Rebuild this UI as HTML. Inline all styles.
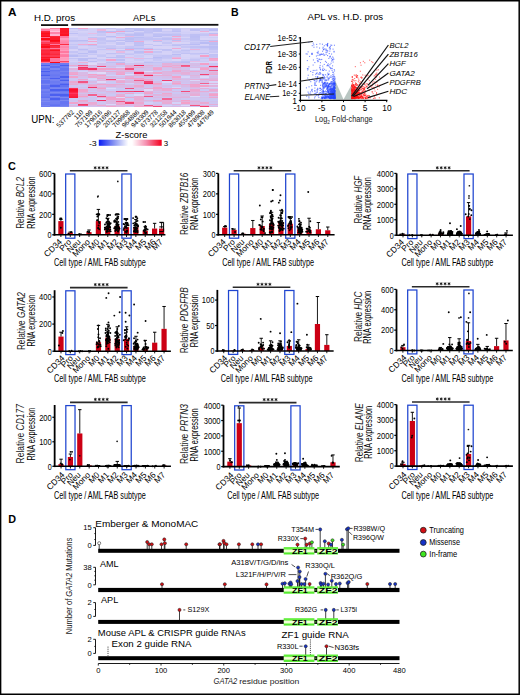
<!DOCTYPE html>
<html><head><meta charset="utf-8"><style>
html,body{margin:0;padding:0;background:#fff;}
svg{display:block;font-family:"Liberation Sans",sans-serif;}
</style></head><body>
<svg width="520" height="695" viewBox="0 0 520 695">
<rect x="0" y="0" width="520" height="695" fill="#fff"/>
<text x="8.10" y="16.30" font-size="11.8" font-weight="bold" fill="#000">A</text>
<text x="231.10" y="15.90" font-size="10.6" font-weight="bold" fill="#000">B</text>
<text x="8.10" y="170.00" font-size="10.9" font-weight="bold" fill="#000">C</text>
<text x="8.30" y="523.00" font-size="10.8" font-weight="bold" fill="#000">D</text>
<g shape-rendering="crispEdges">
<rect x="40.90" y="27.90" width="9.38" height="1.36" fill="#ffbfd4"/>
<rect x="50.23" y="27.90" width="9.38" height="1.36" fill="#ff7da4"/>
<rect x="59.56" y="27.90" width="9.38" height="1.36" fill="#fc1423"/>
<rect x="68.89" y="27.90" width="9.38" height="1.36" fill="#babdf4"/>
<rect x="78.22" y="27.90" width="9.38" height="1.36" fill="#f2a2ca"/>
<rect x="87.55" y="27.90" width="9.38" height="1.36" fill="#d4d1f7"/>
<rect x="96.88" y="27.90" width="9.38" height="1.36" fill="#cdccf6"/>
<rect x="106.21" y="27.90" width="9.38" height="1.36" fill="#c6c6f5"/>
<rect x="115.54" y="27.90" width="9.38" height="1.36" fill="#d5d2f7"/>
<rect x="124.87" y="27.90" width="9.38" height="1.36" fill="#bcbff4"/>
<rect x="134.20" y="27.90" width="9.38" height="1.36" fill="#bec0f4"/>
<rect x="143.53" y="27.90" width="9.38" height="1.36" fill="#c5c5f5"/>
<rect x="152.86" y="27.90" width="9.38" height="1.36" fill="#babdf4"/>
<rect x="162.19" y="27.90" width="9.38" height="1.36" fill="#c7c7f5"/>
<rect x="171.52" y="27.90" width="9.38" height="1.36" fill="#c7c7f5"/>
<rect x="180.85" y="27.90" width="9.38" height="1.36" fill="#d0cef6"/>
<rect x="190.18" y="27.90" width="9.38" height="1.36" fill="#cac9f6"/>
<rect x="199.51" y="27.90" width="9.38" height="1.36" fill="#c2c3f5"/>
<rect x="208.84" y="27.90" width="9.38" height="1.36" fill="#c6c6f5"/>
<rect x="40.90" y="29.21" width="9.38" height="1.36" fill="#ff7ca3"/>
<rect x="50.23" y="29.21" width="9.38" height="1.36" fill="#ffadcb"/>
<rect x="59.56" y="29.21" width="9.38" height="1.36" fill="#fc1929"/>
<rect x="68.89" y="29.21" width="9.38" height="1.36" fill="#d5d2f7"/>
<rect x="78.22" y="29.21" width="9.38" height="1.36" fill="#cccbf6"/>
<rect x="87.55" y="29.21" width="9.38" height="1.36" fill="#d4d1f7"/>
<rect x="96.88" y="29.21" width="9.38" height="1.36" fill="#eab5dd"/>
<rect x="106.21" y="29.21" width="9.38" height="1.36" fill="#d9d5f7"/>
<rect x="115.54" y="29.21" width="9.38" height="1.36" fill="#c5c6f5"/>
<rect x="124.87" y="29.21" width="9.38" height="1.36" fill="#c8c8f5"/>
<rect x="134.20" y="29.21" width="9.38" height="1.36" fill="#babdf4"/>
<rect x="143.53" y="29.21" width="9.38" height="1.36" fill="#c1c2f4"/>
<rect x="152.86" y="29.21" width="9.38" height="1.36" fill="#bbbef4"/>
<rect x="162.19" y="29.21" width="9.38" height="1.36" fill="#d6d2f7"/>
<rect x="171.52" y="29.21" width="9.38" height="1.36" fill="#c2c3f5"/>
<rect x="180.85" y="29.21" width="9.38" height="1.36" fill="#d6d2f7"/>
<rect x="190.18" y="29.21" width="9.38" height="1.36" fill="#bec0f4"/>
<rect x="199.51" y="29.21" width="9.38" height="1.36" fill="#c9c8f5"/>
<rect x="208.84" y="29.21" width="9.38" height="1.36" fill="#b9bcf4"/>
<rect x="40.90" y="30.51" width="9.38" height="1.36" fill="#fc273b"/>
<rect x="50.23" y="30.51" width="9.38" height="1.36" fill="#ffc4dd"/>
<rect x="59.56" y="30.51" width="9.38" height="1.36" fill="#fc1727"/>
<rect x="68.89" y="30.51" width="9.38" height="1.36" fill="#cdccf6"/>
<rect x="78.22" y="30.51" width="9.38" height="1.36" fill="#d6d3f7"/>
<rect x="87.55" y="30.51" width="9.38" height="1.36" fill="#d3d0f7"/>
<rect x="96.88" y="30.51" width="9.38" height="1.36" fill="#bcbef4"/>
<rect x="106.21" y="30.51" width="9.38" height="1.36" fill="#bbbdf4"/>
<rect x="115.54" y="30.51" width="9.38" height="1.36" fill="#f3a0c8"/>
<rect x="124.87" y="30.51" width="9.38" height="1.36" fill="#bcbef4"/>
<rect x="134.20" y="30.51" width="9.38" height="1.36" fill="#d5d2f7"/>
<rect x="143.53" y="30.51" width="9.38" height="1.36" fill="#c1c2f5"/>
<rect x="152.86" y="30.51" width="9.38" height="1.36" fill="#bdbff4"/>
<rect x="162.19" y="30.51" width="9.38" height="1.36" fill="#c8c8f5"/>
<rect x="171.52" y="30.51" width="9.38" height="1.36" fill="#bcbef4"/>
<rect x="180.85" y="30.51" width="9.38" height="1.36" fill="#d4d1f7"/>
<rect x="190.18" y="30.51" width="9.38" height="1.36" fill="#d8d4f7"/>
<rect x="199.51" y="30.51" width="9.38" height="1.36" fill="#ecafd7"/>
<rect x="208.84" y="30.51" width="9.38" height="1.36" fill="#d5d2f7"/>
<rect x="40.90" y="31.82" width="9.38" height="1.36" fill="#fc1c2d"/>
<rect x="50.23" y="31.82" width="9.38" height="1.36" fill="#ff85aa"/>
<rect x="59.56" y="31.82" width="9.38" height="1.36" fill="#fc1929"/>
<rect x="68.89" y="31.82" width="9.38" height="1.36" fill="#d2d0f7"/>
<rect x="78.22" y="31.82" width="9.38" height="1.36" fill="#d3d1f7"/>
<rect x="87.55" y="31.82" width="9.38" height="1.36" fill="#d3d0f7"/>
<rect x="96.88" y="31.82" width="9.38" height="1.36" fill="#c0c1f4"/>
<rect x="106.21" y="31.82" width="9.38" height="1.36" fill="#f0a8d0"/>
<rect x="115.54" y="31.82" width="9.38" height="1.36" fill="#cfcef6"/>
<rect x="124.87" y="31.82" width="9.38" height="1.36" fill="#d7d4f7"/>
<rect x="134.20" y="31.82" width="9.38" height="1.36" fill="#c5c5f5"/>
<rect x="143.53" y="31.82" width="9.38" height="1.36" fill="#bfc1f4"/>
<rect x="152.86" y="31.82" width="9.38" height="1.36" fill="#d6d3f7"/>
<rect x="162.19" y="31.82" width="9.38" height="1.36" fill="#ceccf6"/>
<rect x="171.52" y="31.82" width="9.38" height="1.36" fill="#cecdf6"/>
<rect x="180.85" y="31.82" width="9.38" height="1.36" fill="#d1cff7"/>
<rect x="190.18" y="31.82" width="9.38" height="1.36" fill="#d3d0f7"/>
<rect x="199.51" y="31.82" width="9.38" height="1.36" fill="#d9d5f7"/>
<rect x="208.84" y="31.82" width="9.38" height="1.36" fill="#d8d4f7"/>
<rect x="40.90" y="33.13" width="9.38" height="1.36" fill="#fc0f1c"/>
<rect x="50.23" y="33.13" width="9.38" height="1.36" fill="#ff84a9"/>
<rect x="59.56" y="33.13" width="9.38" height="1.36" fill="#fc1c2d"/>
<rect x="68.89" y="33.13" width="9.38" height="1.36" fill="#bdbff4"/>
<rect x="78.22" y="33.13" width="9.38" height="1.36" fill="#cecdf6"/>
<rect x="87.55" y="33.13" width="9.38" height="1.36" fill="#e6bde5"/>
<rect x="96.88" y="33.13" width="9.38" height="1.36" fill="#cac9f6"/>
<rect x="106.21" y="33.13" width="9.38" height="1.36" fill="#d5d2f7"/>
<rect x="115.54" y="33.13" width="9.38" height="1.36" fill="#c1c2f5"/>
<rect x="124.87" y="33.13" width="9.38" height="1.36" fill="#cccbf6"/>
<rect x="134.20" y="33.13" width="9.38" height="1.36" fill="#bdbff4"/>
<rect x="143.53" y="33.13" width="9.38" height="1.36" fill="#c8c7f5"/>
<rect x="152.86" y="33.13" width="9.38" height="1.36" fill="#c6c6f5"/>
<rect x="162.19" y="33.13" width="9.38" height="1.36" fill="#cac9f6"/>
<rect x="171.52" y="33.13" width="9.38" height="1.36" fill="#c7c7f5"/>
<rect x="180.85" y="33.13" width="9.38" height="1.36" fill="#d3d0f7"/>
<rect x="190.18" y="33.13" width="9.38" height="1.36" fill="#d0cef6"/>
<rect x="199.51" y="33.13" width="9.38" height="1.36" fill="#cac9f6"/>
<rect x="208.84" y="33.13" width="9.38" height="1.36" fill="#bcbef4"/>
<rect x="40.90" y="34.44" width="9.38" height="1.36" fill="#fc1727"/>
<rect x="50.23" y="34.44" width="9.38" height="1.36" fill="#ffb5d2"/>
<rect x="59.56" y="34.44" width="9.38" height="1.36" fill="#fc1322"/>
<rect x="68.89" y="34.44" width="9.38" height="1.36" fill="#d2cff7"/>
<rect x="78.22" y="34.44" width="9.38" height="1.36" fill="#cdcbf6"/>
<rect x="87.55" y="34.44" width="9.38" height="1.36" fill="#cfcef6"/>
<rect x="96.88" y="34.44" width="9.38" height="1.36" fill="#c8c8f5"/>
<rect x="106.21" y="34.44" width="9.38" height="1.36" fill="#d5d2f7"/>
<rect x="115.54" y="34.44" width="9.38" height="1.36" fill="#cbcaf6"/>
<rect x="124.87" y="34.44" width="9.38" height="1.36" fill="#bdbff4"/>
<rect x="134.20" y="34.44" width="9.38" height="1.36" fill="#bbbdf4"/>
<rect x="143.53" y="34.44" width="9.38" height="1.36" fill="#cfcdf6"/>
<rect x="152.86" y="34.44" width="9.38" height="1.36" fill="#bec0f4"/>
<rect x="162.19" y="34.44" width="9.38" height="1.36" fill="#bdbff4"/>
<rect x="171.52" y="34.44" width="9.38" height="1.36" fill="#c0c1f4"/>
<rect x="180.85" y="34.44" width="9.38" height="1.36" fill="#c9c8f5"/>
<rect x="190.18" y="34.44" width="9.38" height="1.36" fill="#bec0f4"/>
<rect x="199.51" y="34.44" width="9.38" height="1.36" fill="#c4c4f5"/>
<rect x="208.84" y="34.44" width="9.38" height="1.36" fill="#ecb0d8"/>
<rect x="40.90" y="35.74" width="9.38" height="1.36" fill="#fc0915"/>
<rect x="50.23" y="35.74" width="9.38" height="1.36" fill="#fc273b"/>
<rect x="59.56" y="35.74" width="9.38" height="1.36" fill="#ff7aa2"/>
<rect x="68.89" y="35.74" width="9.38" height="1.36" fill="#d9d5f7"/>
<rect x="78.22" y="35.74" width="9.38" height="1.36" fill="#d2d0f7"/>
<rect x="87.55" y="35.74" width="9.38" height="1.36" fill="#d7d3f7"/>
<rect x="96.88" y="35.74" width="9.38" height="1.36" fill="#d7d3f7"/>
<rect x="106.21" y="35.74" width="9.38" height="1.36" fill="#babdf4"/>
<rect x="115.54" y="35.74" width="9.38" height="1.36" fill="#d7d4f7"/>
<rect x="124.87" y="35.74" width="9.38" height="1.36" fill="#e7b9e1"/>
<rect x="134.20" y="35.74" width="9.38" height="1.36" fill="#cbcaf6"/>
<rect x="143.53" y="35.74" width="9.38" height="1.36" fill="#cac9f6"/>
<rect x="152.86" y="35.74" width="9.38" height="1.36" fill="#babdf4"/>
<rect x="162.19" y="35.74" width="9.38" height="1.36" fill="#d2cff7"/>
<rect x="171.52" y="35.74" width="9.38" height="1.36" fill="#f0a7cf"/>
<rect x="180.85" y="35.74" width="9.38" height="1.36" fill="#cbcaf6"/>
<rect x="190.18" y="35.74" width="9.38" height="1.36" fill="#bcbef4"/>
<rect x="199.51" y="35.74" width="9.38" height="1.36" fill="#d4d1f7"/>
<rect x="208.84" y="35.74" width="9.38" height="1.36" fill="#d9d5f7"/>
<rect x="40.90" y="37.05" width="9.38" height="1.36" fill="#fe6a8f"/>
<rect x="50.23" y="37.05" width="9.38" height="1.36" fill="#fc1c2d"/>
<rect x="59.56" y="37.05" width="9.38" height="1.36" fill="#ff7aa1"/>
<rect x="68.89" y="37.05" width="9.38" height="1.36" fill="#d1cff6"/>
<rect x="78.22" y="37.05" width="9.38" height="1.36" fill="#d4d1f7"/>
<rect x="87.55" y="37.05" width="9.38" height="1.36" fill="#c0c2f4"/>
<rect x="96.88" y="37.05" width="9.38" height="1.36" fill="#c7c7f5"/>
<rect x="106.21" y="37.05" width="9.38" height="1.36" fill="#cbcaf6"/>
<rect x="115.54" y="37.05" width="9.38" height="1.36" fill="#eeabd3"/>
<rect x="124.87" y="37.05" width="9.38" height="1.36" fill="#bfc1f4"/>
<rect x="134.20" y="37.05" width="9.38" height="1.36" fill="#bbbef4"/>
<rect x="143.53" y="37.05" width="9.38" height="1.36" fill="#c3c3f5"/>
<rect x="152.86" y="37.05" width="9.38" height="1.36" fill="#d1cff7"/>
<rect x="162.19" y="37.05" width="9.38" height="1.36" fill="#c5c6f5"/>
<rect x="171.52" y="37.05" width="9.38" height="1.36" fill="#d0cef6"/>
<rect x="180.85" y="37.05" width="9.38" height="1.36" fill="#d6d3f7"/>
<rect x="190.18" y="37.05" width="9.38" height="1.36" fill="#bdbff4"/>
<rect x="199.51" y="37.05" width="9.38" height="1.36" fill="#d3d0f7"/>
<rect x="208.84" y="37.05" width="9.38" height="1.36" fill="#cfcdf6"/>
<rect x="40.90" y="38.36" width="9.38" height="1.36" fill="#fc0916"/>
<rect x="50.23" y="38.36" width="9.38" height="1.36" fill="#fc1a2a"/>
<rect x="59.56" y="38.36" width="9.38" height="1.36" fill="#ff9cbe"/>
<rect x="68.89" y="38.36" width="9.38" height="1.36" fill="#cdccf6"/>
<rect x="78.22" y="38.36" width="9.38" height="1.36" fill="#d3d0f7"/>
<rect x="87.55" y="38.36" width="9.38" height="1.36" fill="#e9b6de"/>
<rect x="96.88" y="38.36" width="9.38" height="1.36" fill="#c1c2f5"/>
<rect x="106.21" y="38.36" width="9.38" height="1.36" fill="#d9d5f7"/>
<rect x="115.54" y="38.36" width="9.38" height="1.36" fill="#cfcdf6"/>
<rect x="124.87" y="38.36" width="9.38" height="1.36" fill="#bbbef4"/>
<rect x="134.20" y="38.36" width="9.38" height="1.36" fill="#c3c3f5"/>
<rect x="143.53" y="38.36" width="9.38" height="1.36" fill="#c1c2f5"/>
<rect x="152.86" y="38.36" width="9.38" height="1.36" fill="#c2c3f5"/>
<rect x="162.19" y="38.36" width="9.38" height="1.36" fill="#bcbff4"/>
<rect x="171.52" y="38.36" width="9.38" height="1.36" fill="#edadd5"/>
<rect x="180.85" y="38.36" width="9.38" height="1.36" fill="#c7c7f5"/>
<rect x="190.18" y="38.36" width="9.38" height="1.36" fill="#bfc1f4"/>
<rect x="199.51" y="38.36" width="9.38" height="1.36" fill="#d8d4f7"/>
<rect x="208.84" y="38.36" width="9.38" height="1.36" fill="#d6d3f7"/>
<rect x="40.90" y="39.67" width="9.38" height="1.36" fill="#fd3a52"/>
<rect x="50.23" y="39.67" width="9.38" height="1.36" fill="#fc0915"/>
<rect x="59.56" y="39.67" width="9.38" height="1.36" fill="#ff8db1"/>
<rect x="68.89" y="39.67" width="9.38" height="1.36" fill="#bdbff4"/>
<rect x="78.22" y="39.67" width="9.38" height="1.36" fill="#b9bcf4"/>
<rect x="87.55" y="39.67" width="9.38" height="1.36" fill="#d7d4f7"/>
<rect x="96.88" y="39.67" width="9.38" height="1.36" fill="#c5c5f5"/>
<rect x="106.21" y="39.67" width="9.38" height="1.36" fill="#c4c5f5"/>
<rect x="115.54" y="39.67" width="9.38" height="1.36" fill="#bcbef4"/>
<rect x="124.87" y="39.67" width="9.38" height="1.36" fill="#c1c2f4"/>
<rect x="134.20" y="39.67" width="9.38" height="1.36" fill="#c5c5f5"/>
<rect x="143.53" y="39.67" width="9.38" height="1.36" fill="#cdccf6"/>
<rect x="152.86" y="39.67" width="9.38" height="1.36" fill="#e9b5dd"/>
<rect x="162.19" y="39.67" width="9.38" height="1.36" fill="#ceccf6"/>
<rect x="171.52" y="39.67" width="9.38" height="1.36" fill="#bdbff4"/>
<rect x="180.85" y="39.67" width="9.38" height="1.36" fill="#d1cff6"/>
<rect x="190.18" y="39.67" width="9.38" height="1.36" fill="#c2c3f5"/>
<rect x="199.51" y="39.67" width="9.38" height="1.36" fill="#bec0f4"/>
<rect x="208.84" y="39.67" width="9.38" height="1.36" fill="#c0c1f4"/>
<rect x="40.90" y="40.97" width="9.38" height="1.36" fill="#fe5f81"/>
<rect x="50.23" y="40.97" width="9.38" height="1.36" fill="#fc1120"/>
<rect x="59.56" y="40.97" width="9.38" height="1.36" fill="#ff87ac"/>
<rect x="68.89" y="40.97" width="9.38" height="1.36" fill="#c1c2f5"/>
<rect x="78.22" y="40.97" width="9.38" height="1.36" fill="#c6c6f5"/>
<rect x="87.55" y="40.97" width="9.38" height="1.36" fill="#f0a8d0"/>
<rect x="96.88" y="40.97" width="9.38" height="1.36" fill="#c9c9f6"/>
<rect x="106.21" y="40.97" width="9.38" height="1.36" fill="#c1c3f5"/>
<rect x="115.54" y="40.97" width="9.38" height="1.36" fill="#d8d4f7"/>
<rect x="124.87" y="40.97" width="9.38" height="1.36" fill="#babcf4"/>
<rect x="134.20" y="40.97" width="9.38" height="1.36" fill="#eeabd3"/>
<rect x="143.53" y="40.97" width="9.38" height="1.36" fill="#d5d2f7"/>
<rect x="152.86" y="40.97" width="9.38" height="1.36" fill="#bec0f4"/>
<rect x="162.19" y="40.97" width="9.38" height="1.36" fill="#d0cef6"/>
<rect x="171.52" y="40.97" width="9.38" height="1.36" fill="#e9b7df"/>
<rect x="180.85" y="40.97" width="9.38" height="1.36" fill="#ceccf6"/>
<rect x="190.18" y="40.97" width="9.38" height="1.36" fill="#cdccf6"/>
<rect x="199.51" y="40.97" width="9.38" height="1.36" fill="#cac9f6"/>
<rect x="208.84" y="40.97" width="9.38" height="1.36" fill="#efa9d1"/>
<rect x="40.90" y="42.28" width="9.38" height="1.36" fill="#fd3d57"/>
<rect x="50.23" y="42.28" width="9.38" height="1.36" fill="#fd344b"/>
<rect x="59.56" y="42.28" width="9.38" height="1.36" fill="#ff82a8"/>
<rect x="68.89" y="42.28" width="9.38" height="1.36" fill="#d0cef6"/>
<rect x="78.22" y="42.28" width="9.38" height="1.36" fill="#cfcdf6"/>
<rect x="87.55" y="42.28" width="9.38" height="1.36" fill="#d7d4f7"/>
<rect x="96.88" y="42.28" width="9.38" height="1.36" fill="#c6c6f5"/>
<rect x="106.21" y="42.28" width="9.38" height="1.36" fill="#d1cff6"/>
<rect x="115.54" y="42.28" width="9.38" height="1.36" fill="#c3c4f5"/>
<rect x="124.87" y="42.28" width="9.38" height="1.36" fill="#d2cff7"/>
<rect x="134.20" y="42.28" width="9.38" height="1.36" fill="#bfc0f4"/>
<rect x="143.53" y="42.28" width="9.38" height="1.36" fill="#d8d4f7"/>
<rect x="152.86" y="42.28" width="9.38" height="1.36" fill="#d9d5f7"/>
<rect x="162.19" y="42.28" width="9.38" height="1.36" fill="#c5c6f5"/>
<rect x="171.52" y="42.28" width="9.38" height="1.36" fill="#d9d5f7"/>
<rect x="180.85" y="42.28" width="9.38" height="1.36" fill="#d7d4f7"/>
<rect x="190.18" y="42.28" width="9.38" height="1.36" fill="#c5c5f5"/>
<rect x="199.51" y="42.28" width="9.38" height="1.36" fill="#b9bcf4"/>
<rect x="208.84" y="42.28" width="9.38" height="1.36" fill="#bdbff4"/>
<rect x="40.90" y="43.59" width="9.38" height="1.36" fill="#fc1b2c"/>
<rect x="50.23" y="43.59" width="9.38" height="1.36" fill="#ff78a0"/>
<rect x="59.56" y="43.59" width="9.38" height="1.36" fill="#fd2e43"/>
<rect x="68.89" y="43.59" width="9.38" height="1.36" fill="#c5c5f5"/>
<rect x="78.22" y="43.59" width="9.38" height="1.36" fill="#eeacd4"/>
<rect x="87.55" y="43.59" width="9.38" height="1.36" fill="#f3a1c9"/>
<rect x="96.88" y="43.59" width="9.38" height="1.36" fill="#d1cff6"/>
<rect x="106.21" y="43.59" width="9.38" height="1.36" fill="#d8d4f7"/>
<rect x="115.54" y="43.59" width="9.38" height="1.36" fill="#c3c4f5"/>
<rect x="124.87" y="43.59" width="9.38" height="1.36" fill="#d7d3f7"/>
<rect x="134.20" y="43.59" width="9.38" height="1.36" fill="#c0c2f4"/>
<rect x="143.53" y="43.59" width="9.38" height="1.36" fill="#c5c6f5"/>
<rect x="152.86" y="43.59" width="9.38" height="1.36" fill="#d7d4f7"/>
<rect x="162.19" y="43.59" width="9.38" height="1.36" fill="#d4d1f7"/>
<rect x="171.52" y="43.59" width="9.38" height="1.36" fill="#c3c4f5"/>
<rect x="180.85" y="43.59" width="9.38" height="1.36" fill="#bfc1f4"/>
<rect x="190.18" y="43.59" width="9.38" height="1.36" fill="#babcf4"/>
<rect x="199.51" y="43.59" width="9.38" height="1.36" fill="#d6d2f7"/>
<rect x="208.84" y="43.59" width="9.38" height="1.36" fill="#bcbef4"/>
<rect x="40.90" y="44.90" width="9.38" height="1.36" fill="#fc2133"/>
<rect x="50.23" y="44.90" width="9.38" height="1.36" fill="#fc1d2e"/>
<rect x="59.56" y="44.90" width="9.38" height="1.36" fill="#ff95b8"/>
<rect x="68.89" y="44.90" width="9.38" height="1.36" fill="#cecdf6"/>
<rect x="78.22" y="44.90" width="9.38" height="1.36" fill="#cbcaf6"/>
<rect x="87.55" y="44.90" width="9.38" height="1.36" fill="#c1c2f4"/>
<rect x="96.88" y="44.90" width="9.38" height="1.36" fill="#cccbf6"/>
<rect x="106.21" y="44.90" width="9.38" height="1.36" fill="#c9c9f6"/>
<rect x="115.54" y="44.90" width="9.38" height="1.36" fill="#d9d5f7"/>
<rect x="124.87" y="44.90" width="9.38" height="1.36" fill="#d4d1f7"/>
<rect x="134.20" y="44.90" width="9.38" height="1.36" fill="#bcbff4"/>
<rect x="143.53" y="44.90" width="9.38" height="1.36" fill="#d7d4f7"/>
<rect x="152.86" y="44.90" width="9.38" height="1.36" fill="#c1c2f5"/>
<rect x="162.19" y="44.90" width="9.38" height="1.36" fill="#cccbf6"/>
<rect x="171.52" y="44.90" width="9.38" height="1.36" fill="#bdbff4"/>
<rect x="180.85" y="44.90" width="9.38" height="1.36" fill="#ceccf6"/>
<rect x="190.18" y="44.90" width="9.38" height="1.36" fill="#cfcdf6"/>
<rect x="199.51" y="44.90" width="9.38" height="1.36" fill="#d3d0f7"/>
<rect x="208.84" y="44.90" width="9.38" height="1.36" fill="#c6c6f5"/>
<rect x="40.90" y="46.20" width="9.38" height="1.36" fill="#fc0d1a"/>
<rect x="50.23" y="46.20" width="9.38" height="1.36" fill="#fc2b3f"/>
<rect x="59.56" y="46.20" width="9.38" height="1.36" fill="#ff84aa"/>
<rect x="68.89" y="46.20" width="9.38" height="1.36" fill="#c3c4f5"/>
<rect x="78.22" y="46.20" width="9.38" height="1.36" fill="#d5d2f7"/>
<rect x="87.55" y="46.20" width="9.38" height="1.36" fill="#d1cef6"/>
<rect x="96.88" y="46.20" width="9.38" height="1.36" fill="#c6c7f5"/>
<rect x="106.21" y="46.20" width="9.38" height="1.36" fill="#c8c7f5"/>
<rect x="115.54" y="46.20" width="9.38" height="1.36" fill="#ceccf6"/>
<rect x="124.87" y="46.20" width="9.38" height="1.36" fill="#c5c5f5"/>
<rect x="134.20" y="46.20" width="9.38" height="1.36" fill="#cac9f6"/>
<rect x="143.53" y="46.20" width="9.38" height="1.36" fill="#d3d0f7"/>
<rect x="152.86" y="46.20" width="9.38" height="1.36" fill="#d8d4f7"/>
<rect x="162.19" y="46.20" width="9.38" height="1.36" fill="#d7d4f7"/>
<rect x="171.52" y="46.20" width="9.38" height="1.36" fill="#d4d1f7"/>
<rect x="180.85" y="46.20" width="9.38" height="1.36" fill="#c6c6f5"/>
<rect x="190.18" y="46.20" width="9.38" height="1.36" fill="#c0c1f4"/>
<rect x="199.51" y="46.20" width="9.38" height="1.36" fill="#bdbff4"/>
<rect x="208.84" y="46.20" width="9.38" height="1.36" fill="#babdf4"/>
<rect x="40.90" y="47.51" width="9.38" height="1.36" fill="#fd4c6a"/>
<rect x="50.23" y="47.51" width="9.38" height="1.36" fill="#ff78a0"/>
<rect x="59.56" y="47.51" width="9.38" height="1.36" fill="#ff92b5"/>
<rect x="68.89" y="47.51" width="9.38" height="1.36" fill="#c3c3f5"/>
<rect x="78.22" y="47.51" width="9.38" height="1.36" fill="#cecdf6"/>
<rect x="87.55" y="47.51" width="9.38" height="1.36" fill="#cdccf6"/>
<rect x="96.88" y="47.51" width="9.38" height="1.36" fill="#d2d0f7"/>
<rect x="106.21" y="47.51" width="9.38" height="1.36" fill="#bcbef4"/>
<rect x="115.54" y="47.51" width="9.38" height="1.36" fill="#c7c7f5"/>
<rect x="124.87" y="47.51" width="9.38" height="1.36" fill="#bbbef4"/>
<rect x="134.20" y="47.51" width="9.38" height="1.36" fill="#babdf4"/>
<rect x="143.53" y="47.51" width="9.38" height="1.36" fill="#bdbff4"/>
<rect x="152.86" y="47.51" width="9.38" height="1.36" fill="#d3d1f7"/>
<rect x="162.19" y="47.51" width="9.38" height="1.36" fill="#d8d4f7"/>
<rect x="171.52" y="47.51" width="9.38" height="1.36" fill="#efaad2"/>
<rect x="180.85" y="47.51" width="9.38" height="1.36" fill="#d6d3f7"/>
<rect x="190.18" y="47.51" width="9.38" height="1.36" fill="#c9c9f6"/>
<rect x="199.51" y="47.51" width="9.38" height="1.36" fill="#c9c9f6"/>
<rect x="208.84" y="47.51" width="9.38" height="1.36" fill="#bec0f4"/>
<rect x="40.90" y="48.82" width="9.38" height="1.36" fill="#fd3a52"/>
<rect x="50.23" y="48.82" width="9.38" height="1.36" fill="#fd2f45"/>
<rect x="59.56" y="48.82" width="9.38" height="1.36" fill="#ff8fb3"/>
<rect x="68.89" y="48.82" width="9.38" height="1.36" fill="#d5d2f7"/>
<rect x="78.22" y="48.82" width="9.38" height="1.36" fill="#bcbef4"/>
<rect x="87.55" y="48.82" width="9.38" height="1.36" fill="#d3d0f7"/>
<rect x="96.88" y="48.82" width="9.38" height="1.36" fill="#c4c5f5"/>
<rect x="106.21" y="48.82" width="9.38" height="1.36" fill="#e8b8e0"/>
<rect x="115.54" y="48.82" width="9.38" height="1.36" fill="#d9d5f7"/>
<rect x="124.87" y="48.82" width="9.38" height="1.36" fill="#f1a4cc"/>
<rect x="134.20" y="48.82" width="9.38" height="1.36" fill="#c9c9f6"/>
<rect x="143.53" y="48.82" width="9.38" height="1.36" fill="#f3a0c8"/>
<rect x="152.86" y="48.82" width="9.38" height="1.36" fill="#c4c5f5"/>
<rect x="162.19" y="48.82" width="9.38" height="1.36" fill="#bfc1f4"/>
<rect x="171.52" y="48.82" width="9.38" height="1.36" fill="#d7d4f7"/>
<rect x="180.85" y="48.82" width="9.38" height="1.36" fill="#ceccf6"/>
<rect x="190.18" y="48.82" width="9.38" height="1.36" fill="#eab3db"/>
<rect x="199.51" y="48.82" width="9.38" height="1.36" fill="#ceccf6"/>
<rect x="208.84" y="48.82" width="9.38" height="1.36" fill="#c1c2f4"/>
<rect x="40.90" y="50.13" width="9.38" height="1.36" fill="#fc2539"/>
<rect x="50.23" y="50.13" width="9.38" height="1.36" fill="#fc1322"/>
<rect x="59.56" y="50.13" width="9.38" height="1.36" fill="#ff9abc"/>
<rect x="68.89" y="50.13" width="9.38" height="1.36" fill="#d8d4f7"/>
<rect x="78.22" y="50.13" width="9.38" height="1.36" fill="#c9c9f6"/>
<rect x="87.55" y="50.13" width="9.38" height="1.36" fill="#c3c4f5"/>
<rect x="96.88" y="50.13" width="9.38" height="1.36" fill="#d2d0f7"/>
<rect x="106.21" y="50.13" width="9.38" height="1.36" fill="#d1cff6"/>
<rect x="115.54" y="50.13" width="9.38" height="1.36" fill="#c0c1f4"/>
<rect x="124.87" y="50.13" width="9.38" height="1.36" fill="#c4c4f5"/>
<rect x="134.20" y="50.13" width="9.38" height="1.36" fill="#d0cef6"/>
<rect x="143.53" y="50.13" width="9.38" height="1.36" fill="#d3d0f7"/>
<rect x="152.86" y="50.13" width="9.38" height="1.36" fill="#d8d5f7"/>
<rect x="162.19" y="50.13" width="9.38" height="1.36" fill="#c1c2f5"/>
<rect x="171.52" y="50.13" width="9.38" height="1.36" fill="#d1cff6"/>
<rect x="180.85" y="50.13" width="9.38" height="1.36" fill="#c0c2f4"/>
<rect x="190.18" y="50.13" width="9.38" height="1.36" fill="#cecdf6"/>
<rect x="199.51" y="50.13" width="9.38" height="1.36" fill="#d0cef6"/>
<rect x="208.84" y="50.13" width="9.38" height="1.36" fill="#cbcaf6"/>
<rect x="40.90" y="51.43" width="9.38" height="1.36" fill="#fc2a3f"/>
<rect x="50.23" y="51.43" width="9.38" height="1.36" fill="#fd354d"/>
<rect x="59.56" y="51.43" width="9.38" height="1.36" fill="#ff79a0"/>
<rect x="68.89" y="51.43" width="9.38" height="1.36" fill="#c4c4f5"/>
<rect x="78.22" y="51.43" width="9.38" height="1.36" fill="#cfcef6"/>
<rect x="87.55" y="51.43" width="9.38" height="1.36" fill="#bbbdf4"/>
<rect x="96.88" y="51.43" width="9.38" height="1.36" fill="#d4d1f7"/>
<rect x="106.21" y="51.43" width="9.38" height="1.36" fill="#d7d3f7"/>
<rect x="115.54" y="51.43" width="9.38" height="1.36" fill="#e8b9e1"/>
<rect x="124.87" y="51.43" width="9.38" height="1.36" fill="#d4d1f7"/>
<rect x="134.20" y="51.43" width="9.38" height="1.36" fill="#bcbef4"/>
<rect x="143.53" y="51.43" width="9.38" height="1.36" fill="#f0a7cf"/>
<rect x="152.86" y="51.43" width="9.38" height="1.36" fill="#c5c5f5"/>
<rect x="162.19" y="51.43" width="9.38" height="1.36" fill="#d5d2f7"/>
<rect x="171.52" y="51.43" width="9.38" height="1.36" fill="#c7c7f5"/>
<rect x="180.85" y="51.43" width="9.38" height="1.36" fill="#cac9f6"/>
<rect x="190.18" y="51.43" width="9.38" height="1.36" fill="#d4d1f7"/>
<rect x="199.51" y="51.43" width="9.38" height="1.36" fill="#d2cff7"/>
<rect x="208.84" y="51.43" width="9.38" height="1.36" fill="#c9c8f5"/>
<rect x="40.90" y="52.74" width="9.38" height="1.36" fill="#fc2336"/>
<rect x="50.23" y="52.74" width="9.38" height="1.36" fill="#fd3148"/>
<rect x="59.56" y="52.74" width="9.38" height="1.36" fill="#ffa1c1"/>
<rect x="68.89" y="52.74" width="9.38" height="1.36" fill="#d0cef6"/>
<rect x="78.22" y="52.74" width="9.38" height="1.36" fill="#bbbef4"/>
<rect x="87.55" y="52.74" width="9.38" height="1.36" fill="#cdccf6"/>
<rect x="96.88" y="52.74" width="9.38" height="1.36" fill="#d6d3f7"/>
<rect x="106.21" y="52.74" width="9.38" height="1.36" fill="#bfc1f4"/>
<rect x="115.54" y="52.74" width="9.38" height="1.36" fill="#c5c5f5"/>
<rect x="124.87" y="52.74" width="9.38" height="1.36" fill="#cac9f6"/>
<rect x="134.20" y="52.74" width="9.38" height="1.36" fill="#c4c5f5"/>
<rect x="143.53" y="52.74" width="9.38" height="1.36" fill="#cecdf6"/>
<rect x="152.86" y="52.74" width="9.38" height="1.36" fill="#d2d0f7"/>
<rect x="162.19" y="52.74" width="9.38" height="1.36" fill="#d6d3f7"/>
<rect x="171.52" y="52.74" width="9.38" height="1.36" fill="#d0cef6"/>
<rect x="180.85" y="52.74" width="9.38" height="1.36" fill="#c1c2f4"/>
<rect x="190.18" y="52.74" width="9.38" height="1.36" fill="#c3c4f5"/>
<rect x="199.51" y="52.74" width="9.38" height="1.36" fill="#bcbef4"/>
<rect x="208.84" y="52.74" width="9.38" height="1.36" fill="#d9d5f7"/>
<rect x="40.90" y="54.05" width="9.38" height="1.36" fill="#fc2032"/>
<rect x="50.23" y="54.05" width="9.38" height="1.36" fill="#fc283c"/>
<rect x="59.56" y="54.05" width="9.38" height="1.36" fill="#ff81a7"/>
<rect x="68.89" y="54.05" width="9.38" height="1.36" fill="#c6c6f5"/>
<rect x="78.22" y="54.05" width="9.38" height="1.36" fill="#cdccf6"/>
<rect x="87.55" y="54.05" width="9.38" height="1.36" fill="#c6c6f5"/>
<rect x="96.88" y="54.05" width="9.38" height="1.36" fill="#cbcaf6"/>
<rect x="106.21" y="54.05" width="9.38" height="1.36" fill="#d0cef6"/>
<rect x="115.54" y="54.05" width="9.38" height="1.36" fill="#d5d2f7"/>
<rect x="124.87" y="54.05" width="9.38" height="1.36" fill="#c3c4f5"/>
<rect x="134.20" y="54.05" width="9.38" height="1.36" fill="#d2d0f7"/>
<rect x="143.53" y="54.05" width="9.38" height="1.36" fill="#c6c7f5"/>
<rect x="152.86" y="54.05" width="9.38" height="1.36" fill="#cfcdf6"/>
<rect x="162.19" y="54.05" width="9.38" height="1.36" fill="#d2d0f7"/>
<rect x="171.52" y="54.05" width="9.38" height="1.36" fill="#babcf4"/>
<rect x="180.85" y="54.05" width="9.38" height="1.36" fill="#d8d4f7"/>
<rect x="190.18" y="54.05" width="9.38" height="1.36" fill="#cacaf6"/>
<rect x="199.51" y="54.05" width="9.38" height="1.36" fill="#d4d1f7"/>
<rect x="208.84" y="54.05" width="9.38" height="1.36" fill="#bfc1f4"/>
<rect x="40.90" y="55.36" width="9.38" height="1.36" fill="#fd3249"/>
<rect x="50.23" y="55.36" width="9.38" height="1.36" fill="#fd3952"/>
<rect x="59.56" y="55.36" width="9.38" height="1.36" fill="#ff7aa2"/>
<rect x="68.89" y="55.36" width="9.38" height="1.36" fill="#b9bcf4"/>
<rect x="78.22" y="55.36" width="9.38" height="1.36" fill="#c4c5f5"/>
<rect x="87.55" y="55.36" width="9.38" height="1.36" fill="#d8d4f7"/>
<rect x="96.88" y="55.36" width="9.38" height="1.36" fill="#c5c6f5"/>
<rect x="106.21" y="55.36" width="9.38" height="1.36" fill="#d3d1f7"/>
<rect x="115.54" y="55.36" width="9.38" height="1.36" fill="#c0c1f4"/>
<rect x="124.87" y="55.36" width="9.38" height="1.36" fill="#d4d1f7"/>
<rect x="134.20" y="55.36" width="9.38" height="1.36" fill="#cbcaf6"/>
<rect x="143.53" y="55.36" width="9.38" height="1.36" fill="#d5d2f7"/>
<rect x="152.86" y="55.36" width="9.38" height="1.36" fill="#c7c7f5"/>
<rect x="162.19" y="55.36" width="9.38" height="1.36" fill="#c2c3f5"/>
<rect x="171.52" y="55.36" width="9.38" height="1.36" fill="#c7c7f5"/>
<rect x="180.85" y="55.36" width="9.38" height="1.36" fill="#d7d4f7"/>
<rect x="190.18" y="55.36" width="9.38" height="1.36" fill="#d6d3f7"/>
<rect x="199.51" y="55.36" width="9.38" height="1.36" fill="#f3a0c8"/>
<rect x="208.84" y="55.36" width="9.38" height="1.36" fill="#c1c2f5"/>
<rect x="40.90" y="56.66" width="9.38" height="1.36" fill="#fc1524"/>
<rect x="50.23" y="56.66" width="9.38" height="1.36" fill="#fc1929"/>
<rect x="59.56" y="56.66" width="9.38" height="1.36" fill="#ff9fc0"/>
<rect x="68.89" y="56.66" width="9.38" height="1.36" fill="#d6d3f7"/>
<rect x="78.22" y="56.66" width="9.38" height="1.36" fill="#d6d3f7"/>
<rect x="87.55" y="56.66" width="9.38" height="1.36" fill="#cfcef6"/>
<rect x="96.88" y="56.66" width="9.38" height="1.36" fill="#d6d2f7"/>
<rect x="106.21" y="56.66" width="9.38" height="1.36" fill="#bdbff4"/>
<rect x="115.54" y="56.66" width="9.38" height="1.36" fill="#bdbff4"/>
<rect x="124.87" y="56.66" width="9.38" height="1.36" fill="#e8b9e1"/>
<rect x="134.20" y="56.66" width="9.38" height="1.36" fill="#cecdf6"/>
<rect x="143.53" y="56.66" width="9.38" height="1.36" fill="#d8d4f7"/>
<rect x="152.86" y="56.66" width="9.38" height="1.36" fill="#b9bcf4"/>
<rect x="162.19" y="56.66" width="9.38" height="1.36" fill="#c3c4f5"/>
<rect x="171.52" y="56.66" width="9.38" height="1.36" fill="#e9b5dd"/>
<rect x="180.85" y="56.66" width="9.38" height="1.36" fill="#d5d2f7"/>
<rect x="190.18" y="56.66" width="9.38" height="1.36" fill="#d2d0f7"/>
<rect x="199.51" y="56.66" width="9.38" height="1.36" fill="#cbcaf6"/>
<rect x="208.84" y="56.66" width="9.38" height="1.36" fill="#c6c6f5"/>
<rect x="40.90" y="57.97" width="9.38" height="1.36" fill="#fc2437"/>
<rect x="50.23" y="57.97" width="9.38" height="1.36" fill="#ff78a0"/>
<rect x="59.56" y="57.97" width="9.38" height="1.36" fill="#ff9abc"/>
<rect x="68.89" y="57.97" width="9.38" height="1.36" fill="#c2c3f5"/>
<rect x="78.22" y="57.97" width="9.38" height="1.36" fill="#babdf4"/>
<rect x="87.55" y="57.97" width="9.38" height="1.36" fill="#babdf4"/>
<rect x="96.88" y="57.97" width="9.38" height="1.36" fill="#d7d3f7"/>
<rect x="106.21" y="57.97" width="9.38" height="1.36" fill="#d7d3f7"/>
<rect x="115.54" y="57.97" width="9.38" height="1.36" fill="#cfcef6"/>
<rect x="124.87" y="57.97" width="9.38" height="1.36" fill="#cfcdf6"/>
<rect x="134.20" y="57.97" width="9.38" height="1.36" fill="#e9b7df"/>
<rect x="143.53" y="57.97" width="9.38" height="1.36" fill="#c5c5f5"/>
<rect x="152.86" y="57.97" width="9.38" height="1.36" fill="#c1c2f5"/>
<rect x="162.19" y="57.97" width="9.38" height="1.36" fill="#c7c7f5"/>
<rect x="171.52" y="57.97" width="9.38" height="1.36" fill="#f2a3cb"/>
<rect x="180.85" y="57.97" width="9.38" height="1.36" fill="#d7d3f7"/>
<rect x="190.18" y="57.97" width="9.38" height="1.36" fill="#cccbf6"/>
<rect x="199.51" y="57.97" width="9.38" height="1.36" fill="#c6c6f5"/>
<rect x="208.84" y="57.97" width="9.38" height="1.36" fill="#f3a0c8"/>
<rect x="40.90" y="59.28" width="9.38" height="1.36" fill="#fc0e1c"/>
<rect x="50.23" y="59.28" width="9.38" height="1.36" fill="#ff78a0"/>
<rect x="59.56" y="59.28" width="9.38" height="1.36" fill="#ff9ebf"/>
<rect x="68.89" y="59.28" width="9.38" height="1.36" fill="#d0cef6"/>
<rect x="78.22" y="59.28" width="9.38" height="1.36" fill="#babdf4"/>
<rect x="87.55" y="59.28" width="9.38" height="1.36" fill="#d1cef6"/>
<rect x="96.88" y="59.28" width="9.38" height="1.36" fill="#c8c7f5"/>
<rect x="106.21" y="59.28" width="9.38" height="1.36" fill="#f3a0c8"/>
<rect x="115.54" y="59.28" width="9.38" height="1.36" fill="#bbbef4"/>
<rect x="124.87" y="59.28" width="9.38" height="1.36" fill="#d5d2f7"/>
<rect x="134.20" y="59.28" width="9.38" height="1.36" fill="#cbcaf6"/>
<rect x="143.53" y="59.28" width="9.38" height="1.36" fill="#d3d0f7"/>
<rect x="152.86" y="59.28" width="9.38" height="1.36" fill="#c6c6f5"/>
<rect x="162.19" y="59.28" width="9.38" height="1.36" fill="#d2d0f7"/>
<rect x="171.52" y="59.28" width="9.38" height="1.36" fill="#d9d5f7"/>
<rect x="180.85" y="59.28" width="9.38" height="1.36" fill="#cccbf6"/>
<rect x="190.18" y="59.28" width="9.38" height="1.36" fill="#c3c4f5"/>
<rect x="199.51" y="59.28" width="9.38" height="1.36" fill="#cfcdf6"/>
<rect x="208.84" y="59.28" width="9.38" height="1.36" fill="#f0a7cf"/>
<rect x="40.90" y="60.59" width="9.38" height="1.36" fill="#fc283d"/>
<rect x="50.23" y="60.59" width="9.38" height="1.36" fill="#ff78a0"/>
<rect x="59.56" y="60.59" width="9.38" height="1.36" fill="#fd4864"/>
<rect x="68.89" y="60.59" width="9.38" height="1.36" fill="#d5d2f7"/>
<rect x="78.22" y="60.59" width="9.38" height="1.36" fill="#d3d0f7"/>
<rect x="87.55" y="60.59" width="9.38" height="1.36" fill="#bbbef4"/>
<rect x="96.88" y="60.59" width="9.38" height="1.36" fill="#d1cff7"/>
<rect x="106.21" y="60.59" width="9.38" height="1.36" fill="#cfcdf6"/>
<rect x="115.54" y="60.59" width="9.38" height="1.36" fill="#d1cff7"/>
<rect x="124.87" y="60.59" width="9.38" height="1.36" fill="#d3d0f7"/>
<rect x="134.20" y="60.59" width="9.38" height="1.36" fill="#d6d3f7"/>
<rect x="143.53" y="60.59" width="9.38" height="1.36" fill="#cccbf6"/>
<rect x="152.86" y="60.59" width="9.38" height="1.36" fill="#d0cef6"/>
<rect x="162.19" y="60.59" width="9.38" height="1.36" fill="#cac9f6"/>
<rect x="171.52" y="60.59" width="9.38" height="1.36" fill="#c5c5f5"/>
<rect x="180.85" y="60.59" width="9.38" height="1.36" fill="#bec0f4"/>
<rect x="190.18" y="60.59" width="9.38" height="1.36" fill="#e6bde5"/>
<rect x="199.51" y="60.59" width="9.38" height="1.36" fill="#cbcaf6"/>
<rect x="208.84" y="60.59" width="9.38" height="1.36" fill="#d8d4f7"/>
<rect x="40.90" y="61.89" width="9.38" height="1.36" fill="#fe769d"/>
<rect x="50.23" y="61.89" width="9.38" height="1.36" fill="#fc0916"/>
<rect x="59.56" y="61.89" width="9.38" height="1.36" fill="#ff7fa6"/>
<rect x="68.89" y="61.89" width="9.38" height="1.36" fill="#cbcaf6"/>
<rect x="78.22" y="61.89" width="9.38" height="1.36" fill="#ebb1d9"/>
<rect x="87.55" y="61.89" width="9.38" height="1.36" fill="#d8d4f7"/>
<rect x="96.88" y="61.89" width="9.38" height="1.36" fill="#d8d4f7"/>
<rect x="106.21" y="61.89" width="9.38" height="1.36" fill="#bec0f4"/>
<rect x="115.54" y="61.89" width="9.38" height="1.36" fill="#babdf4"/>
<rect x="124.87" y="61.89" width="9.38" height="1.36" fill="#d6d3f7"/>
<rect x="134.20" y="61.89" width="9.38" height="1.36" fill="#d0cef6"/>
<rect x="143.53" y="61.89" width="9.38" height="1.36" fill="#bdbff4"/>
<rect x="152.86" y="61.89" width="9.38" height="1.36" fill="#c2c3f5"/>
<rect x="162.19" y="61.89" width="9.38" height="1.36" fill="#c3c4f5"/>
<rect x="171.52" y="61.89" width="9.38" height="1.36" fill="#bec0f4"/>
<rect x="180.85" y="61.89" width="9.38" height="1.36" fill="#b9bcf4"/>
<rect x="190.18" y="61.89" width="9.38" height="1.36" fill="#d7d4f7"/>
<rect x="199.51" y="61.89" width="9.38" height="1.36" fill="#d6d3f7"/>
<rect x="208.84" y="61.89" width="9.38" height="1.36" fill="#d7d4f7"/>
<rect x="40.90" y="63.20" width="9.38" height="1.35" fill="#7380f2"/>
<rect x="50.23" y="63.20" width="9.38" height="1.35" fill="#6978f2"/>
<rect x="59.56" y="63.20" width="9.38" height="1.35" fill="#6e7cf2"/>
<rect x="68.89" y="63.20" width="9.38" height="1.35" fill="#cdc6f1"/>
<rect x="78.22" y="63.20" width="9.38" height="1.35" fill="#cbc8f4"/>
<rect x="87.55" y="63.20" width="9.38" height="1.35" fill="#dedaf9"/>
<rect x="96.88" y="63.20" width="9.38" height="1.35" fill="#d2c1ed"/>
<rect x="106.21" y="63.20" width="9.38" height="1.35" fill="#cec5f1"/>
<rect x="115.54" y="63.20" width="9.38" height="1.35" fill="#eba8d1"/>
<rect x="124.87" y="63.20" width="9.38" height="1.35" fill="#cec5f1"/>
<rect x="134.20" y="63.20" width="9.38" height="1.35" fill="#d4bfeb"/>
<rect x="143.53" y="63.20" width="9.38" height="1.35" fill="#ccc7f2"/>
<rect x="152.86" y="63.20" width="9.38" height="1.35" fill="#cbc8f4"/>
<rect x="162.19" y="63.20" width="9.38" height="1.35" fill="#e3b0da"/>
<rect x="171.52" y="63.20" width="9.38" height="1.35" fill="#dab9e3"/>
<rect x="180.85" y="63.20" width="9.38" height="1.35" fill="#d1c2ed"/>
<rect x="190.18" y="63.20" width="9.38" height="1.35" fill="#d5bee8"/>
<rect x="199.51" y="63.20" width="9.38" height="1.35" fill="#f3a0c8"/>
<rect x="208.84" y="63.20" width="9.38" height="1.35" fill="#ccc7f3"/>
<rect x="40.90" y="64.50" width="9.38" height="1.35" fill="#4b5ff0"/>
<rect x="50.23" y="64.50" width="9.38" height="1.35" fill="#7683f2"/>
<rect x="59.56" y="64.50" width="9.38" height="1.35" fill="#4b5ff0"/>
<rect x="68.89" y="64.50" width="9.38" height="1.35" fill="#eaa9d2"/>
<rect x="78.22" y="64.50" width="9.38" height="1.35" fill="#f25c8a"/>
<rect x="87.55" y="64.50" width="9.38" height="1.35" fill="#dcb7e1"/>
<rect x="96.88" y="64.50" width="9.38" height="1.35" fill="#d8bbe5"/>
<rect x="106.21" y="64.50" width="9.38" height="1.35" fill="#d0c3ef"/>
<rect x="115.54" y="64.50" width="9.38" height="1.35" fill="#cdc6f2"/>
<rect x="124.87" y="64.50" width="9.38" height="1.35" fill="#e8abd4"/>
<rect x="134.20" y="64.50" width="9.38" height="1.35" fill="#f23263"/>
<rect x="143.53" y="64.50" width="9.38" height="1.35" fill="#e0b3dd"/>
<rect x="152.86" y="64.50" width="9.38" height="1.35" fill="#d2c1ec"/>
<rect x="162.19" y="64.50" width="9.38" height="1.35" fill="#e0b3dd"/>
<rect x="171.52" y="64.50" width="9.38" height="1.35" fill="#eaa9d2"/>
<rect x="180.85" y="64.50" width="9.38" height="1.35" fill="#f25785"/>
<rect x="190.18" y="64.50" width="9.38" height="1.35" fill="#d7bce6"/>
<rect x="199.51" y="64.50" width="9.38" height="1.35" fill="#cbc8f4"/>
<rect x="208.84" y="64.50" width="9.38" height="1.35" fill="#d4bfea"/>
<rect x="40.90" y="65.80" width="9.38" height="1.35" fill="#7a86f2"/>
<rect x="50.23" y="65.80" width="9.38" height="1.35" fill="#5f70f2"/>
<rect x="59.56" y="65.80" width="9.38" height="1.35" fill="#6e7cf2"/>
<rect x="68.89" y="65.80" width="9.38" height="1.35" fill="#d2c1ed"/>
<rect x="78.22" y="65.80" width="9.38" height="1.35" fill="#eba8d1"/>
<rect x="87.55" y="65.80" width="9.38" height="1.35" fill="#cec5f1"/>
<rect x="96.88" y="65.80" width="9.38" height="1.35" fill="#f24a7a"/>
<rect x="106.21" y="65.80" width="9.38" height="1.35" fill="#d9bae5"/>
<rect x="115.54" y="65.80" width="9.38" height="1.35" fill="#ccc7f2"/>
<rect x="124.87" y="65.80" width="9.38" height="1.35" fill="#eaa9d2"/>
<rect x="134.20" y="65.80" width="9.38" height="1.35" fill="#d4bfea"/>
<rect x="143.53" y="65.80" width="9.38" height="1.35" fill="#d6bde8"/>
<rect x="152.86" y="65.80" width="9.38" height="1.35" fill="#cbc8f4"/>
<rect x="162.19" y="65.80" width="9.38" height="1.35" fill="#f1a2ca"/>
<rect x="171.52" y="65.80" width="9.38" height="1.35" fill="#dcb7e2"/>
<rect x="180.85" y="65.80" width="9.38" height="1.35" fill="#f26491"/>
<rect x="190.18" y="65.80" width="9.38" height="1.35" fill="#d0c3ee"/>
<rect x="199.51" y="65.80" width="9.38" height="1.35" fill="#ccc7f3"/>
<rect x="208.84" y="65.80" width="9.38" height="1.35" fill="#f23264"/>
<rect x="40.90" y="67.10" width="9.38" height="1.35" fill="#7582f2"/>
<rect x="50.23" y="67.10" width="9.38" height="1.35" fill="#5f70f2"/>
<rect x="59.56" y="67.10" width="9.38" height="1.35" fill="#717ff2"/>
<rect x="68.89" y="67.10" width="9.38" height="1.35" fill="#dedaf9"/>
<rect x="78.22" y="67.10" width="9.38" height="1.35" fill="#f23465"/>
<rect x="87.55" y="67.10" width="9.38" height="1.35" fill="#dbb8e2"/>
<rect x="96.88" y="67.10" width="9.38" height="1.35" fill="#d5d3f8"/>
<rect x="106.21" y="67.10" width="9.38" height="1.35" fill="#cdc6f2"/>
<rect x="115.54" y="67.10" width="9.38" height="1.35" fill="#d8d5f9"/>
<rect x="124.87" y="67.10" width="9.38" height="1.35" fill="#e7acd6"/>
<rect x="134.20" y="67.10" width="9.38" height="1.35" fill="#eba8d1"/>
<rect x="143.53" y="67.10" width="9.38" height="1.35" fill="#d6bde7"/>
<rect x="152.86" y="67.10" width="9.38" height="1.35" fill="#eba8d1"/>
<rect x="162.19" y="67.10" width="9.38" height="1.35" fill="#d7bce7"/>
<rect x="171.52" y="67.10" width="9.38" height="1.35" fill="#e8abd4"/>
<rect x="180.85" y="67.10" width="9.38" height="1.35" fill="#d1c2ee"/>
<rect x="190.18" y="67.10" width="9.38" height="1.35" fill="#d8bbe5"/>
<rect x="199.51" y="67.10" width="9.38" height="1.35" fill="#e9aad2"/>
<rect x="208.84" y="67.10" width="9.38" height="1.35" fill="#eaa9d2"/>
<rect x="40.90" y="68.40" width="9.38" height="1.35" fill="#6071f2"/>
<rect x="50.23" y="68.40" width="9.38" height="1.35" fill="#7d89f2"/>
<rect x="59.56" y="68.40" width="9.38" height="1.35" fill="#6676f2"/>
<rect x="68.89" y="68.40" width="9.38" height="1.35" fill="#e1b2dc"/>
<rect x="78.22" y="68.40" width="9.38" height="1.35" fill="#f24575"/>
<rect x="87.55" y="68.40" width="9.38" height="1.35" fill="#f23566"/>
<rect x="96.88" y="68.40" width="9.38" height="1.35" fill="#f2a1c9"/>
<rect x="106.21" y="68.40" width="9.38" height="1.35" fill="#f0a3cb"/>
<rect x="115.54" y="68.40" width="9.38" height="1.35" fill="#eaa9d2"/>
<rect x="124.87" y="68.40" width="9.38" height="1.35" fill="#f25180"/>
<rect x="134.20" y="68.40" width="9.38" height="1.35" fill="#d2c1ed"/>
<rect x="143.53" y="68.40" width="9.38" height="1.35" fill="#d2c1ec"/>
<rect x="152.86" y="68.40" width="9.38" height="1.35" fill="#f0a3cc"/>
<rect x="162.19" y="68.40" width="9.38" height="1.35" fill="#d1c2ed"/>
<rect x="171.52" y="68.40" width="9.38" height="1.35" fill="#d8bbe5"/>
<rect x="180.85" y="68.40" width="9.38" height="1.35" fill="#d2c1ec"/>
<rect x="190.18" y="68.40" width="9.38" height="1.35" fill="#d8d5f9"/>
<rect x="199.51" y="68.40" width="9.38" height="1.35" fill="#f1a2ca"/>
<rect x="208.84" y="68.40" width="9.38" height="1.35" fill="#d2c1ed"/>
<rect x="40.90" y="69.70" width="9.38" height="1.35" fill="#707ef2"/>
<rect x="50.23" y="69.70" width="9.38" height="1.35" fill="#6273f2"/>
<rect x="59.56" y="69.70" width="9.38" height="1.35" fill="#6877f2"/>
<rect x="68.89" y="69.70" width="9.38" height="1.35" fill="#d2c1ec"/>
<rect x="78.22" y="69.70" width="9.38" height="1.35" fill="#ccc7f3"/>
<rect x="87.55" y="69.70" width="9.38" height="1.35" fill="#eba8d1"/>
<rect x="96.88" y="69.70" width="9.38" height="1.35" fill="#deb5df"/>
<rect x="106.21" y="69.70" width="9.38" height="1.35" fill="#cfc4ef"/>
<rect x="115.54" y="69.70" width="9.38" height="1.35" fill="#d9bae4"/>
<rect x="124.87" y="69.70" width="9.38" height="1.35" fill="#e0b3dd"/>
<rect x="134.20" y="69.70" width="9.38" height="1.35" fill="#d3c0eb"/>
<rect x="143.53" y="69.70" width="9.38" height="1.35" fill="#d0c3ef"/>
<rect x="152.86" y="69.70" width="9.38" height="1.35" fill="#d6bde8"/>
<rect x="162.19" y="69.70" width="9.38" height="1.35" fill="#cac9f5"/>
<rect x="171.52" y="69.70" width="9.38" height="1.35" fill="#eca7cf"/>
<rect x="180.85" y="69.70" width="9.38" height="1.35" fill="#deb5df"/>
<rect x="190.18" y="69.70" width="9.38" height="1.35" fill="#d2c1ec"/>
<rect x="199.51" y="69.70" width="9.38" height="1.35" fill="#d3c0eb"/>
<rect x="208.84" y="69.70" width="9.38" height="1.35" fill="#f25f8c"/>
<rect x="40.90" y="71.00" width="9.38" height="1.35" fill="#4b5ff0"/>
<rect x="50.23" y="71.00" width="9.38" height="1.35" fill="#6b7af2"/>
<rect x="59.56" y="71.00" width="9.38" height="1.35" fill="#7683f2"/>
<rect x="68.89" y="71.00" width="9.38" height="1.35" fill="#d0c3ee"/>
<rect x="78.22" y="71.00" width="9.38" height="1.35" fill="#d3d2f8"/>
<rect x="87.55" y="71.00" width="9.38" height="1.35" fill="#d5bee9"/>
<rect x="96.88" y="71.00" width="9.38" height="1.35" fill="#e0b3dc"/>
<rect x="106.21" y="71.00" width="9.38" height="1.35" fill="#eaa9d2"/>
<rect x="115.54" y="71.00" width="9.38" height="1.35" fill="#e6add6"/>
<rect x="124.87" y="71.00" width="9.38" height="1.35" fill="#e7acd5"/>
<rect x="134.20" y="71.00" width="9.38" height="1.35" fill="#e9aad4"/>
<rect x="143.53" y="71.00" width="9.38" height="1.35" fill="#dedaf9"/>
<rect x="152.86" y="71.00" width="9.38" height="1.35" fill="#cac9f5"/>
<rect x="162.19" y="71.00" width="9.38" height="1.35" fill="#dfb4de"/>
<rect x="171.52" y="71.00" width="9.38" height="1.35" fill="#f2a1ca"/>
<rect x="180.85" y="71.00" width="9.38" height="1.35" fill="#d8bbe6"/>
<rect x="190.18" y="71.00" width="9.38" height="1.35" fill="#eda6cf"/>
<rect x="199.51" y="71.00" width="9.38" height="1.35" fill="#d6bde8"/>
<rect x="208.84" y="71.00" width="9.38" height="1.35" fill="#d9bae4"/>
<rect x="40.90" y="72.30" width="9.38" height="1.35" fill="#6877f2"/>
<rect x="50.23" y="72.30" width="9.38" height="1.35" fill="#707ef2"/>
<rect x="59.56" y="72.30" width="9.38" height="1.35" fill="#6978f2"/>
<rect x="68.89" y="72.30" width="9.38" height="1.35" fill="#eca7d0"/>
<rect x="78.22" y="72.30" width="9.38" height="1.35" fill="#d9bae5"/>
<rect x="87.55" y="72.30" width="9.38" height="1.35" fill="#d8d5f9"/>
<rect x="96.88" y="72.30" width="9.38" height="1.35" fill="#dfdaf9"/>
<rect x="106.21" y="72.30" width="9.38" height="1.35" fill="#d4bfea"/>
<rect x="115.54" y="72.30" width="9.38" height="1.35" fill="#eba8d1"/>
<rect x="124.87" y="72.30" width="9.38" height="1.35" fill="#cfc4ef"/>
<rect x="134.20" y="72.30" width="9.38" height="1.35" fill="#f22f61"/>
<rect x="143.53" y="72.30" width="9.38" height="1.35" fill="#deb5df"/>
<rect x="152.86" y="72.30" width="9.38" height="1.35" fill="#efa4cc"/>
<rect x="162.19" y="72.30" width="9.38" height="1.35" fill="#ddb6e0"/>
<rect x="171.52" y="72.30" width="9.38" height="1.35" fill="#dcb7e1"/>
<rect x="180.85" y="72.30" width="9.38" height="1.35" fill="#e4afd9"/>
<rect x="190.18" y="72.30" width="9.38" height="1.35" fill="#d5bee9"/>
<rect x="199.51" y="72.30" width="9.38" height="1.35" fill="#d5bee9"/>
<rect x="208.84" y="72.30" width="9.38" height="1.35" fill="#e3b0d9"/>
<rect x="40.90" y="73.60" width="9.38" height="1.35" fill="#6272f2"/>
<rect x="50.23" y="73.60" width="9.38" height="1.35" fill="#6b7af2"/>
<rect x="59.56" y="73.60" width="9.38" height="1.35" fill="#717ff2"/>
<rect x="68.89" y="73.60" width="9.38" height="1.35" fill="#f2a1ca"/>
<rect x="78.22" y="73.60" width="9.38" height="1.35" fill="#d9bae5"/>
<rect x="87.55" y="73.60" width="9.38" height="1.35" fill="#f3a0c8"/>
<rect x="96.88" y="73.60" width="9.38" height="1.35" fill="#dcb7e1"/>
<rect x="106.21" y="73.60" width="9.38" height="1.35" fill="#cec5f0"/>
<rect x="115.54" y="73.60" width="9.38" height="1.35" fill="#f2a1c9"/>
<rect x="124.87" y="73.60" width="9.38" height="1.35" fill="#dedaf9"/>
<rect x="134.20" y="73.60" width="9.38" height="1.35" fill="#e4afd9"/>
<rect x="143.53" y="73.60" width="9.38" height="1.35" fill="#f3a0c8"/>
<rect x="152.86" y="73.60" width="9.38" height="1.35" fill="#d2d1f8"/>
<rect x="162.19" y="73.60" width="9.38" height="1.35" fill="#dcb7e2"/>
<rect x="171.52" y="73.60" width="9.38" height="1.35" fill="#cfc4f0"/>
<rect x="180.85" y="73.60" width="9.38" height="1.35" fill="#e1b2dc"/>
<rect x="190.18" y="73.60" width="9.38" height="1.35" fill="#d5bee9"/>
<rect x="199.51" y="73.60" width="9.38" height="1.35" fill="#f24474"/>
<rect x="208.84" y="73.60" width="9.38" height="1.35" fill="#e9aad3"/>
<rect x="40.90" y="74.90" width="9.38" height="1.35" fill="#4b5ff0"/>
<rect x="50.23" y="74.90" width="9.38" height="1.35" fill="#6878f2"/>
<rect x="59.56" y="74.90" width="9.38" height="1.35" fill="#717ff2"/>
<rect x="68.89" y="74.90" width="9.38" height="1.35" fill="#cfc4ef"/>
<rect x="78.22" y="74.90" width="9.38" height="1.35" fill="#deb5e0"/>
<rect x="87.55" y="74.90" width="9.38" height="1.35" fill="#e2b1db"/>
<rect x="96.88" y="74.90" width="9.38" height="1.35" fill="#f3a0c8"/>
<rect x="106.21" y="74.90" width="9.38" height="1.35" fill="#d0cff8"/>
<rect x="115.54" y="74.90" width="9.38" height="1.35" fill="#cfcef8"/>
<rect x="124.87" y="74.90" width="9.38" height="1.35" fill="#cec5f0"/>
<rect x="134.20" y="74.90" width="9.38" height="1.35" fill="#eaa9d1"/>
<rect x="143.53" y="74.90" width="9.38" height="1.35" fill="#f22d5f"/>
<rect x="152.86" y="74.90" width="9.38" height="1.35" fill="#e8abd4"/>
<rect x="162.19" y="74.90" width="9.38" height="1.35" fill="#e5aed7"/>
<rect x="171.52" y="74.90" width="9.38" height="1.35" fill="#cec5f1"/>
<rect x="180.85" y="74.90" width="9.38" height="1.35" fill="#ccc7f3"/>
<rect x="190.18" y="74.90" width="9.38" height="1.35" fill="#dfb4de"/>
<rect x="199.51" y="74.90" width="9.38" height="1.35" fill="#d9bae5"/>
<rect x="208.84" y="74.90" width="9.38" height="1.35" fill="#cbc8f4"/>
<rect x="40.90" y="76.20" width="9.38" height="1.35" fill="#717ff2"/>
<rect x="50.23" y="76.20" width="9.38" height="1.35" fill="#6d7bf2"/>
<rect x="59.56" y="76.20" width="9.38" height="1.35" fill="#4b5ff0"/>
<rect x="68.89" y="76.20" width="9.38" height="1.35" fill="#f0a3cb"/>
<rect x="78.22" y="76.20" width="9.38" height="1.35" fill="#d3c0eb"/>
<rect x="87.55" y="76.20" width="9.38" height="1.35" fill="#eaa9d2"/>
<rect x="96.88" y="76.20" width="9.38" height="1.35" fill="#e0b3dd"/>
<rect x="106.21" y="76.20" width="9.38" height="1.35" fill="#dbb8e2"/>
<rect x="115.54" y="76.20" width="9.38" height="1.35" fill="#d1c2ee"/>
<rect x="124.87" y="76.20" width="9.38" height="1.35" fill="#e5aed7"/>
<rect x="134.20" y="76.20" width="9.38" height="1.35" fill="#d3c0eb"/>
<rect x="143.53" y="76.20" width="9.38" height="1.35" fill="#dab9e3"/>
<rect x="152.86" y="76.20" width="9.38" height="1.35" fill="#d1c2ee"/>
<rect x="162.19" y="76.20" width="9.38" height="1.35" fill="#d5bee9"/>
<rect x="171.52" y="76.20" width="9.38" height="1.35" fill="#f2a1c9"/>
<rect x="180.85" y="76.20" width="9.38" height="1.35" fill="#d7d5f9"/>
<rect x="190.18" y="76.20" width="9.38" height="1.35" fill="#d6bde8"/>
<rect x="199.51" y="76.20" width="9.38" height="1.35" fill="#ddd9f9"/>
<rect x="208.84" y="76.20" width="9.38" height="1.35" fill="#d5bee9"/>
<rect x="40.90" y="77.50" width="9.38" height="1.35" fill="#6575f2"/>
<rect x="50.23" y="77.50" width="9.38" height="1.35" fill="#4b5ff0"/>
<rect x="59.56" y="77.50" width="9.38" height="1.35" fill="#7481f2"/>
<rect x="68.89" y="77.50" width="9.38" height="1.35" fill="#cec5f1"/>
<rect x="78.22" y="77.50" width="9.38" height="1.35" fill="#ccc7f3"/>
<rect x="87.55" y="77.50" width="9.38" height="1.35" fill="#d5d3f8"/>
<rect x="96.88" y="77.50" width="9.38" height="1.35" fill="#eba8d1"/>
<rect x="106.21" y="77.50" width="9.38" height="1.35" fill="#cec5f1"/>
<rect x="115.54" y="77.50" width="9.38" height="1.35" fill="#e5aed7"/>
<rect x="124.87" y="77.50" width="9.38" height="1.35" fill="#f1a2ca"/>
<rect x="134.20" y="77.50" width="9.38" height="1.35" fill="#f1a2ca"/>
<rect x="143.53" y="77.50" width="9.38" height="1.35" fill="#d0c3ee"/>
<rect x="152.86" y="77.50" width="9.38" height="1.35" fill="#cdc6f2"/>
<rect x="162.19" y="77.50" width="9.38" height="1.35" fill="#d1c2ed"/>
<rect x="171.52" y="77.50" width="9.38" height="1.35" fill="#dfb4de"/>
<rect x="180.85" y="77.50" width="9.38" height="1.35" fill="#d1c2ee"/>
<rect x="190.18" y="77.50" width="9.38" height="1.35" fill="#d0c3ef"/>
<rect x="199.51" y="77.50" width="9.38" height="1.35" fill="#cdc6f2"/>
<rect x="208.84" y="77.50" width="9.38" height="1.35" fill="#ddb6e0"/>
<rect x="40.90" y="78.80" width="9.38" height="1.35" fill="#7784f2"/>
<rect x="50.23" y="78.80" width="9.38" height="1.35" fill="#7481f2"/>
<rect x="59.56" y="78.80" width="9.38" height="1.35" fill="#6878f2"/>
<rect x="68.89" y="78.80" width="9.38" height="1.35" fill="#cbc8f3"/>
<rect x="78.22" y="78.80" width="9.38" height="1.35" fill="#eca7d0"/>
<rect x="87.55" y="78.80" width="9.38" height="1.35" fill="#d8d5f9"/>
<rect x="96.88" y="78.80" width="9.38" height="1.35" fill="#d5bee9"/>
<rect x="106.21" y="78.80" width="9.38" height="1.35" fill="#f23e6f"/>
<rect x="115.54" y="78.80" width="9.38" height="1.35" fill="#dbd7f9"/>
<rect x="124.87" y="78.80" width="9.38" height="1.35" fill="#d2c1ec"/>
<rect x="134.20" y="78.80" width="9.38" height="1.35" fill="#efa4cd"/>
<rect x="143.53" y="78.80" width="9.38" height="1.35" fill="#eda6ce"/>
<rect x="152.86" y="78.80" width="9.38" height="1.35" fill="#cdc6f2"/>
<rect x="162.19" y="78.80" width="9.38" height="1.35" fill="#cac9f5"/>
<rect x="171.52" y="78.80" width="9.38" height="1.35" fill="#e3b0da"/>
<rect x="180.85" y="78.80" width="9.38" height="1.35" fill="#d7bce6"/>
<rect x="190.18" y="78.80" width="9.38" height="1.35" fill="#e4afd8"/>
<rect x="199.51" y="78.80" width="9.38" height="1.35" fill="#eca7d0"/>
<rect x="208.84" y="78.80" width="9.38" height="1.35" fill="#e1b2dc"/>
<rect x="40.90" y="80.10" width="9.38" height="1.35" fill="#6273f2"/>
<rect x="50.23" y="80.10" width="9.38" height="1.35" fill="#7683f2"/>
<rect x="59.56" y="80.10" width="9.38" height="1.35" fill="#4b5ff0"/>
<rect x="68.89" y="80.10" width="9.38" height="1.35" fill="#cec5f1"/>
<rect x="78.22" y="80.10" width="9.38" height="1.35" fill="#d3c0eb"/>
<rect x="87.55" y="80.10" width="9.38" height="1.35" fill="#cac9f5"/>
<rect x="96.88" y="80.10" width="9.38" height="1.35" fill="#e1b2db"/>
<rect x="106.21" y="80.10" width="9.38" height="1.35" fill="#eba8d1"/>
<rect x="115.54" y="80.10" width="9.38" height="1.35" fill="#e5aed7"/>
<rect x="124.87" y="80.10" width="9.38" height="1.35" fill="#d8bbe5"/>
<rect x="134.20" y="80.10" width="9.38" height="1.35" fill="#f25c8a"/>
<rect x="143.53" y="80.10" width="9.38" height="1.35" fill="#e8abd4"/>
<rect x="152.86" y="80.10" width="9.38" height="1.35" fill="#cac9f5"/>
<rect x="162.19" y="80.10" width="9.38" height="1.35" fill="#f23b6b"/>
<rect x="171.52" y="80.10" width="9.38" height="1.35" fill="#ccc7f3"/>
<rect x="180.85" y="80.10" width="9.38" height="1.35" fill="#cfc4ef"/>
<rect x="190.18" y="80.10" width="9.38" height="1.35" fill="#dad7f9"/>
<rect x="199.51" y="80.10" width="9.38" height="1.35" fill="#d7bce7"/>
<rect x="208.84" y="80.10" width="9.38" height="1.35" fill="#eba8d1"/>
<rect x="40.90" y="81.40" width="9.38" height="1.35" fill="#6172f2"/>
<rect x="50.23" y="81.40" width="9.38" height="1.35" fill="#6c7bf2"/>
<rect x="59.56" y="81.40" width="9.38" height="1.35" fill="#7582f2"/>
<rect x="68.89" y="81.40" width="9.38" height="1.35" fill="#eba8d1"/>
<rect x="78.22" y="81.40" width="9.38" height="1.35" fill="#f25583"/>
<rect x="87.55" y="81.40" width="9.38" height="1.35" fill="#d8bbe6"/>
<rect x="96.88" y="81.40" width="9.38" height="1.35" fill="#dcd8f9"/>
<rect x="106.21" y="81.40" width="9.38" height="1.35" fill="#cac9f5"/>
<rect x="115.54" y="81.40" width="9.38" height="1.35" fill="#eaa9d2"/>
<rect x="124.87" y="81.40" width="9.38" height="1.35" fill="#ddb6e0"/>
<rect x="134.20" y="81.40" width="9.38" height="1.35" fill="#e1b2db"/>
<rect x="143.53" y="81.40" width="9.38" height="1.35" fill="#f24171"/>
<rect x="152.86" y="81.40" width="9.38" height="1.35" fill="#d7bce6"/>
<rect x="162.19" y="81.40" width="9.38" height="1.35" fill="#dbd7f9"/>
<rect x="171.52" y="81.40" width="9.38" height="1.35" fill="#e3b0da"/>
<rect x="180.85" y="81.40" width="9.38" height="1.35" fill="#d1c2ee"/>
<rect x="190.18" y="81.40" width="9.38" height="1.35" fill="#d9bae5"/>
<rect x="199.51" y="81.40" width="9.38" height="1.35" fill="#d5bee9"/>
<rect x="208.84" y="81.40" width="9.38" height="1.35" fill="#d8d5f9"/>
<rect x="40.90" y="82.70" width="9.38" height="1.35" fill="#6978f2"/>
<rect x="50.23" y="82.70" width="9.38" height="1.35" fill="#707ef2"/>
<rect x="59.56" y="82.70" width="9.38" height="1.35" fill="#6474f2"/>
<rect x="68.89" y="82.70" width="9.38" height="1.35" fill="#e0b3dd"/>
<rect x="78.22" y="82.70" width="9.38" height="1.35" fill="#e8abd5"/>
<rect x="87.55" y="82.70" width="9.38" height="1.35" fill="#ccc7f2"/>
<rect x="96.88" y="82.70" width="9.38" height="1.35" fill="#d5bee9"/>
<rect x="106.21" y="82.70" width="9.38" height="1.35" fill="#cbc8f4"/>
<rect x="115.54" y="82.70" width="9.38" height="1.35" fill="#cfc4ef"/>
<rect x="124.87" y="82.70" width="9.38" height="1.35" fill="#d3d1f8"/>
<rect x="134.20" y="82.70" width="9.38" height="1.35" fill="#dab9e4"/>
<rect x="143.53" y="82.70" width="9.38" height="1.35" fill="#f22d5f"/>
<rect x="152.86" y="82.70" width="9.38" height="1.35" fill="#f3a0c8"/>
<rect x="162.19" y="82.70" width="9.38" height="1.35" fill="#cbc8f3"/>
<rect x="171.52" y="82.70" width="9.38" height="1.35" fill="#f2a1c9"/>
<rect x="180.85" y="82.70" width="9.38" height="1.35" fill="#ccc7f3"/>
<rect x="190.18" y="82.70" width="9.38" height="1.35" fill="#d8bbe5"/>
<rect x="199.51" y="82.70" width="9.38" height="1.35" fill="#f2618f"/>
<rect x="208.84" y="82.70" width="9.38" height="1.35" fill="#e2b1db"/>
<rect x="40.90" y="84.00" width="9.38" height="1.35" fill="#7c88f2"/>
<rect x="50.23" y="84.00" width="9.38" height="1.35" fill="#6776f2"/>
<rect x="59.56" y="84.00" width="9.38" height="1.35" fill="#4b5ff0"/>
<rect x="68.89" y="84.00" width="9.38" height="1.35" fill="#e8abd4"/>
<rect x="78.22" y="84.00" width="9.38" height="1.35" fill="#d3c0eb"/>
<rect x="87.55" y="84.00" width="9.38" height="1.35" fill="#e1b2db"/>
<rect x="96.88" y="84.00" width="9.38" height="1.35" fill="#f0a3cc"/>
<rect x="106.21" y="84.00" width="9.38" height="1.35" fill="#e9aad4"/>
<rect x="115.54" y="84.00" width="9.38" height="1.35" fill="#e6add6"/>
<rect x="124.87" y="84.00" width="9.38" height="1.35" fill="#cfc4f0"/>
<rect x="134.20" y="84.00" width="9.38" height="1.35" fill="#d4bfea"/>
<rect x="143.53" y="84.00" width="9.38" height="1.35" fill="#ddb6e0"/>
<rect x="152.86" y="84.00" width="9.38" height="1.35" fill="#eba8d1"/>
<rect x="162.19" y="84.00" width="9.38" height="1.35" fill="#cac9f5"/>
<rect x="171.52" y="84.00" width="9.38" height="1.35" fill="#e1b2dc"/>
<rect x="180.85" y="84.00" width="9.38" height="1.35" fill="#e5aed8"/>
<rect x="190.18" y="84.00" width="9.38" height="1.35" fill="#f1a2cb"/>
<rect x="199.51" y="84.00" width="9.38" height="1.35" fill="#d2d1f8"/>
<rect x="208.84" y="84.00" width="9.38" height="1.35" fill="#dad7f9"/>
<rect x="40.90" y="85.30" width="9.38" height="1.35" fill="#6474f2"/>
<rect x="50.23" y="85.30" width="9.38" height="1.35" fill="#4b5ff0"/>
<rect x="59.56" y="85.30" width="9.38" height="1.35" fill="#6071f2"/>
<rect x="68.89" y="85.30" width="9.38" height="1.35" fill="#cfc4f0"/>
<rect x="78.22" y="85.30" width="9.38" height="1.35" fill="#cac9f5"/>
<rect x="87.55" y="85.30" width="9.38" height="1.35" fill="#eca7d0"/>
<rect x="96.88" y="85.30" width="9.38" height="1.35" fill="#d8bbe6"/>
<rect x="106.21" y="85.30" width="9.38" height="1.35" fill="#e3b0da"/>
<rect x="115.54" y="85.30" width="9.38" height="1.35" fill="#d8bbe6"/>
<rect x="124.87" y="85.30" width="9.38" height="1.35" fill="#d8bbe5"/>
<rect x="134.20" y="85.30" width="9.38" height="1.35" fill="#eba8d1"/>
<rect x="143.53" y="85.30" width="9.38" height="1.35" fill="#cec5f1"/>
<rect x="152.86" y="85.30" width="9.38" height="1.35" fill="#d9bae5"/>
<rect x="162.19" y="85.30" width="9.38" height="1.35" fill="#d5bee9"/>
<rect x="171.52" y="85.30" width="9.38" height="1.35" fill="#cbc8f3"/>
<rect x="180.85" y="85.30" width="9.38" height="1.35" fill="#d9bae4"/>
<rect x="190.18" y="85.30" width="9.38" height="1.35" fill="#efa4cd"/>
<rect x="199.51" y="85.30" width="9.38" height="1.35" fill="#f2a1c9"/>
<rect x="208.84" y="85.30" width="9.38" height="1.35" fill="#e1b2dc"/>
<rect x="40.90" y="86.60" width="9.38" height="1.35" fill="#6071f2"/>
<rect x="50.23" y="86.60" width="9.38" height="1.35" fill="#7280f2"/>
<rect x="59.56" y="86.60" width="9.38" height="1.35" fill="#717ff2"/>
<rect x="68.89" y="86.60" width="9.38" height="1.35" fill="#dab9e3"/>
<rect x="78.22" y="86.60" width="9.38" height="1.35" fill="#d3c0eb"/>
<rect x="87.55" y="86.60" width="9.38" height="1.35" fill="#f23768"/>
<rect x="96.88" y="86.60" width="9.38" height="1.35" fill="#e3b0d9"/>
<rect x="106.21" y="86.60" width="9.38" height="1.35" fill="#cbc8f3"/>
<rect x="115.54" y="86.60" width="9.38" height="1.35" fill="#d6bde8"/>
<rect x="124.87" y="86.60" width="9.38" height="1.35" fill="#d8bbe6"/>
<rect x="134.20" y="86.60" width="9.38" height="1.35" fill="#deb5df"/>
<rect x="143.53" y="86.60" width="9.38" height="1.35" fill="#ccc7f2"/>
<rect x="152.86" y="86.60" width="9.38" height="1.35" fill="#eea5ce"/>
<rect x="162.19" y="86.60" width="9.38" height="1.35" fill="#ccc7f3"/>
<rect x="171.52" y="86.60" width="9.38" height="1.35" fill="#d7d4f9"/>
<rect x="180.85" y="86.60" width="9.38" height="1.35" fill="#d1c2ed"/>
<rect x="190.18" y="86.60" width="9.38" height="1.35" fill="#deb5e0"/>
<rect x="199.51" y="86.60" width="9.38" height="1.35" fill="#d7d4f9"/>
<rect x="208.84" y="86.60" width="9.38" height="1.35" fill="#d5d3f8"/>
<rect x="40.90" y="87.90" width="9.38" height="1.35" fill="#6171f2"/>
<rect x="50.23" y="87.90" width="9.38" height="1.35" fill="#7a86f2"/>
<rect x="59.56" y="87.90" width="9.38" height="1.35" fill="#7582f2"/>
<rect x="68.89" y="87.90" width="9.38" height="1.35" fill="#fd2e53"/>
<rect x="78.22" y="87.90" width="9.38" height="1.35" fill="#ccc7f3"/>
<rect x="87.55" y="87.90" width="9.38" height="1.35" fill="#d7bce7"/>
<rect x="96.88" y="87.90" width="9.38" height="1.35" fill="#f1a2ca"/>
<rect x="106.21" y="87.90" width="9.38" height="1.35" fill="#dcd8f9"/>
<rect x="115.54" y="87.90" width="9.38" height="1.35" fill="#cbc8f4"/>
<rect x="124.87" y="87.90" width="9.38" height="1.35" fill="#f24f7e"/>
<rect x="134.20" y="87.90" width="9.38" height="1.35" fill="#d0c3ef"/>
<rect x="143.53" y="87.90" width="9.38" height="1.35" fill="#e5aed8"/>
<rect x="152.86" y="87.90" width="9.38" height="1.35" fill="#eea5ce"/>
<rect x="162.19" y="87.90" width="9.38" height="1.35" fill="#eda6cf"/>
<rect x="171.52" y="87.90" width="9.38" height="1.35" fill="#efa4cc"/>
<rect x="180.85" y="87.90" width="9.38" height="1.35" fill="#cec5f1"/>
<rect x="190.18" y="87.90" width="9.38" height="1.35" fill="#d4bfe9"/>
<rect x="199.51" y="87.90" width="9.38" height="1.35" fill="#e3b0d9"/>
<rect x="208.84" y="87.90" width="9.38" height="1.35" fill="#cdc6f2"/>
<rect x="40.90" y="89.20" width="9.38" height="1.35" fill="#7683f2"/>
<rect x="50.23" y="89.20" width="9.38" height="1.35" fill="#4b5ff0"/>
<rect x="59.56" y="89.20" width="9.38" height="1.35" fill="#4b5ff0"/>
<rect x="68.89" y="89.20" width="9.38" height="1.35" fill="#fa0f2e"/>
<rect x="78.22" y="89.20" width="9.38" height="1.35" fill="#f0a3cc"/>
<rect x="87.55" y="89.20" width="9.38" height="1.35" fill="#d1c2ed"/>
<rect x="96.88" y="89.20" width="9.38" height="1.35" fill="#d9bae5"/>
<rect x="106.21" y="89.20" width="9.38" height="1.35" fill="#cdcdf8"/>
<rect x="115.54" y="89.20" width="9.38" height="1.35" fill="#ccc7f3"/>
<rect x="124.87" y="89.20" width="9.38" height="1.35" fill="#cfc4f0"/>
<rect x="134.20" y="89.20" width="9.38" height="1.35" fill="#d2c1ec"/>
<rect x="143.53" y="89.20" width="9.38" height="1.35" fill="#dedaf9"/>
<rect x="152.86" y="89.20" width="9.38" height="1.35" fill="#ddb6e0"/>
<rect x="162.19" y="89.20" width="9.38" height="1.35" fill="#eaa9d2"/>
<rect x="171.52" y="89.20" width="9.38" height="1.35" fill="#cac9f5"/>
<rect x="180.85" y="89.20" width="9.38" height="1.35" fill="#cdc6f1"/>
<rect x="190.18" y="89.20" width="9.38" height="1.35" fill="#eda6cf"/>
<rect x="199.51" y="89.20" width="9.38" height="1.35" fill="#cac9f5"/>
<rect x="208.84" y="89.20" width="9.38" height="1.35" fill="#eaa9d2"/>
<rect x="40.90" y="90.50" width="9.38" height="1.35" fill="#6b7af2"/>
<rect x="50.23" y="90.50" width="9.38" height="1.35" fill="#6474f2"/>
<rect x="59.56" y="90.50" width="9.38" height="1.35" fill="#6b7af2"/>
<rect x="68.89" y="90.50" width="9.38" height="1.35" fill="#fb1434"/>
<rect x="78.22" y="90.50" width="9.38" height="1.35" fill="#eea5ce"/>
<rect x="87.55" y="90.50" width="9.38" height="1.35" fill="#cac9f5"/>
<rect x="96.88" y="90.50" width="9.38" height="1.35" fill="#d5bee9"/>
<rect x="106.21" y="90.50" width="9.38" height="1.35" fill="#dfb4de"/>
<rect x="115.54" y="90.50" width="9.38" height="1.35" fill="#f24e7d"/>
<rect x="124.87" y="90.50" width="9.38" height="1.35" fill="#f24777"/>
<rect x="134.20" y="90.50" width="9.38" height="1.35" fill="#f23566"/>
<rect x="143.53" y="90.50" width="9.38" height="1.35" fill="#e3b0da"/>
<rect x="152.86" y="90.50" width="9.38" height="1.35" fill="#d2c1ec"/>
<rect x="162.19" y="90.50" width="9.38" height="1.35" fill="#d1c2ed"/>
<rect x="171.52" y="90.50" width="9.38" height="1.35" fill="#dcb7e1"/>
<rect x="180.85" y="90.50" width="9.38" height="1.35" fill="#f24d7c"/>
<rect x="190.18" y="90.50" width="9.38" height="1.35" fill="#e8abd4"/>
<rect x="199.51" y="90.50" width="9.38" height="1.35" fill="#e8abd4"/>
<rect x="208.84" y="90.50" width="9.38" height="1.35" fill="#e1b2db"/>
<rect x="40.90" y="91.80" width="9.38" height="1.35" fill="#6877f2"/>
<rect x="50.23" y="91.80" width="9.38" height="1.35" fill="#7a87f2"/>
<rect x="59.56" y="91.80" width="9.38" height="1.35" fill="#7481f2"/>
<rect x="68.89" y="91.80" width="9.38" height="1.35" fill="#fc2346"/>
<rect x="78.22" y="91.80" width="9.38" height="1.35" fill="#e1b2db"/>
<rect x="87.55" y="91.80" width="9.38" height="1.35" fill="#ddb6e0"/>
<rect x="96.88" y="91.80" width="9.38" height="1.35" fill="#cbc8f4"/>
<rect x="106.21" y="91.80" width="9.38" height="1.35" fill="#d4bfea"/>
<rect x="115.54" y="91.80" width="9.38" height="1.35" fill="#dab9e3"/>
<rect x="124.87" y="91.80" width="9.38" height="1.35" fill="#d1c2ee"/>
<rect x="134.20" y="91.80" width="9.38" height="1.35" fill="#cdcdf8"/>
<rect x="143.53" y="91.80" width="9.38" height="1.35" fill="#eda6cf"/>
<rect x="152.86" y="91.80" width="9.38" height="1.35" fill="#d9bae5"/>
<rect x="162.19" y="91.80" width="9.38" height="1.35" fill="#d3c0eb"/>
<rect x="171.52" y="91.80" width="9.38" height="1.35" fill="#cbc8f4"/>
<rect x="180.85" y="91.80" width="9.38" height="1.35" fill="#d3c0eb"/>
<rect x="190.18" y="91.80" width="9.38" height="1.35" fill="#ddb6e0"/>
<rect x="199.51" y="91.80" width="9.38" height="1.35" fill="#d4bfea"/>
<rect x="208.84" y="91.80" width="9.38" height="1.35" fill="#d0cff8"/>
<rect x="40.90" y="93.10" width="9.38" height="1.35" fill="#717ff2"/>
<rect x="50.23" y="93.10" width="9.38" height="1.35" fill="#6a79f2"/>
<rect x="59.56" y="93.10" width="9.38" height="1.35" fill="#6c7bf2"/>
<rect x="68.89" y="93.10" width="9.38" height="1.35" fill="#fe365d"/>
<rect x="78.22" y="93.10" width="9.38" height="1.35" fill="#d2c1ec"/>
<rect x="87.55" y="93.10" width="9.38" height="1.35" fill="#cac9f5"/>
<rect x="96.88" y="93.10" width="9.38" height="1.35" fill="#d2c1ed"/>
<rect x="106.21" y="93.10" width="9.38" height="1.35" fill="#d0c3ef"/>
<rect x="115.54" y="93.10" width="9.38" height="1.35" fill="#cfc4ef"/>
<rect x="124.87" y="93.10" width="9.38" height="1.35" fill="#eca7cf"/>
<rect x="134.20" y="93.10" width="9.38" height="1.35" fill="#cfc4ef"/>
<rect x="143.53" y="93.10" width="9.38" height="1.35" fill="#f2a1ca"/>
<rect x="152.86" y="93.10" width="9.38" height="1.35" fill="#cbc8f4"/>
<rect x="162.19" y="93.10" width="9.38" height="1.35" fill="#eda6cf"/>
<rect x="171.52" y="93.10" width="9.38" height="1.35" fill="#cdc6f2"/>
<rect x="180.85" y="93.10" width="9.38" height="1.35" fill="#ddb6e0"/>
<rect x="190.18" y="93.10" width="9.38" height="1.35" fill="#e2b1db"/>
<rect x="199.51" y="93.10" width="9.38" height="1.35" fill="#d0c3ef"/>
<rect x="208.84" y="93.10" width="9.38" height="1.35" fill="#e7acd5"/>
<rect x="40.90" y="94.40" width="9.38" height="1.35" fill="#6b7af2"/>
<rect x="50.23" y="94.40" width="9.38" height="1.35" fill="#4b5ff0"/>
<rect x="59.56" y="94.40" width="9.38" height="1.35" fill="#4b5ff0"/>
<rect x="68.89" y="94.40" width="9.38" height="1.35" fill="#fc2245"/>
<rect x="78.22" y="94.40" width="9.38" height="1.35" fill="#e0b3dd"/>
<rect x="87.55" y="94.40" width="9.38" height="1.35" fill="#f2628f"/>
<rect x="96.88" y="94.40" width="9.38" height="1.35" fill="#deb5df"/>
<rect x="106.21" y="94.40" width="9.38" height="1.35" fill="#cbc8f4"/>
<rect x="115.54" y="94.40" width="9.38" height="1.35" fill="#e6add7"/>
<rect x="124.87" y="94.40" width="9.38" height="1.35" fill="#cfcff8"/>
<rect x="134.20" y="94.40" width="9.38" height="1.35" fill="#ddd9f9"/>
<rect x="143.53" y="94.40" width="9.38" height="1.35" fill="#d8bbe6"/>
<rect x="152.86" y="94.40" width="9.38" height="1.35" fill="#dfb4de"/>
<rect x="162.19" y="94.40" width="9.38" height="1.35" fill="#e2b1da"/>
<rect x="171.52" y="94.40" width="9.38" height="1.35" fill="#d4bfea"/>
<rect x="180.85" y="94.40" width="9.38" height="1.35" fill="#d1c2ed"/>
<rect x="190.18" y="94.40" width="9.38" height="1.35" fill="#e7acd5"/>
<rect x="199.51" y="94.40" width="9.38" height="1.35" fill="#d3c0eb"/>
<rect x="208.84" y="94.40" width="9.38" height="1.35" fill="#f2a1c9"/>
<rect x="40.90" y="95.70" width="9.38" height="1.35" fill="#6777f2"/>
<rect x="50.23" y="95.70" width="9.38" height="1.35" fill="#7d88f2"/>
<rect x="59.56" y="95.70" width="9.38" height="1.35" fill="#5f70f2"/>
<rect x="68.89" y="95.70" width="9.38" height="1.35" fill="#fb1c3d"/>
<rect x="78.22" y="95.70" width="9.38" height="1.35" fill="#f3a0c8"/>
<rect x="87.55" y="95.70" width="9.38" height="1.35" fill="#cdcdf8"/>
<rect x="96.88" y="95.70" width="9.38" height="1.35" fill="#f24979"/>
<rect x="106.21" y="95.70" width="9.38" height="1.35" fill="#deb5df"/>
<rect x="115.54" y="95.70" width="9.38" height="1.35" fill="#f0a3cb"/>
<rect x="124.87" y="95.70" width="9.38" height="1.35" fill="#cdc6f1"/>
<rect x="134.20" y="95.70" width="9.38" height="1.35" fill="#e6add6"/>
<rect x="143.53" y="95.70" width="9.38" height="1.35" fill="#f25987"/>
<rect x="152.86" y="95.70" width="9.38" height="1.35" fill="#d1c2ee"/>
<rect x="162.19" y="95.70" width="9.38" height="1.35" fill="#dbb8e2"/>
<rect x="171.52" y="95.70" width="9.38" height="1.35" fill="#d5bee9"/>
<rect x="180.85" y="95.70" width="9.38" height="1.35" fill="#d9bae4"/>
<rect x="190.18" y="95.70" width="9.38" height="1.35" fill="#dbd8f9"/>
<rect x="199.51" y="95.70" width="9.38" height="1.35" fill="#cbc8f4"/>
<rect x="208.84" y="95.70" width="9.38" height="1.35" fill="#d7bce7"/>
<rect x="40.90" y="97.00" width="9.38" height="1.35" fill="#6071f2"/>
<rect x="50.23" y="97.00" width="9.38" height="1.35" fill="#6c7af2"/>
<rect x="59.56" y="97.00" width="9.38" height="1.35" fill="#7d88f2"/>
<rect x="68.89" y="97.00" width="9.38" height="1.35" fill="#fb1737"/>
<rect x="78.22" y="97.00" width="9.38" height="1.35" fill="#d8bbe5"/>
<rect x="87.55" y="97.00" width="9.38" height="1.35" fill="#cfc4ef"/>
<rect x="96.88" y="97.00" width="9.38" height="1.35" fill="#e2b1db"/>
<rect x="106.21" y="97.00" width="9.38" height="1.35" fill="#f3a0c8"/>
<rect x="115.54" y="97.00" width="9.38" height="1.35" fill="#ded9f9"/>
<rect x="124.87" y="97.00" width="9.38" height="1.35" fill="#eda6cf"/>
<rect x="134.20" y="97.00" width="9.38" height="1.35" fill="#e7acd5"/>
<rect x="143.53" y="97.00" width="9.38" height="1.35" fill="#d2c1ec"/>
<rect x="152.86" y="97.00" width="9.38" height="1.35" fill="#dbb8e3"/>
<rect x="162.19" y="97.00" width="9.38" height="1.35" fill="#cec5f1"/>
<rect x="171.52" y="97.00" width="9.38" height="1.35" fill="#e0b3dd"/>
<rect x="180.85" y="97.00" width="9.38" height="1.35" fill="#dfb4de"/>
<rect x="190.18" y="97.00" width="9.38" height="1.35" fill="#cfc4ef"/>
<rect x="199.51" y="97.00" width="9.38" height="1.35" fill="#d5bee9"/>
<rect x="208.84" y="97.00" width="9.38" height="1.35" fill="#eca7cf"/>
<rect x="40.90" y="98.30" width="9.38" height="1.35" fill="#7a86f2"/>
<rect x="50.23" y="98.30" width="9.38" height="1.35" fill="#4b5ff0"/>
<rect x="59.56" y="98.30" width="9.38" height="1.35" fill="#6272f2"/>
<rect x="68.89" y="98.30" width="9.38" height="1.35" fill="#cac9f5"/>
<rect x="78.22" y="98.30" width="9.38" height="1.35" fill="#cdc6f1"/>
<rect x="87.55" y="98.30" width="9.38" height="1.35" fill="#ccc7f3"/>
<rect x="96.88" y="98.30" width="9.38" height="1.35" fill="#d3d2f8"/>
<rect x="106.21" y="98.30" width="9.38" height="1.35" fill="#efa4cc"/>
<rect x="115.54" y="98.30" width="9.38" height="1.35" fill="#eda6ce"/>
<rect x="124.87" y="98.30" width="9.38" height="1.35" fill="#cac9f5"/>
<rect x="134.20" y="98.30" width="9.38" height="1.35" fill="#e9aad3"/>
<rect x="143.53" y="98.30" width="9.38" height="1.35" fill="#cac9f5"/>
<rect x="152.86" y="98.30" width="9.38" height="1.35" fill="#d0c3ee"/>
<rect x="162.19" y="98.30" width="9.38" height="1.35" fill="#f26593"/>
<rect x="171.52" y="98.30" width="9.38" height="1.35" fill="#d3c0eb"/>
<rect x="180.85" y="98.30" width="9.38" height="1.35" fill="#ccc7f2"/>
<rect x="190.18" y="98.30" width="9.38" height="1.35" fill="#cdc6f2"/>
<rect x="199.51" y="98.30" width="9.38" height="1.35" fill="#cec5f0"/>
<rect x="208.84" y="98.30" width="9.38" height="1.35" fill="#cdc6f1"/>
<rect x="40.90" y="99.60" width="9.38" height="1.35" fill="#6f7df2"/>
<rect x="50.23" y="99.60" width="9.38" height="1.35" fill="#6a79f2"/>
<rect x="59.56" y="99.60" width="9.38" height="1.35" fill="#7c88f2"/>
<rect x="68.89" y="99.60" width="9.38" height="1.35" fill="#d0c3ef"/>
<rect x="78.22" y="99.60" width="9.38" height="1.35" fill="#eda6ce"/>
<rect x="87.55" y="99.60" width="9.38" height="1.35" fill="#d2c1ec"/>
<rect x="96.88" y="99.60" width="9.38" height="1.35" fill="#f22f61"/>
<rect x="106.21" y="99.60" width="9.38" height="1.35" fill="#dcb7e2"/>
<rect x="115.54" y="99.60" width="9.38" height="1.35" fill="#deb5df"/>
<rect x="124.87" y="99.60" width="9.38" height="1.35" fill="#cac9f5"/>
<rect x="134.20" y="99.60" width="9.38" height="1.35" fill="#e2b1da"/>
<rect x="143.53" y="99.60" width="9.38" height="1.35" fill="#ddb6e0"/>
<rect x="152.86" y="99.60" width="9.38" height="1.35" fill="#f3a0c9"/>
<rect x="162.19" y="99.60" width="9.38" height="1.35" fill="#e5aed7"/>
<rect x="171.52" y="99.60" width="9.38" height="1.35" fill="#d4bfeb"/>
<rect x="180.85" y="99.60" width="9.38" height="1.35" fill="#f2a1c9"/>
<rect x="190.18" y="99.60" width="9.38" height="1.35" fill="#d6bde8"/>
<rect x="199.51" y="99.60" width="9.38" height="1.35" fill="#cdc6f1"/>
<rect x="208.84" y="99.60" width="9.38" height="1.35" fill="#cac9f5"/>
<rect x="40.90" y="100.90" width="9.38" height="1.35" fill="#7c88f2"/>
<rect x="50.23" y="100.90" width="9.38" height="1.35" fill="#7280f2"/>
<rect x="59.56" y="100.90" width="9.38" height="1.35" fill="#6676f2"/>
<rect x="68.89" y="100.90" width="9.38" height="1.35" fill="#ccc7f2"/>
<rect x="78.22" y="100.90" width="9.38" height="1.35" fill="#e8abd4"/>
<rect x="87.55" y="100.90" width="9.38" height="1.35" fill="#cac9f4"/>
<rect x="96.88" y="100.90" width="9.38" height="1.35" fill="#d4bfea"/>
<rect x="106.21" y="100.90" width="9.38" height="1.35" fill="#ddb6e0"/>
<rect x="115.54" y="100.90" width="9.38" height="1.35" fill="#f25786"/>
<rect x="124.87" y="100.90" width="9.38" height="1.35" fill="#eca7d0"/>
<rect x="134.20" y="100.90" width="9.38" height="1.35" fill="#dfb4de"/>
<rect x="143.53" y="100.90" width="9.38" height="1.35" fill="#d0c3ee"/>
<rect x="152.86" y="100.90" width="9.38" height="1.35" fill="#e6add6"/>
<rect x="162.19" y="100.90" width="9.38" height="1.35" fill="#e5aed7"/>
<rect x="171.52" y="100.90" width="9.38" height="1.35" fill="#dcb7e1"/>
<rect x="180.85" y="100.90" width="9.38" height="1.35" fill="#e3b0d9"/>
<rect x="190.18" y="100.90" width="9.38" height="1.35" fill="#e1b2dc"/>
<rect x="199.51" y="100.90" width="9.38" height="1.35" fill="#d0c3ee"/>
<rect x="208.84" y="100.90" width="9.38" height="1.35" fill="#d1c2ed"/>
<rect x="40.90" y="102.20" width="9.38" height="1.35" fill="#6e7cf2"/>
<rect x="50.23" y="102.20" width="9.38" height="1.35" fill="#6f7df2"/>
<rect x="59.56" y="102.20" width="9.38" height="1.35" fill="#6675f2"/>
<rect x="68.89" y="102.20" width="9.38" height="1.35" fill="#f0a3cc"/>
<rect x="78.22" y="102.20" width="9.38" height="1.35" fill="#dcb7e1"/>
<rect x="87.55" y="102.20" width="9.38" height="1.35" fill="#eaa9d2"/>
<rect x="96.88" y="102.20" width="9.38" height="1.35" fill="#cec5f0"/>
<rect x="106.21" y="102.20" width="9.38" height="1.35" fill="#d9bae4"/>
<rect x="115.54" y="102.20" width="9.38" height="1.35" fill="#eba8d1"/>
<rect x="124.87" y="102.20" width="9.38" height="1.35" fill="#f24273"/>
<rect x="134.20" y="102.20" width="9.38" height="1.35" fill="#eba8d1"/>
<rect x="143.53" y="102.20" width="9.38" height="1.35" fill="#d2d0f8"/>
<rect x="152.86" y="102.20" width="9.38" height="1.35" fill="#ccc7f3"/>
<rect x="162.19" y="102.20" width="9.38" height="1.35" fill="#e9aad3"/>
<rect x="171.52" y="102.20" width="9.38" height="1.35" fill="#d4d2f8"/>
<rect x="180.85" y="102.20" width="9.38" height="1.35" fill="#f3a0c8"/>
<rect x="190.18" y="102.20" width="9.38" height="1.35" fill="#d9bae5"/>
<rect x="199.51" y="102.20" width="9.38" height="1.35" fill="#e9aad3"/>
<rect x="208.84" y="102.20" width="9.38" height="1.35" fill="#cdc6f1"/>
<rect x="40.90" y="103.50" width="9.38" height="1.35" fill="#6a79f2"/>
<rect x="50.23" y="103.50" width="9.38" height="1.35" fill="#6676f2"/>
<rect x="59.56" y="103.50" width="9.38" height="1.35" fill="#6978f2"/>
<rect x="68.89" y="103.50" width="9.38" height="1.35" fill="#cac9f5"/>
<rect x="78.22" y="103.50" width="9.38" height="1.35" fill="#f23768"/>
<rect x="87.55" y="103.50" width="9.38" height="1.35" fill="#e5aed7"/>
<rect x="96.88" y="103.50" width="9.38" height="1.35" fill="#d4bfea"/>
<rect x="106.21" y="103.50" width="9.38" height="1.35" fill="#d9d6f9"/>
<rect x="115.54" y="103.50" width="9.38" height="1.35" fill="#eca7cf"/>
<rect x="124.87" y="103.50" width="9.38" height="1.35" fill="#d8bbe6"/>
<rect x="134.20" y="103.50" width="9.38" height="1.35" fill="#e1b2dc"/>
<rect x="143.53" y="103.50" width="9.38" height="1.35" fill="#cac9f5"/>
<rect x="152.86" y="103.50" width="9.38" height="1.35" fill="#d6bde8"/>
<rect x="162.19" y="103.50" width="9.38" height="1.35" fill="#d3c0eb"/>
<rect x="171.52" y="103.50" width="9.38" height="1.35" fill="#e2b1db"/>
<rect x="180.85" y="103.50" width="9.38" height="1.35" fill="#d5bee9"/>
<rect x="190.18" y="103.50" width="9.38" height="1.35" fill="#dfb4de"/>
<rect x="199.51" y="103.50" width="9.38" height="1.35" fill="#cfc4f0"/>
<rect x="208.84" y="103.50" width="9.38" height="1.35" fill="#e5aed7"/>
<rect x="40.90" y="104.80" width="9.38" height="1.35" fill="#7481f2"/>
<rect x="50.23" y="104.80" width="9.38" height="1.35" fill="#6171f2"/>
<rect x="59.56" y="104.80" width="9.38" height="1.35" fill="#6b7af2"/>
<rect x="68.89" y="104.80" width="9.38" height="1.35" fill="#dbb8e2"/>
<rect x="78.22" y="104.80" width="9.38" height="1.35" fill="#f24f7e"/>
<rect x="87.55" y="104.80" width="9.38" height="1.35" fill="#dab9e4"/>
<rect x="96.88" y="104.80" width="9.38" height="1.35" fill="#eba8d1"/>
<rect x="106.21" y="104.80" width="9.38" height="1.35" fill="#dab9e3"/>
<rect x="115.54" y="104.80" width="9.38" height="1.35" fill="#d9bae5"/>
<rect x="124.87" y="104.80" width="9.38" height="1.35" fill="#dcb7e2"/>
<rect x="134.20" y="104.80" width="9.38" height="1.35" fill="#e3b0da"/>
<rect x="143.53" y="104.80" width="9.38" height="1.35" fill="#f25482"/>
<rect x="152.86" y="104.80" width="9.38" height="1.35" fill="#deb5e0"/>
<rect x="162.19" y="104.80" width="9.38" height="1.35" fill="#d1d0f8"/>
<rect x="171.52" y="104.80" width="9.38" height="1.35" fill="#cbc8f4"/>
<rect x="180.85" y="104.80" width="9.38" height="1.35" fill="#dcd8f9"/>
<rect x="190.18" y="104.80" width="9.38" height="1.35" fill="#f25482"/>
<rect x="199.51" y="104.80" width="9.38" height="1.35" fill="#e5aed7"/>
<rect x="208.84" y="104.80" width="9.38" height="1.35" fill="#cbc8f4"/>
<rect x="40.90" y="106.10" width="9.38" height="1.35" fill="#6c7bf2"/>
<rect x="50.23" y="106.10" width="9.38" height="1.35" fill="#7e8af2"/>
<rect x="59.56" y="106.10" width="9.38" height="1.35" fill="#7a87f2"/>
<rect x="68.89" y="106.10" width="9.38" height="1.35" fill="#d4bfea"/>
<rect x="78.22" y="106.10" width="9.38" height="1.35" fill="#cac9f5"/>
<rect x="87.55" y="106.10" width="9.38" height="1.35" fill="#d2c1ec"/>
<rect x="96.88" y="106.10" width="9.38" height="1.35" fill="#d3c0eb"/>
<rect x="106.21" y="106.10" width="9.38" height="1.35" fill="#eca7cf"/>
<rect x="115.54" y="106.10" width="9.38" height="1.35" fill="#dcb7e2"/>
<rect x="124.87" y="106.10" width="9.38" height="1.35" fill="#cbc8f4"/>
<rect x="134.20" y="106.10" width="9.38" height="1.35" fill="#eda6cf"/>
<rect x="143.53" y="106.10" width="9.38" height="1.35" fill="#eca7d0"/>
<rect x="152.86" y="106.10" width="9.38" height="1.35" fill="#f24b7b"/>
<rect x="162.19" y="106.10" width="9.38" height="1.35" fill="#d6bde8"/>
<rect x="171.52" y="106.10" width="9.38" height="1.35" fill="#dbb8e3"/>
<rect x="180.85" y="106.10" width="9.38" height="1.35" fill="#d5bee8"/>
<rect x="190.18" y="106.10" width="9.38" height="1.35" fill="#cfc4ef"/>
<rect x="199.51" y="106.10" width="9.38" height="1.35" fill="#f23f6f"/>
<rect x="208.84" y="106.10" width="9.38" height="1.35" fill="#ddb6e1"/>
</g>
<rect x="41.00" y="24.20" width="27.10" height="1.80" fill="#111"/>
<rect x="71.30" y="23.90" width="147.10" height="1.80" fill="#111"/>
<text x="33.90" y="20.50" font-size="9.6" textLength="41.2" lengthAdjust="spacingAndGlyphs">H.D. pros</text>
<text x="133.10" y="20.70" font-size="9.6" textLength="22.3" lengthAdjust="spacingAndGlyphs">APLs</text>
<text x="31.30" y="123.10" font-size="10.4" textLength="23.2" lengthAdjust="spacingAndGlyphs">UPN:</text>
<text transform="translate(74.46,112.60) rotate(-45)" font-size="6.5" text-anchor="end">537782</text>
<text transform="translate(83.78,112.60) rotate(-45)" font-size="6.5" text-anchor="end">110</text>
<text transform="translate(93.12,112.60) rotate(-45)" font-size="6.5" text-anchor="end">757199</text>
<text transform="translate(102.45,112.60) rotate(-45)" font-size="6.5" text-anchor="end">179016</text>
<text transform="translate(111.78,112.60) rotate(-45)" font-size="6.5" text-anchor="end">291696</text>
<text transform="translate(121.11,112.60) rotate(-45)" font-size="6.5" text-anchor="end">202127</text>
<text transform="translate(130.44,112.60) rotate(-45)" font-size="6.5" text-anchor="end">709968</text>
<text transform="translate(139.77,112.60) rotate(-45)" font-size="6.5" text-anchor="end">964886</text>
<text transform="translate(149.09,112.60) rotate(-45)" font-size="6.5" text-anchor="end">943309</text>
<text transform="translate(158.43,112.60) rotate(-45)" font-size="6.5" text-anchor="end">673778</text>
<text transform="translate(167.75,112.60) rotate(-45)" font-size="6.5" text-anchor="end">321258</text>
<text transform="translate(177.09,112.60) rotate(-45)" font-size="6.5" text-anchor="end">501944</text>
<text transform="translate(186.42,112.60) rotate(-45)" font-size="6.5" text-anchor="end">863018</text>
<text transform="translate(195.75,112.60) rotate(-45)" font-size="6.5" text-anchor="end">455499</text>
<text transform="translate(205.08,112.60) rotate(-45)" font-size="6.5" text-anchor="end">478908</text>
<text transform="translate(214.41,112.60) rotate(-45)" font-size="6.5" text-anchor="end">447649</text>
<text x="115.60" y="137.50" font-size="9.6" textLength="31.8" lengthAdjust="spacingAndGlyphs">Z-score</text>
<defs><linearGradient id="zg" x1="0" x2="1" y1="0" y2="0"><stop offset="0" stop-color="#0a1ef5"/><stop offset="0.25" stop-color="#8c98f2"/><stop offset="0.47" stop-color="#ffffff"/><stop offset="0.53" stop-color="#ffffff"/><stop offset="0.75" stop-color="#f590b0"/><stop offset="1" stop-color="#f5001e"/></linearGradient></defs>
<rect x="98.80" y="139.70" width="62.90" height="6.10" fill="url(#zg)"/>
<text x="88.90" y="145.80" font-size="7.9" textLength="7.9" lengthAdjust="spacingAndGlyphs">-3</text>
<text x="163.80" y="145.80" font-size="7.9">3</text>
<text x="307.50" y="20.00" font-size="9.0" textLength="75.6" lengthAdjust="spacingAndGlyphs">APL vs. H.D. pros</text>
<polygon points="335,80 335,99.6 343.5,99.6" fill="#b9c6c2"/>
<polygon points="352,84 352,99.6 343.5,99.6" fill="#b9c6c2"/>
<g fill="#2646ff">
<rect x="329.2" y="89" width="5.8" height="9.6" fill="#1e3cff" opacity="0.75"/>
<rect x="320.4" y="79.7" width="1.1" height="1.1" opacity="0.6"/>
<rect x="328.7" y="53.0" width="1.1" height="1.1" opacity="0.6"/>
<rect x="328.3" y="57.9" width="1.1" height="1.1" opacity="0.6"/>
<rect x="312.6" y="64.5" width="1.1" height="1.1" opacity="0.6"/>
<rect x="323.8" y="45.2" width="1.1" height="1.1" opacity="0.6"/>
<rect x="324.1" y="48.4" width="1.1" height="1.1" opacity="0.6"/>
<rect x="333.3" y="73.5" width="1.1" height="1.1" opacity="0.6"/>
<rect x="318.1" y="95.2" width="1.1" height="1.1" opacity="0.6"/>
<rect x="310.5" y="93.9" width="1.1" height="1.1" opacity="0.6"/>
<rect x="319.4" y="87.8" width="1.1" height="1.1" opacity="0.6"/>
<rect x="308.3" y="66.3" width="1.1" height="1.1" opacity="0.6"/>
<rect x="312.7" y="69.9" width="1.1" height="1.1" opacity="0.6"/>
<rect x="316.9" y="59.9" width="1.1" height="1.1" opacity="0.6"/>
<rect x="328.2" y="86.1" width="1.1" height="1.1" opacity="0.6"/>
<rect x="311.3" y="89.8" width="1.1" height="1.1" opacity="0.6"/>
<rect x="308.5" y="86.3" width="1.1" height="1.1" opacity="0.6"/>
<rect x="332.6" y="92.6" width="1.1" height="1.1" opacity="0.6"/>
<rect x="313.2" y="44.3" width="1.1" height="1.1" opacity="0.6"/>
<rect x="324.9" y="60.8" width="1.1" height="1.1" opacity="0.6"/>
<rect x="329.1" y="46.8" width="1.1" height="1.1" opacity="0.6"/>
<rect x="316.5" y="89.3" width="1.1" height="1.1" opacity="0.6"/>
<rect x="333.3" y="58.7" width="1.1" height="1.1" opacity="0.6"/>
<rect x="333.5" y="50.8" width="1.1" height="1.1" opacity="0.6"/>
<rect x="328.2" y="84.9" width="1.1" height="1.1" opacity="0.6"/>
<rect x="319.9" y="80.0" width="1.1" height="1.1" opacity="0.6"/>
<rect x="320.6" y="89.3" width="1.1" height="1.1" opacity="0.6"/>
<rect x="308.7" y="79.7" width="1.1" height="1.1" opacity="0.6"/>
<rect x="311.2" y="89.4" width="1.1" height="1.1" opacity="0.6"/>
<rect x="312.7" y="42.6" width="1.1" height="1.1" opacity="0.6"/>
<rect x="325.6" y="96.1" width="1.1" height="1.1" opacity="0.6"/>
<rect x="325.9" y="61.8" width="1.1" height="1.1" opacity="0.6"/>
<rect x="329.9" y="67.2" width="1.1" height="1.1" opacity="0.6"/>
<rect x="332.7" y="71.8" width="1.1" height="1.1" opacity="0.6"/>
<rect x="315.1" y="73.7" width="1.1" height="1.1" opacity="0.6"/>
<rect x="316.8" y="91.5" width="1.1" height="1.1" opacity="0.6"/>
<rect x="311.7" y="91.1" width="1.1" height="1.1" opacity="0.6"/>
<rect x="308.3" y="41.7" width="1.1" height="1.1" opacity="0.6"/>
<rect x="307.7" y="68.3" width="1.1" height="1.1" opacity="0.6"/>
<rect x="328.3" y="78.3" width="1.1" height="1.1" opacity="0.6"/>
<rect x="314.4" y="69.9" width="1.1" height="1.1" opacity="0.6"/>
<rect x="308.1" y="92.7" width="1.1" height="1.1" opacity="0.6"/>
<rect x="322.9" y="49.2" width="1.1" height="1.1" opacity="0.6"/>
<rect x="319.4" y="67.4" width="1.1" height="1.1" opacity="0.6"/>
<rect x="332.8" y="90.1" width="1.1" height="1.1" opacity="0.6"/>
<rect x="328.8" y="47.5" width="1.1" height="1.1" opacity="0.6"/>
<rect x="311.1" y="85.2" width="1.1" height="1.1" opacity="0.6"/>
<rect x="308.3" y="96.2" width="1.1" height="1.1" opacity="0.6"/>
<rect x="319.4" y="43.3" width="1.1" height="1.1" opacity="0.6"/>
<rect x="326.9" y="44.6" width="1.1" height="1.1" opacity="0.6"/>
<rect x="317.5" y="95.2" width="1.1" height="1.1" opacity="0.6"/>
<rect x="327.2" y="72.6" width="1.1" height="1.1" opacity="0.6"/>
<rect x="329.4" y="56.1" width="1.1" height="1.1" opacity="0.6"/>
<rect x="331.0" y="53.5" width="1.1" height="1.1" opacity="0.6"/>
<rect x="328.1" y="94.1" width="1.1" height="1.1" opacity="0.6"/>
<rect x="320.6" y="92.6" width="1.1" height="1.1" opacity="0.6"/>
<rect x="320.9" y="53.5" width="1.1" height="1.1" opacity="0.6"/>
<rect x="319.5" y="71.9" width="1.1" height="1.1" opacity="0.6"/>
<rect x="333.7" y="69.0" width="1.1" height="1.1" opacity="0.6"/>
<rect x="332.6" y="61.5" width="1.1" height="1.1" opacity="0.6"/>
<rect x="332.0" y="65.3" width="1.1" height="1.1" opacity="0.6"/>
<rect x="326.6" y="76.8" width="1.1" height="1.1" opacity="0.6"/>
<rect x="317.3" y="88.7" width="1.1" height="1.1" opacity="0.6"/>
<rect x="331.2" y="44.8" width="1.1" height="1.1" opacity="0.6"/>
<rect x="327.2" y="50.4" width="1.1" height="1.1" opacity="0.6"/>
<rect x="310.1" y="70.9" width="1.1" height="1.1" opacity="0.6"/>
<rect x="331.6" y="92.7" width="1.1" height="1.1" opacity="0.6"/>
<rect x="309.9" y="91.4" width="1.1" height="1.1" opacity="0.6"/>
<rect x="322.5" y="67.7" width="1.1" height="1.1" opacity="0.6"/>
<rect x="332.2" y="71.6" width="1.1" height="1.1" opacity="0.6"/>
<rect x="331.3" y="67.7" width="1.1" height="1.1" opacity="0.6"/>
<rect x="322.2" y="77.3" width="1.1" height="1.1" opacity="0.6"/>
<rect x="330.5" y="75.2" width="1.1" height="1.1" opacity="0.6"/>
<rect x="330.4" y="90.8" width="1.1" height="1.1" opacity="0.6"/>
<rect x="329.5" y="48.8" width="1.1" height="1.1" opacity="0.6"/>
<rect x="322.4" y="47.7" width="1.1" height="1.1" opacity="0.6"/>
<rect x="333.9" y="44.7" width="1.1" height="1.1" opacity="0.6"/>
<rect x="322.8" y="53.3" width="1.1" height="1.1" opacity="0.6"/>
<rect x="320.3" y="59.1" width="1.1" height="1.1" opacity="0.6"/>
<rect x="329.8" y="55.6" width="1.1" height="1.1" opacity="0.6"/>
<rect x="331.5" y="83.1" width="1.1" height="1.1" opacity="0.6"/>
<rect x="333.7" y="75.8" width="1.1" height="1.1" opacity="0.6"/>
<rect x="321.9" y="81.5" width="1.1" height="1.1" opacity="0.6"/>
<rect x="309.5" y="93.2" width="1.1" height="1.1" opacity="0.6"/>
<rect x="320.0" y="84.8" width="1.1" height="1.1" opacity="0.6"/>
<rect x="319.5" y="53.7" width="1.1" height="1.1" opacity="0.6"/>
<rect x="315.7" y="94.5" width="1.1" height="1.1" opacity="0.6"/>
<rect x="329.4" y="64.1" width="1.1" height="1.1" opacity="0.6"/>
<rect x="306.1" y="95.7" width="1.1" height="1.1" opacity="0.6"/>
<rect x="318.7" y="58.9" width="1.1" height="1.1" opacity="0.6"/>
<rect x="312.2" y="78.7" width="1.1" height="1.1" opacity="0.6"/>
<rect x="312.3" y="71.9" width="1.1" height="1.1" opacity="0.6"/>
<rect x="308.4" y="97.4" width="1.1" height="1.1" opacity="0.6"/>
<rect x="307.7" y="74.7" width="1.1" height="1.1" opacity="0.6"/>
<rect x="325.1" y="93.0" width="1.1" height="1.1" opacity="0.6"/>
<rect x="329.4" y="56.5" width="1.1" height="1.1" opacity="0.6"/>
<rect x="316.8" y="89.5" width="1.1" height="1.1" opacity="0.6"/>
<rect x="326.9" y="90.1" width="1.1" height="1.1" opacity="0.6"/>
<rect x="330.5" y="85.6" width="1.1" height="1.1" opacity="0.6"/>
<rect x="327.2" y="42.9" width="1.1" height="1.1" opacity="0.6"/>
<rect x="305.6" y="53.3" width="1.1" height="1.1" opacity="0.6"/>
<rect x="323.0" y="69.9" width="1.1" height="1.1" opacity="0.6"/>
<rect x="313.4" y="46.7" width="1.1" height="1.1" opacity="0.6"/>
<rect x="314.3" y="62.0" width="1.1" height="1.1" opacity="0.6"/>
<rect x="330.5" y="62.7" width="1.1" height="1.1" opacity="0.6"/>
<rect x="311.1" y="53.6" width="1.1" height="1.1" opacity="0.6"/>
<rect x="332.7" y="57.5" width="1.1" height="1.1" opacity="0.6"/>
<rect x="326.7" y="88.8" width="1.1" height="1.1" opacity="0.6"/>
<rect x="306.8" y="60.0" width="1.1" height="1.1" opacity="0.6"/>
<rect x="314.5" y="90.4" width="1.1" height="1.1" opacity="0.6"/>
<rect x="311.7" y="45.1" width="1.1" height="1.1" opacity="0.6"/>
<rect x="309.0" y="55.9" width="1.1" height="1.1" opacity="0.6"/>
<rect x="311.5" y="52.7" width="1.1" height="1.1" opacity="0.6"/>
<rect x="319.6" y="73.4" width="1.1" height="1.1" opacity="0.6"/>
<rect x="311.8" y="53.7" width="1.1" height="1.1" opacity="0.6"/>
<rect x="310.2" y="81.1" width="1.1" height="1.1" opacity="0.6"/>
<rect x="306.9" y="68.0" width="1.1" height="1.1" opacity="0.6"/>
<rect x="307.5" y="91.5" width="1.1" height="1.1" opacity="0.6"/>
<rect x="306.7" y="53.5" width="1.1" height="1.1" opacity="0.6"/>
<rect x="329.3" y="50.6" width="1.1" height="1.1" opacity="0.6"/>
<rect x="329.7" y="86.8" width="1.1" height="1.1" opacity="0.6"/>
<rect x="323.7" y="84.6" width="1.1" height="1.1" opacity="0.6"/>
<rect x="322.6" y="46.7" width="1.1" height="1.1" opacity="0.6"/>
<rect x="316.6" y="57.9" width="1.1" height="1.1" opacity="0.6"/>
<rect x="325.6" y="53.7" width="1.1" height="1.1" opacity="0.6"/>
<rect x="312.9" y="59.4" width="1.1" height="1.1" opacity="0.6"/>
<rect x="307.6" y="51.3" width="1.1" height="1.1" opacity="0.6"/>
<rect x="325.2" y="93.1" width="1.1" height="1.1" opacity="0.6"/>
<rect x="317.6" y="50.8" width="1.1" height="1.1" opacity="0.6"/>
<rect x="327.0" y="64.4" width="1.1" height="1.1" opacity="0.6"/>
<rect x="311.4" y="53.2" width="1.1" height="1.1" opacity="0.6"/>
<rect x="334.0" y="70.4" width="1.1" height="1.1" opacity="0.6"/>
<rect x="333.9" y="91.8" width="1.1" height="1.1" opacity="0.6"/>
<rect x="312.2" y="74.3" width="1.1" height="1.1" opacity="0.6"/>
<rect x="319.2" y="72.2" width="1.1" height="1.1" opacity="0.6"/>
<rect x="327.1" y="85.9" width="1.1" height="1.1" opacity="0.6"/>
<rect x="326.6" y="50.3" width="1.1" height="1.1" opacity="0.6"/>
<rect x="318.7" y="81.5" width="1.1" height="1.1" opacity="0.6"/>
<rect x="332.8" y="82.7" width="1.1" height="1.1" opacity="0.6"/>
<rect x="316.0" y="73.0" width="1.1" height="1.1" opacity="0.6"/>
<rect x="317.4" y="52.4" width="1.1" height="1.1" opacity="0.6"/>
<rect x="332.2" y="59.4" width="1.1" height="1.1" opacity="0.6"/>
<rect x="333.5" y="51.5" width="1.1" height="1.1" opacity="0.6"/>
<rect x="330.8" y="82.7" width="1.1" height="1.1" opacity="0.6"/>
<rect x="307.1" y="77.5" width="1.1" height="1.1" opacity="0.6"/>
<rect x="329.9" y="47.7" width="1.1" height="1.1" opacity="0.6"/>
<rect x="319.0" y="47.5" width="1.1" height="1.1" opacity="0.6"/>
<rect x="325.5" y="69.8" width="1.1" height="1.1" opacity="0.6"/>
<rect x="307.1" y="69.4" width="1.1" height="1.1" opacity="0.6"/>
<rect x="305.9" y="87.3" width="1.1" height="1.1" opacity="0.6"/>
<rect x="311.6" y="88.8" width="1.1" height="1.1" opacity="0.6"/>
<rect x="324.0" y="79.5" width="1.1" height="1.1" opacity="0.6"/>
<rect x="330.3" y="44.5" width="1.1" height="1.1" opacity="0.6"/>
<rect x="325.3" y="49.6" width="1.1" height="1.1" opacity="0.6"/>
<rect x="329.0" y="66.5" width="1.1" height="1.1" opacity="0.6"/>
<rect x="331.7" y="59.1" width="1.1" height="1.1" opacity="0.6"/>
<rect x="318.0" y="60.5" width="1.1" height="1.1" opacity="0.6"/>
<rect x="326.7" y="45.1" width="1.1" height="1.1" opacity="0.6"/>
<rect x="317.4" y="54.8" width="1.1" height="1.1" opacity="0.6"/>
<rect x="332.1" y="56.4" width="1.1" height="1.1" opacity="0.6"/>
<rect x="325.5" y="44.1" width="1.1" height="1.1" opacity="0.6"/>
<rect x="327.0" y="55.0" width="1.1" height="1.1" opacity="0.6"/>
<rect x="322.1" y="65.6" width="1.1" height="1.1" opacity="0.6"/>
<rect x="324.1" y="54.5" width="1.1" height="1.1" opacity="0.6"/>
<rect x="317.2" y="61.1" width="1.1" height="1.1" opacity="0.6"/>
<rect x="327.0" y="43.4" width="1.1" height="1.1" opacity="0.6"/>
<rect x="332.5" y="48.6" width="1.1" height="1.1" opacity="0.6"/>
<rect x="321.2" y="58.9" width="1.1" height="1.1" opacity="0.6"/>
<rect x="325.4" y="51.7" width="1.1" height="1.1" opacity="0.6"/>
<rect x="317.5" y="52.5" width="1.1" height="1.1" opacity="0.6"/>
<rect x="320.0" y="78.2" width="1.1" height="1.1" opacity="0.6"/>
<rect x="327.6" y="74.4" width="1.1" height="1.1" opacity="0.6"/>
<rect x="316.3" y="46.5" width="1.1" height="1.1" opacity="0.6"/>
<rect x="330.9" y="57.8" width="1.1" height="1.1" opacity="0.6"/>
<rect x="323.1" y="77.8" width="1.1" height="1.1" opacity="0.6"/>
<rect x="326.4" y="51.8" width="1.1" height="1.1" opacity="0.6"/>
<rect x="322.0" y="69.1" width="1.1" height="1.1" opacity="0.6"/>
<rect x="319.8" y="68.7" width="1.1" height="1.1" opacity="0.6"/>
<rect x="323.7" y="63.9" width="1.1" height="1.1" opacity="0.6"/>
<rect x="315.9" y="55.5" width="1.1" height="1.1" opacity="0.6"/>
<rect x="319.0" y="54.5" width="1.1" height="1.1" opacity="0.6"/>
<rect x="326.7" y="43.9" width="1.1" height="1.1" opacity="0.6"/>
<rect x="320.7" y="53.9" width="1.1" height="1.1" opacity="0.6"/>
<rect x="328.5" y="73.5" width="1.1" height="1.1" opacity="0.6"/>
<rect x="323.1" y="48.9" width="1.1" height="1.1" opacity="0.6"/>
<rect x="319.2" y="66.7" width="1.1" height="1.1" opacity="0.6"/>
<rect x="331.0" y="60.4" width="1.1" height="1.1" opacity="0.6"/>
<rect x="317.7" y="73.5" width="1.1" height="1.1" opacity="0.6"/>
<rect x="320.2" y="73.2" width="1.1" height="1.1" opacity="0.6"/>
<rect x="327.9" y="77.5" width="1.1" height="1.1" opacity="0.6"/>
<rect x="328.1" y="65.3" width="1.1" height="1.1" opacity="0.6"/>
<rect x="316.1" y="43.9" width="1.1" height="1.1" opacity="0.6"/>
<rect x="330.1" y="68.1" width="1.1" height="1.1" opacity="0.6"/>
<rect x="316.5" y="72.2" width="1.1" height="1.1" opacity="0.6"/>
<rect x="327.7" y="63.3" width="1.1" height="1.1" opacity="0.6"/>
<rect x="331.5" y="69.9" width="1.1" height="1.1" opacity="0.6"/>
<rect x="326.4" y="65.2" width="1.1" height="1.1" opacity="0.6"/>
<rect x="316.2" y="69.6" width="1.1" height="1.1" opacity="0.6"/>
<rect x="329.8" y="45.9" width="1.1" height="1.1" opacity="0.6"/>
<rect x="325.4" y="48.5" width="1.1" height="1.1" opacity="0.6"/>
<rect x="322.0" y="50.7" width="1.1" height="1.1" opacity="0.6"/>
<rect x="327.8" y="73.9" width="1.1" height="1.1" opacity="0.6"/>
<rect x="319.9" y="62.1" width="1.1" height="1.1" opacity="0.6"/>
<rect x="323.4" y="54.7" width="1.1" height="1.1" opacity="0.6"/>
<rect x="320.0" y="69.3" width="1.1" height="1.1" opacity="0.6"/>
<rect x="327.0" y="45.6" width="1.1" height="1.1" opacity="0.6"/>
<rect x="324.0" y="68.8" width="1.1" height="1.1" opacity="0.6"/>
<rect x="322.2" y="69.9" width="1.1" height="1.1" opacity="0.6"/>
<rect x="319.6" y="78.0" width="1.1" height="1.1" opacity="0.6"/>
<rect x="318.6" y="58.5" width="1.1" height="1.1" opacity="0.6"/>
<rect x="327.1" y="44.7" width="1.1" height="1.1" opacity="0.6"/>
<rect x="328.7" y="70.5" width="1.1" height="1.1" opacity="0.6"/>
<rect x="332.2" y="59.2" width="1.1" height="1.1" opacity="0.6"/>
<rect x="319.9" y="54.4" width="1.1" height="1.1" opacity="0.6"/>
<rect x="326.1" y="49.6" width="1.1" height="1.1" opacity="0.6"/>
<rect x="331.5" y="68.1" width="1.1" height="1.1" opacity="0.6"/>
<rect x="321.9" y="43.7" width="1.1" height="1.1" opacity="0.6"/>
<rect x="322.1" y="53.9" width="1.1" height="1.1" opacity="0.6"/>
<rect x="319.6" y="64.9" width="1.1" height="1.1" opacity="0.6"/>
<rect x="316.6" y="52.0" width="1.1" height="1.1" opacity="0.6"/>
<rect x="327.3" y="65.0" width="1.1" height="1.1" opacity="0.6"/>
<rect x="319.6" y="92.4" width="1.1" height="1.1" opacity="0.6"/>
<rect x="332.9" y="77.8" width="1.1" height="1.1" opacity="0.6"/>
<rect x="326.7" y="88.2" width="1.1" height="1.1" opacity="0.6"/>
<rect x="323.4" y="76.8" width="1.1" height="1.1" opacity="0.6"/>
<rect x="333.5" y="92.6" width="1.1" height="1.1" opacity="0.6"/>
<rect x="334.0" y="90.9" width="1.1" height="1.1" opacity="0.6"/>
<rect x="327.4" y="78.4" width="1.1" height="1.1" opacity="0.6"/>
<rect x="323.4" y="86.6" width="1.1" height="1.1" opacity="0.6"/>
<rect x="329.4" y="86.7" width="1.1" height="1.1" opacity="0.6"/>
<rect x="331.7" y="78.7" width="1.1" height="1.1" opacity="0.6"/>
<rect x="320.1" y="78.9" width="1.1" height="1.1" opacity="0.6"/>
<rect x="333.3" y="84.0" width="1.1" height="1.1" opacity="0.6"/>
<rect x="321.1" y="88.7" width="1.1" height="1.1" opacity="0.6"/>
<rect x="316.8" y="76.9" width="1.1" height="1.1" opacity="0.6"/>
<rect x="321.4" y="79.4" width="1.1" height="1.1" opacity="0.6"/>
<rect x="323.9" y="77.6" width="1.1" height="1.1" opacity="0.6"/>
<rect x="333.5" y="83.0" width="1.1" height="1.1" opacity="0.6"/>
<rect x="322.4" y="85.7" width="1.1" height="1.1" opacity="0.6"/>
<rect x="331.7" y="97.4" width="1.1" height="1.1" opacity="0.6"/>
<rect x="325.0" y="79.3" width="1.1" height="1.1" opacity="0.6"/>
<rect x="331.7" y="95.2" width="1.1" height="1.1" opacity="0.6"/>
<rect x="332.4" y="97.1" width="1.1" height="1.1" opacity="0.6"/>
<rect x="323.2" y="74.4" width="1.1" height="1.1" opacity="0.6"/>
<rect x="319.7" y="92.1" width="1.1" height="1.1" opacity="0.6"/>
<rect x="322.6" y="97.4" width="1.1" height="1.1" opacity="0.6"/>
<rect x="318.6" y="92.9" width="1.1" height="1.1" opacity="0.6"/>
<rect x="334.3" y="85.2" width="1.1" height="1.1" opacity="0.6"/>
<rect x="333.4" y="94.0" width="1.1" height="1.1" opacity="0.6"/>
<rect x="334.1" y="90.1" width="1.1" height="1.1" opacity="0.6"/>
<rect x="326.2" y="79.8" width="1.1" height="1.1" opacity="0.6"/>
<rect x="334.2" y="79.2" width="1.1" height="1.1" opacity="0.6"/>
<rect x="333.7" y="95.0" width="1.1" height="1.1" opacity="0.6"/>
<rect x="324.4" y="92.6" width="1.1" height="1.1" opacity="0.6"/>
<rect x="330.8" y="86.9" width="1.1" height="1.1" opacity="0.6"/>
<rect x="332.5" y="80.3" width="1.1" height="1.1" opacity="0.6"/>
<rect x="332.6" y="78.8" width="1.1" height="1.1" opacity="0.6"/>
<rect x="319.5" y="87.7" width="1.1" height="1.1" opacity="0.6"/>
<rect x="334.2" y="80.8" width="1.1" height="1.1" opacity="0.6"/>
<rect x="334.2" y="88.6" width="1.1" height="1.1" opacity="0.6"/>
<rect x="329.0" y="97.5" width="1.1" height="1.1" opacity="0.6"/>
<rect x="324.4" y="82.4" width="1.1" height="1.1" opacity="0.6"/>
<rect x="325.5" y="91.2" width="1.1" height="1.1" opacity="0.6"/>
<rect x="327.2" y="86.3" width="1.1" height="1.1" opacity="0.6"/>
<rect x="332.4" y="77.9" width="1.1" height="1.1" opacity="0.6"/>
<rect x="313.6" y="79.9" width="1.1" height="1.1" opacity="0.6"/>
<rect x="314.8" y="92.8" width="1.1" height="1.1" opacity="0.6"/>
<rect x="314.0" y="97.4" width="1.1" height="1.1" opacity="0.6"/>
<rect x="327.9" y="96.5" width="1.1" height="1.1" opacity="0.6"/>
<rect x="328.4" y="83.6" width="1.1" height="1.1" opacity="0.6"/>
<rect x="322.3" y="89.9" width="1.1" height="1.1" opacity="0.6"/>
<rect x="330.6" y="95.6" width="1.1" height="1.1" opacity="0.6"/>
<rect x="329.4" y="93.8" width="1.1" height="1.1" opacity="0.6"/>
<rect x="332.8" y="82.0" width="1.1" height="1.1" opacity="0.6"/>
<rect x="327.1" y="90.3" width="1.1" height="1.1" opacity="0.6"/>
<rect x="332.7" y="83.0" width="1.1" height="1.1" opacity="0.6"/>
<rect x="332.8" y="94.2" width="1.1" height="1.1" opacity="0.6"/>
<rect x="326.1" y="83.1" width="1.1" height="1.1" opacity="0.6"/>
<rect x="314.4" y="81.7" width="1.1" height="1.1" opacity="0.6"/>
<rect x="315.2" y="76.2" width="1.1" height="1.1" opacity="0.6"/>
<rect x="321.9" y="82.5" width="1.1" height="1.1" opacity="0.6"/>
<rect x="334.1" y="95.3" width="1.1" height="1.1" opacity="0.6"/>
<rect x="334.3" y="78.0" width="1.1" height="1.1" opacity="0.6"/>
<rect x="321.9" y="85.2" width="1.1" height="1.1" opacity="0.6"/>
<rect x="331.8" y="92.2" width="1.1" height="1.1" opacity="0.6"/>
<rect x="333.2" y="85.1" width="1.1" height="1.1" opacity="0.6"/>
<rect x="313.8" y="93.3" width="1.1" height="1.1" opacity="0.6"/>
<rect x="334.2" y="95.9" width="1.1" height="1.1" opacity="0.6"/>
<rect x="330.3" y="76.9" width="1.1" height="1.1" opacity="0.6"/>
<rect x="319.6" y="89.9" width="1.1" height="1.1" opacity="0.6"/>
<rect x="333.8" y="96.9" width="1.1" height="1.1" opacity="0.6"/>
<rect x="333.3" y="80.8" width="1.1" height="1.1" opacity="0.6"/>
<rect x="328.1" y="73.8" width="1.1" height="1.1" opacity="0.6"/>
<rect x="316.4" y="80.2" width="1.1" height="1.1" opacity="0.6"/>
<rect x="328.0" y="79.4" width="1.1" height="1.1" opacity="0.6"/>
<rect x="333.5" y="96.9" width="1.1" height="1.1" opacity="0.6"/>
<rect x="326.0" y="88.5" width="1.1" height="1.1" opacity="0.6"/>
<rect x="332.6" y="94.4" width="1.1" height="1.1" opacity="0.6"/>
<rect x="334.3" y="76.6" width="1.1" height="1.1" opacity="0.6"/>
<rect x="322.3" y="75.4" width="1.1" height="1.1" opacity="0.6"/>
<rect x="314.1" y="90.3" width="1.1" height="1.1" opacity="0.6"/>
<rect x="321.7" y="91.6" width="1.1" height="1.1" opacity="0.6"/>
<rect x="319.4" y="78.8" width="1.1" height="1.1" opacity="0.6"/>
<rect x="333.5" y="97.9" width="1.1" height="1.1" opacity="0.6"/>
<rect x="332.5" y="86.4" width="1.1" height="1.1" opacity="0.6"/>
<rect x="329.9" y="98.0" width="1.1" height="1.1" opacity="0.6"/>
<rect x="318.9" y="80.5" width="1.1" height="1.1" opacity="0.6"/>
<rect x="328.2" y="97.7" width="1.1" height="1.1" opacity="0.6"/>
<rect x="317.1" y="87.8" width="1.1" height="1.1" opacity="0.6"/>
<rect x="334.0" y="93.0" width="1.1" height="1.1" opacity="0.6"/>
<rect x="324.5" y="77.3" width="1.1" height="1.1" opacity="0.6"/>
<rect x="327.8" y="84.9" width="1.1" height="1.1" opacity="0.6"/>
<rect x="332.6" y="94.6" width="1.1" height="1.1" opacity="0.6"/>
<rect x="316.5" y="91.6" width="1.1" height="1.1" opacity="0.6"/>
<rect x="333.7" y="86.3" width="1.1" height="1.1" opacity="0.6"/>
<rect x="333.5" y="95.4" width="1.1" height="1.1" opacity="0.6"/>
<rect x="328.4" y="86.4" width="1.1" height="1.1" opacity="0.6"/>
<rect x="324.2" y="82.9" width="1.1" height="1.1" opacity="0.6"/>
<rect x="328.7" y="97.4" width="1.1" height="1.1" opacity="0.6"/>
<rect x="321.9" y="97.6" width="1.1" height="1.1" opacity="0.6"/>
<rect x="328.1" y="91.2" width="1.1" height="1.1" opacity="0.6"/>
<rect x="323.3" y="82.7" width="1.1" height="1.1" opacity="0.6"/>
<rect x="332.2" y="84.6" width="1.1" height="1.1" opacity="0.6"/>
<rect x="322.8" y="89.4" width="1.1" height="1.1" opacity="0.6"/>
<rect x="333.4" y="76.6" width="1.1" height="1.1" opacity="0.6"/>
<rect x="325.1" y="97.5" width="1.1" height="1.1" opacity="0.6"/>
<rect x="332.2" y="74.0" width="1.1" height="1.1" opacity="0.6"/>
<rect x="332.3" y="91.4" width="1.1" height="1.1" opacity="0.6"/>
<rect x="320.1" y="79.3" width="1.1" height="1.1" opacity="0.6"/>
<rect x="324.3" y="81.9" width="1.1" height="1.1" opacity="0.6"/>
<rect x="334.2" y="97.1" width="1.1" height="1.1" opacity="0.6"/>
<rect x="314.3" y="80.0" width="1.1" height="1.1" opacity="0.6"/>
<rect x="334.2" y="97.6" width="1.1" height="1.1" opacity="0.6"/>
<rect x="332.2" y="75.8" width="1.1" height="1.1" opacity="0.6"/>
<rect x="332.5" y="84.0" width="1.1" height="1.1" opacity="0.6"/>
<rect x="315.8" y="84.9" width="1.1" height="1.1" opacity="0.6"/>
<rect x="316.1" y="94.2" width="1.1" height="1.1" opacity="0.6"/>
<rect x="333.3" y="97.9" width="1.1" height="1.1" opacity="0.6"/>
<rect x="321.0" y="97.0" width="1.1" height="1.1" opacity="0.6"/>
<rect x="314.4" y="82.8" width="1.1" height="1.1" opacity="0.6"/>
<rect x="332.9" y="79.9" width="1.1" height="1.1" opacity="0.6"/>
<rect x="333.2" y="88.4" width="1.1" height="1.1" opacity="0.6"/>
<rect x="333.7" y="80.5" width="1.1" height="1.1" opacity="0.6"/>
<rect x="317.0" y="76.3" width="1.1" height="1.1" opacity="0.6"/>
<rect x="334.3" y="78.4" width="1.1" height="1.1" opacity="0.6"/>
<rect x="326.2" y="79.4" width="1.1" height="1.1" opacity="0.6"/>
<rect x="327.4" y="85.5" width="1.1" height="1.1" opacity="0.6"/>
<rect x="325.2" y="80.1" width="1.1" height="1.1" opacity="0.6"/>
<rect x="334.0" y="97.6" width="1.1" height="1.1" opacity="0.6"/>
<rect x="326.4" y="93.6" width="1.1" height="1.1" opacity="0.6"/>
<rect x="329.6" y="98.0" width="1.1" height="1.1" opacity="0.6"/>
<rect x="321.3" y="97.9" width="1.1" height="1.1" opacity="0.6"/>
<rect x="318.9" y="79.7" width="1.1" height="1.1" opacity="0.6"/>
<rect x="328.3" y="96.7" width="1.1" height="1.1" opacity="0.6"/>
<rect x="323.9" y="95.3" width="1.1" height="1.1" opacity="0.6"/>
<rect x="328.9" y="96.9" width="1.1" height="1.1" opacity="0.6"/>
<rect x="314.3" y="87.5" width="1.1" height="1.1" opacity="0.6"/>
<rect x="330.4" y="97.1" width="1.1" height="1.1" opacity="0.6"/>
<rect x="321.7" y="78.5" width="1.1" height="1.1" opacity="0.6"/>
<rect x="318.3" y="97.0" width="1.1" height="1.1" opacity="0.6"/>
<rect x="330.1" y="93.4" width="1.1" height="1.1" opacity="0.6"/>
<rect x="320.8" y="96.3" width="1.1" height="1.1" opacity="0.6"/>
<rect x="325.0" y="74.2" width="1.1" height="1.1" opacity="0.6"/>
<rect x="320.6" y="98.0" width="1.1" height="1.1" opacity="0.6"/>
<rect x="334.0" y="96.8" width="1.1" height="1.1" opacity="0.6"/>
<rect x="322.7" y="86.1" width="1.1" height="1.1" opacity="0.6"/>
<rect x="327.0" y="89.8" width="1.1" height="1.1" opacity="0.6"/>
<rect x="329.4" y="85.7" width="1.1" height="1.1" opacity="0.6"/>
<rect x="323.9" y="76.3" width="1.1" height="1.1" opacity="0.6"/>
<rect x="321.7" y="80.2" width="1.1" height="1.1" opacity="0.6"/>
<rect x="316.3" y="78.9" width="1.1" height="1.1" opacity="0.6"/>
<rect x="322.1" y="97.8" width="1.1" height="1.1" opacity="0.6"/>
<rect x="323.1" y="78.5" width="1.1" height="1.1" opacity="0.6"/>
<rect x="328.9" y="77.6" width="1.1" height="1.1" opacity="0.6"/>
<rect x="333.0" y="75.4" width="1.1" height="1.1" opacity="0.6"/>
<rect x="328.7" y="82.9" width="1.1" height="1.1" opacity="0.6"/>
<rect x="332.0" y="93.4" width="1.1" height="1.1" opacity="0.6"/>
<rect x="330.4" y="92.9" width="1.1" height="1.1" opacity="0.6"/>
<rect x="333.8" y="90.2" width="1.1" height="1.1" opacity="0.6"/>
<rect x="314.1" y="84.5" width="1.1" height="1.1" opacity="0.6"/>
<rect x="315.7" y="81.2" width="1.1" height="1.1" opacity="0.6"/>
<rect x="318.7" y="73.7" width="1.1" height="1.1" opacity="0.6"/>
<rect x="321.1" y="94.0" width="1.1" height="1.1" opacity="0.6"/>
<rect x="332.0" y="90.9" width="1.1" height="1.1" opacity="0.6"/>
<rect x="334.3" y="94.9" width="1.1" height="1.1" opacity="0.6"/>
<rect x="317.2" y="76.2" width="1.1" height="1.1" opacity="0.6"/>
<rect x="330.8" y="81.0" width="1.1" height="1.1" opacity="0.6"/>
<rect x="320.5" y="77.2" width="1.1" height="1.1" opacity="0.6"/>
<rect x="319.9" y="87.9" width="1.1" height="1.1" opacity="0.6"/>
<rect x="333.7" y="79.3" width="1.1" height="1.1" opacity="0.6"/>
<rect x="331.0" y="85.3" width="1.1" height="1.1" opacity="0.6"/>
<rect x="330.1" y="87.7" width="1.1" height="1.1" opacity="0.6"/>
<rect x="314.6" y="96.1" width="1.1" height="1.1" opacity="0.6"/>
<rect x="326.7" y="84.6" width="1.1" height="1.1" opacity="0.6"/>
<rect x="326.6" y="75.6" width="1.1" height="1.1" opacity="0.6"/>
<rect x="329.4" y="76.4" width="1.1" height="1.1" opacity="0.6"/>
<rect x="322.8" y="74.6" width="1.1" height="1.1" opacity="0.6"/>
<rect x="333.9" y="95.2" width="1.1" height="1.1" opacity="0.6"/>
<rect x="331.5" y="76.6" width="1.1" height="1.1" opacity="0.6"/>
<rect x="334.3" y="94.3" width="1.1" height="1.1" opacity="0.6"/>
<rect x="322.1" y="73.9" width="1.1" height="1.1" opacity="0.6"/>
<rect x="333.0" y="90.3" width="1.1" height="1.1" opacity="0.6"/>
<rect x="322.9" y="83.4" width="1.1" height="1.1" opacity="0.6"/>
<rect x="321.3" y="81.5" width="1.1" height="1.1" opacity="0.6"/>
<rect x="332.1" y="94.3" width="1.1" height="1.1" opacity="0.6"/>
<rect x="334.2" y="83.4" width="1.1" height="1.1" opacity="0.6"/>
<rect x="332.6" y="94.3" width="1.1" height="1.1" opacity="0.6"/>
<rect x="314.7" y="84.8" width="1.1" height="1.1" opacity="0.6"/>
<rect x="325.3" y="84.4" width="1.1" height="1.1" opacity="0.6"/>
<rect x="325.2" y="83.3" width="1.1" height="1.1" opacity="0.6"/>
<rect x="331.2" y="97.5" width="1.1" height="1.1" opacity="0.6"/>
<rect x="334.0" y="97.9" width="1.1" height="1.1" opacity="0.6"/>
<rect x="330.2" y="96.4" width="1.1" height="1.1" opacity="0.6"/>
<rect x="333.7" y="88.9" width="1.1" height="1.1" opacity="0.6"/>
<rect x="314.5" y="83.5" width="1.1" height="1.1" opacity="0.6"/>
<rect x="331.7" y="81.0" width="1.1" height="1.1" opacity="0.6"/>
<rect x="333.0" y="97.0" width="1.1" height="1.1" opacity="0.6"/>
<rect x="331.2" y="91.0" width="1.1" height="1.1" opacity="0.6"/>
<rect x="322.8" y="90.1" width="1.1" height="1.1" opacity="0.6"/>
<rect x="321.8" y="97.1" width="1.1" height="1.1" opacity="0.6"/>
<rect x="315.7" y="92.5" width="1.1" height="1.1" opacity="0.6"/>
<rect x="324.8" y="98.0" width="1.1" height="1.1" opacity="0.6"/>
<rect x="324.9" y="96.3" width="1.1" height="1.1" opacity="0.6"/>
<rect x="324.4" y="86.2" width="1.1" height="1.1" opacity="0.6"/>
<rect x="327.6" y="95.7" width="1.1" height="1.1" opacity="0.6"/>
<rect x="334.5" y="96.7" width="1.1" height="1.1" opacity="0.6"/>
<rect x="323.4" y="97.1" width="1.1" height="1.1" opacity="0.6"/>
<rect x="327.8" y="90.6" width="1.1" height="1.1" opacity="0.6"/>
<rect x="327.8" y="96.8" width="1.1" height="1.1" opacity="0.6"/>
<rect x="333.9" y="97.6" width="1.1" height="1.1" opacity="0.6"/>
<rect x="321.9" y="94.2" width="1.1" height="1.1" opacity="0.6"/>
<rect x="327.9" y="91.0" width="1.1" height="1.1" opacity="0.6"/>
<rect x="333.3" y="97.8" width="1.1" height="1.1" opacity="0.6"/>
<rect x="334.5" y="85.0" width="1.1" height="1.1" opacity="0.6"/>
<rect x="334.0" y="82.4" width="1.1" height="1.1" opacity="0.6"/>
<rect x="331.9" y="87.9" width="1.1" height="1.1" opacity="0.6"/>
<rect x="334.0" y="86.5" width="1.1" height="1.1" opacity="0.6"/>
<rect x="333.1" y="94.4" width="1.1" height="1.1" opacity="0.6"/>
<rect x="329.9" y="97.5" width="1.1" height="1.1" opacity="0.6"/>
<rect x="333.1" y="86.3" width="1.1" height="1.1" opacity="0.6"/>
<rect x="332.8" y="94.2" width="1.1" height="1.1" opacity="0.6"/>
<rect x="326.0" y="96.3" width="1.1" height="1.1" opacity="0.6"/>
<rect x="333.6" y="96.4" width="1.1" height="1.1" opacity="0.6"/>
<rect x="331.7" y="94.4" width="1.1" height="1.1" opacity="0.6"/>
<rect x="328.1" y="92.7" width="1.1" height="1.1" opacity="0.6"/>
<rect x="324.1" y="97.9" width="1.1" height="1.1" opacity="0.6"/>
<rect x="327.8" y="85.4" width="1.1" height="1.1" opacity="0.6"/>
<rect x="333.2" y="98.0" width="1.1" height="1.1" opacity="0.6"/>
<rect x="331.0" y="97.4" width="1.1" height="1.1" opacity="0.6"/>
<rect x="330.7" y="88.1" width="1.1" height="1.1" opacity="0.6"/>
<rect x="334.2" y="97.4" width="1.1" height="1.1" opacity="0.6"/>
<rect x="330.5" y="96.9" width="1.1" height="1.1" opacity="0.6"/>
<rect x="333.3" y="93.3" width="1.1" height="1.1" opacity="0.6"/>
<rect x="334.1" y="97.8" width="1.1" height="1.1" opacity="0.6"/>
<rect x="332.0" y="92.8" width="1.1" height="1.1" opacity="0.6"/>
<rect x="322.8" y="91.2" width="1.1" height="1.1" opacity="0.6"/>
<rect x="334.3" y="96.4" width="1.1" height="1.1" opacity="0.6"/>
<rect x="326.4" y="91.1" width="1.1" height="1.1" opacity="0.6"/>
<rect x="324.1" y="82.4" width="1.1" height="1.1" opacity="0.6"/>
<rect x="324.3" y="97.5" width="1.1" height="1.1" opacity="0.6"/>
<rect x="322.7" y="91.8" width="1.1" height="1.1" opacity="0.6"/>
<rect x="333.2" y="96.9" width="1.1" height="1.1" opacity="0.6"/>
<rect x="324.2" y="96.5" width="1.1" height="1.1" opacity="0.6"/>
<rect x="334.3" y="95.8" width="1.1" height="1.1" opacity="0.6"/>
<rect x="323.0" y="92.9" width="1.1" height="1.1" opacity="0.6"/>
<rect x="326.6" y="97.8" width="1.1" height="1.1" opacity="0.6"/>
<rect x="330.8" y="95.1" width="1.1" height="1.1" opacity="0.6"/>
<rect x="333.5" y="89.1" width="1.1" height="1.1" opacity="0.6"/>
<rect x="332.0" y="97.4" width="1.1" height="1.1" opacity="0.6"/>
<rect x="321.8" y="92.6" width="1.1" height="1.1" opacity="0.6"/>
<rect x="333.7" y="98.1" width="1.1" height="1.1" opacity="0.6"/>
<rect x="327.9" y="92.0" width="1.1" height="1.1" opacity="0.6"/>
<rect x="334.5" y="92.7" width="1.1" height="1.1" opacity="0.6"/>
<rect x="326.5" y="91.6" width="1.1" height="1.1" opacity="0.6"/>
<rect x="333.2" y="92.2" width="1.1" height="1.1" opacity="0.6"/>
<rect x="328.7" y="89.4" width="1.1" height="1.1" opacity="0.6"/>
<rect x="333.9" y="86.1" width="1.1" height="1.1" opacity="0.6"/>
<rect x="322.6" y="87.5" width="1.1" height="1.1" opacity="0.6"/>
<rect x="324.3" y="94.4" width="1.1" height="1.1" opacity="0.6"/>
<rect x="323.5" y="96.8" width="1.1" height="1.1" opacity="0.6"/>
<rect x="333.3" y="90.4" width="1.1" height="1.1" opacity="0.6"/>
<rect x="323.5" y="97.7" width="1.1" height="1.1" opacity="0.6"/>
<rect x="333.4" y="98.0" width="1.1" height="1.1" opacity="0.6"/>
<rect x="331.0" y="97.2" width="1.1" height="1.1" opacity="0.6"/>
<rect x="333.6" y="87.3" width="1.1" height="1.1" opacity="0.6"/>
<rect x="329.0" y="83.0" width="1.1" height="1.1" opacity="0.6"/>
<rect x="331.5" y="88.8" width="1.1" height="1.1" opacity="0.6"/>
<rect x="334.5" y="82.8" width="1.1" height="1.1" opacity="0.6"/>
<rect x="333.2" y="92.6" width="1.1" height="1.1" opacity="0.6"/>
<rect x="330.1" y="82.8" width="1.1" height="1.1" opacity="0.6"/>
<rect x="330.3" y="81.7" width="1.1" height="1.1" opacity="0.6"/>
<rect x="328.4" y="96.4" width="1.1" height="1.1" opacity="0.6"/>
<rect x="324.8" y="96.6" width="1.1" height="1.1" opacity="0.6"/>
<rect x="321.5" y="93.0" width="1.1" height="1.1" opacity="0.6"/>
<rect x="333.3" y="82.5" width="1.1" height="1.1" opacity="0.6"/>
<rect x="332.4" y="93.8" width="1.1" height="1.1" opacity="0.6"/>
<rect x="332.2" y="89.0" width="1.1" height="1.1" opacity="0.6"/>
<rect x="334.5" y="94.3" width="1.1" height="1.1" opacity="0.6"/>
<rect x="333.8" y="85.6" width="1.1" height="1.1" opacity="0.6"/>
<rect x="334.5" y="90.2" width="1.1" height="1.1" opacity="0.6"/>
<rect x="333.0" y="93.0" width="1.1" height="1.1" opacity="0.6"/>
<rect x="329.3" y="88.1" width="1.1" height="1.1" opacity="0.6"/>
<rect x="334.0" y="96.1" width="1.1" height="1.1" opacity="0.6"/>
<rect x="334.1" y="82.5" width="1.1" height="1.1" opacity="0.6"/>
<rect x="333.9" y="97.3" width="1.1" height="1.1" opacity="0.6"/>
<rect x="329.9" y="90.7" width="1.1" height="1.1" opacity="0.6"/>
<rect x="323.8" y="97.9" width="1.1" height="1.1" opacity="0.6"/>
<rect x="333.2" y="97.0" width="1.1" height="1.1" opacity="0.6"/>
<rect x="329.0" y="93.0" width="1.1" height="1.1" opacity="0.6"/>
<rect x="331.4" y="84.2" width="1.1" height="1.1" opacity="0.6"/>
<rect x="327.8" y="84.9" width="1.1" height="1.1" opacity="0.6"/>
<rect x="322.4" y="95.8" width="1.1" height="1.1" opacity="0.6"/>
<rect x="322.7" y="93.8" width="1.1" height="1.1" opacity="0.6"/>
<rect x="334.4" y="83.6" width="1.1" height="1.1" opacity="0.6"/>
<rect x="334.2" y="98.1" width="1.1" height="1.1" opacity="0.6"/>
<rect x="332.7" y="95.5" width="1.1" height="1.1" opacity="0.6"/>
<rect x="322.2" y="84.6" width="1.1" height="1.1" opacity="0.6"/>
<rect x="331.3" y="91.7" width="1.1" height="1.1" opacity="0.6"/>
<rect x="324.5" y="86.1" width="1.1" height="1.1" opacity="0.6"/>
<rect x="327.9" y="92.0" width="1.1" height="1.1" opacity="0.6"/>
<rect x="334.1" y="96.1" width="1.1" height="1.1" opacity="0.6"/>
<rect x="327.8" y="90.6" width="1.1" height="1.1" opacity="0.6"/>
<rect x="325.4" y="84.0" width="1.1" height="1.1" opacity="0.6"/>
<rect x="322.3" y="96.7" width="1.1" height="1.1" opacity="0.6"/>
<rect x="334.3" y="84.0" width="1.1" height="1.1" opacity="0.6"/>
<rect x="329.2" y="96.8" width="1.1" height="1.1" opacity="0.6"/>
<rect x="327.3" y="96.0" width="1.1" height="1.1" opacity="0.6"/>
<rect x="333.2" y="94.4" width="1.1" height="1.1" opacity="0.6"/>
<rect x="329.9" y="88.8" width="1.1" height="1.1" opacity="0.6"/>
<rect x="334.3" y="87.5" width="1.1" height="1.1" opacity="0.6"/>
<rect x="328.4" y="92.7" width="1.1" height="1.1" opacity="0.6"/>
<rect x="327.6" y="86.2" width="1.1" height="1.1" opacity="0.6"/>
<rect x="334.5" y="92.7" width="1.1" height="1.1" opacity="0.6"/>
<rect x="327.5" y="88.2" width="1.1" height="1.1" opacity="0.6"/>
<rect x="328.0" y="96.8" width="1.1" height="1.1" opacity="0.6"/>
<rect x="322.4" y="86.5" width="1.1" height="1.1" opacity="0.6"/>
<rect x="333.2" y="93.4" width="1.1" height="1.1" opacity="0.6"/>
<rect x="322.4" y="96.5" width="1.1" height="1.1" opacity="0.6"/>
<rect x="331.4" y="82.4" width="1.1" height="1.1" opacity="0.6"/>
<rect x="323.5" y="96.2" width="1.1" height="1.1" opacity="0.6"/>
<rect x="326.6" y="94.5" width="1.1" height="1.1" opacity="0.6"/>
<rect x="327.8" y="87.0" width="1.1" height="1.1" opacity="0.6"/>
<rect x="334.0" y="96.4" width="1.1" height="1.1" opacity="0.6"/>
<rect x="333.4" y="95.8" width="1.1" height="1.1" opacity="0.6"/>
<rect x="334.4" y="97.3" width="1.1" height="1.1" opacity="0.6"/>
<rect x="331.4" y="93.6" width="1.1" height="1.1" opacity="0.6"/>
<rect x="334.3" y="90.7" width="1.1" height="1.1" opacity="0.6"/>
<rect x="322.7" y="90.8" width="1.1" height="1.1" opacity="0.6"/>
<rect x="332.0" y="88.3" width="1.1" height="1.1" opacity="0.6"/>
<rect x="331.0" y="96.9" width="1.1" height="1.1" opacity="0.6"/>
<rect x="330.5" y="98.1" width="1.1" height="1.1" opacity="0.6"/>
<rect x="327.6" y="97.0" width="1.1" height="1.1" opacity="0.6"/>
<rect x="331.9" y="82.4" width="1.1" height="1.1" opacity="0.6"/>
<rect x="326.0" y="85.4" width="1.1" height="1.1" opacity="0.6"/>
<rect x="328.1" y="89.7" width="1.1" height="1.1" opacity="0.6"/>
<rect x="327.1" y="82.3" width="1.1" height="1.1" opacity="0.6"/>
<rect x="333.5" y="87.0" width="1.1" height="1.1" opacity="0.6"/>
<rect x="332.6" y="96.0" width="1.1" height="1.1" opacity="0.6"/>
<rect x="325.0" y="90.4" width="1.1" height="1.1" opacity="0.6"/>
<rect x="324.5" y="84.5" width="1.1" height="1.1" opacity="0.6"/>
<rect x="328.9" y="96.6" width="1.1" height="1.1" opacity="0.6"/>
<rect x="334.5" y="91.6" width="1.1" height="1.1" opacity="0.6"/>
<rect x="326.7" y="95.7" width="1.1" height="1.1" opacity="0.6"/>
<rect x="334.3" y="98.1" width="1.1" height="1.1" opacity="0.6"/>
<rect x="333.7" y="88.5" width="1.1" height="1.1" opacity="0.6"/>
<rect x="334.5" y="96.3" width="1.1" height="1.1" opacity="0.6"/>
<rect x="332.9" y="88.1" width="1.1" height="1.1" opacity="0.6"/>
<rect x="321.8" y="98.1" width="1.1" height="1.1" opacity="0.6"/>
<rect x="334.1" y="83.1" width="1.1" height="1.1" opacity="0.6"/>
<rect x="322.1" y="97.1" width="1.1" height="1.1" opacity="0.6"/>
<rect x="332.2" y="91.8" width="1.1" height="1.1" opacity="0.6"/>
<rect x="332.4" y="93.6" width="1.1" height="1.1" opacity="0.6"/>
<rect x="330.5" y="95.9" width="1.1" height="1.1" opacity="0.6"/>
<rect x="334.4" y="97.7" width="1.1" height="1.1" opacity="0.6"/>
<rect x="333.8" y="97.6" width="1.1" height="1.1" opacity="0.6"/>
<rect x="328.4" y="88.4" width="1.1" height="1.1" opacity="0.6"/>
<rect x="333.0" y="86.4" width="1.1" height="1.1" opacity="0.6"/>
<rect x="326.7" y="94.8" width="1.1" height="1.1" opacity="0.6"/>
<rect x="330.3" y="96.7" width="1.1" height="1.1" opacity="0.6"/>
<rect x="322.9" y="91.1" width="1.1" height="1.1" opacity="0.6"/>
<rect x="334.4" y="97.1" width="1.1" height="1.1" opacity="0.6"/>
<rect x="327.3" y="94.1" width="1.1" height="1.1" opacity="0.6"/>
<rect x="326.9" y="96.3" width="1.1" height="1.1" opacity="0.6"/>
<rect x="325.5" y="86.2" width="1.1" height="1.1" opacity="0.6"/>
<rect x="334.2" y="90.6" width="1.1" height="1.1" opacity="0.6"/>
<rect x="333.6" y="88.2" width="1.1" height="1.1" opacity="0.6"/>
<rect x="325.3" y="86.4" width="1.1" height="1.1" opacity="0.6"/>
<rect x="333.3" y="97.6" width="1.1" height="1.1" opacity="0.6"/>
<rect x="327.8" y="91.0" width="1.1" height="1.1" opacity="0.6"/>
<rect x="334.0" y="96.7" width="1.1" height="1.1" opacity="0.6"/>
<rect x="329.0" y="97.5" width="1.1" height="1.1" opacity="0.6"/>
<rect x="328.2" y="96.1" width="1.1" height="1.1" opacity="0.6"/>
<rect x="333.0" y="93.5" width="1.1" height="1.1" opacity="0.6"/>
<rect x="329.7" y="87.9" width="1.1" height="1.1" opacity="0.6"/>
<rect x="334.5" y="87.9" width="1.1" height="1.1" opacity="0.6"/>
<rect x="333.3" y="95.5" width="1.1" height="1.1" opacity="0.6"/>
<rect x="328.1" y="88.6" width="1.1" height="1.1" opacity="0.6"/>
<rect x="328.5" y="83.9" width="1.1" height="1.1" opacity="0.6"/>
<rect x="333.5" y="95.2" width="1.1" height="1.1" opacity="0.6"/>
<rect x="327.8" y="95.9" width="1.1" height="1.1" opacity="0.6"/>
<rect x="333.8" y="96.3" width="1.1" height="1.1" opacity="0.6"/>
<rect x="325.9" y="85.6" width="1.1" height="1.1" opacity="0.6"/>
<rect x="326.9" y="82.5" width="1.1" height="1.1" opacity="0.6"/>
<rect x="325.5" y="95.2" width="1.1" height="1.1" opacity="0.6"/>
<rect x="332.4" y="87.9" width="1.1" height="1.1" opacity="0.6"/>
<rect x="334.4" y="90.2" width="1.1" height="1.1" opacity="0.6"/>
<rect x="334.2" y="97.9" width="1.1" height="1.1" opacity="0.6"/>
<rect x="330.0" y="97.1" width="1.1" height="1.1" opacity="0.6"/>
<rect x="322.9" y="84.5" width="1.1" height="1.1" opacity="0.6"/>
<rect x="330.7" y="96.6" width="1.1" height="1.1" opacity="0.6"/>
<rect x="334.1" y="92.1" width="1.1" height="1.1" opacity="0.6"/>
<rect x="329.9" y="94.5" width="1.1" height="1.1" opacity="0.6"/>
<rect x="326.9" y="91.7" width="1.1" height="1.1" opacity="0.6"/>
<rect x="325.8" y="97.5" width="1.1" height="1.1" opacity="0.6"/>
<rect x="334.3" y="94.1" width="1.1" height="1.1" opacity="0.6"/>
<rect x="330.4" y="96.0" width="1.1" height="1.1" opacity="0.6"/>
<rect x="327.7" y="96.4" width="1.1" height="1.1" opacity="0.6"/>
<rect x="332.4" y="92.6" width="1.1" height="1.1" opacity="0.6"/>
<rect x="326.9" y="86.9" width="1.1" height="1.1" opacity="0.6"/>
<rect x="331.8" y="93.1" width="1.1" height="1.1" opacity="0.6"/>
<rect x="323.0" y="83.1" width="1.1" height="1.1" opacity="0.6"/>
<rect x="328.5" y="97.5" width="1.1" height="1.1" opacity="0.6"/>
<rect x="330.8" y="89.7" width="1.1" height="1.1" opacity="0.6"/>
<rect x="332.8" y="98.0" width="1.1" height="1.1" opacity="0.6"/>
<rect x="321.9" y="83.7" width="1.1" height="1.1" opacity="0.6"/>
<rect x="334.0" y="92.8" width="1.1" height="1.1" opacity="0.6"/>
<rect x="328.5" y="95.4" width="1.1" height="1.1" opacity="0.6"/>
<rect x="334.3" y="87.3" width="1.1" height="1.1" opacity="0.6"/>
<rect x="325.9" y="93.3" width="1.1" height="1.1" opacity="0.6"/>
<rect x="334.2" y="94.0" width="1.1" height="1.1" opacity="0.6"/>
<rect x="334.2" y="82.4" width="1.1" height="1.1" opacity="0.6"/>
<rect x="334.4" y="95.5" width="1.1" height="1.1" opacity="0.6"/>
<rect x="326.0" y="97.3" width="1.1" height="1.1" opacity="0.6"/>
<rect x="334.1" y="97.8" width="1.1" height="1.1" opacity="0.6"/>
<rect x="333.8" y="91.7" width="1.1" height="1.1" opacity="0.6"/>
<rect x="324.8" y="96.9" width="1.1" height="1.1" opacity="0.6"/>
<rect x="333.7" y="87.0" width="1.1" height="1.1" opacity="0.6"/>
<rect x="331.2" y="94.8" width="1.1" height="1.1" opacity="0.6"/>
<rect x="334.0" y="96.1" width="1.1" height="1.1" opacity="0.6"/>
<rect x="322.1" y="97.4" width="1.1" height="1.1" opacity="0.6"/>
<rect x="333.0" y="87.5" width="1.1" height="1.1" opacity="0.6"/>
<rect x="323.7" y="83.8" width="1.1" height="1.1" opacity="0.6"/>
<rect x="330.6" y="82.6" width="1.1" height="1.1" opacity="0.6"/>
<rect x="328.7" y="95.5" width="1.1" height="1.1" opacity="0.6"/>
<rect x="330.7" y="88.0" width="1.1" height="1.1" opacity="0.6"/>
<rect x="326.6" y="97.3" width="1.1" height="1.1" opacity="0.6"/>
<rect x="333.6" y="82.5" width="1.1" height="1.1" opacity="0.6"/>
<rect x="334.1" y="85.9" width="1.1" height="1.1" opacity="0.6"/>
<rect x="332.2" y="96.1" width="1.1" height="1.1" opacity="0.6"/>
<rect x="333.0" y="92.8" width="1.1" height="1.1" opacity="0.6"/>
<rect x="321.7" y="97.1" width="1.1" height="1.1" opacity="0.6"/>
<rect x="324.4" y="95.1" width="1.1" height="1.1" opacity="0.6"/>
<rect x="333.7" y="87.4" width="1.1" height="1.1" opacity="0.6"/>
<rect x="332.2" y="96.8" width="1.1" height="1.1" opacity="0.6"/>
<rect x="331.3" y="85.7" width="1.1" height="1.1" opacity="0.6"/>
<rect x="324.2" y="90.9" width="1.1" height="1.1" opacity="0.6"/>
<rect x="334.5" y="87.0" width="1.1" height="1.1" opacity="0.6"/>
<rect x="328.7" y="83.9" width="1.1" height="1.1" opacity="0.6"/>
<rect x="322.5" y="95.0" width="1.1" height="1.1" opacity="0.6"/>
<rect x="324.5" y="85.8" width="1.1" height="1.1" opacity="0.6"/>
<rect x="332.9" y="94.4" width="1.1" height="1.1" opacity="0.6"/>
<rect x="331.8" y="94.6" width="1.1" height="1.1" opacity="0.6"/>
<rect x="331.8" y="97.5" width="1.1" height="1.1" opacity="0.6"/>
<rect x="333.3" y="83.7" width="1.1" height="1.1" opacity="0.6"/>
<rect x="331.4" y="89.7" width="1.1" height="1.1" opacity="0.6"/>
<rect x="323.8" y="87.2" width="1.1" height="1.1" opacity="0.6"/>
<rect x="333.1" y="83.5" width="1.1" height="1.1" opacity="0.6"/>
<rect x="325.3" y="81.7" width="1.1" height="1.1" opacity="0.6"/>
<rect x="326.7" y="87.2" width="1.1" height="1.1" opacity="0.6"/>
<rect x="325.2" y="96.0" width="1.1" height="1.1" opacity="0.6"/>
<rect x="327.9" y="94.2" width="1.1" height="1.1" opacity="0.6"/>
<rect x="324.7" y="97.3" width="1.1" height="1.1" opacity="0.6"/>
<rect x="329.7" y="94.9" width="1.1" height="1.1" opacity="0.6"/>
<rect x="325.0" y="94.7" width="1.1" height="1.1" opacity="0.6"/>
<rect x="324.6" y="85.1" width="1.1" height="1.1" opacity="0.6"/>
<rect x="323.9" y="97.2" width="1.1" height="1.1" opacity="0.6"/>
<rect x="322.8" y="87.4" width="1.1" height="1.1" opacity="0.6"/>
<rect x="327.5" y="89.4" width="1.1" height="1.1" opacity="0.6"/>
<rect x="334.4" y="84.6" width="1.1" height="1.1" opacity="0.6"/>
<rect x="329.5" y="93.0" width="1.1" height="1.1" opacity="0.6"/>
<rect x="332.2" y="86.6" width="1.1" height="1.1" opacity="0.6"/>
<rect x="325.7" y="84.6" width="1.1" height="1.1" opacity="0.6"/>
<rect x="333.4" y="94.8" width="1.1" height="1.1" opacity="0.6"/>
<rect x="333.1" y="97.6" width="1.1" height="1.1" opacity="0.6"/>
<rect x="332.3" y="98.0" width="1.1" height="1.1" opacity="0.6"/>
<rect x="325.5" y="96.3" width="1.1" height="1.1" opacity="0.6"/>
<rect x="334.3" y="97.8" width="1.1" height="1.1" opacity="0.6"/>
<rect x="326.5" y="96.6" width="1.1" height="1.1" opacity="0.6"/>
<rect x="330.7" y="93.9" width="1.1" height="1.1" opacity="0.6"/>
<rect x="325.4" y="82.6" width="1.1" height="1.1" opacity="0.6"/>
<rect x="332.5" y="89.8" width="1.1" height="1.1" opacity="0.6"/>
<rect x="323.6" y="92.7" width="1.1" height="1.1" opacity="0.6"/>
<rect x="323.5" y="87.7" width="1.1" height="1.1" opacity="0.6"/>
<rect x="332.5" y="84.5" width="1.1" height="1.1" opacity="0.6"/>
<rect x="329.2" y="97.5" width="1.1" height="1.1" opacity="0.6"/>
<rect x="328.9" y="85.6" width="1.1" height="1.1" opacity="0.6"/>
<rect x="330.0" y="92.5" width="1.1" height="1.1" opacity="0.6"/>
<rect x="331.3" y="84.4" width="1.1" height="1.1" opacity="0.6"/>
<rect x="327.7" y="96.5" width="1.1" height="1.1" opacity="0.6"/>
<rect x="331.9" y="94.5" width="1.1" height="1.1" opacity="0.6"/>
<rect x="322.3" y="88.5" width="1.1" height="1.1" opacity="0.6"/>
<rect x="334.0" y="83.6" width="1.1" height="1.1" opacity="0.6"/>
<rect x="334.4" y="90.6" width="1.1" height="1.1" opacity="0.6"/>
<rect x="331.1" y="88.0" width="1.1" height="1.1" opacity="0.6"/>
<rect x="331.1" y="97.6" width="1.1" height="1.1" opacity="0.6"/>
<rect x="329.9" y="85.8" width="1.1" height="1.1" opacity="0.6"/>
<rect x="325.6" y="94.6" width="1.1" height="1.1" opacity="0.6"/>
<rect x="333.3" y="87.4" width="1.1" height="1.1" opacity="0.6"/>
<rect x="325.4" y="96.4" width="1.1" height="1.1" opacity="0.6"/>
<rect x="323.8" y="81.7" width="1.1" height="1.1" opacity="0.6"/>
<rect x="331.1" y="94.2" width="1.1" height="1.1" opacity="0.6"/>
<rect x="327.0" y="83.2" width="1.1" height="1.1" opacity="0.6"/>
<rect x="333.5" y="95.3" width="1.1" height="1.1" opacity="0.6"/>
<rect x="332.3" y="87.7" width="1.1" height="1.1" opacity="0.6"/>
<rect x="333.6" y="91.4" width="1.1" height="1.1" opacity="0.6"/>
<rect x="330.2" y="89.0" width="1.1" height="1.1" opacity="0.6"/>
<rect x="333.9" y="82.6" width="1.1" height="1.1" opacity="0.6"/>
<rect x="321.5" y="91.1" width="1.1" height="1.1" opacity="0.6"/>
<rect x="325.5" y="96.8" width="1.1" height="1.1" opacity="0.6"/>
<rect x="323.3" y="91.3" width="1.1" height="1.1" opacity="0.6"/>
<rect x="326.1" y="84.7" width="1.1" height="1.1" opacity="0.6"/>
<rect x="331.9" y="83.4" width="1.1" height="1.1" opacity="0.6"/>
<rect x="333.5" y="98.0" width="1.1" height="1.1" opacity="0.6"/>
<rect x="330.2" y="84.0" width="1.1" height="1.1" opacity="0.6"/>
<rect x="323.5" y="82.6" width="1.1" height="1.1" opacity="0.6"/>
<rect x="330.1" y="83.1" width="1.1" height="1.1" opacity="0.6"/>
<rect x="329.4" y="97.2" width="1.1" height="1.1" opacity="0.6"/>
<rect x="328.3" y="86.1" width="1.1" height="1.1" opacity="0.6"/>
<rect x="331.2" y="90.3" width="1.1" height="1.1" opacity="0.6"/>
<rect x="333.0" y="95.7" width="1.1" height="1.1" opacity="0.6"/>
<rect x="331.3" y="92.0" width="1.1" height="1.1" opacity="0.6"/>
<rect x="330.6" y="97.6" width="1.1" height="1.1" opacity="0.6"/>
<rect x="334.5" y="94.8" width="1.1" height="1.1" opacity="0.6"/>
<rect x="326.9" y="87.4" width="1.1" height="1.1" opacity="0.6"/>
<rect x="333.2" y="96.0" width="1.1" height="1.1" opacity="0.6"/>
<rect x="330.0" y="96.9" width="1.1" height="1.1" opacity="0.6"/>
<rect x="328.7" y="83.8" width="1.1" height="1.1" opacity="0.6"/>
<rect x="333.5" y="90.7" width="1.1" height="1.1" opacity="0.6"/>
<rect x="326.8" y="87.3" width="1.1" height="1.1" opacity="0.6"/>
<rect x="326.9" y="88.2" width="1.1" height="1.1" opacity="0.6"/>
<rect x="332.9" y="85.4" width="1.1" height="1.1" opacity="0.6"/>
</g>
<g fill="#ff1010">
<rect x="351.6" y="89.5" width="7" height="9.1" fill="#f00808" opacity="0.75"/>
<rect x="378.8" y="97.2" width="1.1" height="1.1" opacity="0.6"/>
<rect x="379.5" y="84.7" width="1.1" height="1.1" opacity="0.6"/>
<rect x="353.3" y="96.8" width="1.1" height="1.1" opacity="0.6"/>
<rect x="374.4" y="74.8" width="1.1" height="1.1" opacity="0.6"/>
<rect x="354.6" y="84.0" width="1.1" height="1.1" opacity="0.6"/>
<rect x="369.1" y="59.6" width="1.1" height="1.1" opacity="0.6"/>
<rect x="359.8" y="70.7" width="1.1" height="1.1" opacity="0.6"/>
<rect x="357.2" y="93.3" width="1.1" height="1.1" opacity="0.6"/>
<rect x="355.0" y="85.9" width="1.1" height="1.1" opacity="0.6"/>
<rect x="368.4" y="89.8" width="1.1" height="1.1" opacity="0.6"/>
<rect x="355.1" y="92.7" width="1.1" height="1.1" opacity="0.6"/>
<rect x="353.2" y="93.5" width="1.1" height="1.1" opacity="0.6"/>
<rect x="359.2" y="82.2" width="1.1" height="1.1" opacity="0.6"/>
<rect x="355.6" y="83.2" width="1.1" height="1.1" opacity="0.6"/>
<rect x="362.8" y="60.8" width="1.1" height="1.1" opacity="0.6"/>
<rect x="364.2" y="62.2" width="1.1" height="1.1" opacity="0.6"/>
<rect x="363.8" y="93.3" width="1.1" height="1.1" opacity="0.6"/>
<rect x="367.6" y="94.9" width="1.1" height="1.1" opacity="0.6"/>
<rect x="355.2" y="96.7" width="1.1" height="1.1" opacity="0.6"/>
<rect x="371.2" y="61.1" width="1.1" height="1.1" opacity="0.6"/>
<rect x="361.7" y="88.0" width="1.1" height="1.1" opacity="0.6"/>
<rect x="362.4" y="88.1" width="1.1" height="1.1" opacity="0.6"/>
<rect x="370.8" y="86.6" width="1.1" height="1.1" opacity="0.6"/>
<rect x="354.8" y="66.1" width="1.1" height="1.1" opacity="0.6"/>
<rect x="367.0" y="97.9" width="1.1" height="1.1" opacity="0.6"/>
<rect x="376.2" y="72.5" width="1.1" height="1.1" opacity="0.6"/>
<rect x="360.3" y="76.9" width="1.1" height="1.1" opacity="0.6"/>
<rect x="378.7" y="86.2" width="1.1" height="1.1" opacity="0.6"/>
<rect x="362.6" y="90.0" width="1.1" height="1.1" opacity="0.6"/>
<rect x="366.4" y="75.4" width="1.1" height="1.1" opacity="0.6"/>
<rect x="372.3" y="62.0" width="1.1" height="1.1" opacity="0.6"/>
<rect x="354.6" y="87.6" width="1.1" height="1.1" opacity="0.6"/>
<rect x="376.3" y="69.6" width="1.1" height="1.1" opacity="0.6"/>
<rect x="367.5" y="74.8" width="1.1" height="1.1" opacity="0.6"/>
<rect x="359.9" y="62.2" width="1.1" height="1.1" opacity="0.6"/>
<rect x="366.2" y="86.2" width="1.1" height="1.1" opacity="0.6"/>
<rect x="355.6" y="95.7" width="1.1" height="1.1" opacity="0.6"/>
<rect x="377.9" y="69.2" width="1.1" height="1.1" opacity="0.6"/>
<rect x="352.1" y="89.1" width="1.1" height="1.1" opacity="0.6"/>
<rect x="364.0" y="82.5" width="1.1" height="1.1" opacity="0.6"/>
<rect x="360.5" y="64.7" width="1.1" height="1.1" opacity="0.6"/>
<rect x="360.2" y="81.1" width="1.1" height="1.1" opacity="0.6"/>
<rect x="379.0" y="76.5" width="1.1" height="1.1" opacity="0.6"/>
<rect x="364.0" y="88.8" width="1.1" height="1.1" opacity="0.6"/>
<rect x="361.2" y="77.8" width="1.1" height="1.1" opacity="0.6"/>
<rect x="368.7" y="95.2" width="1.1" height="1.1" opacity="0.6"/>
<rect x="356.1" y="92.6" width="1.1" height="1.1" opacity="0.6"/>
<rect x="356.0" y="76.8" width="1.1" height="1.1" opacity="0.6"/>
<rect x="360.5" y="94.9" width="1.1" height="1.1" opacity="0.6"/>
<rect x="355.3" y="80.1" width="1.1" height="1.1" opacity="0.6"/>
<rect x="352.5" y="84.5" width="1.1" height="1.1" opacity="0.6"/>
<rect x="351.3" y="96.2" width="1.1" height="1.1" opacity="0.6"/>
<rect x="351.5" y="80.7" width="1.1" height="1.1" opacity="0.6"/>
<rect x="352.3" y="95.7" width="1.1" height="1.1" opacity="0.6"/>
<rect x="351.5" y="95.1" width="1.1" height="1.1" opacity="0.6"/>
<rect x="366.8" y="83.5" width="1.1" height="1.1" opacity="0.6"/>
<rect x="373.6" y="75.5" width="1.1" height="1.1" opacity="0.6"/>
<rect x="360.8" y="76.5" width="1.1" height="1.1" opacity="0.6"/>
<rect x="351.7" y="76.4" width="1.1" height="1.1" opacity="0.6"/>
<rect x="357.6" y="96.2" width="1.1" height="1.1" opacity="0.6"/>
<rect x="367.3" y="78.8" width="1.1" height="1.1" opacity="0.6"/>
<rect x="356.5" y="97.5" width="1.1" height="1.1" opacity="0.6"/>
<rect x="372.1" y="82.4" width="1.1" height="1.1" opacity="0.6"/>
<rect x="362.2" y="74.4" width="1.1" height="1.1" opacity="0.6"/>
<rect x="351.4" y="97.8" width="1.1" height="1.1" opacity="0.6"/>
<rect x="352.1" y="97.9" width="1.1" height="1.1" opacity="0.6"/>
<rect x="365.9" y="86.3" width="1.1" height="1.1" opacity="0.6"/>
<rect x="351.9" y="96.7" width="1.1" height="1.1" opacity="0.6"/>
<rect x="352.7" y="86.9" width="1.1" height="1.1" opacity="0.6"/>
<rect x="364.6" y="74.7" width="1.1" height="1.1" opacity="0.6"/>
<rect x="355.9" y="74.3" width="1.1" height="1.1" opacity="0.6"/>
<rect x="357.7" y="92.5" width="1.1" height="1.1" opacity="0.6"/>
<rect x="353.8" y="95.6" width="1.1" height="1.1" opacity="0.6"/>
<rect x="376.4" y="73.7" width="1.1" height="1.1" opacity="0.6"/>
<rect x="365.8" y="96.5" width="1.1" height="1.1" opacity="0.6"/>
<rect x="352.7" y="96.8" width="1.1" height="1.1" opacity="0.6"/>
<rect x="355.7" y="83.0" width="1.1" height="1.1" opacity="0.6"/>
<rect x="351.5" y="89.1" width="1.1" height="1.1" opacity="0.6"/>
<rect x="364.9" y="97.9" width="1.1" height="1.1" opacity="0.6"/>
<rect x="357.8" y="81.2" width="1.1" height="1.1" opacity="0.6"/>
<rect x="361.5" y="91.1" width="1.1" height="1.1" opacity="0.6"/>
<rect x="372.4" y="87.2" width="1.1" height="1.1" opacity="0.6"/>
<rect x="355.4" y="92.4" width="1.1" height="1.1" opacity="0.6"/>
<rect x="375.0" y="78.8" width="1.1" height="1.1" opacity="0.6"/>
<rect x="373.8" y="88.3" width="1.1" height="1.1" opacity="0.6"/>
<rect x="352.3" y="96.5" width="1.1" height="1.1" opacity="0.6"/>
<rect x="356.4" y="84.4" width="1.1" height="1.1" opacity="0.6"/>
<rect x="351.3" y="80.8" width="1.1" height="1.1" opacity="0.6"/>
<rect x="368.7" y="89.5" width="1.1" height="1.1" opacity="0.6"/>
<rect x="351.3" y="80.9" width="1.1" height="1.1" opacity="0.6"/>
<rect x="357.2" y="85.1" width="1.1" height="1.1" opacity="0.6"/>
<rect x="361.4" y="83.2" width="1.1" height="1.1" opacity="0.6"/>
<rect x="357.0" y="75.1" width="1.1" height="1.1" opacity="0.6"/>
<rect x="375.5" y="76.2" width="1.1" height="1.1" opacity="0.6"/>
<rect x="362.8" y="94.1" width="1.1" height="1.1" opacity="0.6"/>
<rect x="356.3" y="95.0" width="1.1" height="1.1" opacity="0.6"/>
<rect x="373.4" y="81.1" width="1.1" height="1.1" opacity="0.6"/>
<rect x="368.8" y="80.1" width="1.1" height="1.1" opacity="0.6"/>
<rect x="377.1" y="84.5" width="1.1" height="1.1" opacity="0.6"/>
<rect x="355.0" y="82.3" width="1.1" height="1.1" opacity="0.6"/>
<rect x="354.0" y="86.9" width="1.1" height="1.1" opacity="0.6"/>
<rect x="352.4" y="78.8" width="1.1" height="1.1" opacity="0.6"/>
<rect x="359.1" y="94.9" width="1.1" height="1.1" opacity="0.6"/>
<rect x="374.2" y="97.5" width="1.1" height="1.1" opacity="0.6"/>
<rect x="374.5" y="82.3" width="1.1" height="1.1" opacity="0.6"/>
<rect x="352.3" y="82.2" width="1.1" height="1.1" opacity="0.6"/>
<rect x="361.5" y="77.0" width="1.1" height="1.1" opacity="0.6"/>
<rect x="361.9" y="91.7" width="1.1" height="1.1" opacity="0.6"/>
<rect x="374.6" y="97.5" width="1.1" height="1.1" opacity="0.6"/>
<rect x="368.4" y="97.4" width="1.1" height="1.1" opacity="0.6"/>
<rect x="354.2" y="97.2" width="1.1" height="1.1" opacity="0.6"/>
<rect x="372.0" y="91.4" width="1.1" height="1.1" opacity="0.6"/>
<rect x="366.5" y="95.2" width="1.1" height="1.1" opacity="0.6"/>
<rect x="366.7" y="85.7" width="1.1" height="1.1" opacity="0.6"/>
<rect x="351.8" y="90.1" width="1.1" height="1.1" opacity="0.6"/>
<rect x="366.4" y="95.9" width="1.1" height="1.1" opacity="0.6"/>
<rect x="364.0" y="94.8" width="1.1" height="1.1" opacity="0.6"/>
<rect x="356.1" y="76.6" width="1.1" height="1.1" opacity="0.6"/>
<rect x="375.0" y="73.6" width="1.1" height="1.1" opacity="0.6"/>
<rect x="357.5" y="88.0" width="1.1" height="1.1" opacity="0.6"/>
<rect x="369.6" y="82.3" width="1.1" height="1.1" opacity="0.6"/>
<rect x="358.2" y="78.6" width="1.1" height="1.1" opacity="0.6"/>
<rect x="356.8" y="75.4" width="1.1" height="1.1" opacity="0.6"/>
<rect x="358.6" y="97.2" width="1.1" height="1.1" opacity="0.6"/>
<rect x="367.3" y="96.9" width="1.1" height="1.1" opacity="0.6"/>
<rect x="364.9" y="97.8" width="1.1" height="1.1" opacity="0.6"/>
<rect x="377.0" y="88.8" width="1.1" height="1.1" opacity="0.6"/>
<rect x="367.0" y="97.1" width="1.1" height="1.1" opacity="0.6"/>
<rect x="363.5" y="92.9" width="1.1" height="1.1" opacity="0.6"/>
<rect x="353.8" y="80.3" width="1.1" height="1.1" opacity="0.6"/>
<rect x="351.4" y="90.5" width="1.1" height="1.1" opacity="0.6"/>
<rect x="351.7" y="79.1" width="1.1" height="1.1" opacity="0.6"/>
<rect x="372.9" y="97.9" width="1.1" height="1.1" opacity="0.6"/>
<rect x="358.4" y="90.7" width="1.1" height="1.1" opacity="0.6"/>
<rect x="366.2" y="83.2" width="1.1" height="1.1" opacity="0.6"/>
<rect x="355.6" y="76.1" width="1.1" height="1.1" opacity="0.6"/>
<rect x="352.8" y="97.0" width="1.1" height="1.1" opacity="0.6"/>
<rect x="369.8" y="97.2" width="1.1" height="1.1" opacity="0.6"/>
<rect x="352.8" y="89.9" width="1.1" height="1.1" opacity="0.6"/>
<rect x="355.4" y="96.6" width="1.1" height="1.1" opacity="0.6"/>
<rect x="374.5" y="90.6" width="1.1" height="1.1" opacity="0.6"/>
<rect x="368.7" y="95.3" width="1.1" height="1.1" opacity="0.6"/>
<rect x="373.7" y="95.8" width="1.1" height="1.1" opacity="0.6"/>
<rect x="373.5" y="86.8" width="1.1" height="1.1" opacity="0.6"/>
<rect x="376.2" y="81.8" width="1.1" height="1.1" opacity="0.6"/>
<rect x="363.3" y="89.0" width="1.1" height="1.1" opacity="0.6"/>
<rect x="371.4" y="91.3" width="1.1" height="1.1" opacity="0.6"/>
<rect x="351.8" y="76.8" width="1.1" height="1.1" opacity="0.6"/>
<rect x="369.4" y="84.7" width="1.1" height="1.1" opacity="0.6"/>
<rect x="367.2" y="95.6" width="1.1" height="1.1" opacity="0.6"/>
<rect x="358.4" y="80.1" width="1.1" height="1.1" opacity="0.6"/>
<rect x="375.8" y="76.4" width="1.1" height="1.1" opacity="0.6"/>
<rect x="352.5" y="84.7" width="1.1" height="1.1" opacity="0.6"/>
<rect x="360.9" y="92.2" width="1.1" height="1.1" opacity="0.6"/>
<rect x="352.6" y="97.0" width="1.1" height="1.1" opacity="0.6"/>
<rect x="358.6" y="90.1" width="1.1" height="1.1" opacity="0.6"/>
<rect x="354.1" y="93.1" width="1.1" height="1.1" opacity="0.6"/>
<rect x="360.9" y="82.1" width="1.1" height="1.1" opacity="0.6"/>
<rect x="362.0" y="96.7" width="1.1" height="1.1" opacity="0.6"/>
<rect x="372.6" y="93.1" width="1.1" height="1.1" opacity="0.6"/>
<rect x="375.7" y="74.2" width="1.1" height="1.1" opacity="0.6"/>
<rect x="352.2" y="87.7" width="1.1" height="1.1" opacity="0.6"/>
<rect x="376.0" y="92.7" width="1.1" height="1.1" opacity="0.6"/>
<rect x="360.7" y="94.2" width="1.1" height="1.1" opacity="0.6"/>
<rect x="351.4" y="96.1" width="1.1" height="1.1" opacity="0.6"/>
<rect x="352.1" y="94.7" width="1.1" height="1.1" opacity="0.6"/>
<rect x="363.2" y="88.2" width="1.1" height="1.1" opacity="0.6"/>
<rect x="375.2" y="84.6" width="1.1" height="1.1" opacity="0.6"/>
<rect x="356.0" y="75.5" width="1.1" height="1.1" opacity="0.6"/>
<rect x="363.4" y="88.8" width="1.1" height="1.1" opacity="0.6"/>
<rect x="371.7" y="85.1" width="1.1" height="1.1" opacity="0.6"/>
<rect x="355.9" y="87.0" width="1.1" height="1.1" opacity="0.6"/>
<rect x="354.7" y="74.7" width="1.1" height="1.1" opacity="0.6"/>
<rect x="353.7" y="74.6" width="1.1" height="1.1" opacity="0.6"/>
<rect x="351.5" y="98.0" width="1.1" height="1.1" opacity="0.6"/>
<rect x="360.9" y="96.0" width="1.1" height="1.1" opacity="0.6"/>
<rect x="359.6" y="97.2" width="1.1" height="1.1" opacity="0.6"/>
<rect x="370.7" y="85.1" width="1.1" height="1.1" opacity="0.6"/>
<rect x="365.0" y="76.3" width="1.1" height="1.1" opacity="0.6"/>
<rect x="377.1" y="84.8" width="1.1" height="1.1" opacity="0.6"/>
<rect x="366.0" y="98.0" width="1.1" height="1.1" opacity="0.6"/>
<rect x="351.5" y="91.7" width="1.1" height="1.1" opacity="0.6"/>
<rect x="376.1" y="94.2" width="1.1" height="1.1" opacity="0.6"/>
<rect x="361.3" y="98.0" width="1.1" height="1.1" opacity="0.6"/>
<rect x="357.2" y="77.2" width="1.1" height="1.1" opacity="0.6"/>
<rect x="362.0" y="80.0" width="1.1" height="1.1" opacity="0.6"/>
<rect x="351.3" y="96.1" width="1.1" height="1.1" opacity="0.6"/>
<rect x="352.7" y="79.7" width="1.1" height="1.1" opacity="0.6"/>
<rect x="351.8" y="76.1" width="1.1" height="1.1" opacity="0.6"/>
<rect x="354.1" y="78.0" width="1.1" height="1.1" opacity="0.6"/>
<rect x="359.8" y="94.0" width="1.1" height="1.1" opacity="0.6"/>
<rect x="376.0" y="92.2" width="1.1" height="1.1" opacity="0.6"/>
<rect x="365.5" y="97.7" width="1.1" height="1.1" opacity="0.6"/>
<rect x="370.4" y="74.2" width="1.1" height="1.1" opacity="0.6"/>
<rect x="351.9" y="82.7" width="1.1" height="1.1" opacity="0.6"/>
<rect x="352.9" y="97.3" width="1.1" height="1.1" opacity="0.6"/>
<rect x="354.0" y="90.2" width="1.1" height="1.1" opacity="0.6"/>
<rect x="364.4" y="83.6" width="1.1" height="1.1" opacity="0.6"/>
<rect x="365.4" y="90.9" width="1.1" height="1.1" opacity="0.6"/>
<rect x="358.4" y="97.2" width="1.1" height="1.1" opacity="0.6"/>
<rect x="359.7" y="92.1" width="1.1" height="1.1" opacity="0.6"/>
<rect x="353.9" y="85.6" width="1.1" height="1.1" opacity="0.6"/>
<rect x="352.7" y="97.3" width="1.1" height="1.1" opacity="0.6"/>
<rect x="351.9" y="97.3" width="1.1" height="1.1" opacity="0.6"/>
<rect x="357.3" y="87.6" width="1.1" height="1.1" opacity="0.6"/>
<rect x="351.9" y="92.9" width="1.1" height="1.1" opacity="0.6"/>
<rect x="357.0" y="92.0" width="1.1" height="1.1" opacity="0.6"/>
<rect x="354.6" y="92.2" width="1.1" height="1.1" opacity="0.6"/>
<rect x="351.1" y="97.9" width="1.1" height="1.1" opacity="0.6"/>
<rect x="354.7" y="96.4" width="1.1" height="1.1" opacity="0.6"/>
<rect x="360.3" y="96.4" width="1.1" height="1.1" opacity="0.6"/>
<rect x="361.7" y="96.4" width="1.1" height="1.1" opacity="0.6"/>
<rect x="351.4" y="93.3" width="1.1" height="1.1" opacity="0.6"/>
<rect x="354.3" y="95.3" width="1.1" height="1.1" opacity="0.6"/>
<rect x="360.5" y="96.6" width="1.1" height="1.1" opacity="0.6"/>
<rect x="358.7" y="87.0" width="1.1" height="1.1" opacity="0.6"/>
<rect x="355.2" y="92.9" width="1.1" height="1.1" opacity="0.6"/>
<rect x="363.8" y="91.2" width="1.1" height="1.1" opacity="0.6"/>
<rect x="352.0" y="97.8" width="1.1" height="1.1" opacity="0.6"/>
<rect x="351.4" y="95.3" width="1.1" height="1.1" opacity="0.6"/>
<rect x="351.4" y="90.5" width="1.1" height="1.1" opacity="0.6"/>
<rect x="354.7" y="95.6" width="1.1" height="1.1" opacity="0.6"/>
<rect x="356.0" y="84.9" width="1.1" height="1.1" opacity="0.6"/>
<rect x="352.6" y="97.2" width="1.1" height="1.1" opacity="0.6"/>
<rect x="353.3" y="95.4" width="1.1" height="1.1" opacity="0.6"/>
<rect x="363.5" y="89.4" width="1.1" height="1.1" opacity="0.6"/>
<rect x="354.8" y="97.1" width="1.1" height="1.1" opacity="0.6"/>
<rect x="351.2" y="97.5" width="1.1" height="1.1" opacity="0.6"/>
<rect x="362.2" y="90.5" width="1.1" height="1.1" opacity="0.6"/>
<rect x="351.8" y="90.9" width="1.1" height="1.1" opacity="0.6"/>
<rect x="351.3" y="92.8" width="1.1" height="1.1" opacity="0.6"/>
<rect x="353.6" y="97.6" width="1.1" height="1.1" opacity="0.6"/>
<rect x="360.0" y="89.2" width="1.1" height="1.1" opacity="0.6"/>
<rect x="356.0" y="97.1" width="1.1" height="1.1" opacity="0.6"/>
<rect x="358.7" y="93.9" width="1.1" height="1.1" opacity="0.6"/>
<rect x="358.5" y="97.7" width="1.1" height="1.1" opacity="0.6"/>
<rect x="363.3" y="98.1" width="1.1" height="1.1" opacity="0.6"/>
<rect x="352.4" y="94.4" width="1.1" height="1.1" opacity="0.6"/>
<rect x="352.2" y="97.7" width="1.1" height="1.1" opacity="0.6"/>
<rect x="359.0" y="83.6" width="1.1" height="1.1" opacity="0.6"/>
<rect x="353.6" y="96.1" width="1.1" height="1.1" opacity="0.6"/>
<rect x="358.7" y="96.6" width="1.1" height="1.1" opacity="0.6"/>
<rect x="354.4" y="89.8" width="1.1" height="1.1" opacity="0.6"/>
<rect x="354.8" y="97.2" width="1.1" height="1.1" opacity="0.6"/>
<rect x="351.3" y="92.3" width="1.1" height="1.1" opacity="0.6"/>
<rect x="365.3" y="85.2" width="1.1" height="1.1" opacity="0.6"/>
<rect x="351.5" y="92.9" width="1.1" height="1.1" opacity="0.6"/>
<rect x="355.7" y="96.9" width="1.1" height="1.1" opacity="0.6"/>
<rect x="358.7" y="93.0" width="1.1" height="1.1" opacity="0.6"/>
<rect x="361.4" y="95.8" width="1.1" height="1.1" opacity="0.6"/>
<rect x="364.0" y="87.4" width="1.1" height="1.1" opacity="0.6"/>
<rect x="355.5" y="97.3" width="1.1" height="1.1" opacity="0.6"/>
<rect x="355.6" y="97.4" width="1.1" height="1.1" opacity="0.6"/>
<rect x="359.0" y="89.6" width="1.1" height="1.1" opacity="0.6"/>
<rect x="357.1" y="84.0" width="1.1" height="1.1" opacity="0.6"/>
<rect x="351.2" y="89.3" width="1.1" height="1.1" opacity="0.6"/>
<rect x="361.2" y="97.5" width="1.1" height="1.1" opacity="0.6"/>
<rect x="353.4" y="97.9" width="1.1" height="1.1" opacity="0.6"/>
<rect x="357.2" y="89.1" width="1.1" height="1.1" opacity="0.6"/>
<rect x="353.8" y="89.6" width="1.1" height="1.1" opacity="0.6"/>
<rect x="354.0" y="89.3" width="1.1" height="1.1" opacity="0.6"/>
<rect x="352.9" y="84.0" width="1.1" height="1.1" opacity="0.6"/>
<rect x="354.9" y="98.1" width="1.1" height="1.1" opacity="0.6"/>
<rect x="351.4" y="89.1" width="1.1" height="1.1" opacity="0.6"/>
<rect x="362.5" y="90.7" width="1.1" height="1.1" opacity="0.6"/>
<rect x="351.8" y="86.2" width="1.1" height="1.1" opacity="0.6"/>
<rect x="359.6" y="97.5" width="1.1" height="1.1" opacity="0.6"/>
<rect x="354.2" y="90.1" width="1.1" height="1.1" opacity="0.6"/>
<rect x="351.1" y="98.0" width="1.1" height="1.1" opacity="0.6"/>
<rect x="353.8" y="86.2" width="1.1" height="1.1" opacity="0.6"/>
<rect x="365.4" y="95.5" width="1.1" height="1.1" opacity="0.6"/>
<rect x="363.5" y="87.9" width="1.1" height="1.1" opacity="0.6"/>
<rect x="362.5" y="91.5" width="1.1" height="1.1" opacity="0.6"/>
<rect x="364.8" y="90.6" width="1.1" height="1.1" opacity="0.6"/>
<rect x="364.3" y="91.9" width="1.1" height="1.1" opacity="0.6"/>
<rect x="352.2" y="92.6" width="1.1" height="1.1" opacity="0.6"/>
<rect x="355.6" y="95.2" width="1.1" height="1.1" opacity="0.6"/>
<rect x="354.1" y="92.8" width="1.1" height="1.1" opacity="0.6"/>
<rect x="357.3" y="96.6" width="1.1" height="1.1" opacity="0.6"/>
<rect x="353.0" y="92.9" width="1.1" height="1.1" opacity="0.6"/>
<rect x="355.9" y="94.1" width="1.1" height="1.1" opacity="0.6"/>
<rect x="358.6" y="96.9" width="1.1" height="1.1" opacity="0.6"/>
<rect x="356.3" y="96.0" width="1.1" height="1.1" opacity="0.6"/>
<rect x="360.6" y="89.5" width="1.1" height="1.1" opacity="0.6"/>
<rect x="360.8" y="92.7" width="1.1" height="1.1" opacity="0.6"/>
<rect x="352.7" y="85.1" width="1.1" height="1.1" opacity="0.6"/>
<rect x="356.0" y="94.7" width="1.1" height="1.1" opacity="0.6"/>
<rect x="353.1" y="94.4" width="1.1" height="1.1" opacity="0.6"/>
<rect x="359.4" y="87.3" width="1.1" height="1.1" opacity="0.6"/>
<rect x="355.6" y="89.0" width="1.1" height="1.1" opacity="0.6"/>
<rect x="352.3" y="93.7" width="1.1" height="1.1" opacity="0.6"/>
<rect x="353.9" y="95.6" width="1.1" height="1.1" opacity="0.6"/>
<rect x="353.9" y="88.5" width="1.1" height="1.1" opacity="0.6"/>
<rect x="359.9" y="96.7" width="1.1" height="1.1" opacity="0.6"/>
<rect x="352.5" y="88.0" width="1.1" height="1.1" opacity="0.6"/>
<rect x="358.4" y="90.0" width="1.1" height="1.1" opacity="0.6"/>
<rect x="358.1" y="89.7" width="1.1" height="1.1" opacity="0.6"/>
<rect x="352.9" y="97.9" width="1.1" height="1.1" opacity="0.6"/>
<rect x="353.9" y="98.0" width="1.1" height="1.1" opacity="0.6"/>
<rect x="364.6" y="92.5" width="1.1" height="1.1" opacity="0.6"/>
<rect x="358.7" y="84.2" width="1.1" height="1.1" opacity="0.6"/>
<rect x="361.3" y="96.5" width="1.1" height="1.1" opacity="0.6"/>
<rect x="353.6" y="97.6" width="1.1" height="1.1" opacity="0.6"/>
<rect x="361.1" y="88.9" width="1.1" height="1.1" opacity="0.6"/>
<rect x="355.7" y="94.8" width="1.1" height="1.1" opacity="0.6"/>
<rect x="352.9" y="93.1" width="1.1" height="1.1" opacity="0.6"/>
<rect x="359.5" y="85.7" width="1.1" height="1.1" opacity="0.6"/>
<rect x="362.2" y="86.3" width="1.1" height="1.1" opacity="0.6"/>
<rect x="355.0" y="94.1" width="1.1" height="1.1" opacity="0.6"/>
<rect x="353.4" y="84.1" width="1.1" height="1.1" opacity="0.6"/>
<rect x="352.1" y="97.2" width="1.1" height="1.1" opacity="0.6"/>
<rect x="353.0" y="85.2" width="1.1" height="1.1" opacity="0.6"/>
<rect x="362.3" y="95.3" width="1.1" height="1.1" opacity="0.6"/>
<rect x="362.2" y="85.8" width="1.1" height="1.1" opacity="0.6"/>
<rect x="354.8" y="96.9" width="1.1" height="1.1" opacity="0.6"/>
<rect x="360.6" y="94.8" width="1.1" height="1.1" opacity="0.6"/>
<rect x="351.6" y="85.6" width="1.1" height="1.1" opacity="0.6"/>
<rect x="355.0" y="94.4" width="1.1" height="1.1" opacity="0.6"/>
<rect x="357.4" y="96.2" width="1.1" height="1.1" opacity="0.6"/>
<rect x="351.1" y="94.5" width="1.1" height="1.1" opacity="0.6"/>
<rect x="354.2" y="98.1" width="1.1" height="1.1" opacity="0.6"/>
<rect x="354.1" y="88.4" width="1.1" height="1.1" opacity="0.6"/>
<rect x="353.6" y="89.9" width="1.1" height="1.1" opacity="0.6"/>
<rect x="357.9" y="96.9" width="1.1" height="1.1" opacity="0.6"/>
<rect x="351.1" y="90.0" width="1.1" height="1.1" opacity="0.6"/>
<rect x="357.6" y="95.8" width="1.1" height="1.1" opacity="0.6"/>
<rect x="352.2" y="86.6" width="1.1" height="1.1" opacity="0.6"/>
<rect x="363.5" y="96.5" width="1.1" height="1.1" opacity="0.6"/>
<rect x="357.2" y="91.7" width="1.1" height="1.1" opacity="0.6"/>
<rect x="353.4" y="98.0" width="1.1" height="1.1" opacity="0.6"/>
<rect x="353.5" y="90.5" width="1.1" height="1.1" opacity="0.6"/>
<rect x="357.5" y="92.8" width="1.1" height="1.1" opacity="0.6"/>
<rect x="351.6" y="96.7" width="1.1" height="1.1" opacity="0.6"/>
<rect x="353.3" y="94.2" width="1.1" height="1.1" opacity="0.6"/>
<rect x="353.9" y="85.6" width="1.1" height="1.1" opacity="0.6"/>
<rect x="351.6" y="83.8" width="1.1" height="1.1" opacity="0.6"/>
<rect x="352.6" y="86.5" width="1.1" height="1.1" opacity="0.6"/>
<rect x="352.6" y="91.5" width="1.1" height="1.1" opacity="0.6"/>
<rect x="354.1" y="98.0" width="1.1" height="1.1" opacity="0.6"/>
<rect x="361.1" y="87.4" width="1.1" height="1.1" opacity="0.6"/>
<rect x="352.9" y="88.1" width="1.1" height="1.1" opacity="0.6"/>
<rect x="355.5" y="83.8" width="1.1" height="1.1" opacity="0.6"/>
<rect x="351.2" y="94.7" width="1.1" height="1.1" opacity="0.6"/>
<rect x="352.5" y="90.9" width="1.1" height="1.1" opacity="0.6"/>
<rect x="360.7" y="86.8" width="1.1" height="1.1" opacity="0.6"/>
<rect x="356.6" y="94.6" width="1.1" height="1.1" opacity="0.6"/>
<rect x="361.2" y="97.6" width="1.1" height="1.1" opacity="0.6"/>
<rect x="352.8" y="88.6" width="1.1" height="1.1" opacity="0.6"/>
<rect x="355.0" y="83.7" width="1.1" height="1.1" opacity="0.6"/>
<rect x="351.4" y="93.5" width="1.1" height="1.1" opacity="0.6"/>
<rect x="352.3" y="98.1" width="1.1" height="1.1" opacity="0.6"/>
<rect x="351.4" y="97.7" width="1.1" height="1.1" opacity="0.6"/>
<rect x="354.0" y="93.9" width="1.1" height="1.1" opacity="0.6"/>
<rect x="356.0" y="95.8" width="1.1" height="1.1" opacity="0.6"/>
<rect x="359.3" y="92.7" width="1.1" height="1.1" opacity="0.6"/>
<rect x="365.1" y="97.1" width="1.1" height="1.1" opacity="0.6"/>
<rect x="356.0" y="93.0" width="1.1" height="1.1" opacity="0.6"/>
<rect x="354.1" y="86.4" width="1.1" height="1.1" opacity="0.6"/>
<rect x="352.3" y="86.1" width="1.1" height="1.1" opacity="0.6"/>
<rect x="353.9" y="95.3" width="1.1" height="1.1" opacity="0.6"/>
<rect x="357.7" y="91.9" width="1.1" height="1.1" opacity="0.6"/>
<rect x="353.0" y="97.7" width="1.1" height="1.1" opacity="0.6"/>
<rect x="364.5" y="94.8" width="1.1" height="1.1" opacity="0.6"/>
<rect x="351.5" y="90.3" width="1.1" height="1.1" opacity="0.6"/>
<rect x="356.3" y="95.4" width="1.1" height="1.1" opacity="0.6"/>
<rect x="353.5" y="86.8" width="1.1" height="1.1" opacity="0.6"/>
<rect x="353.6" y="94.2" width="1.1" height="1.1" opacity="0.6"/>
<rect x="364.5" y="94.9" width="1.1" height="1.1" opacity="0.6"/>
<rect x="354.5" y="97.1" width="1.1" height="1.1" opacity="0.6"/>
<rect x="358.6" y="90.2" width="1.1" height="1.1" opacity="0.6"/>
<rect x="355.1" y="94.3" width="1.1" height="1.1" opacity="0.6"/>
<rect x="352.5" y="87.8" width="1.1" height="1.1" opacity="0.6"/>
<rect x="355.2" y="87.0" width="1.1" height="1.1" opacity="0.6"/>
<rect x="354.1" y="88.9" width="1.1" height="1.1" opacity="0.6"/>
<rect x="351.1" y="96.6" width="1.1" height="1.1" opacity="0.6"/>
<rect x="364.6" y="89.9" width="1.1" height="1.1" opacity="0.6"/>
<rect x="358.8" y="93.0" width="1.1" height="1.1" opacity="0.6"/>
<rect x="355.4" y="96.8" width="1.1" height="1.1" opacity="0.6"/>
<rect x="352.0" y="90.5" width="1.1" height="1.1" opacity="0.6"/>
<rect x="359.1" y="96.2" width="1.1" height="1.1" opacity="0.6"/>
<rect x="358.2" y="97.4" width="1.1" height="1.1" opacity="0.6"/>
<rect x="357.7" y="97.1" width="1.1" height="1.1" opacity="0.6"/>
<rect x="356.0" y="95.5" width="1.1" height="1.1" opacity="0.6"/>
<rect x="356.6" y="97.4" width="1.1" height="1.1" opacity="0.6"/>
<rect x="355.6" y="91.0" width="1.1" height="1.1" opacity="0.6"/>
<rect x="351.7" y="95.6" width="1.1" height="1.1" opacity="0.6"/>
<rect x="358.8" y="92.2" width="1.1" height="1.1" opacity="0.6"/>
<rect x="357.7" y="88.0" width="1.1" height="1.1" opacity="0.6"/>
<rect x="357.0" y="96.6" width="1.1" height="1.1" opacity="0.6"/>
<rect x="355.0" y="87.1" width="1.1" height="1.1" opacity="0.6"/>
<rect x="356.9" y="88.6" width="1.1" height="1.1" opacity="0.6"/>
<rect x="354.0" y="93.7" width="1.1" height="1.1" opacity="0.6"/>
<rect x="364.8" y="87.2" width="1.1" height="1.1" opacity="0.6"/>
<rect x="358.4" y="97.6" width="1.1" height="1.1" opacity="0.6"/>
<rect x="357.7" y="98.0" width="1.1" height="1.1" opacity="0.6"/>
<rect x="364.0" y="84.1" width="1.1" height="1.1" opacity="0.6"/>
<rect x="359.8" y="96.1" width="1.1" height="1.1" opacity="0.6"/>
<rect x="362.1" y="97.0" width="1.1" height="1.1" opacity="0.6"/>
<rect x="361.7" y="92.6" width="1.1" height="1.1" opacity="0.6"/>
<rect x="351.1" y="85.8" width="1.1" height="1.1" opacity="0.6"/>
<rect x="355.0" y="87.1" width="1.1" height="1.1" opacity="0.6"/>
<rect x="359.0" y="92.4" width="1.1" height="1.1" opacity="0.6"/>
<rect x="362.5" y="96.8" width="1.1" height="1.1" opacity="0.6"/>
<rect x="363.2" y="95.2" width="1.1" height="1.1" opacity="0.6"/>
<rect x="351.1" y="95.2" width="1.1" height="1.1" opacity="0.6"/>
<rect x="351.3" y="97.8" width="1.1" height="1.1" opacity="0.6"/>
<rect x="357.9" y="97.5" width="1.1" height="1.1" opacity="0.6"/>
<rect x="351.9" y="95.8" width="1.1" height="1.1" opacity="0.6"/>
<rect x="353.0" y="85.2" width="1.1" height="1.1" opacity="0.6"/>
<rect x="363.4" y="86.3" width="1.1" height="1.1" opacity="0.6"/>
<rect x="365.3" y="93.8" width="1.1" height="1.1" opacity="0.6"/>
<rect x="361.1" y="95.9" width="1.1" height="1.1" opacity="0.6"/>
<rect x="363.8" y="87.4" width="1.1" height="1.1" opacity="0.6"/>
<rect x="359.8" y="96.5" width="1.1" height="1.1" opacity="0.6"/>
<rect x="351.4" y="85.1" width="1.1" height="1.1" opacity="0.6"/>
<rect x="356.7" y="91.1" width="1.1" height="1.1" opacity="0.6"/>
<rect x="362.5" y="97.3" width="1.1" height="1.1" opacity="0.6"/>
<rect x="359.2" y="93.5" width="1.1" height="1.1" opacity="0.6"/>
<rect x="360.9" y="93.6" width="1.1" height="1.1" opacity="0.6"/>
<rect x="352.2" y="84.4" width="1.1" height="1.1" opacity="0.6"/>
<rect x="353.0" y="88.7" width="1.1" height="1.1" opacity="0.6"/>
<rect x="361.8" y="96.3" width="1.1" height="1.1" opacity="0.6"/>
<rect x="359.1" y="94.5" width="1.1" height="1.1" opacity="0.6"/>
<rect x="352.4" y="96.6" width="1.1" height="1.1" opacity="0.6"/>
<rect x="364.5" y="94.8" width="1.1" height="1.1" opacity="0.6"/>
<rect x="356.0" y="92.9" width="1.1" height="1.1" opacity="0.6"/>
<rect x="351.1" y="88.5" width="1.1" height="1.1" opacity="0.6"/>
<rect x="360.1" y="86.1" width="1.1" height="1.1" opacity="0.6"/>
<rect x="353.9" y="96.7" width="1.1" height="1.1" opacity="0.6"/>
<rect x="353.8" y="89.0" width="1.1" height="1.1" opacity="0.6"/>
<rect x="358.5" y="94.3" width="1.1" height="1.1" opacity="0.6"/>
<rect x="356.2" y="97.2" width="1.1" height="1.1" opacity="0.6"/>
<rect x="363.7" y="93.4" width="1.1" height="1.1" opacity="0.6"/>
<rect x="356.0" y="87.9" width="1.1" height="1.1" opacity="0.6"/>
<rect x="352.2" y="89.1" width="1.1" height="1.1" opacity="0.6"/>
<rect x="353.8" y="87.4" width="1.1" height="1.1" opacity="0.6"/>
<rect x="351.4" y="96.0" width="1.1" height="1.1" opacity="0.6"/>
<rect x="358.1" y="93.2" width="1.1" height="1.1" opacity="0.6"/>
<rect x="354.1" y="91.7" width="1.1" height="1.1" opacity="0.6"/>
<rect x="352.4" y="93.9" width="1.1" height="1.1" opacity="0.6"/>
<rect x="351.1" y="87.7" width="1.1" height="1.1" opacity="0.6"/>
<rect x="352.7" y="87.0" width="1.1" height="1.1" opacity="0.6"/>
<rect x="356.7" y="91.3" width="1.1" height="1.1" opacity="0.6"/>
<rect x="357.9" y="97.5" width="1.1" height="1.1" opacity="0.6"/>
<rect x="360.7" y="95.8" width="1.1" height="1.1" opacity="0.6"/>
<rect x="362.5" y="87.9" width="1.1" height="1.1" opacity="0.6"/>
<rect x="358.8" y="87.4" width="1.1" height="1.1" opacity="0.6"/>
<rect x="354.9" y="90.0" width="1.1" height="1.1" opacity="0.6"/>
<rect x="364.4" y="96.9" width="1.1" height="1.1" opacity="0.6"/>
<rect x="351.5" y="94.2" width="1.1" height="1.1" opacity="0.6"/>
<rect x="356.0" y="97.3" width="1.1" height="1.1" opacity="0.6"/>
<rect x="352.4" y="86.3" width="1.1" height="1.1" opacity="0.6"/>
<rect x="354.3" y="97.3" width="1.1" height="1.1" opacity="0.6"/>
<rect x="352.1" y="91.7" width="1.1" height="1.1" opacity="0.6"/>
<rect x="352.1" y="93.3" width="1.1" height="1.1" opacity="0.6"/>
<rect x="356.4" y="93.8" width="1.1" height="1.1" opacity="0.6"/>
<rect x="355.9" y="86.9" width="1.1" height="1.1" opacity="0.6"/>
<rect x="351.1" y="85.0" width="1.1" height="1.1" opacity="0.6"/>
<rect x="352.2" y="98.0" width="1.1" height="1.1" opacity="0.6"/>
<rect x="360.5" y="91.8" width="1.1" height="1.1" opacity="0.6"/>
<rect x="356.4" y="96.6" width="1.1" height="1.1" opacity="0.6"/>
<rect x="360.8" y="95.6" width="1.1" height="1.1" opacity="0.6"/>
<rect x="359.7" y="96.5" width="1.1" height="1.1" opacity="0.6"/>
<rect x="357.0" y="90.5" width="1.1" height="1.1" opacity="0.6"/>
<rect x="354.1" y="93.2" width="1.1" height="1.1" opacity="0.6"/>
<rect x="351.3" y="90.6" width="1.1" height="1.1" opacity="0.6"/>
<rect x="359.1" y="97.2" width="1.1" height="1.1" opacity="0.6"/>
<rect x="356.6" y="88.9" width="1.1" height="1.1" opacity="0.6"/>
<rect x="351.5" y="86.9" width="1.1" height="1.1" opacity="0.6"/>
<rect x="362.6" y="97.9" width="1.1" height="1.1" opacity="0.6"/>
<rect x="352.7" y="97.7" width="1.1" height="1.1" opacity="0.6"/>
<rect x="352.7" y="97.7" width="1.1" height="1.1" opacity="0.6"/>
<rect x="355.7" y="96.3" width="1.1" height="1.1" opacity="0.6"/>
<rect x="353.2" y="93.5" width="1.1" height="1.1" opacity="0.6"/>
<rect x="354.1" y="87.9" width="1.1" height="1.1" opacity="0.6"/>
<rect x="359.7" y="97.5" width="1.1" height="1.1" opacity="0.6"/>
<rect x="352.4" y="98.1" width="1.1" height="1.1" opacity="0.6"/>
<rect x="353.5" y="97.6" width="1.1" height="1.1" opacity="0.6"/>
<rect x="359.2" y="88.0" width="1.1" height="1.1" opacity="0.6"/>
<rect x="365.4" y="96.7" width="1.1" height="1.1" opacity="0.6"/>
<rect x="351.2" y="88.5" width="1.1" height="1.1" opacity="0.6"/>
<rect x="354.6" y="85.0" width="1.1" height="1.1" opacity="0.6"/>
<rect x="354.3" y="95.5" width="1.1" height="1.1" opacity="0.6"/>
<rect x="351.3" y="84.6" width="1.1" height="1.1" opacity="0.6"/>
<rect x="356.0" y="93.8" width="1.1" height="1.1" opacity="0.6"/>
<rect x="354.9" y="88.3" width="1.1" height="1.1" opacity="0.6"/>
<rect x="361.8" y="93.3" width="1.1" height="1.1" opacity="0.6"/>
<rect x="352.0" y="94.3" width="1.1" height="1.1" opacity="0.6"/>
<rect x="363.1" y="94.3" width="1.1" height="1.1" opacity="0.6"/>
<rect x="358.5" y="92.0" width="1.1" height="1.1" opacity="0.6"/>
<rect x="355.3" y="91.7" width="1.1" height="1.1" opacity="0.6"/>
<rect x="352.6" y="92.0" width="1.1" height="1.1" opacity="0.6"/>
<rect x="362.5" y="97.8" width="1.1" height="1.1" opacity="0.6"/>
<rect x="354.0" y="86.0" width="1.1" height="1.1" opacity="0.6"/>
<rect x="365.0" y="98.1" width="1.1" height="1.1" opacity="0.6"/>
</g>
<line x1="300.40" y1="37.10" x2="300.40" y2="100.90" stroke="#000" stroke-width="1.3"/>
<line x1="299.80" y1="100.40" x2="387.40" y2="100.40" stroke="#000" stroke-width="1.4"/>
<line x1="298.80" y1="37.90" x2="300.40" y2="37.90" stroke="#000" stroke-width="1"/>
<line x1="298.80" y1="54.00" x2="300.40" y2="54.00" stroke="#000" stroke-width="1"/>
<line x1="298.80" y1="67.30" x2="300.40" y2="67.30" stroke="#000" stroke-width="1"/>
<line x1="298.80" y1="83.50" x2="300.40" y2="83.50" stroke="#000" stroke-width="1"/>
<line x1="298.80" y1="93.30" x2="300.40" y2="93.30" stroke="#000" stroke-width="1"/>
<line x1="298.80" y1="100.40" x2="300.40" y2="100.40" stroke="#000" stroke-width="1"/>
<line x1="300.40" y1="100.40" x2="300.40" y2="102.20" stroke="#000" stroke-width="1"/>
<line x1="321.90" y1="100.40" x2="321.90" y2="102.20" stroke="#000" stroke-width="1"/>
<line x1="343.50" y1="100.40" x2="343.50" y2="102.20" stroke="#000" stroke-width="1"/>
<line x1="365.10" y1="100.40" x2="365.10" y2="102.20" stroke="#000" stroke-width="1"/>
<line x1="386.70" y1="100.40" x2="386.70" y2="102.20" stroke="#000" stroke-width="1"/>
<text x="297.00" y="41.05" font-size="8.6" text-anchor="end" textLength="19.4" lengthAdjust="spacingAndGlyphs">1e-52</text>
<text x="297.00" y="57.15" font-size="8.6" text-anchor="end" textLength="19.4" lengthAdjust="spacingAndGlyphs">1e-38</text>
<text x="297.00" y="70.45" font-size="8.6" text-anchor="end" textLength="19.4" lengthAdjust="spacingAndGlyphs">1e-26</text>
<text x="297.00" y="86.65" font-size="8.6" text-anchor="end" textLength="19.4" lengthAdjust="spacingAndGlyphs">1e-14</text>
<text x="297.00" y="96.45" font-size="8.6" text-anchor="end" textLength="14.8" lengthAdjust="spacingAndGlyphs">1e-2</text>
<text x="297.00" y="103.55" font-size="8.6" text-anchor="end">1</text>
<text transform="translate(272.30,67.40) rotate(-90)" font-size="8.4" text-anchor="middle" font-weight="bold" textLength="12.7" lengthAdjust="spacingAndGlyphs">FDR</text>
<text x="299.50" y="111.00" font-size="8.3" text-anchor="middle">-10</text>
<text x="321.70" y="111.00" font-size="8.3" text-anchor="middle">-5</text>
<text x="343.30" y="111.00" font-size="8.3" text-anchor="middle">0</text>
<text x="365.00" y="111.00" font-size="8.3" text-anchor="middle">5</text>
<text x="386.90" y="111.00" font-size="8.3" text-anchor="middle">10</text>
<text x="315.0" y="121.6" font-size="8.6" textLength="57.6" lengthAdjust="spacingAndGlyphs" fill="#1a1a1a">Log<tspan font-size="5.5" dy="2">2</tspan><tspan dy="-2"> Fold-change</tspan></text>
<text x="244.00" y="50.00" font-size="8.4" font-style="italic" textLength="26.0" lengthAdjust="spacingAndGlyphs">CD177</text>
<text x="244.60" y="89.00" font-size="8.4" font-style="italic" textLength="24.6" lengthAdjust="spacingAndGlyphs">PRTN3</text>
<text x="244.60" y="99.80" font-size="8.4" font-style="italic" textLength="25.6" lengthAdjust="spacingAndGlyphs">ELANE</text>
<line x1="270.20" y1="46.50" x2="312.80" y2="41.50" stroke="#222" stroke-width="1.1"/>
<line x1="268.80" y1="85.80" x2="276.30" y2="84.60" stroke="#222" stroke-width="1.1"/>
<line x1="299.80" y1="81.20" x2="323.40" y2="77.60" stroke="#222" stroke-width="1.1"/>
<line x1="269.80" y1="96.70" x2="279.20" y2="96.30" stroke="#222" stroke-width="1.1"/>
<line x1="301.00" y1="95.30" x2="334.20" y2="94.00" stroke="#222" stroke-width="1.1"/>
<line x1="351.75" y1="96.20" x2="388.40" y2="45.00" stroke="#111" stroke-width="1.2"/>
<line x1="352.90" y1="96.30" x2="388.40" y2="54.10" stroke="#111" stroke-width="1.2"/>
<line x1="367.90" y1="85.30" x2="388.40" y2="63.70" stroke="#111" stroke-width="1.2"/>
<line x1="367.00" y1="88.70" x2="388.40" y2="72.90" stroke="#111" stroke-width="1.2"/>
<line x1="353.80" y1="96.50" x2="388.40" y2="82.00" stroke="#111" stroke-width="1.2"/>
<line x1="367.90" y1="97.60" x2="388.40" y2="91.20" stroke="#111" stroke-width="1.2"/>
<text x="389.40" y="47.65" font-size="7.7" font-style="italic" textLength="19.2" lengthAdjust="spacingAndGlyphs">BCL2</text>
<text x="389.40" y="56.75" font-size="7.7" font-style="italic" textLength="28.3" lengthAdjust="spacingAndGlyphs">ZBTB16</text>
<text x="389.40" y="66.35" font-size="7.7" font-style="italic" textLength="16.3" lengthAdjust="spacingAndGlyphs">HGF</text>
<text x="389.40" y="75.55" font-size="7.7" font-style="italic" textLength="25.4" lengthAdjust="spacingAndGlyphs">GATA2</text>
<text x="389.40" y="84.65" font-size="7.7" font-style="italic" textLength="31.4" lengthAdjust="spacingAndGlyphs">PDGFRB</text>
<text x="389.40" y="93.85" font-size="7.7" font-style="italic" textLength="17.7" lengthAdjust="spacingAndGlyphs">HDC</text>
<rect x="65.67" y="174.00" width="9.2" height="64.20" fill="none" stroke="#1f45d0" stroke-width="1.25"/>
<rect x="121.89" y="174.00" width="9.2" height="64.20" fill="none" stroke="#1f45d0" stroke-width="1.25"/>
<line x1="69.87" y1="170.80" x2="127.49" y2="170.80" stroke="#2a2a2a" stroke-width="1.6"/>
<line x1="95.18" y1="166.25" x2="95.18" y2="169.35" stroke="#111" stroke-width="0.85"/>
<line x1="93.84" y1="167.03" x2="96.52" y2="168.58" stroke="#111" stroke-width="0.85"/>
<line x1="93.84" y1="168.58" x2="96.52" y2="167.03" stroke="#111" stroke-width="0.85"/>
<line x1="99.13" y1="166.25" x2="99.13" y2="169.35" stroke="#111" stroke-width="0.85"/>
<line x1="97.79" y1="167.03" x2="100.47" y2="168.58" stroke="#111" stroke-width="0.85"/>
<line x1="97.79" y1="168.58" x2="100.47" y2="167.03" stroke="#111" stroke-width="0.85"/>
<line x1="103.08" y1="166.25" x2="103.08" y2="169.35" stroke="#111" stroke-width="0.85"/>
<line x1="101.74" y1="167.03" x2="104.42" y2="168.58" stroke="#111" stroke-width="0.85"/>
<line x1="101.74" y1="168.58" x2="104.42" y2="167.03" stroke="#111" stroke-width="0.85"/>
<line x1="107.03" y1="166.25" x2="107.03" y2="169.35" stroke="#111" stroke-width="0.85"/>
<line x1="105.69" y1="167.03" x2="108.37" y2="168.58" stroke="#111" stroke-width="0.85"/>
<line x1="105.69" y1="168.58" x2="108.37" y2="167.03" stroke="#111" stroke-width="0.85"/>
<rect x="58.30" y="221.09" width="5.20" height="13.71" fill="#cc0014"/>
<line x1="60.90" y1="219.45" x2="60.90" y2="221.09" stroke="#000" stroke-width="0.9"/>
<line x1="59.20" y1="219.45" x2="62.60" y2="219.45" stroke="#000" stroke-width="1.0"/>
<circle cx="61.39" cy="218.43" r="0.95" fill="#000"/>
<circle cx="60.23" cy="218.43" r="0.95" fill="#000"/>
<circle cx="60.81" cy="227.74" r="0.95" fill="#000"/>
<rect x="67.67" y="232.65" width="5.20" height="2.15" fill="#cc0014"/>
<line x1="70.27" y1="232.04" x2="70.27" y2="232.65" stroke="#000" stroke-width="0.9"/>
<line x1="68.57" y1="232.04" x2="71.97" y2="232.04" stroke="#000" stroke-width="1.0"/>
<circle cx="71.70" cy="232.14" r="0.95" fill="#000"/>
<circle cx="68.59" cy="233.63" r="0.95" fill="#000"/>
<circle cx="70.89" cy="232.14" r="0.95" fill="#000"/>
<rect x="77.04" y="234.29" width="5.20" height="0.51" fill="#cc0014"/>
<circle cx="80.92" cy="234.19" r="0.95" fill="#000"/>
<circle cx="79.28" cy="234.31" r="0.95" fill="#000"/>
<circle cx="79.26" cy="234.19" r="0.95" fill="#000"/>
<rect x="86.41" y="232.14" width="5.20" height="2.66" fill="#cc0014"/>
<line x1="89.01" y1="229.99" x2="89.01" y2="232.14" stroke="#000" stroke-width="0.9"/>
<line x1="87.31" y1="229.99" x2="90.71" y2="229.99" stroke="#000" stroke-width="1.0"/>
<circle cx="87.53" cy="231.73" r="0.95" fill="#000"/>
<circle cx="89.20" cy="232.01" r="0.95" fill="#000"/>
<circle cx="88.93" cy="232.56" r="0.95" fill="#000"/>
<rect x="95.78" y="221.09" width="5.20" height="13.71" fill="#cc0014"/>
<line x1="98.38" y1="209.42" x2="98.38" y2="221.09" stroke="#000" stroke-width="0.9"/>
<line x1="96.68" y1="209.42" x2="100.08" y2="209.42" stroke="#000" stroke-width="1.0"/>
<circle cx="99.28" cy="214.33" r="0.95" fill="#000"/>
<circle cx="98.65" cy="214.33" r="0.95" fill="#000"/>
<circle cx="99.29" cy="229.20" r="0.95" fill="#000"/>
<circle cx="98.16" cy="228.06" r="0.95" fill="#000"/>
<circle cx="98.38" cy="228.24" r="0.95" fill="#000"/>
<circle cx="98.66" cy="225.51" r="0.95" fill="#000"/>
<circle cx="98.32" cy="214.33" r="0.95" fill="#000"/>
<circle cx="96.66" cy="214.33" r="0.95" fill="#000"/>
<circle cx="99.24" cy="222.93" r="0.95" fill="#000"/>
<circle cx="98.86" cy="221.71" r="0.95" fill="#000"/>
<circle cx="97.07" cy="220.36" r="0.95" fill="#000"/>
<circle cx="97.32" cy="216.62" r="0.95" fill="#000"/>
<circle cx="97.72" cy="214.33" r="0.95" fill="#000"/>
<circle cx="98.38" cy="215.48" r="0.95" fill="#000"/>
<circle cx="97.60" cy="214.33" r="0.95" fill="#000"/>
<circle cx="98.22" cy="214.33" r="0.95" fill="#000"/>
<circle cx="99.19" cy="214.33" r="0.95" fill="#000"/>
<circle cx="97.37" cy="220.08" r="0.95" fill="#000"/>
<circle cx="97.72" cy="196.83" r="0.85" fill="#111"/>
<circle cx="98.11" cy="196.12" r="0.85" fill="#111"/>
<rect x="105.15" y="227.12" width="5.20" height="7.68" fill="#cc0014"/>
<line x1="107.75" y1="218.32" x2="107.75" y2="227.12" stroke="#000" stroke-width="0.9"/>
<line x1="106.05" y1="218.32" x2="109.45" y2="218.32" stroke="#000" stroke-width="1.0"/>
<circle cx="107.26" cy="214.95" r="0.95" fill="#000"/>
<circle cx="108.41" cy="224.67" r="0.95" fill="#000"/>
<circle cx="108.02" cy="225.96" r="0.95" fill="#000"/>
<circle cx="106.97" cy="226.39" r="0.95" fill="#000"/>
<circle cx="107.23" cy="230.18" r="0.95" fill="#000"/>
<circle cx="109.71" cy="224.49" r="0.95" fill="#000"/>
<circle cx="109.12" cy="222.29" r="0.95" fill="#000"/>
<circle cx="108.66" cy="223.48" r="0.95" fill="#000"/>
<circle cx="108.75" cy="226.39" r="0.95" fill="#000"/>
<circle cx="107.32" cy="216.17" r="0.95" fill="#000"/>
<circle cx="110.30" cy="229.37" r="0.95" fill="#000"/>
<circle cx="109.01" cy="226.13" r="0.95" fill="#000"/>
<circle cx="106.27" cy="222.92" r="0.95" fill="#000"/>
<circle cx="110.06" cy="214.95" r="0.95" fill="#000"/>
<circle cx="108.73" cy="226.42" r="0.95" fill="#000"/>
<circle cx="106.60" cy="226.62" r="0.95" fill="#000"/>
<circle cx="108.24" cy="227.54" r="0.95" fill="#000"/>
<circle cx="108.67" cy="221.39" r="0.95" fill="#000"/>
<circle cx="109.51" cy="226.89" r="0.95" fill="#000"/>
<circle cx="108.78" cy="229.55" r="0.95" fill="#000"/>
<circle cx="107.37" cy="221.42" r="0.95" fill="#000"/>
<circle cx="106.57" cy="231.66" r="0.95" fill="#000"/>
<circle cx="108.44" cy="226.16" r="0.95" fill="#000"/>
<circle cx="106.44" cy="218.16" r="0.95" fill="#000"/>
<circle cx="108.59" cy="227.12" r="0.95" fill="#000"/>
<circle cx="104.85" cy="227.71" r="0.95" fill="#000"/>
<circle cx="110.65" cy="223.31" r="0.95" fill="#000"/>
<circle cx="106.56" cy="222.12" r="0.95" fill="#000"/>
<circle cx="108.04" cy="228.56" r="0.95" fill="#000"/>
<circle cx="108.55" cy="214.95" r="0.95" fill="#000"/>
<circle cx="109.77" cy="226.68" r="0.95" fill="#000"/>
<circle cx="110.17" cy="227.43" r="0.95" fill="#000"/>
<circle cx="107.13" cy="229.35" r="0.95" fill="#000"/>
<circle cx="109.60" cy="223.79" r="0.95" fill="#000"/>
<circle cx="108.14" cy="224.16" r="0.95" fill="#000"/>
<circle cx="106.82" cy="231.71" r="0.95" fill="#000"/>
<circle cx="107.06" cy="229.14" r="0.95" fill="#000"/>
<circle cx="107.31" cy="224.51" r="0.95" fill="#000"/>
<circle cx="107.86" cy="223.42" r="0.95" fill="#000"/>
<circle cx="107.90" cy="228.30" r="0.95" fill="#000"/>
<circle cx="108.87" cy="225.29" r="0.95" fill="#000"/>
<circle cx="107.45" cy="228.76" r="0.95" fill="#000"/>
<circle cx="109.83" cy="230.92" r="0.95" fill="#000"/>
<circle cx="107.52" cy="218.94" r="0.95" fill="#000"/>
<circle cx="106.14" cy="228.76" r="0.95" fill="#000"/>
<circle cx="108.02" cy="226.44" r="0.95" fill="#000"/>
<circle cx="108.07" cy="214.95" r="0.95" fill="#000"/>
<circle cx="104.85" cy="229.60" r="0.95" fill="#000"/>
<circle cx="108.00" cy="219.27" r="0.95" fill="#000"/>
<circle cx="107.98" cy="231.37" r="0.95" fill="#000"/>
<circle cx="110.65" cy="231.37" r="0.95" fill="#000"/>
<circle cx="108.49" cy="221.37" r="0.95" fill="#000"/>
<circle cx="104.97" cy="227.77" r="0.95" fill="#000"/>
<circle cx="105.73" cy="227.60" r="0.95" fill="#000"/>
<circle cx="104.97" cy="224.46" r="0.95" fill="#000"/>
<rect x="114.52" y="226.00" width="5.20" height="8.80" fill="#cc0014"/>
<line x1="117.12" y1="213.82" x2="117.12" y2="226.00" stroke="#000" stroke-width="0.9"/>
<line x1="115.42" y1="213.82" x2="118.82" y2="213.82" stroke="#000" stroke-width="1.0"/>
<circle cx="118.71" cy="214.33" r="0.95" fill="#000"/>
<circle cx="115.58" cy="214.78" r="0.95" fill="#000"/>
<circle cx="118.26" cy="230.71" r="0.95" fill="#000"/>
<circle cx="115.84" cy="221.32" r="0.95" fill="#000"/>
<circle cx="116.22" cy="228.58" r="0.95" fill="#000"/>
<circle cx="116.24" cy="229.94" r="0.95" fill="#000"/>
<circle cx="118.02" cy="218.35" r="0.95" fill="#000"/>
<circle cx="117.01" cy="214.33" r="0.95" fill="#000"/>
<circle cx="115.84" cy="226.58" r="0.95" fill="#000"/>
<circle cx="115.41" cy="226.53" r="0.95" fill="#000"/>
<circle cx="118.03" cy="231.18" r="0.95" fill="#000"/>
<circle cx="118.21" cy="216.72" r="0.95" fill="#000"/>
<circle cx="117.45" cy="217.67" r="0.95" fill="#000"/>
<circle cx="117.23" cy="228.65" r="0.95" fill="#000"/>
<circle cx="115.68" cy="227.50" r="0.95" fill="#000"/>
<circle cx="115.19" cy="231.02" r="0.95" fill="#000"/>
<circle cx="117.32" cy="226.02" r="0.95" fill="#000"/>
<circle cx="118.98" cy="227.86" r="0.95" fill="#000"/>
<circle cx="117.88" cy="225.18" r="0.95" fill="#000"/>
<circle cx="116.05" cy="218.61" r="0.95" fill="#000"/>
<circle cx="118.10" cy="231.51" r="0.95" fill="#000"/>
<circle cx="118.82" cy="228.56" r="0.95" fill="#000"/>
<circle cx="118.43" cy="224.38" r="0.95" fill="#000"/>
<circle cx="114.42" cy="221.91" r="0.95" fill="#000"/>
<circle cx="116.24" cy="222.19" r="0.95" fill="#000"/>
<circle cx="116.55" cy="228.77" r="0.95" fill="#000"/>
<circle cx="118.27" cy="221.88" r="0.95" fill="#000"/>
<circle cx="114.96" cy="220.21" r="0.95" fill="#000"/>
<circle cx="114.22" cy="228.25" r="0.95" fill="#000"/>
<circle cx="117.90" cy="226.44" r="0.95" fill="#000"/>
<circle cx="117.44" cy="228.79" r="0.95" fill="#000"/>
<circle cx="118.43" cy="224.92" r="0.95" fill="#000"/>
<circle cx="116.04" cy="228.96" r="0.95" fill="#000"/>
<circle cx="119.40" cy="228.79" r="0.95" fill="#000"/>
<circle cx="116.96" cy="219.62" r="0.95" fill="#000"/>
<circle cx="117.27" cy="224.95" r="0.95" fill="#000"/>
<circle cx="116.85" cy="225.06" r="0.95" fill="#000"/>
<circle cx="115.49" cy="227.35" r="0.95" fill="#000"/>
<circle cx="119.27" cy="228.42" r="0.95" fill="#000"/>
<circle cx="117.20" cy="223.29" r="0.95" fill="#000"/>
<circle cx="117.20" cy="226.90" r="0.95" fill="#000"/>
<circle cx="116.28" cy="224.30" r="0.95" fill="#000"/>
<circle cx="117.43" cy="225.09" r="0.95" fill="#000"/>
<circle cx="116.09" cy="228.75" r="0.95" fill="#000"/>
<circle cx="115.74" cy="229.46" r="0.95" fill="#000"/>
<circle cx="114.22" cy="221.07" r="0.95" fill="#000"/>
<circle cx="116.33" cy="227.10" r="0.95" fill="#000"/>
<circle cx="117.25" cy="228.34" r="0.95" fill="#000"/>
<circle cx="117.22" cy="219.33" r="0.95" fill="#000"/>
<circle cx="116.32" cy="226.60" r="0.95" fill="#000"/>
<circle cx="118.31" cy="226.55" r="0.95" fill="#000"/>
<circle cx="115.63" cy="227.57" r="0.95" fill="#000"/>
<circle cx="115.68" cy="230.12" r="0.95" fill="#000"/>
<circle cx="118.55" cy="230.41" r="0.95" fill="#000"/>
<circle cx="116.81" cy="224.29" r="0.95" fill="#000"/>
<circle cx="117.81" cy="181.38" r="0.85" fill="#111"/>
<rect x="123.89" y="227.12" width="5.20" height="7.68" fill="#cc0014"/>
<line x1="126.49" y1="222.52" x2="126.49" y2="227.12" stroke="#000" stroke-width="0.9"/>
<line x1="124.79" y1="222.52" x2="128.19" y2="222.52" stroke="#000" stroke-width="1.0"/>
<circle cx="125.81" cy="218.94" r="0.95" fill="#000"/>
<circle cx="127.01" cy="230.88" r="0.95" fill="#000"/>
<circle cx="125.81" cy="223.23" r="0.95" fill="#000"/>
<circle cx="125.37" cy="231.78" r="0.95" fill="#000"/>
<circle cx="123.59" cy="223.93" r="0.95" fill="#000"/>
<circle cx="126.92" cy="231.02" r="0.95" fill="#000"/>
<circle cx="128.49" cy="225.20" r="0.95" fill="#000"/>
<circle cx="124.80" cy="224.46" r="0.95" fill="#000"/>
<circle cx="125.61" cy="227.64" r="0.95" fill="#000"/>
<circle cx="124.35" cy="218.94" r="0.95" fill="#000"/>
<circle cx="126.26" cy="220.62" r="0.95" fill="#000"/>
<circle cx="125.38" cy="226.22" r="0.95" fill="#000"/>
<circle cx="125.12" cy="218.94" r="0.95" fill="#000"/>
<circle cx="126.93" cy="228.00" r="0.95" fill="#000"/>
<circle cx="127.09" cy="230.54" r="0.95" fill="#000"/>
<circle cx="125.00" cy="226.60" r="0.95" fill="#000"/>
<circle cx="126.91" cy="218.94" r="0.95" fill="#000"/>
<circle cx="127.40" cy="218.94" r="0.95" fill="#000"/>
<circle cx="127.53" cy="225.33" r="0.95" fill="#000"/>
<circle cx="125.79" cy="226.61" r="0.95" fill="#000"/>
<circle cx="127.75" cy="223.82" r="0.95" fill="#000"/>
<circle cx="124.04" cy="228.25" r="0.95" fill="#000"/>
<circle cx="123.59" cy="229.90" r="0.95" fill="#000"/>
<circle cx="126.64" cy="232.53" r="0.95" fill="#000"/>
<circle cx="126.96" cy="224.41" r="0.95" fill="#000"/>
<rect x="133.26" y="227.12" width="5.20" height="7.68" fill="#cc0014"/>
<line x1="135.86" y1="219.45" x2="135.86" y2="227.12" stroke="#000" stroke-width="0.9"/>
<line x1="134.16" y1="219.45" x2="137.56" y2="219.45" stroke="#000" stroke-width="1.0"/>
<circle cx="135.68" cy="216.69" r="0.95" fill="#000"/>
<circle cx="134.02" cy="227.82" r="0.95" fill="#000"/>
<circle cx="135.50" cy="231.84" r="0.95" fill="#000"/>
<circle cx="135.45" cy="229.66" r="0.95" fill="#000"/>
<circle cx="137.57" cy="231.02" r="0.95" fill="#000"/>
<circle cx="135.34" cy="224.67" r="0.95" fill="#000"/>
<circle cx="133.10" cy="218.09" r="0.95" fill="#000"/>
<circle cx="135.60" cy="230.77" r="0.95" fill="#000"/>
<circle cx="137.39" cy="225.54" r="0.95" fill="#000"/>
<circle cx="135.82" cy="230.92" r="0.95" fill="#000"/>
<circle cx="136.46" cy="216.69" r="0.95" fill="#000"/>
<circle cx="135.73" cy="230.16" r="0.95" fill="#000"/>
<circle cx="134.27" cy="225.40" r="0.95" fill="#000"/>
<circle cx="135.97" cy="231.23" r="0.95" fill="#000"/>
<circle cx="136.51" cy="221.24" r="0.95" fill="#000"/>
<circle cx="137.54" cy="232.18" r="0.95" fill="#000"/>
<circle cx="135.38" cy="223.90" r="0.95" fill="#000"/>
<circle cx="135.97" cy="228.86" r="0.95" fill="#000"/>
<circle cx="136.83" cy="231.49" r="0.95" fill="#000"/>
<circle cx="134.99" cy="222.63" r="0.95" fill="#000"/>
<circle cx="136.63" cy="228.08" r="0.95" fill="#000"/>
<circle cx="133.86" cy="231.49" r="0.95" fill="#000"/>
<circle cx="137.50" cy="220.86" r="0.95" fill="#000"/>
<circle cx="135.98" cy="224.18" r="0.95" fill="#000"/>
<circle cx="137.82" cy="226.25" r="0.95" fill="#000"/>
<circle cx="136.96" cy="228.55" r="0.95" fill="#000"/>
<circle cx="135.44" cy="228.34" r="0.95" fill="#000"/>
<circle cx="135.20" cy="227.36" r="0.95" fill="#000"/>
<circle cx="135.80" cy="229.55" r="0.95" fill="#000"/>
<circle cx="137.37" cy="225.44" r="0.95" fill="#000"/>
<circle cx="136.35" cy="229.89" r="0.95" fill="#000"/>
<circle cx="136.69" cy="230.26" r="0.95" fill="#000"/>
<circle cx="136.60" cy="225.60" r="0.95" fill="#000"/>
<circle cx="134.50" cy="230.07" r="0.95" fill="#000"/>
<circle cx="135.39" cy="231.86" r="0.95" fill="#000"/>
<circle cx="134.21" cy="231.18" r="0.95" fill="#000"/>
<circle cx="137.98" cy="226.41" r="0.95" fill="#000"/>
<circle cx="133.25" cy="223.34" r="0.95" fill="#000"/>
<circle cx="136.90" cy="228.36" r="0.95" fill="#000"/>
<circle cx="135.43" cy="224.33" r="0.95" fill="#000"/>
<circle cx="135.83" cy="216.69" r="0.95" fill="#000"/>
<circle cx="136.58" cy="224.98" r="0.95" fill="#000"/>
<circle cx="134.86" cy="227.55" r="0.95" fill="#000"/>
<circle cx="137.27" cy="218.15" r="0.95" fill="#000"/>
<circle cx="136.95" cy="231.28" r="0.95" fill="#000"/>
<circle cx="136.80" cy="223.84" r="0.95" fill="#000"/>
<circle cx="135.63" cy="227.41" r="0.95" fill="#000"/>
<circle cx="137.74" cy="225.14" r="0.95" fill="#000"/>
<rect x="142.63" y="230.71" width="5.20" height="4.09" fill="#cc0014"/>
<line x1="145.23" y1="226.61" x2="145.23" y2="230.71" stroke="#000" stroke-width="0.9"/>
<line x1="143.53" y1="226.61" x2="146.93" y2="226.61" stroke="#000" stroke-width="1.0"/>
<circle cx="143.42" cy="222.01" r="0.95" fill="#000"/>
<circle cx="146.25" cy="228.42" r="0.95" fill="#000"/>
<circle cx="143.70" cy="230.58" r="0.95" fill="#000"/>
<circle cx="144.46" cy="231.20" r="0.95" fill="#000"/>
<circle cx="145.49" cy="229.73" r="0.95" fill="#000"/>
<circle cx="145.61" cy="227.22" r="0.95" fill="#000"/>
<circle cx="145.07" cy="232.65" r="0.95" fill="#000"/>
<circle cx="145.89" cy="229.83" r="0.95" fill="#000"/>
<circle cx="147.62" cy="229.42" r="0.95" fill="#000"/>
<circle cx="145.05" cy="222.01" r="0.95" fill="#000"/>
<circle cx="145.49" cy="230.05" r="0.95" fill="#000"/>
<circle cx="144.80" cy="227.84" r="0.95" fill="#000"/>
<circle cx="144.08" cy="230.53" r="0.95" fill="#000"/>
<circle cx="145.55" cy="232.53" r="0.95" fill="#000"/>
<circle cx="145.98" cy="232.58" r="0.95" fill="#000"/>
<circle cx="145.40" cy="225.92" r="0.95" fill="#000"/>
<circle cx="144.55" cy="229.92" r="0.95" fill="#000"/>
<circle cx="145.84" cy="232.93" r="0.95" fill="#000"/>
<rect x="152.00" y="228.56" width="5.20" height="6.24" fill="#cc0014"/>
<line x1="154.60" y1="223.34" x2="154.60" y2="228.56" stroke="#000" stroke-width="0.9"/>
<line x1="152.90" y1="223.34" x2="156.30" y2="223.34" stroke="#000" stroke-width="1.0"/>
<rect x="159.00" y="228.56" width="5.20" height="6.24" fill="#cc0014"/>
<line x1="161.60" y1="222.62" x2="161.60" y2="228.56" stroke="#000" stroke-width="0.9"/>
<line x1="159.90" y1="222.62" x2="163.30" y2="222.62" stroke="#000" stroke-width="1.0"/>
<line x1="54.50" y1="173.40" x2="54.50" y2="235.60" stroke="#000" stroke-width="1.8"/>
<line x1="53.60" y1="234.80" x2="165.40" y2="234.80" stroke="#000" stroke-width="1.6"/>
<line x1="52.20" y1="234.80" x2="54.50" y2="234.80" stroke="#000" stroke-width="1.2"/>
<text x="51.60" y="238.10" font-size="8.5" text-anchor="end" textLength="4.0" lengthAdjust="spacingAndGlyphs">0</text>
<line x1="52.20" y1="214.33" x2="54.50" y2="214.33" stroke="#000" stroke-width="1.2"/>
<text x="51.60" y="217.63" font-size="8.5" text-anchor="end" textLength="12.599999999999998" lengthAdjust="spacingAndGlyphs">200</text>
<line x1="52.20" y1="193.87" x2="54.50" y2="193.87" stroke="#000" stroke-width="1.2"/>
<text x="51.60" y="197.17" font-size="8.5" text-anchor="end" textLength="12.599999999999998" lengthAdjust="spacingAndGlyphs">400</text>
<line x1="52.20" y1="173.40" x2="54.50" y2="173.40" stroke="#000" stroke-width="1.2"/>
<text x="51.60" y="176.70" font-size="8.5" text-anchor="end" textLength="12.599999999999998" lengthAdjust="spacingAndGlyphs">600</text>
<line x1="60.90" y1="234.80" x2="60.90" y2="237.00" stroke="#000" stroke-width="0.9"/>
<text transform="translate(62.50,242.40) rotate(-45)" font-size="8.4" text-anchor="end">CD34</text>
<line x1="70.27" y1="234.80" x2="70.27" y2="237.00" stroke="#000" stroke-width="0.9"/>
<text transform="translate(71.87,242.40) rotate(-45)" font-size="8.4" text-anchor="end">Pro</text>
<line x1="79.64" y1="234.80" x2="79.64" y2="237.00" stroke="#000" stroke-width="0.9"/>
<text transform="translate(81.24,242.40) rotate(-45)" font-size="8.4" text-anchor="end">Neu</text>
<line x1="89.01" y1="234.80" x2="89.01" y2="237.00" stroke="#000" stroke-width="0.9"/>
<text transform="translate(90.61,242.40) rotate(-45)" font-size="8.4" text-anchor="end">Mono</text>
<line x1="98.38" y1="234.80" x2="98.38" y2="237.00" stroke="#000" stroke-width="0.9"/>
<text transform="translate(99.98,242.40) rotate(-45)" font-size="8.4" text-anchor="end">M0</text>
<line x1="107.75" y1="234.80" x2="107.75" y2="237.00" stroke="#000" stroke-width="0.9"/>
<text transform="translate(109.35,242.40) rotate(-45)" font-size="8.4" text-anchor="end">M1</text>
<line x1="117.12" y1="234.80" x2="117.12" y2="237.00" stroke="#000" stroke-width="0.9"/>
<text transform="translate(118.72,242.40) rotate(-45)" font-size="8.4" text-anchor="end">M2</text>
<line x1="126.49" y1="234.80" x2="126.49" y2="237.00" stroke="#000" stroke-width="0.9"/>
<text transform="translate(128.09,242.40) rotate(-45)" font-size="8.4" text-anchor="end">M3</text>
<line x1="135.86" y1="234.80" x2="135.86" y2="237.00" stroke="#000" stroke-width="0.9"/>
<text transform="translate(137.46,242.40) rotate(-45)" font-size="8.4" text-anchor="end">M4</text>
<line x1="145.23" y1="234.80" x2="145.23" y2="237.00" stroke="#000" stroke-width="0.9"/>
<text transform="translate(146.83,242.40) rotate(-45)" font-size="8.4" text-anchor="end">M5</text>
<line x1="154.60" y1="234.80" x2="154.60" y2="237.00" stroke="#000" stroke-width="0.9"/>
<text transform="translate(156.20,242.40) rotate(-45)" font-size="8.4" text-anchor="end">M6</text>
<line x1="161.60" y1="234.80" x2="161.60" y2="237.00" stroke="#000" stroke-width="0.9"/>
<text transform="translate(163.20,242.40) rotate(-45)" font-size="8.4" text-anchor="end">M7</text>
<text transform="translate(24.10,228.80) rotate(-90)" font-size="10.4" textLength="51.8" lengthAdjust="spacingAndGlyphs" fill="#1a1a1a">Relative <tspan font-style="italic">BCL2</tspan></text>
<text transform="translate(35.30,228.80) rotate(-90)" font-size="10.2" textLength="52.3" lengthAdjust="spacingAndGlyphs">RNA expression</text>
<text x="53.95" y="265.60" font-size="10.2" textLength="91.8" lengthAdjust="spacingAndGlyphs">Cell type / AML FAB subtype</text>
<line x1="159.30" y1="222.30" x2="163.60" y2="222.30" stroke="#000" stroke-width="1.0"/>
<line x1="163.60" y1="222.30" x2="163.60" y2="231.60" stroke="#000" stroke-width="1.0"/>
<line x1="159.30" y1="231.60" x2="163.60" y2="231.60" stroke="#000" stroke-width="1.0"/>
<line x1="159.30" y1="226.90" x2="163.60" y2="226.90" stroke="#000" stroke-width="1.0"/>
<rect x="229.47" y="174.00" width="9.2" height="64.20" fill="none" stroke="#1f45d0" stroke-width="1.25"/>
<rect x="285.69" y="174.00" width="9.2" height="64.20" fill="none" stroke="#1f45d0" stroke-width="1.25"/>
<line x1="233.67" y1="170.80" x2="291.29" y2="170.80" stroke="#2a2a2a" stroke-width="1.6"/>
<line x1="258.98" y1="166.25" x2="258.98" y2="169.35" stroke="#111" stroke-width="0.85"/>
<line x1="257.64" y1="167.03" x2="260.32" y2="168.58" stroke="#111" stroke-width="0.85"/>
<line x1="257.64" y1="168.58" x2="260.32" y2="167.03" stroke="#111" stroke-width="0.85"/>
<line x1="262.93" y1="166.25" x2="262.93" y2="169.35" stroke="#111" stroke-width="0.85"/>
<line x1="261.59" y1="167.03" x2="264.27" y2="168.58" stroke="#111" stroke-width="0.85"/>
<line x1="261.59" y1="168.58" x2="264.27" y2="167.03" stroke="#111" stroke-width="0.85"/>
<line x1="266.88" y1="166.25" x2="266.88" y2="169.35" stroke="#111" stroke-width="0.85"/>
<line x1="265.54" y1="167.03" x2="268.22" y2="168.58" stroke="#111" stroke-width="0.85"/>
<line x1="265.54" y1="168.58" x2="268.22" y2="167.03" stroke="#111" stroke-width="0.85"/>
<line x1="270.83" y1="166.25" x2="270.83" y2="169.35" stroke="#111" stroke-width="0.85"/>
<line x1="269.49" y1="167.03" x2="272.17" y2="168.58" stroke="#111" stroke-width="0.85"/>
<line x1="269.49" y1="168.58" x2="272.17" y2="167.03" stroke="#111" stroke-width="0.85"/>
<rect x="222.10" y="227.64" width="5.20" height="7.16" fill="#cc0014"/>
<line x1="224.70" y1="226.61" x2="224.70" y2="227.64" stroke="#000" stroke-width="0.9"/>
<line x1="223.00" y1="226.61" x2="226.40" y2="226.61" stroke="#000" stroke-width="1.0"/>
<circle cx="225.18" cy="226.20" r="0.95" fill="#000"/>
<circle cx="226.04" cy="226.20" r="0.95" fill="#000"/>
<circle cx="224.97" cy="226.20" r="0.95" fill="#000"/>
<rect x="231.47" y="229.89" width="5.20" height="4.91" fill="#cc0014"/>
<line x1="234.07" y1="229.07" x2="234.07" y2="229.89" stroke="#000" stroke-width="0.9"/>
<line x1="232.37" y1="229.07" x2="235.77" y2="229.07" stroke="#000" stroke-width="1.0"/>
<circle cx="232.15" cy="228.86" r="0.95" fill="#000"/>
<circle cx="232.66" cy="228.86" r="0.95" fill="#000"/>
<circle cx="235.06" cy="231.99" r="0.95" fill="#000"/>
<rect x="240.84" y="233.78" width="5.20" height="1.02" fill="#cc0014"/>
<circle cx="243.34" cy="233.57" r="0.95" fill="#000"/>
<circle cx="242.49" cy="233.63" r="0.95" fill="#000"/>
<circle cx="242.30" cy="233.57" r="0.95" fill="#000"/>
<rect x="250.21" y="228.05" width="5.20" height="6.75" fill="#cc0014"/>
<line x1="252.81" y1="220.47" x2="252.81" y2="228.05" stroke="#000" stroke-width="0.9"/>
<line x1="251.11" y1="220.47" x2="254.51" y2="220.47" stroke="#000" stroke-width="1.0"/>
<rect x="259.58" y="226.00" width="5.20" height="8.80" fill="#cc0014"/>
<line x1="262.18" y1="215.97" x2="262.18" y2="226.00" stroke="#000" stroke-width="0.9"/>
<line x1="260.48" y1="215.97" x2="263.88" y2="215.97" stroke="#000" stroke-width="1.0"/>
<circle cx="259.83" cy="205.53" r="0.95" fill="#000"/>
<circle cx="263.73" cy="231.16" r="0.95" fill="#000"/>
<circle cx="260.81" cy="219.38" r="0.95" fill="#000"/>
<circle cx="259.98" cy="225.15" r="0.95" fill="#000"/>
<circle cx="263.34" cy="230.27" r="0.95" fill="#000"/>
<circle cx="262.69" cy="221.50" r="0.95" fill="#000"/>
<circle cx="262.22" cy="226.61" r="0.95" fill="#000"/>
<circle cx="263.64" cy="229.13" r="0.95" fill="#000"/>
<circle cx="261.52" cy="228.00" r="0.95" fill="#000"/>
<circle cx="261.52" cy="217.14" r="0.95" fill="#000"/>
<circle cx="263.81" cy="228.81" r="0.95" fill="#000"/>
<circle cx="261.50" cy="229.77" r="0.95" fill="#000"/>
<circle cx="265.08" cy="233.09" r="0.95" fill="#000"/>
<circle cx="260.60" cy="229.39" r="0.95" fill="#000"/>
<circle cx="259.28" cy="225.04" r="0.95" fill="#000"/>
<circle cx="262.44" cy="217.36" r="0.95" fill="#000"/>
<circle cx="261.18" cy="226.23" r="0.95" fill="#000"/>
<circle cx="262.42" cy="227.08" r="0.95" fill="#000"/>
<rect x="268.95" y="223.75" width="5.20" height="11.05" fill="#cc0014"/>
<line x1="271.55" y1="212.29" x2="271.55" y2="223.75" stroke="#000" stroke-width="0.9"/>
<line x1="269.85" y1="212.29" x2="273.25" y2="212.29" stroke="#000" stroke-width="1.0"/>
<circle cx="272.74" cy="189.98" r="0.95" fill="#000"/>
<circle cx="272.12" cy="219.74" r="0.95" fill="#000"/>
<circle cx="270.63" cy="216.13" r="0.95" fill="#000"/>
<circle cx="271.38" cy="231.80" r="0.95" fill="#000"/>
<circle cx="269.79" cy="232.30" r="0.95" fill="#000"/>
<circle cx="269.74" cy="228.67" r="0.95" fill="#000"/>
<circle cx="272.36" cy="214.69" r="0.95" fill="#000"/>
<circle cx="271.16" cy="223.65" r="0.95" fill="#000"/>
<circle cx="271.22" cy="220.36" r="0.95" fill="#000"/>
<circle cx="271.69" cy="226.61" r="0.95" fill="#000"/>
<circle cx="271.60" cy="229.24" r="0.95" fill="#000"/>
<circle cx="272.68" cy="200.77" r="0.95" fill="#000"/>
<circle cx="272.31" cy="228.34" r="0.95" fill="#000"/>
<circle cx="270.83" cy="227.31" r="0.95" fill="#000"/>
<circle cx="273.40" cy="225.41" r="0.95" fill="#000"/>
<circle cx="271.16" cy="227.23" r="0.95" fill="#000"/>
<circle cx="270.48" cy="224.67" r="0.95" fill="#000"/>
<circle cx="271.64" cy="218.74" r="0.95" fill="#000"/>
<circle cx="271.75" cy="220.16" r="0.95" fill="#000"/>
<circle cx="270.26" cy="223.59" r="0.95" fill="#000"/>
<circle cx="270.25" cy="213.32" r="0.95" fill="#000"/>
<circle cx="272.76" cy="189.98" r="0.95" fill="#000"/>
<circle cx="271.38" cy="221.52" r="0.95" fill="#000"/>
<circle cx="270.78" cy="217.65" r="0.95" fill="#000"/>
<circle cx="272.04" cy="231.88" r="0.95" fill="#000"/>
<circle cx="273.13" cy="223.48" r="0.95" fill="#000"/>
<circle cx="270.75" cy="211.65" r="0.95" fill="#000"/>
<circle cx="272.26" cy="231.97" r="0.95" fill="#000"/>
<circle cx="269.93" cy="220.22" r="0.95" fill="#000"/>
<circle cx="272.75" cy="216.13" r="0.95" fill="#000"/>
<circle cx="271.79" cy="226.81" r="0.95" fill="#000"/>
<circle cx="272.06" cy="215.05" r="0.95" fill="#000"/>
<circle cx="272.54" cy="218.57" r="0.95" fill="#000"/>
<circle cx="270.30" cy="226.38" r="0.95" fill="#000"/>
<circle cx="273.26" cy="224.29" r="0.95" fill="#000"/>
<circle cx="272.64" cy="229.63" r="0.95" fill="#000"/>
<circle cx="270.68" cy="232.79" r="0.95" fill="#000"/>
<circle cx="270.93" cy="210.73" r="0.95" fill="#000"/>
<circle cx="272.19" cy="223.55" r="0.95" fill="#000"/>
<circle cx="270.13" cy="212.89" r="0.95" fill="#000"/>
<circle cx="270.68" cy="226.88" r="0.95" fill="#000"/>
<circle cx="273.51" cy="224.82" r="0.95" fill="#000"/>
<circle cx="270.86" cy="228.82" r="0.95" fill="#000"/>
<circle cx="269.94" cy="228.49" r="0.95" fill="#000"/>
<circle cx="272.46" cy="222.09" r="0.95" fill="#000"/>
<circle cx="271.18" cy="201.49" r="0.95" fill="#000"/>
<circle cx="271.30" cy="222.55" r="0.95" fill="#000"/>
<circle cx="271.94" cy="218.82" r="0.95" fill="#000"/>
<circle cx="272.37" cy="228.87" r="0.95" fill="#000"/>
<circle cx="272.52" cy="216.59" r="0.95" fill="#000"/>
<circle cx="271.79" cy="221.42" r="0.95" fill="#000"/>
<circle cx="270.08" cy="226.47" r="0.95" fill="#000"/>
<circle cx="270.63" cy="226.84" r="0.95" fill="#000"/>
<circle cx="271.67" cy="226.94" r="0.95" fill="#000"/>
<circle cx="273.34" cy="227.82" r="0.95" fill="#000"/>
<rect x="278.32" y="222.52" width="5.20" height="12.28" fill="#cc0014"/>
<line x1="280.92" y1="210.24" x2="280.92" y2="222.52" stroke="#000" stroke-width="0.9"/>
<line x1="279.22" y1="210.24" x2="282.62" y2="210.24" stroke="#000" stroke-width="1.0"/>
<circle cx="280.49" cy="195.30" r="0.95" fill="#000"/>
<circle cx="282.54" cy="210.94" r="0.95" fill="#000"/>
<circle cx="279.36" cy="228.13" r="0.95" fill="#000"/>
<circle cx="282.25" cy="220.95" r="0.95" fill="#000"/>
<circle cx="283.29" cy="223.07" r="0.95" fill="#000"/>
<circle cx="282.31" cy="227.31" r="0.95" fill="#000"/>
<circle cx="280.84" cy="215.68" r="0.95" fill="#000"/>
<circle cx="280.27" cy="229.22" r="0.95" fill="#000"/>
<circle cx="280.26" cy="215.27" r="0.95" fill="#000"/>
<circle cx="281.35" cy="224.27" r="0.95" fill="#000"/>
<circle cx="280.55" cy="220.63" r="0.95" fill="#000"/>
<circle cx="281.75" cy="213.33" r="0.95" fill="#000"/>
<circle cx="281.11" cy="229.04" r="0.95" fill="#000"/>
<circle cx="283.06" cy="225.34" r="0.95" fill="#000"/>
<circle cx="281.33" cy="218.10" r="0.95" fill="#000"/>
<circle cx="280.46" cy="223.78" r="0.95" fill="#000"/>
<circle cx="282.89" cy="225.39" r="0.95" fill="#000"/>
<circle cx="279.92" cy="224.13" r="0.95" fill="#000"/>
<circle cx="281.88" cy="218.34" r="0.95" fill="#000"/>
<circle cx="279.69" cy="223.37" r="0.95" fill="#000"/>
<circle cx="282.29" cy="212.83" r="0.95" fill="#000"/>
<circle cx="279.69" cy="230.35" r="0.95" fill="#000"/>
<circle cx="279.86" cy="200.47" r="0.95" fill="#000"/>
<circle cx="281.81" cy="229.47" r="0.95" fill="#000"/>
<circle cx="281.99" cy="224.20" r="0.95" fill="#000"/>
<circle cx="282.71" cy="230.02" r="0.95" fill="#000"/>
<circle cx="280.32" cy="218.26" r="0.95" fill="#000"/>
<circle cx="281.87" cy="225.77" r="0.95" fill="#000"/>
<circle cx="281.91" cy="225.95" r="0.95" fill="#000"/>
<circle cx="281.48" cy="225.24" r="0.95" fill="#000"/>
<circle cx="280.01" cy="229.40" r="0.95" fill="#000"/>
<circle cx="280.30" cy="229.91" r="0.95" fill="#000"/>
<circle cx="280.61" cy="225.59" r="0.95" fill="#000"/>
<circle cx="278.24" cy="221.79" r="0.95" fill="#000"/>
<circle cx="281.19" cy="222.77" r="0.95" fill="#000"/>
<circle cx="280.76" cy="228.22" r="0.95" fill="#000"/>
<circle cx="279.53" cy="231.05" r="0.95" fill="#000"/>
<circle cx="279.01" cy="227.54" r="0.95" fill="#000"/>
<circle cx="281.56" cy="212.89" r="0.95" fill="#000"/>
<circle cx="280.39" cy="221.90" r="0.95" fill="#000"/>
<circle cx="281.96" cy="209.77" r="0.95" fill="#000"/>
<circle cx="280.60" cy="220.25" r="0.95" fill="#000"/>
<circle cx="280.38" cy="224.60" r="0.95" fill="#000"/>
<circle cx="279.04" cy="222.75" r="0.95" fill="#000"/>
<circle cx="281.84" cy="222.40" r="0.95" fill="#000"/>
<circle cx="279.35" cy="221.78" r="0.95" fill="#000"/>
<circle cx="279.62" cy="221.94" r="0.95" fill="#000"/>
<circle cx="283.82" cy="228.63" r="0.95" fill="#000"/>
<circle cx="279.58" cy="225.46" r="0.95" fill="#000"/>
<circle cx="280.44" cy="229.15" r="0.95" fill="#000"/>
<circle cx="278.13" cy="225.60" r="0.95" fill="#000"/>
<circle cx="282.22" cy="229.24" r="0.95" fill="#000"/>
<circle cx="278.71" cy="227.27" r="0.95" fill="#000"/>
<circle cx="278.61" cy="217.79" r="0.95" fill="#000"/>
<circle cx="278.81" cy="202.65" r="0.95" fill="#000"/>
<rect x="287.69" y="223.75" width="5.20" height="11.05" fill="#cc0014"/>
<line x1="290.29" y1="218.43" x2="290.29" y2="223.75" stroke="#000" stroke-width="0.9"/>
<line x1="288.59" y1="218.43" x2="291.99" y2="218.43" stroke="#000" stroke-width="1.0"/>
<circle cx="289.07" cy="216.99" r="0.95" fill="#000"/>
<circle cx="288.02" cy="225.96" r="0.95" fill="#000"/>
<circle cx="290.93" cy="227.82" r="0.95" fill="#000"/>
<circle cx="291.99" cy="216.99" r="0.95" fill="#000"/>
<circle cx="290.22" cy="216.99" r="0.95" fill="#000"/>
<circle cx="291.05" cy="221.74" r="0.95" fill="#000"/>
<circle cx="290.78" cy="227.17" r="0.95" fill="#000"/>
<circle cx="290.20" cy="221.68" r="0.95" fill="#000"/>
<circle cx="290.89" cy="224.69" r="0.95" fill="#000"/>
<circle cx="288.49" cy="228.21" r="0.95" fill="#000"/>
<circle cx="290.71" cy="222.86" r="0.95" fill="#000"/>
<circle cx="290.73" cy="228.97" r="0.95" fill="#000"/>
<circle cx="290.10" cy="222.41" r="0.95" fill="#000"/>
<circle cx="290.81" cy="220.64" r="0.95" fill="#000"/>
<circle cx="291.22" cy="222.89" r="0.95" fill="#000"/>
<circle cx="288.58" cy="225.17" r="0.95" fill="#000"/>
<circle cx="291.11" cy="223.16" r="0.95" fill="#000"/>
<circle cx="291.07" cy="224.39" r="0.95" fill="#000"/>
<circle cx="289.17" cy="223.52" r="0.95" fill="#000"/>
<circle cx="289.57" cy="230.21" r="0.95" fill="#000"/>
<circle cx="290.42" cy="227.28" r="0.95" fill="#000"/>
<circle cx="288.42" cy="216.99" r="0.95" fill="#000"/>
<circle cx="291.66" cy="226.97" r="0.95" fill="#000"/>
<circle cx="289.89" cy="216.99" r="0.95" fill="#000"/>
<circle cx="290.70" cy="223.42" r="0.95" fill="#000"/>
<rect x="297.06" y="229.27" width="5.20" height="5.53" fill="#cc0014"/>
<line x1="299.66" y1="224.57" x2="299.66" y2="229.27" stroke="#000" stroke-width="0.9"/>
<line x1="297.96" y1="224.57" x2="301.36" y2="224.57" stroke="#000" stroke-width="1.0"/>
<circle cx="298.90" cy="218.84" r="0.95" fill="#000"/>
<circle cx="300.71" cy="231.31" r="0.95" fill="#000"/>
<circle cx="299.56" cy="231.09" r="0.95" fill="#000"/>
<circle cx="299.54" cy="223.33" r="0.95" fill="#000"/>
<circle cx="299.85" cy="229.24" r="0.95" fill="#000"/>
<circle cx="299.87" cy="231.36" r="0.95" fill="#000"/>
<circle cx="297.69" cy="227.85" r="0.95" fill="#000"/>
<circle cx="299.19" cy="230.41" r="0.95" fill="#000"/>
<circle cx="300.62" cy="227.75" r="0.95" fill="#000"/>
<circle cx="302.28" cy="229.59" r="0.95" fill="#000"/>
<circle cx="299.47" cy="232.08" r="0.95" fill="#000"/>
<circle cx="299.62" cy="226.61" r="0.95" fill="#000"/>
<circle cx="299.50" cy="230.62" r="0.95" fill="#000"/>
<circle cx="299.59" cy="229.26" r="0.95" fill="#000"/>
<circle cx="297.39" cy="226.39" r="0.95" fill="#000"/>
<circle cx="299.18" cy="228.75" r="0.95" fill="#000"/>
<circle cx="301.71" cy="229.80" r="0.95" fill="#000"/>
<circle cx="300.51" cy="225.97" r="0.95" fill="#000"/>
<circle cx="300.29" cy="233.17" r="0.95" fill="#000"/>
<circle cx="298.33" cy="232.42" r="0.95" fill="#000"/>
<circle cx="301.83" cy="230.67" r="0.95" fill="#000"/>
<circle cx="301.10" cy="232.70" r="0.95" fill="#000"/>
<circle cx="300.98" cy="222.66" r="0.95" fill="#000"/>
<circle cx="301.23" cy="228.30" r="0.95" fill="#000"/>
<circle cx="299.54" cy="230.66" r="0.95" fill="#000"/>
<circle cx="298.68" cy="227.96" r="0.95" fill="#000"/>
<circle cx="300.14" cy="229.67" r="0.95" fill="#000"/>
<circle cx="301.03" cy="230.24" r="0.95" fill="#000"/>
<circle cx="298.46" cy="229.81" r="0.95" fill="#000"/>
<circle cx="299.09" cy="229.75" r="0.95" fill="#000"/>
<circle cx="300.55" cy="231.23" r="0.95" fill="#000"/>
<circle cx="299.16" cy="220.93" r="0.95" fill="#000"/>
<circle cx="299.49" cy="229.52" r="0.95" fill="#000"/>
<circle cx="301.09" cy="231.66" r="0.95" fill="#000"/>
<circle cx="301.33" cy="228.99" r="0.95" fill="#000"/>
<circle cx="299.71" cy="229.65" r="0.95" fill="#000"/>
<circle cx="299.54" cy="221.28" r="0.95" fill="#000"/>
<circle cx="301.39" cy="228.15" r="0.95" fill="#000"/>
<circle cx="300.88" cy="229.91" r="0.95" fill="#000"/>
<circle cx="299.39" cy="231.12" r="0.95" fill="#000"/>
<circle cx="300.77" cy="230.54" r="0.95" fill="#000"/>
<circle cx="298.79" cy="230.24" r="0.95" fill="#000"/>
<circle cx="301.66" cy="227.70" r="0.95" fill="#000"/>
<circle cx="302.41" cy="231.69" r="0.95" fill="#000"/>
<circle cx="298.86" cy="232.16" r="0.95" fill="#000"/>
<circle cx="301.78" cy="231.31" r="0.95" fill="#000"/>
<circle cx="300.05" cy="227.84" r="0.95" fill="#000"/>
<circle cx="300.75" cy="224.49" r="0.95" fill="#000"/>
<rect x="306.43" y="229.89" width="5.20" height="4.91" fill="#cc0014"/>
<line x1="309.03" y1="218.22" x2="309.03" y2="229.89" stroke="#000" stroke-width="0.9"/>
<line x1="307.33" y1="218.22" x2="310.73" y2="218.22" stroke="#000" stroke-width="1.0"/>
<circle cx="308.24" cy="192.02" r="0.95" fill="#000"/>
<circle cx="310.46" cy="232.54" r="0.95" fill="#000"/>
<circle cx="308.72" cy="230.70" r="0.95" fill="#000"/>
<circle cx="309.78" cy="229.67" r="0.95" fill="#000"/>
<circle cx="309.96" cy="227.74" r="0.95" fill="#000"/>
<circle cx="310.32" cy="221.31" r="0.95" fill="#000"/>
<circle cx="309.72" cy="231.93" r="0.95" fill="#000"/>
<circle cx="307.26" cy="231.86" r="0.95" fill="#000"/>
<circle cx="307.87" cy="228.72" r="0.95" fill="#000"/>
<circle cx="310.20" cy="230.98" r="0.95" fill="#000"/>
<circle cx="309.16" cy="226.67" r="0.95" fill="#000"/>
<circle cx="306.13" cy="231.63" r="0.95" fill="#000"/>
<circle cx="307.18" cy="228.91" r="0.95" fill="#000"/>
<circle cx="308.87" cy="230.24" r="0.95" fill="#000"/>
<circle cx="310.07" cy="230.87" r="0.95" fill="#000"/>
<circle cx="308.53" cy="230.52" r="0.95" fill="#000"/>
<circle cx="310.11" cy="231.60" r="0.95" fill="#000"/>
<circle cx="306.67" cy="228.65" r="0.95" fill="#000"/>
<rect x="315.80" y="229.27" width="5.20" height="5.53" fill="#cc0014"/>
<line x1="318.40" y1="222.52" x2="318.40" y2="229.27" stroke="#000" stroke-width="0.9"/>
<line x1="316.70" y1="222.52" x2="320.10" y2="222.52" stroke="#000" stroke-width="1.0"/>
<rect x="325.17" y="230.30" width="5.20" height="4.50" fill="#cc0014"/>
<line x1="327.77" y1="227.02" x2="327.77" y2="230.30" stroke="#000" stroke-width="0.9"/>
<line x1="326.07" y1="227.02" x2="329.47" y2="227.02" stroke="#000" stroke-width="1.0"/>
<line x1="218.30" y1="173.40" x2="218.30" y2="235.60" stroke="#000" stroke-width="1.8"/>
<line x1="217.40" y1="234.80" x2="334.60" y2="234.80" stroke="#000" stroke-width="1.6"/>
<line x1="216.00" y1="234.80" x2="218.30" y2="234.80" stroke="#000" stroke-width="1.2"/>
<text x="215.40" y="238.10" font-size="8.5" text-anchor="end" textLength="4.0" lengthAdjust="spacingAndGlyphs">0</text>
<line x1="216.00" y1="214.33" x2="218.30" y2="214.33" stroke="#000" stroke-width="1.2"/>
<text x="215.40" y="217.63" font-size="8.5" text-anchor="end" textLength="12.599999999999998" lengthAdjust="spacingAndGlyphs">100</text>
<line x1="216.00" y1="193.87" x2="218.30" y2="193.87" stroke="#000" stroke-width="1.2"/>
<text x="215.40" y="197.17" font-size="8.5" text-anchor="end" textLength="12.599999999999998" lengthAdjust="spacingAndGlyphs">200</text>
<line x1="216.00" y1="173.40" x2="218.30" y2="173.40" stroke="#000" stroke-width="1.2"/>
<text x="215.40" y="176.70" font-size="8.5" text-anchor="end" textLength="12.599999999999998" lengthAdjust="spacingAndGlyphs">300</text>
<line x1="224.70" y1="234.80" x2="224.70" y2="237.00" stroke="#000" stroke-width="0.9"/>
<text transform="translate(226.30,242.40) rotate(-45)" font-size="8.4" text-anchor="end">CD34</text>
<line x1="234.07" y1="234.80" x2="234.07" y2="237.00" stroke="#000" stroke-width="0.9"/>
<text transform="translate(235.67,242.40) rotate(-45)" font-size="8.4" text-anchor="end">Pro</text>
<line x1="243.44" y1="234.80" x2="243.44" y2="237.00" stroke="#000" stroke-width="0.9"/>
<text transform="translate(245.04,242.40) rotate(-45)" font-size="8.4" text-anchor="end">Neu</text>
<line x1="252.81" y1="234.80" x2="252.81" y2="237.00" stroke="#000" stroke-width="0.9"/>
<text transform="translate(254.41,242.40) rotate(-45)" font-size="8.4" text-anchor="end">Mono</text>
<line x1="262.18" y1="234.80" x2="262.18" y2="237.00" stroke="#000" stroke-width="0.9"/>
<text transform="translate(263.78,242.40) rotate(-45)" font-size="8.4" text-anchor="end">M0</text>
<line x1="271.55" y1="234.80" x2="271.55" y2="237.00" stroke="#000" stroke-width="0.9"/>
<text transform="translate(273.15,242.40) rotate(-45)" font-size="8.4" text-anchor="end">M1</text>
<line x1="280.92" y1="234.80" x2="280.92" y2="237.00" stroke="#000" stroke-width="0.9"/>
<text transform="translate(282.52,242.40) rotate(-45)" font-size="8.4" text-anchor="end">M2</text>
<line x1="290.29" y1="234.80" x2="290.29" y2="237.00" stroke="#000" stroke-width="0.9"/>
<text transform="translate(291.89,242.40) rotate(-45)" font-size="8.4" text-anchor="end">M3</text>
<line x1="299.66" y1="234.80" x2="299.66" y2="237.00" stroke="#000" stroke-width="0.9"/>
<text transform="translate(301.26,242.40) rotate(-45)" font-size="8.4" text-anchor="end">M4</text>
<line x1="309.03" y1="234.80" x2="309.03" y2="237.00" stroke="#000" stroke-width="0.9"/>
<text transform="translate(310.63,242.40) rotate(-45)" font-size="8.4" text-anchor="end">M5</text>
<line x1="318.40" y1="234.80" x2="318.40" y2="237.00" stroke="#000" stroke-width="0.9"/>
<text transform="translate(320.00,242.40) rotate(-45)" font-size="8.4" text-anchor="end">M6</text>
<line x1="327.77" y1="234.80" x2="327.77" y2="237.00" stroke="#000" stroke-width="0.9"/>
<text transform="translate(329.37,242.40) rotate(-45)" font-size="8.4" text-anchor="end">M7</text>
<text transform="translate(188.10,235.10) rotate(-90)" font-size="10.4" textLength="62.5" lengthAdjust="spacingAndGlyphs" fill="#1a1a1a">Relative <tspan font-style="italic">ZBTB16</tspan></text>
<text transform="translate(197.80,230.00) rotate(-90)" font-size="10.2" textLength="52.4" lengthAdjust="spacingAndGlyphs">RNA expression</text>
<text x="222.20" y="265.60" font-size="10.2" textLength="91.8" lengthAdjust="spacingAndGlyphs">Cell type / AML FAB subtype</text>
<rect x="407.77" y="174.00" width="9.2" height="64.60" fill="none" stroke="#1f45d0" stroke-width="1.25"/>
<rect x="463.99" y="174.00" width="9.2" height="64.60" fill="none" stroke="#1f45d0" stroke-width="1.25"/>
<line x1="411.97" y1="170.80" x2="469.59" y2="170.80" stroke="#2a2a2a" stroke-width="1.6"/>
<line x1="437.28" y1="166.25" x2="437.28" y2="169.35" stroke="#111" stroke-width="0.85"/>
<line x1="435.94" y1="167.03" x2="438.62" y2="168.58" stroke="#111" stroke-width="0.85"/>
<line x1="435.94" y1="168.58" x2="438.62" y2="167.03" stroke="#111" stroke-width="0.85"/>
<line x1="441.23" y1="166.25" x2="441.23" y2="169.35" stroke="#111" stroke-width="0.85"/>
<line x1="439.89" y1="167.03" x2="442.57" y2="168.58" stroke="#111" stroke-width="0.85"/>
<line x1="439.89" y1="168.58" x2="442.57" y2="167.03" stroke="#111" stroke-width="0.85"/>
<line x1="445.18" y1="166.25" x2="445.18" y2="169.35" stroke="#111" stroke-width="0.85"/>
<line x1="443.84" y1="167.03" x2="446.52" y2="168.58" stroke="#111" stroke-width="0.85"/>
<line x1="443.84" y1="168.58" x2="446.52" y2="167.03" stroke="#111" stroke-width="0.85"/>
<line x1="449.13" y1="166.25" x2="449.13" y2="169.35" stroke="#111" stroke-width="0.85"/>
<line x1="447.79" y1="167.03" x2="450.47" y2="168.58" stroke="#111" stroke-width="0.85"/>
<line x1="447.79" y1="168.58" x2="450.47" y2="167.03" stroke="#111" stroke-width="0.85"/>
<rect x="400.40" y="234.43" width="5.20" height="0.77" fill="#cc0014"/>
<line x1="403.00" y1="233.96" x2="403.00" y2="234.43" stroke="#000" stroke-width="0.9"/>
<line x1="401.30" y1="233.96" x2="404.70" y2="233.96" stroke="#000" stroke-width="1.0"/>
<circle cx="402.51" cy="233.81" r="0.95" fill="#000"/>
<circle cx="400.21" cy="234.34" r="0.95" fill="#000"/>
<circle cx="402.64" cy="234.70" r="0.95" fill="#000"/>
<circle cx="412.37" cy="235.05" r="0.95" fill="#000"/>
<circle cx="409.47" cy="235.20" r="0.95" fill="#000"/>
<circle cx="412.16" cy="235.20" r="0.95" fill="#000"/>
<circle cx="421.00" cy="235.12" r="0.95" fill="#000"/>
<circle cx="421.12" cy="235.20" r="0.95" fill="#000"/>
<circle cx="422.25" cy="235.20" r="0.95" fill="#000"/>
<rect x="428.51" y="234.74" width="5.20" height="0.46" fill="#cc0014"/>
<circle cx="432.81" cy="234.58" r="0.95" fill="#000"/>
<circle cx="430.01" cy="234.80" r="0.95" fill="#000"/>
<circle cx="430.58" cy="234.58" r="0.95" fill="#000"/>
<rect x="437.88" y="233.66" width="5.20" height="1.54" fill="#cc0014"/>
<line x1="440.48" y1="232.11" x2="440.48" y2="233.66" stroke="#000" stroke-width="0.9"/>
<line x1="438.78" y1="232.11" x2="442.18" y2="232.11" stroke="#000" stroke-width="1.0"/>
<circle cx="440.63" cy="229.95" r="0.95" fill="#000"/>
<circle cx="440.36" cy="233.18" r="0.95" fill="#000"/>
<circle cx="439.56" cy="232.61" r="0.95" fill="#000"/>
<circle cx="439.86" cy="234.35" r="0.95" fill="#000"/>
<circle cx="443.32" cy="233.80" r="0.95" fill="#000"/>
<circle cx="440.36" cy="231.32" r="0.95" fill="#000"/>
<circle cx="440.08" cy="233.94" r="0.95" fill="#000"/>
<circle cx="439.52" cy="233.34" r="0.95" fill="#000"/>
<circle cx="439.90" cy="233.12" r="0.95" fill="#000"/>
<circle cx="439.39" cy="234.54" r="0.95" fill="#000"/>
<circle cx="441.99" cy="233.22" r="0.95" fill="#000"/>
<circle cx="440.63" cy="233.47" r="0.95" fill="#000"/>
<circle cx="443.38" cy="232.31" r="0.95" fill="#000"/>
<circle cx="439.77" cy="232.15" r="0.95" fill="#000"/>
<circle cx="442.29" cy="234.01" r="0.95" fill="#000"/>
<circle cx="439.21" cy="233.71" r="0.95" fill="#000"/>
<circle cx="439.20" cy="234.47" r="0.95" fill="#000"/>
<circle cx="440.57" cy="233.05" r="0.95" fill="#000"/>
<rect x="447.25" y="233.66" width="5.20" height="1.54" fill="#cc0014"/>
<line x1="449.85" y1="231.34" x2="449.85" y2="233.66" stroke="#000" stroke-width="0.9"/>
<line x1="448.15" y1="231.34" x2="451.55" y2="231.34" stroke="#000" stroke-width="1.0"/>
<circle cx="449.99" cy="223.23" r="0.95" fill="#000"/>
<circle cx="450.96" cy="234.25" r="0.95" fill="#000"/>
<circle cx="451.25" cy="233.16" r="0.95" fill="#000"/>
<circle cx="451.53" cy="233.74" r="0.95" fill="#000"/>
<circle cx="451.47" cy="234.11" r="0.95" fill="#000"/>
<circle cx="450.31" cy="232.01" r="0.95" fill="#000"/>
<circle cx="452.45" cy="231.84" r="0.95" fill="#000"/>
<circle cx="448.99" cy="234.22" r="0.95" fill="#000"/>
<circle cx="450.81" cy="234.35" r="0.95" fill="#000"/>
<circle cx="447.82" cy="234.07" r="0.95" fill="#000"/>
<circle cx="448.35" cy="233.65" r="0.95" fill="#000"/>
<circle cx="449.77" cy="231.19" r="0.95" fill="#000"/>
<circle cx="448.80" cy="233.08" r="0.95" fill="#000"/>
<circle cx="450.53" cy="234.34" r="0.95" fill="#000"/>
<circle cx="448.96" cy="232.64" r="0.95" fill="#000"/>
<circle cx="449.63" cy="234.29" r="0.95" fill="#000"/>
<circle cx="449.20" cy="232.98" r="0.95" fill="#000"/>
<circle cx="450.55" cy="231.91" r="0.95" fill="#000"/>
<circle cx="448.61" cy="232.22" r="0.95" fill="#000"/>
<circle cx="448.60" cy="234.42" r="0.95" fill="#000"/>
<circle cx="451.49" cy="233.97" r="0.95" fill="#000"/>
<circle cx="450.13" cy="233.25" r="0.95" fill="#000"/>
<circle cx="450.35" cy="234.32" r="0.95" fill="#000"/>
<circle cx="450.11" cy="233.84" r="0.95" fill="#000"/>
<circle cx="448.36" cy="233.94" r="0.95" fill="#000"/>
<circle cx="450.96" cy="233.61" r="0.95" fill="#000"/>
<circle cx="450.43" cy="234.04" r="0.95" fill="#000"/>
<circle cx="451.04" cy="231.00" r="0.95" fill="#000"/>
<circle cx="449.45" cy="232.01" r="0.95" fill="#000"/>
<circle cx="448.84" cy="233.01" r="0.95" fill="#000"/>
<circle cx="448.98" cy="233.46" r="0.95" fill="#000"/>
<circle cx="448.17" cy="233.68" r="0.95" fill="#000"/>
<circle cx="449.51" cy="233.34" r="0.95" fill="#000"/>
<circle cx="449.21" cy="233.55" r="0.95" fill="#000"/>
<circle cx="449.10" cy="234.73" r="0.95" fill="#000"/>
<circle cx="449.85" cy="232.95" r="0.95" fill="#000"/>
<circle cx="450.95" cy="233.85" r="0.95" fill="#000"/>
<circle cx="450.91" cy="231.08" r="0.95" fill="#000"/>
<circle cx="448.65" cy="233.31" r="0.95" fill="#000"/>
<circle cx="451.20" cy="234.18" r="0.95" fill="#000"/>
<circle cx="449.94" cy="233.46" r="0.95" fill="#000"/>
<circle cx="449.19" cy="233.02" r="0.95" fill="#000"/>
<circle cx="449.88" cy="234.72" r="0.95" fill="#000"/>
<circle cx="449.64" cy="232.50" r="0.95" fill="#000"/>
<circle cx="450.90" cy="233.47" r="0.95" fill="#000"/>
<circle cx="448.56" cy="231.24" r="0.95" fill="#000"/>
<circle cx="452.19" cy="233.07" r="0.95" fill="#000"/>
<circle cx="451.02" cy="234.10" r="0.95" fill="#000"/>
<circle cx="452.21" cy="232.69" r="0.95" fill="#000"/>
<circle cx="449.82" cy="233.04" r="0.95" fill="#000"/>
<circle cx="449.22" cy="233.96" r="0.95" fill="#000"/>
<circle cx="449.57" cy="233.46" r="0.95" fill="#000"/>
<circle cx="451.14" cy="232.29" r="0.95" fill="#000"/>
<circle cx="452.43" cy="234.18" r="0.95" fill="#000"/>
<circle cx="448.35" cy="232.55" r="0.95" fill="#000"/>
<rect x="456.62" y="233.35" width="5.20" height="1.85" fill="#cc0014"/>
<line x1="459.22" y1="231.34" x2="459.22" y2="233.35" stroke="#000" stroke-width="0.9"/>
<line x1="457.52" y1="231.34" x2="460.92" y2="231.34" stroke="#000" stroke-width="1.0"/>
<circle cx="460.72" cy="225.93" r="0.95" fill="#000"/>
<circle cx="458.68" cy="232.14" r="0.95" fill="#000"/>
<circle cx="459.66" cy="232.67" r="0.95" fill="#000"/>
<circle cx="461.14" cy="233.79" r="0.95" fill="#000"/>
<circle cx="460.00" cy="233.14" r="0.95" fill="#000"/>
<circle cx="461.13" cy="233.22" r="0.95" fill="#000"/>
<circle cx="458.01" cy="233.11" r="0.95" fill="#000"/>
<circle cx="456.92" cy="234.13" r="0.95" fill="#000"/>
<circle cx="458.72" cy="233.83" r="0.95" fill="#000"/>
<circle cx="462.04" cy="233.91" r="0.95" fill="#000"/>
<circle cx="458.31" cy="233.68" r="0.95" fill="#000"/>
<circle cx="458.79" cy="233.59" r="0.95" fill="#000"/>
<circle cx="459.07" cy="232.03" r="0.95" fill="#000"/>
<circle cx="458.94" cy="234.19" r="0.95" fill="#000"/>
<circle cx="459.71" cy="231.65" r="0.95" fill="#000"/>
<circle cx="460.18" cy="233.49" r="0.95" fill="#000"/>
<circle cx="458.70" cy="233.21" r="0.95" fill="#000"/>
<circle cx="461.35" cy="233.66" r="0.95" fill="#000"/>
<circle cx="460.27" cy="233.33" r="0.95" fill="#000"/>
<circle cx="458.97" cy="233.84" r="0.95" fill="#000"/>
<circle cx="456.90" cy="229.14" r="0.95" fill="#000"/>
<circle cx="459.52" cy="232.01" r="0.95" fill="#000"/>
<circle cx="457.94" cy="233.34" r="0.95" fill="#000"/>
<circle cx="458.56" cy="232.05" r="0.95" fill="#000"/>
<circle cx="460.72" cy="232.77" r="0.95" fill="#000"/>
<circle cx="458.25" cy="233.81" r="0.95" fill="#000"/>
<circle cx="457.31" cy="234.05" r="0.95" fill="#000"/>
<circle cx="459.06" cy="234.17" r="0.95" fill="#000"/>
<circle cx="457.59" cy="232.35" r="0.95" fill="#000"/>
<circle cx="458.81" cy="234.65" r="0.95" fill="#000"/>
<circle cx="461.23" cy="232.43" r="0.95" fill="#000"/>
<circle cx="460.75" cy="232.58" r="0.95" fill="#000"/>
<circle cx="460.61" cy="233.25" r="0.95" fill="#000"/>
<circle cx="456.96" cy="233.10" r="0.95" fill="#000"/>
<circle cx="458.30" cy="233.16" r="0.95" fill="#000"/>
<circle cx="459.28" cy="233.90" r="0.95" fill="#000"/>
<circle cx="458.48" cy="234.09" r="0.95" fill="#000"/>
<circle cx="459.61" cy="231.62" r="0.95" fill="#000"/>
<circle cx="457.57" cy="233.59" r="0.95" fill="#000"/>
<circle cx="458.63" cy="232.89" r="0.95" fill="#000"/>
<circle cx="459.42" cy="233.24" r="0.95" fill="#000"/>
<circle cx="459.25" cy="234.11" r="0.95" fill="#000"/>
<circle cx="459.58" cy="233.91" r="0.95" fill="#000"/>
<circle cx="458.74" cy="233.23" r="0.95" fill="#000"/>
<circle cx="458.29" cy="232.01" r="0.95" fill="#000"/>
<circle cx="458.60" cy="234.41" r="0.95" fill="#000"/>
<circle cx="459.95" cy="233.31" r="0.95" fill="#000"/>
<circle cx="459.57" cy="233.45" r="0.95" fill="#000"/>
<circle cx="460.89" cy="233.79" r="0.95" fill="#000"/>
<circle cx="459.06" cy="233.94" r="0.95" fill="#000"/>
<circle cx="458.92" cy="233.66" r="0.95" fill="#000"/>
<circle cx="458.50" cy="233.09" r="0.95" fill="#000"/>
<circle cx="459.99" cy="233.36" r="0.95" fill="#000"/>
<circle cx="456.94" cy="233.88" r="0.95" fill="#000"/>
<circle cx="458.77" cy="233.27" r="0.95" fill="#000"/>
<rect x="465.99" y="216.35" width="5.20" height="18.85" fill="#cc0014"/>
<line x1="468.59" y1="202.60" x2="468.59" y2="216.35" stroke="#000" stroke-width="0.9"/>
<line x1="466.89" y1="202.60" x2="470.29" y2="202.60" stroke="#000" stroke-width="1.0"/>
<circle cx="469.25" cy="205.84" r="0.95" fill="#000"/>
<circle cx="471.49" cy="210.29" r="0.95" fill="#000"/>
<circle cx="468.98" cy="205.84" r="0.95" fill="#000"/>
<circle cx="465.69" cy="214.30" r="0.95" fill="#000"/>
<circle cx="469.72" cy="208.75" r="0.95" fill="#000"/>
<circle cx="468.22" cy="216.44" r="0.95" fill="#000"/>
<circle cx="471.32" cy="215.15" r="0.95" fill="#000"/>
<circle cx="469.60" cy="209.38" r="0.95" fill="#000"/>
<circle cx="469.89" cy="219.08" r="0.95" fill="#000"/>
<circle cx="468.75" cy="214.01" r="0.95" fill="#000"/>
<circle cx="469.38" cy="185.76" r="0.85" fill="#111"/>
<circle cx="469.01" cy="195.96" r="0.85" fill="#111"/>
<circle cx="468.96" cy="198.12" r="0.85" fill="#111"/>
<rect x="475.36" y="233.66" width="5.20" height="1.54" fill="#cc0014"/>
<line x1="477.96" y1="232.11" x2="477.96" y2="233.66" stroke="#000" stroke-width="0.9"/>
<line x1="476.26" y1="232.11" x2="479.66" y2="232.11" stroke="#000" stroke-width="1.0"/>
<circle cx="478.95" cy="229.95" r="0.95" fill="#000"/>
<circle cx="477.65" cy="234.11" r="0.95" fill="#000"/>
<circle cx="478.68" cy="234.70" r="0.95" fill="#000"/>
<circle cx="478.85" cy="234.05" r="0.95" fill="#000"/>
<circle cx="477.75" cy="232.14" r="0.95" fill="#000"/>
<circle cx="478.29" cy="232.67" r="0.95" fill="#000"/>
<circle cx="477.60" cy="233.81" r="0.95" fill="#000"/>
<circle cx="479.63" cy="234.19" r="0.95" fill="#000"/>
<circle cx="476.65" cy="232.80" r="0.95" fill="#000"/>
<circle cx="477.01" cy="232.85" r="0.95" fill="#000"/>
<circle cx="479.52" cy="234.47" r="0.95" fill="#000"/>
<circle cx="479.50" cy="234.39" r="0.95" fill="#000"/>
<circle cx="479.13" cy="233.49" r="0.95" fill="#000"/>
<circle cx="479.46" cy="233.20" r="0.95" fill="#000"/>
<circle cx="478.71" cy="233.36" r="0.95" fill="#000"/>
<circle cx="479.38" cy="233.45" r="0.95" fill="#000"/>
<circle cx="479.28" cy="233.93" r="0.95" fill="#000"/>
<circle cx="477.88" cy="231.92" r="0.95" fill="#000"/>
<circle cx="477.29" cy="233.27" r="0.95" fill="#000"/>
<circle cx="478.30" cy="233.86" r="0.95" fill="#000"/>
<circle cx="476.81" cy="233.90" r="0.95" fill="#000"/>
<circle cx="478.21" cy="233.68" r="0.95" fill="#000"/>
<circle cx="478.88" cy="233.38" r="0.95" fill="#000"/>
<circle cx="479.80" cy="234.56" r="0.95" fill="#000"/>
<circle cx="476.96" cy="233.78" r="0.95" fill="#000"/>
<circle cx="478.54" cy="233.92" r="0.95" fill="#000"/>
<circle cx="477.48" cy="232.81" r="0.95" fill="#000"/>
<circle cx="475.89" cy="233.53" r="0.95" fill="#000"/>
<circle cx="477.81" cy="233.52" r="0.95" fill="#000"/>
<circle cx="479.11" cy="233.95" r="0.95" fill="#000"/>
<circle cx="479.30" cy="231.41" r="0.95" fill="#000"/>
<circle cx="479.95" cy="234.15" r="0.95" fill="#000"/>
<circle cx="477.91" cy="233.89" r="0.95" fill="#000"/>
<circle cx="478.55" cy="234.04" r="0.95" fill="#000"/>
<circle cx="478.15" cy="233.16" r="0.95" fill="#000"/>
<circle cx="477.77" cy="233.81" r="0.95" fill="#000"/>
<circle cx="479.22" cy="233.94" r="0.95" fill="#000"/>
<circle cx="477.77" cy="234.01" r="0.95" fill="#000"/>
<circle cx="476.99" cy="233.81" r="0.95" fill="#000"/>
<circle cx="476.06" cy="233.82" r="0.95" fill="#000"/>
<circle cx="478.66" cy="233.31" r="0.95" fill="#000"/>
<circle cx="479.98" cy="233.87" r="0.95" fill="#000"/>
<circle cx="478.68" cy="234.17" r="0.95" fill="#000"/>
<circle cx="477.27" cy="233.24" r="0.95" fill="#000"/>
<circle cx="479.11" cy="233.83" r="0.95" fill="#000"/>
<circle cx="478.33" cy="233.61" r="0.95" fill="#000"/>
<circle cx="478.24" cy="232.10" r="0.95" fill="#000"/>
<circle cx="477.01" cy="234.53" r="0.95" fill="#000"/>
<rect x="484.73" y="234.58" width="5.20" height="0.62" fill="#cc0014"/>
<line x1="487.33" y1="233.66" x2="487.33" y2="234.58" stroke="#000" stroke-width="0.9"/>
<line x1="485.63" y1="233.66" x2="489.03" y2="233.66" stroke="#000" stroke-width="1.0"/>
<circle cx="487.16" cy="231.41" r="0.95" fill="#000"/>
<circle cx="484.77" cy="234.84" r="0.95" fill="#000"/>
<circle cx="489.27" cy="234.47" r="0.95" fill="#000"/>
<circle cx="484.53" cy="234.87" r="0.95" fill="#000"/>
<circle cx="486.63" cy="234.41" r="0.95" fill="#000"/>
<circle cx="486.91" cy="234.67" r="0.95" fill="#000"/>
<circle cx="487.90" cy="234.81" r="0.95" fill="#000"/>
<circle cx="487.80" cy="234.22" r="0.95" fill="#000"/>
<circle cx="488.67" cy="234.73" r="0.95" fill="#000"/>
<circle cx="488.08" cy="234.61" r="0.95" fill="#000"/>
<circle cx="488.18" cy="234.81" r="0.95" fill="#000"/>
<circle cx="489.00" cy="234.31" r="0.95" fill="#000"/>
<circle cx="487.90" cy="234.57" r="0.95" fill="#000"/>
<circle cx="488.47" cy="234.74" r="0.95" fill="#000"/>
<circle cx="488.73" cy="234.29" r="0.95" fill="#000"/>
<circle cx="485.76" cy="234.69" r="0.95" fill="#000"/>
<circle cx="487.06" cy="234.60" r="0.95" fill="#000"/>
<circle cx="488.11" cy="234.77" r="0.95" fill="#000"/>
<rect x="494.10" y="234.89" width="5.20" height="0.31" fill="#cc0014"/>
<circle cx="497.21" cy="234.74" r="0.95" fill="#000"/>
<circle cx="497.21" cy="234.74" r="0.95" fill="#000"/>
<circle cx="495.95" cy="235.01" r="0.95" fill="#000"/>
<rect x="503.47" y="234.74" width="5.20" height="0.46" fill="#cc0014"/>
<line x1="506.07" y1="232.88" x2="506.07" y2="234.74" stroke="#000" stroke-width="0.9"/>
<line x1="504.37" y1="232.88" x2="507.77" y2="232.88" stroke="#000" stroke-width="1.0"/>
<circle cx="506.95" cy="230.87" r="0.95" fill="#000"/>
<circle cx="506.25" cy="234.47" r="0.95" fill="#000"/>
<circle cx="505.01" cy="234.43" r="0.95" fill="#000"/>
<line x1="396.60" y1="173.40" x2="396.60" y2="236.00" stroke="#000" stroke-width="1.8"/>
<line x1="395.70" y1="235.20" x2="512.90" y2="235.20" stroke="#000" stroke-width="1.6"/>
<line x1="394.30" y1="235.20" x2="396.60" y2="235.20" stroke="#000" stroke-width="1.2"/>
<text x="393.70" y="238.50" font-size="8.5" text-anchor="end" textLength="4.0" lengthAdjust="spacingAndGlyphs">0</text>
<line x1="394.30" y1="219.75" x2="396.60" y2="219.75" stroke="#000" stroke-width="1.2"/>
<text x="393.70" y="223.05" font-size="8.5" text-anchor="end" textLength="16.9" lengthAdjust="spacingAndGlyphs">1000</text>
<line x1="394.30" y1="204.30" x2="396.60" y2="204.30" stroke="#000" stroke-width="1.2"/>
<text x="393.70" y="207.60" font-size="8.5" text-anchor="end" textLength="16.9" lengthAdjust="spacingAndGlyphs">2000</text>
<line x1="394.30" y1="188.85" x2="396.60" y2="188.85" stroke="#000" stroke-width="1.2"/>
<text x="393.70" y="192.15" font-size="8.5" text-anchor="end" textLength="16.9" lengthAdjust="spacingAndGlyphs">3000</text>
<line x1="394.30" y1="173.40" x2="396.60" y2="173.40" stroke="#000" stroke-width="1.2"/>
<text x="393.70" y="176.70" font-size="8.5" text-anchor="end" textLength="16.9" lengthAdjust="spacingAndGlyphs">4000</text>
<line x1="403.00" y1="235.20" x2="403.00" y2="237.40" stroke="#000" stroke-width="0.9"/>
<text transform="translate(404.60,242.80) rotate(-45)" font-size="8.4" text-anchor="end">CD34</text>
<line x1="412.37" y1="235.20" x2="412.37" y2="237.40" stroke="#000" stroke-width="0.9"/>
<text transform="translate(413.97,242.80) rotate(-45)" font-size="8.4" text-anchor="end">Pro</text>
<line x1="421.74" y1="235.20" x2="421.74" y2="237.40" stroke="#000" stroke-width="0.9"/>
<text transform="translate(423.34,242.80) rotate(-45)" font-size="8.4" text-anchor="end">Neu</text>
<line x1="431.11" y1="235.20" x2="431.11" y2="237.40" stroke="#000" stroke-width="0.9"/>
<text transform="translate(432.71,242.80) rotate(-45)" font-size="8.4" text-anchor="end">Mono</text>
<line x1="440.48" y1="235.20" x2="440.48" y2="237.40" stroke="#000" stroke-width="0.9"/>
<text transform="translate(442.08,242.80) rotate(-45)" font-size="8.4" text-anchor="end">M0</text>
<line x1="449.85" y1="235.20" x2="449.85" y2="237.40" stroke="#000" stroke-width="0.9"/>
<text transform="translate(451.45,242.80) rotate(-45)" font-size="8.4" text-anchor="end">M1</text>
<line x1="459.22" y1="235.20" x2="459.22" y2="237.40" stroke="#000" stroke-width="0.9"/>
<text transform="translate(460.82,242.80) rotate(-45)" font-size="8.4" text-anchor="end">M2</text>
<line x1="468.59" y1="235.20" x2="468.59" y2="237.40" stroke="#000" stroke-width="0.9"/>
<text transform="translate(470.19,242.80) rotate(-45)" font-size="8.4" text-anchor="end">M3</text>
<line x1="477.96" y1="235.20" x2="477.96" y2="237.40" stroke="#000" stroke-width="0.9"/>
<text transform="translate(479.56,242.80) rotate(-45)" font-size="8.4" text-anchor="end">M4</text>
<line x1="487.33" y1="235.20" x2="487.33" y2="237.40" stroke="#000" stroke-width="0.9"/>
<text transform="translate(488.93,242.80) rotate(-45)" font-size="8.4" text-anchor="end">M5</text>
<line x1="496.70" y1="235.20" x2="496.70" y2="237.40" stroke="#000" stroke-width="0.9"/>
<text transform="translate(498.30,242.80) rotate(-45)" font-size="8.4" text-anchor="end">M6</text>
<line x1="506.07" y1="235.20" x2="506.07" y2="237.40" stroke="#000" stroke-width="0.9"/>
<text transform="translate(507.67,242.80) rotate(-45)" font-size="8.4" text-anchor="end">M7</text>
<text transform="translate(361.60,223.50) rotate(-90)" font-size="10.4" textLength="47.7" lengthAdjust="spacingAndGlyphs" fill="#1a1a1a">Relative <tspan font-style="italic">HGF</tspan></text>
<text transform="translate(370.80,230.00) rotate(-90)" font-size="10.2" textLength="52.8" lengthAdjust="spacingAndGlyphs">RNA expression</text>
<text x="401.45" y="265.60" font-size="10.2" textLength="91.8" lengthAdjust="spacingAndGlyphs">Cell type / AML FAB subtype</text>
<rect x="65.77" y="290.80" width="9.2" height="63.80" fill="none" stroke="#1f45d0" stroke-width="1.25"/>
<rect x="121.99" y="290.80" width="9.2" height="63.80" fill="none" stroke="#1f45d0" stroke-width="1.25"/>
<line x1="69.97" y1="287.60" x2="127.59" y2="287.60" stroke="#2a2a2a" stroke-width="1.6"/>
<line x1="95.28" y1="283.05" x2="95.28" y2="286.15" stroke="#111" stroke-width="0.85"/>
<line x1="93.94" y1="283.82" x2="96.62" y2="285.37" stroke="#111" stroke-width="0.85"/>
<line x1="93.94" y1="285.37" x2="96.62" y2="283.82" stroke="#111" stroke-width="0.85"/>
<line x1="99.23" y1="283.05" x2="99.23" y2="286.15" stroke="#111" stroke-width="0.85"/>
<line x1="97.89" y1="283.82" x2="100.57" y2="285.37" stroke="#111" stroke-width="0.85"/>
<line x1="97.89" y1="285.37" x2="100.57" y2="283.82" stroke="#111" stroke-width="0.85"/>
<line x1="103.18" y1="283.05" x2="103.18" y2="286.15" stroke="#111" stroke-width="0.85"/>
<line x1="101.84" y1="283.82" x2="104.52" y2="285.37" stroke="#111" stroke-width="0.85"/>
<line x1="101.84" y1="285.37" x2="104.52" y2="283.82" stroke="#111" stroke-width="0.85"/>
<line x1="107.13" y1="283.05" x2="107.13" y2="286.15" stroke="#111" stroke-width="0.85"/>
<line x1="105.79" y1="283.82" x2="108.47" y2="285.37" stroke="#111" stroke-width="0.85"/>
<line x1="105.79" y1="285.37" x2="108.47" y2="283.82" stroke="#111" stroke-width="0.85"/>
<rect x="58.40" y="336.56" width="5.20" height="14.64" fill="#cc0014"/>
<line x1="61.00" y1="332.22" x2="61.00" y2="336.56" stroke="#000" stroke-width="0.9"/>
<line x1="59.30" y1="332.22" x2="62.70" y2="332.22" stroke="#000" stroke-width="1.0"/>
<circle cx="62.93" cy="331.00" r="0.95" fill="#000"/>
<circle cx="62.35" cy="332.95" r="0.95" fill="#000"/>
<circle cx="58.86" cy="345.43" r="0.95" fill="#000"/>
<circle cx="71.66" cy="350.79" r="0.95" fill="#000"/>
<circle cx="69.58" cy="351.20" r="0.95" fill="#000"/>
<circle cx="69.07" cy="351.20" r="0.95" fill="#000"/>
<circle cx="80.46" cy="350.93" r="0.95" fill="#000"/>
<circle cx="82.15" cy="351.20" r="0.95" fill="#000"/>
<circle cx="78.87" cy="351.20" r="0.95" fill="#000"/>
<circle cx="88.92" cy="350.93" r="0.95" fill="#000"/>
<circle cx="90.28" cy="351.20" r="0.95" fill="#000"/>
<circle cx="90.26" cy="351.20" r="0.95" fill="#000"/>
<rect x="95.88" y="342.25" width="5.20" height="8.95" fill="#cc0014"/>
<line x1="98.48" y1="325.44" x2="98.48" y2="342.25" stroke="#000" stroke-width="0.9"/>
<line x1="96.78" y1="325.44" x2="100.18" y2="325.44" stroke="#000" stroke-width="1.0"/>
<circle cx="98.37" cy="325.44" r="0.95" fill="#000"/>
<circle cx="99.36" cy="341.04" r="0.95" fill="#000"/>
<circle cx="97.62" cy="343.54" r="0.95" fill="#000"/>
<circle cx="98.49" cy="334.46" r="0.95" fill="#000"/>
<circle cx="99.07" cy="344.51" r="0.95" fill="#000"/>
<circle cx="98.56" cy="346.86" r="0.95" fill="#000"/>
<circle cx="97.94" cy="346.61" r="0.95" fill="#000"/>
<circle cx="97.57" cy="347.47" r="0.95" fill="#000"/>
<circle cx="98.25" cy="337.28" r="0.95" fill="#000"/>
<circle cx="100.71" cy="346.27" r="0.95" fill="#000"/>
<circle cx="100.38" cy="344.62" r="0.95" fill="#000"/>
<circle cx="96.62" cy="344.28" r="0.95" fill="#000"/>
<circle cx="97.93" cy="329.00" r="0.95" fill="#000"/>
<circle cx="100.01" cy="338.18" r="0.95" fill="#000"/>
<circle cx="98.58" cy="346.50" r="0.95" fill="#000"/>
<circle cx="99.26" cy="344.44" r="0.95" fill="#000"/>
<circle cx="96.87" cy="342.29" r="0.95" fill="#000"/>
<circle cx="99.46" cy="341.97" r="0.95" fill="#000"/>
<rect x="105.25" y="337.64" width="5.20" height="13.56" fill="#cc0014"/>
<line x1="107.85" y1="324.36" x2="107.85" y2="337.64" stroke="#000" stroke-width="0.9"/>
<line x1="106.15" y1="324.36" x2="109.55" y2="324.36" stroke="#000" stroke-width="1.0"/>
<circle cx="108.57" cy="293.32" r="0.95" fill="#000"/>
<circle cx="107.79" cy="340.73" r="0.95" fill="#000"/>
<circle cx="108.04" cy="335.07" r="0.95" fill="#000"/>
<circle cx="109.07" cy="325.87" r="0.95" fill="#000"/>
<circle cx="108.78" cy="330.65" r="0.95" fill="#000"/>
<circle cx="106.38" cy="336.53" r="0.95" fill="#000"/>
<circle cx="110.07" cy="328.31" r="0.95" fill="#000"/>
<circle cx="107.54" cy="336.02" r="0.95" fill="#000"/>
<circle cx="109.40" cy="337.84" r="0.95" fill="#000"/>
<circle cx="106.61" cy="335.55" r="0.95" fill="#000"/>
<circle cx="106.88" cy="338.70" r="0.95" fill="#000"/>
<circle cx="106.72" cy="338.87" r="0.95" fill="#000"/>
<circle cx="109.75" cy="342.33" r="0.95" fill="#000"/>
<circle cx="105.81" cy="328.48" r="0.95" fill="#000"/>
<circle cx="107.29" cy="342.78" r="0.95" fill="#000"/>
<circle cx="106.10" cy="339.95" r="0.95" fill="#000"/>
<circle cx="105.81" cy="330.20" r="0.95" fill="#000"/>
<circle cx="108.75" cy="332.09" r="0.95" fill="#000"/>
<circle cx="107.03" cy="339.83" r="0.95" fill="#000"/>
<circle cx="108.05" cy="337.19" r="0.95" fill="#000"/>
<circle cx="106.27" cy="346.32" r="0.95" fill="#000"/>
<circle cx="107.72" cy="333.56" r="0.95" fill="#000"/>
<circle cx="106.60" cy="340.09" r="0.95" fill="#000"/>
<circle cx="106.89" cy="341.56" r="0.95" fill="#000"/>
<circle cx="106.27" cy="297.89" r="0.95" fill="#000"/>
<circle cx="108.47" cy="322.40" r="0.95" fill="#000"/>
<circle cx="108.11" cy="336.09" r="0.95" fill="#000"/>
<circle cx="109.90" cy="339.90" r="0.95" fill="#000"/>
<circle cx="107.82" cy="333.75" r="0.95" fill="#000"/>
<circle cx="108.11" cy="338.38" r="0.95" fill="#000"/>
<circle cx="107.46" cy="343.41" r="0.95" fill="#000"/>
<circle cx="108.65" cy="341.17" r="0.95" fill="#000"/>
<circle cx="105.49" cy="332.94" r="0.95" fill="#000"/>
<circle cx="109.12" cy="338.99" r="0.95" fill="#000"/>
<circle cx="106.36" cy="343.97" r="0.95" fill="#000"/>
<circle cx="107.70" cy="329.01" r="0.95" fill="#000"/>
<circle cx="106.32" cy="340.28" r="0.95" fill="#000"/>
<circle cx="107.15" cy="336.41" r="0.95" fill="#000"/>
<circle cx="108.40" cy="336.10" r="0.95" fill="#000"/>
<circle cx="107.45" cy="332.01" r="0.95" fill="#000"/>
<circle cx="107.90" cy="340.67" r="0.95" fill="#000"/>
<circle cx="108.08" cy="338.23" r="0.95" fill="#000"/>
<circle cx="107.56" cy="340.69" r="0.95" fill="#000"/>
<circle cx="107.11" cy="340.98" r="0.95" fill="#000"/>
<circle cx="109.33" cy="336.51" r="0.95" fill="#000"/>
<circle cx="108.60" cy="340.73" r="0.95" fill="#000"/>
<circle cx="108.00" cy="335.08" r="0.95" fill="#000"/>
<circle cx="107.15" cy="332.23" r="0.95" fill="#000"/>
<circle cx="108.24" cy="333.27" r="0.95" fill="#000"/>
<circle cx="108.31" cy="348.73" r="0.95" fill="#000"/>
<circle cx="110.35" cy="332.95" r="0.95" fill="#000"/>
<circle cx="107.98" cy="343.10" r="0.95" fill="#000"/>
<circle cx="106.63" cy="335.04" r="0.95" fill="#000"/>
<circle cx="108.43" cy="326.71" r="0.95" fill="#000"/>
<circle cx="106.34" cy="341.98" r="0.95" fill="#000"/>
<rect x="114.62" y="338.86" width="5.20" height="12.34" fill="#cc0014"/>
<line x1="117.22" y1="326.80" x2="117.22" y2="338.86" stroke="#000" stroke-width="0.9"/>
<line x1="115.52" y1="326.80" x2="118.92" y2="326.80" stroke="#000" stroke-width="1.0"/>
<circle cx="120.12" cy="296.98" r="0.95" fill="#000"/>
<circle cx="114.32" cy="315.60" r="0.95" fill="#000"/>
<circle cx="118.08" cy="346.12" r="0.95" fill="#000"/>
<circle cx="116.42" cy="339.45" r="0.95" fill="#000"/>
<circle cx="117.35" cy="334.55" r="0.95" fill="#000"/>
<circle cx="117.57" cy="336.95" r="0.95" fill="#000"/>
<circle cx="118.91" cy="343.93" r="0.95" fill="#000"/>
<circle cx="118.67" cy="341.31" r="0.95" fill="#000"/>
<circle cx="117.28" cy="333.82" r="0.95" fill="#000"/>
<circle cx="117.17" cy="337.94" r="0.95" fill="#000"/>
<circle cx="116.82" cy="346.18" r="0.95" fill="#000"/>
<circle cx="115.17" cy="335.92" r="0.95" fill="#000"/>
<circle cx="118.61" cy="345.24" r="0.95" fill="#000"/>
<circle cx="115.26" cy="332.79" r="0.95" fill="#000"/>
<circle cx="117.17" cy="335.68" r="0.95" fill="#000"/>
<circle cx="116.82" cy="331.21" r="0.95" fill="#000"/>
<circle cx="116.27" cy="340.10" r="0.95" fill="#000"/>
<circle cx="117.07" cy="337.68" r="0.95" fill="#000"/>
<circle cx="116.79" cy="342.22" r="0.95" fill="#000"/>
<circle cx="118.03" cy="342.65" r="0.95" fill="#000"/>
<circle cx="115.24" cy="343.74" r="0.95" fill="#000"/>
<circle cx="118.61" cy="343.49" r="0.95" fill="#000"/>
<circle cx="118.06" cy="341.56" r="0.95" fill="#000"/>
<circle cx="116.58" cy="333.44" r="0.95" fill="#000"/>
<circle cx="117.87" cy="333.26" r="0.95" fill="#000"/>
<circle cx="116.33" cy="339.09" r="0.95" fill="#000"/>
<circle cx="115.59" cy="339.19" r="0.95" fill="#000"/>
<circle cx="116.48" cy="340.40" r="0.95" fill="#000"/>
<circle cx="117.67" cy="335.85" r="0.95" fill="#000"/>
<circle cx="118.33" cy="342.18" r="0.95" fill="#000"/>
<circle cx="117.31" cy="328.95" r="0.95" fill="#000"/>
<circle cx="117.87" cy="342.61" r="0.95" fill="#000"/>
<circle cx="116.48" cy="347.48" r="0.95" fill="#000"/>
<circle cx="119.79" cy="334.72" r="0.95" fill="#000"/>
<circle cx="119.19" cy="342.60" r="0.95" fill="#000"/>
<circle cx="119.64" cy="312.23" r="0.95" fill="#000"/>
<circle cx="118.64" cy="347.33" r="0.95" fill="#000"/>
<circle cx="118.53" cy="337.61" r="0.95" fill="#000"/>
<circle cx="116.44" cy="339.87" r="0.95" fill="#000"/>
<circle cx="119.15" cy="340.15" r="0.95" fill="#000"/>
<circle cx="116.85" cy="332.47" r="0.95" fill="#000"/>
<circle cx="118.34" cy="336.27" r="0.95" fill="#000"/>
<circle cx="117.17" cy="334.84" r="0.95" fill="#000"/>
<circle cx="116.27" cy="342.27" r="0.95" fill="#000"/>
<circle cx="116.51" cy="341.24" r="0.95" fill="#000"/>
<circle cx="115.41" cy="345.54" r="0.95" fill="#000"/>
<circle cx="115.78" cy="332.12" r="0.95" fill="#000"/>
<circle cx="117.17" cy="344.74" r="0.95" fill="#000"/>
<circle cx="118.85" cy="325.90" r="0.95" fill="#000"/>
<circle cx="115.89" cy="341.13" r="0.95" fill="#000"/>
<circle cx="116.05" cy="341.73" r="0.95" fill="#000"/>
<circle cx="117.84" cy="341.79" r="0.95" fill="#000"/>
<circle cx="116.22" cy="343.91" r="0.95" fill="#000"/>
<circle cx="117.19" cy="340.34" r="0.95" fill="#000"/>
<circle cx="116.21" cy="342.76" r="0.95" fill="#000"/>
<rect x="123.99" y="338.86" width="5.20" height="12.34" fill="#cc0014"/>
<line x1="126.59" y1="326.80" x2="126.59" y2="338.86" stroke="#000" stroke-width="0.9"/>
<line x1="124.89" y1="326.80" x2="128.29" y2="326.80" stroke="#000" stroke-width="1.0"/>
<circle cx="125.62" cy="312.70" r="0.95" fill="#000"/>
<circle cx="126.28" cy="335.19" r="0.95" fill="#000"/>
<circle cx="127.39" cy="348.56" r="0.95" fill="#000"/>
<circle cx="125.47" cy="339.26" r="0.95" fill="#000"/>
<circle cx="123.69" cy="340.32" r="0.95" fill="#000"/>
<circle cx="128.10" cy="345.77" r="0.95" fill="#000"/>
<circle cx="129.41" cy="315.51" r="0.95" fill="#000"/>
<circle cx="126.64" cy="342.63" r="0.95" fill="#000"/>
<circle cx="125.00" cy="333.01" r="0.95" fill="#000"/>
<circle cx="125.66" cy="321.78" r="0.95" fill="#000"/>
<circle cx="125.10" cy="336.48" r="0.95" fill="#000"/>
<circle cx="126.57" cy="336.39" r="0.95" fill="#000"/>
<circle cx="125.10" cy="330.03" r="0.95" fill="#000"/>
<circle cx="128.95" cy="338.91" r="0.95" fill="#000"/>
<circle cx="127.05" cy="344.39" r="0.95" fill="#000"/>
<circle cx="125.95" cy="335.84" r="0.95" fill="#000"/>
<circle cx="128.43" cy="340.40" r="0.95" fill="#000"/>
<circle cx="127.33" cy="329.40" r="0.95" fill="#000"/>
<circle cx="125.12" cy="337.09" r="0.95" fill="#000"/>
<circle cx="128.92" cy="338.28" r="0.95" fill="#000"/>
<circle cx="124.83" cy="330.32" r="0.95" fill="#000"/>
<circle cx="125.73" cy="346.82" r="0.95" fill="#000"/>
<circle cx="125.88" cy="337.80" r="0.95" fill="#000"/>
<circle cx="127.04" cy="340.61" r="0.95" fill="#000"/>
<circle cx="126.86" cy="331.89" r="0.95" fill="#000"/>
<rect x="133.36" y="346.32" width="5.20" height="4.88" fill="#cc0014"/>
<line x1="135.96" y1="336.29" x2="135.96" y2="346.32" stroke="#000" stroke-width="0.9"/>
<line x1="134.26" y1="336.29" x2="137.66" y2="336.29" stroke="#000" stroke-width="1.0"/>
<circle cx="134.11" cy="304.57" r="0.95" fill="#000"/>
<circle cx="136.51" cy="345.03" r="0.95" fill="#000"/>
<circle cx="137.59" cy="348.88" r="0.95" fill="#000"/>
<circle cx="134.08" cy="349.00" r="0.95" fill="#000"/>
<circle cx="137.65" cy="332.63" r="0.95" fill="#000"/>
<circle cx="137.72" cy="345.30" r="0.95" fill="#000"/>
<circle cx="134.49" cy="342.52" r="0.95" fill="#000"/>
<circle cx="137.79" cy="344.98" r="0.95" fill="#000"/>
<circle cx="136.06" cy="346.69" r="0.95" fill="#000"/>
<circle cx="136.92" cy="347.33" r="0.95" fill="#000"/>
<circle cx="135.20" cy="347.50" r="0.95" fill="#000"/>
<circle cx="134.75" cy="348.56" r="0.95" fill="#000"/>
<circle cx="136.58" cy="345.75" r="0.95" fill="#000"/>
<circle cx="134.59" cy="347.18" r="0.95" fill="#000"/>
<circle cx="136.43" cy="345.41" r="0.95" fill="#000"/>
<circle cx="135.31" cy="341.95" r="0.95" fill="#000"/>
<circle cx="136.63" cy="347.23" r="0.95" fill="#000"/>
<circle cx="135.90" cy="340.70" r="0.95" fill="#000"/>
<circle cx="134.74" cy="346.51" r="0.95" fill="#000"/>
<circle cx="137.20" cy="347.16" r="0.95" fill="#000"/>
<circle cx="137.42" cy="343.71" r="0.95" fill="#000"/>
<circle cx="137.06" cy="349.06" r="0.95" fill="#000"/>
<circle cx="136.74" cy="348.13" r="0.95" fill="#000"/>
<circle cx="135.83" cy="349.72" r="0.95" fill="#000"/>
<circle cx="137.63" cy="348.07" r="0.95" fill="#000"/>
<circle cx="137.66" cy="346.01" r="0.95" fill="#000"/>
<circle cx="138.54" cy="347.29" r="0.95" fill="#000"/>
<circle cx="138.45" cy="347.30" r="0.95" fill="#000"/>
<circle cx="134.68" cy="347.38" r="0.95" fill="#000"/>
<circle cx="135.44" cy="343.53" r="0.95" fill="#000"/>
<circle cx="134.20" cy="346.46" r="0.95" fill="#000"/>
<circle cx="136.11" cy="347.09" r="0.95" fill="#000"/>
<circle cx="136.47" cy="347.78" r="0.95" fill="#000"/>
<circle cx="137.13" cy="349.67" r="0.95" fill="#000"/>
<circle cx="137.89" cy="347.23" r="0.95" fill="#000"/>
<circle cx="135.10" cy="347.11" r="0.95" fill="#000"/>
<circle cx="136.33" cy="347.31" r="0.95" fill="#000"/>
<circle cx="135.36" cy="344.60" r="0.95" fill="#000"/>
<circle cx="136.53" cy="347.93" r="0.95" fill="#000"/>
<circle cx="133.67" cy="343.79" r="0.95" fill="#000"/>
<circle cx="135.08" cy="348.32" r="0.95" fill="#000"/>
<circle cx="137.58" cy="339.62" r="0.95" fill="#000"/>
<circle cx="136.61" cy="343.89" r="0.95" fill="#000"/>
<circle cx="137.44" cy="348.43" r="0.95" fill="#000"/>
<circle cx="134.92" cy="347.30" r="0.95" fill="#000"/>
<circle cx="134.06" cy="338.20" r="0.95" fill="#000"/>
<circle cx="136.23" cy="341.37" r="0.95" fill="#000"/>
<circle cx="136.20" cy="348.13" r="0.95" fill="#000"/>
<rect x="142.73" y="348.49" width="5.20" height="2.71" fill="#cc0014"/>
<line x1="145.33" y1="340.36" x2="145.33" y2="348.49" stroke="#000" stroke-width="0.9"/>
<line x1="143.63" y1="340.36" x2="147.03" y2="340.36" stroke="#000" stroke-width="1.0"/>
<circle cx="145.58" cy="320.97" r="0.95" fill="#000"/>
<circle cx="143.77" cy="349.24" r="0.95" fill="#000"/>
<circle cx="144.67" cy="340.79" r="0.95" fill="#000"/>
<circle cx="145.27" cy="346.73" r="0.95" fill="#000"/>
<circle cx="143.67" cy="347.38" r="0.95" fill="#000"/>
<circle cx="142.43" cy="349.60" r="0.95" fill="#000"/>
<circle cx="145.92" cy="346.69" r="0.95" fill="#000"/>
<circle cx="146.43" cy="349.70" r="0.95" fill="#000"/>
<circle cx="148.23" cy="347.53" r="0.95" fill="#000"/>
<circle cx="146.54" cy="348.14" r="0.95" fill="#000"/>
<circle cx="146.35" cy="347.50" r="0.95" fill="#000"/>
<circle cx="144.79" cy="348.52" r="0.95" fill="#000"/>
<circle cx="146.96" cy="347.31" r="0.95" fill="#000"/>
<circle cx="143.84" cy="349.70" r="0.95" fill="#000"/>
<circle cx="147.70" cy="348.54" r="0.95" fill="#000"/>
<circle cx="143.10" cy="348.76" r="0.95" fill="#000"/>
<circle cx="146.33" cy="347.11" r="0.95" fill="#000"/>
<circle cx="145.59" cy="343.93" r="0.95" fill="#000"/>
<rect x="152.10" y="342.66" width="5.20" height="8.54" fill="#cc0014"/>
<line x1="154.70" y1="332.22" x2="154.70" y2="342.66" stroke="#000" stroke-width="0.9"/>
<line x1="153.00" y1="332.22" x2="156.40" y2="332.22" stroke="#000" stroke-width="1.0"/>
<rect x="161.47" y="328.83" width="5.20" height="22.37" fill="#cc0014"/>
<line x1="164.07" y1="306.47" x2="164.07" y2="328.83" stroke="#000" stroke-width="0.9"/>
<line x1="162.37" y1="306.47" x2="165.77" y2="306.47" stroke="#000" stroke-width="1.0"/>
<line x1="54.60" y1="290.20" x2="54.60" y2="352.00" stroke="#000" stroke-width="1.8"/>
<line x1="53.70" y1="351.20" x2="170.90" y2="351.20" stroke="#000" stroke-width="1.6"/>
<line x1="52.30" y1="351.20" x2="54.60" y2="351.20" stroke="#000" stroke-width="1.2"/>
<text x="51.70" y="354.50" font-size="8.5" text-anchor="end" textLength="4.0" lengthAdjust="spacingAndGlyphs">0</text>
<line x1="52.30" y1="324.09" x2="54.60" y2="324.09" stroke="#000" stroke-width="1.2"/>
<text x="51.70" y="327.39" font-size="8.5" text-anchor="end" textLength="12.599999999999998" lengthAdjust="spacingAndGlyphs">200</text>
<line x1="52.30" y1="296.98" x2="54.60" y2="296.98" stroke="#000" stroke-width="1.2"/>
<text x="51.70" y="300.28" font-size="8.5" text-anchor="end" textLength="12.599999999999998" lengthAdjust="spacingAndGlyphs">400</text>
<line x1="61.00" y1="351.20" x2="61.00" y2="353.40" stroke="#000" stroke-width="0.9"/>
<text transform="translate(65.10,358.80) rotate(-45)" font-size="8.4" text-anchor="end">CD34</text>
<line x1="70.37" y1="351.20" x2="70.37" y2="353.40" stroke="#000" stroke-width="0.9"/>
<text transform="translate(73.47,358.80) rotate(-45)" font-size="8.4" text-anchor="end">Pro</text>
<line x1="79.74" y1="351.20" x2="79.74" y2="353.40" stroke="#000" stroke-width="0.9"/>
<text transform="translate(81.34,358.80) rotate(-45)" font-size="8.4" text-anchor="end">Neu</text>
<line x1="89.11" y1="351.20" x2="89.11" y2="353.40" stroke="#000" stroke-width="0.9"/>
<text transform="translate(90.71,358.80) rotate(-45)" font-size="8.4" text-anchor="end">Mono</text>
<line x1="98.48" y1="351.20" x2="98.48" y2="353.40" stroke="#000" stroke-width="0.9"/>
<text transform="translate(100.08,358.80) rotate(-45)" font-size="8.4" text-anchor="end">M0</text>
<line x1="107.85" y1="351.20" x2="107.85" y2="353.40" stroke="#000" stroke-width="0.9"/>
<text transform="translate(109.45,358.80) rotate(-45)" font-size="8.4" text-anchor="end">M1</text>
<line x1="117.22" y1="351.20" x2="117.22" y2="353.40" stroke="#000" stroke-width="0.9"/>
<text transform="translate(118.82,358.80) rotate(-45)" font-size="8.4" text-anchor="end">M2</text>
<line x1="126.59" y1="351.20" x2="126.59" y2="353.40" stroke="#000" stroke-width="0.9"/>
<text transform="translate(128.19,358.80) rotate(-45)" font-size="8.4" text-anchor="end">M3</text>
<line x1="135.96" y1="351.20" x2="135.96" y2="353.40" stroke="#000" stroke-width="0.9"/>
<text transform="translate(137.56,358.80) rotate(-45)" font-size="8.4" text-anchor="end">M4</text>
<line x1="145.33" y1="351.20" x2="145.33" y2="353.40" stroke="#000" stroke-width="0.9"/>
<text transform="translate(146.93,358.80) rotate(-45)" font-size="8.4" text-anchor="end">M5</text>
<line x1="154.70" y1="351.20" x2="154.70" y2="353.40" stroke="#000" stroke-width="0.9"/>
<text transform="translate(156.30,358.80) rotate(-45)" font-size="8.4" text-anchor="end">M6</text>
<line x1="164.07" y1="351.20" x2="164.07" y2="353.40" stroke="#000" stroke-width="0.9"/>
<text transform="translate(165.67,358.80) rotate(-45)" font-size="8.4" text-anchor="end">M7</text>
<text transform="translate(24.60,350.10) rotate(-90)" font-size="10.4" textLength="57.9" lengthAdjust="spacingAndGlyphs" fill="#1a1a1a">Relative <tspan font-style="italic">GATA2</tspan></text>
<text transform="translate(35.30,346.60) rotate(-90)" font-size="10.2" textLength="52.0" lengthAdjust="spacingAndGlyphs">RNA expression</text>
<text x="53.95" y="382.00" font-size="10.2" textLength="91.8" lengthAdjust="spacingAndGlyphs">Cell type / AML FAB subtype</text>
<rect x="228.52" y="290.50" width="9.2" height="63.90" fill="none" stroke="#1f45d0" stroke-width="1.25"/>
<rect x="284.74" y="290.50" width="9.2" height="63.90" fill="none" stroke="#1f45d0" stroke-width="1.25"/>
<line x1="232.72" y1="287.30" x2="290.34" y2="287.30" stroke="#2a2a2a" stroke-width="1.6"/>
<line x1="258.03" y1="282.75" x2="258.03" y2="285.85" stroke="#111" stroke-width="0.85"/>
<line x1="256.69" y1="283.52" x2="259.37" y2="285.07" stroke="#111" stroke-width="0.85"/>
<line x1="256.69" y1="285.07" x2="259.37" y2="283.52" stroke="#111" stroke-width="0.85"/>
<line x1="261.98" y1="282.75" x2="261.98" y2="285.85" stroke="#111" stroke-width="0.85"/>
<line x1="260.64" y1="283.52" x2="263.32" y2="285.07" stroke="#111" stroke-width="0.85"/>
<line x1="260.64" y1="285.07" x2="263.32" y2="283.52" stroke="#111" stroke-width="0.85"/>
<line x1="265.93" y1="282.75" x2="265.93" y2="285.85" stroke="#111" stroke-width="0.85"/>
<line x1="264.59" y1="283.52" x2="267.27" y2="285.07" stroke="#111" stroke-width="0.85"/>
<line x1="264.59" y1="285.07" x2="267.27" y2="283.52" stroke="#111" stroke-width="0.85"/>
<line x1="269.88" y1="282.75" x2="269.88" y2="285.85" stroke="#111" stroke-width="0.85"/>
<line x1="268.54" y1="283.52" x2="271.22" y2="285.07" stroke="#111" stroke-width="0.85"/>
<line x1="268.54" y1="285.07" x2="271.22" y2="283.52" stroke="#111" stroke-width="0.85"/>
<rect x="221.15" y="350.49" width="5.20" height="0.51" fill="#cc0014"/>
<circle cx="222.81" cy="349.98" r="0.95" fill="#000"/>
<circle cx="223.93" cy="350.19" r="0.95" fill="#000"/>
<circle cx="223.39" cy="350.72" r="0.95" fill="#000"/>
<rect x="230.52" y="350.49" width="5.20" height="0.51" fill="#cc0014"/>
<circle cx="234.60" cy="349.98" r="0.95" fill="#000"/>
<circle cx="234.59" cy="350.58" r="0.95" fill="#000"/>
<circle cx="234.31" cy="350.19" r="0.95" fill="#000"/>
<rect x="239.89" y="349.98" width="5.20" height="1.02" fill="#cc0014"/>
<circle cx="242.90" cy="349.47" r="0.95" fill="#000"/>
<circle cx="242.41" cy="350.33" r="0.95" fill="#000"/>
<circle cx="241.53" cy="349.91" r="0.95" fill="#000"/>
<rect x="249.26" y="349.98" width="5.20" height="1.02" fill="#cc0014"/>
<circle cx="252.08" cy="349.47" r="0.95" fill="#000"/>
<circle cx="253.26" cy="349.86" r="0.95" fill="#000"/>
<circle cx="251.35" cy="350.39" r="0.95" fill="#000"/>
<rect x="258.63" y="347.44" width="5.20" height="3.56" fill="#cc0014"/>
<line x1="261.23" y1="338.27" x2="261.23" y2="347.44" stroke="#000" stroke-width="0.9"/>
<line x1="259.53" y1="338.27" x2="262.93" y2="338.27" stroke="#000" stroke-width="1.0"/>
<circle cx="260.74" cy="318.92" r="0.95" fill="#000"/>
<circle cx="260.62" cy="346.77" r="0.95" fill="#000"/>
<circle cx="260.94" cy="344.51" r="0.95" fill="#000"/>
<circle cx="262.22" cy="348.99" r="0.95" fill="#000"/>
<circle cx="258.70" cy="342.70" r="0.95" fill="#000"/>
<circle cx="261.33" cy="347.65" r="0.95" fill="#000"/>
<circle cx="263.21" cy="344.97" r="0.95" fill="#000"/>
<circle cx="259.19" cy="347.70" r="0.95" fill="#000"/>
<circle cx="262.56" cy="345.99" r="0.95" fill="#000"/>
<circle cx="261.34" cy="346.48" r="0.95" fill="#000"/>
<circle cx="264.13" cy="348.63" r="0.95" fill="#000"/>
<circle cx="259.26" cy="349.05" r="0.95" fill="#000"/>
<circle cx="261.62" cy="345.14" r="0.95" fill="#000"/>
<circle cx="261.71" cy="345.98" r="0.95" fill="#000"/>
<circle cx="263.11" cy="342.62" r="0.95" fill="#000"/>
<circle cx="262.56" cy="348.29" r="0.95" fill="#000"/>
<circle cx="259.00" cy="349.03" r="0.95" fill="#000"/>
<circle cx="260.67" cy="344.43" r="0.95" fill="#000"/>
<rect x="268.00" y="348.45" width="5.20" height="2.55" fill="#cc0014"/>
<line x1="270.60" y1="340.82" x2="270.60" y2="348.45" stroke="#000" stroke-width="0.9"/>
<line x1="268.90" y1="340.82" x2="272.30" y2="340.82" stroke="#000" stroke-width="1.0"/>
<circle cx="270.58" cy="331.65" r="0.95" fill="#000"/>
<circle cx="271.28" cy="349.17" r="0.95" fill="#000"/>
<circle cx="269.60" cy="348.52" r="0.95" fill="#000"/>
<circle cx="271.62" cy="349.22" r="0.95" fill="#000"/>
<circle cx="270.78" cy="349.40" r="0.95" fill="#000"/>
<circle cx="271.20" cy="349.45" r="0.95" fill="#000"/>
<circle cx="271.36" cy="344.71" r="0.95" fill="#000"/>
<circle cx="271.20" cy="346.51" r="0.95" fill="#000"/>
<circle cx="270.21" cy="349.43" r="0.95" fill="#000"/>
<circle cx="271.19" cy="348.35" r="0.95" fill="#000"/>
<circle cx="271.41" cy="349.12" r="0.95" fill="#000"/>
<circle cx="270.69" cy="349.22" r="0.95" fill="#000"/>
<circle cx="269.10" cy="348.46" r="0.95" fill="#000"/>
<circle cx="270.67" cy="346.76" r="0.95" fill="#000"/>
<circle cx="270.57" cy="348.30" r="0.95" fill="#000"/>
<circle cx="268.77" cy="350.12" r="0.95" fill="#000"/>
<circle cx="271.91" cy="349.37" r="0.95" fill="#000"/>
<circle cx="271.41" cy="349.09" r="0.95" fill="#000"/>
<circle cx="269.50" cy="349.48" r="0.95" fill="#000"/>
<circle cx="272.00" cy="348.98" r="0.95" fill="#000"/>
<circle cx="270.38" cy="349.89" r="0.95" fill="#000"/>
<circle cx="270.79" cy="347.86" r="0.95" fill="#000"/>
<circle cx="271.63" cy="348.47" r="0.95" fill="#000"/>
<circle cx="269.29" cy="348.05" r="0.95" fill="#000"/>
<circle cx="269.58" cy="347.48" r="0.95" fill="#000"/>
<circle cx="272.51" cy="348.85" r="0.95" fill="#000"/>
<circle cx="272.51" cy="342.23" r="0.95" fill="#000"/>
<circle cx="269.59" cy="347.83" r="0.95" fill="#000"/>
<circle cx="272.79" cy="349.26" r="0.95" fill="#000"/>
<circle cx="268.79" cy="347.98" r="0.95" fill="#000"/>
<circle cx="271.37" cy="345.36" r="0.95" fill="#000"/>
<circle cx="271.14" cy="346.03" r="0.95" fill="#000"/>
<circle cx="269.64" cy="350.14" r="0.95" fill="#000"/>
<circle cx="270.39" cy="348.62" r="0.95" fill="#000"/>
<circle cx="269.73" cy="345.53" r="0.95" fill="#000"/>
<circle cx="270.53" cy="348.57" r="0.95" fill="#000"/>
<circle cx="269.25" cy="348.56" r="0.95" fill="#000"/>
<circle cx="267.70" cy="349.62" r="0.95" fill="#000"/>
<circle cx="270.34" cy="347.98" r="0.95" fill="#000"/>
<circle cx="269.23" cy="348.17" r="0.95" fill="#000"/>
<circle cx="269.33" cy="348.44" r="0.95" fill="#000"/>
<circle cx="271.05" cy="349.47" r="0.95" fill="#000"/>
<circle cx="271.37" cy="347.48" r="0.95" fill="#000"/>
<circle cx="270.10" cy="348.50" r="0.95" fill="#000"/>
<circle cx="272.24" cy="345.84" r="0.95" fill="#000"/>
<circle cx="269.18" cy="349.14" r="0.95" fill="#000"/>
<circle cx="271.03" cy="347.92" r="0.95" fill="#000"/>
<circle cx="273.50" cy="349.39" r="0.95" fill="#000"/>
<circle cx="269.51" cy="350.11" r="0.95" fill="#000"/>
<circle cx="271.91" cy="348.11" r="0.95" fill="#000"/>
<circle cx="270.04" cy="350.00" r="0.95" fill="#000"/>
<circle cx="272.45" cy="345.74" r="0.95" fill="#000"/>
<circle cx="270.66" cy="348.75" r="0.95" fill="#000"/>
<circle cx="271.12" cy="349.37" r="0.95" fill="#000"/>
<circle cx="267.95" cy="349.49" r="0.95" fill="#000"/>
<rect x="277.37" y="347.94" width="5.20" height="3.06" fill="#cc0014"/>
<line x1="279.97" y1="340.82" x2="279.97" y2="347.94" stroke="#000" stroke-width="0.9"/>
<line x1="278.27" y1="340.82" x2="281.67" y2="340.82" stroke="#000" stroke-width="1.0"/>
<circle cx="280.05" cy="333.18" r="0.95" fill="#000"/>
<circle cx="281.43" cy="349.42" r="0.95" fill="#000"/>
<circle cx="281.28" cy="345.15" r="0.95" fill="#000"/>
<circle cx="281.46" cy="346.74" r="0.95" fill="#000"/>
<circle cx="281.11" cy="347.50" r="0.95" fill="#000"/>
<circle cx="281.00" cy="347.12" r="0.95" fill="#000"/>
<circle cx="279.11" cy="349.16" r="0.95" fill="#000"/>
<circle cx="281.06" cy="349.15" r="0.95" fill="#000"/>
<circle cx="278.95" cy="347.05" r="0.95" fill="#000"/>
<circle cx="279.22" cy="349.14" r="0.95" fill="#000"/>
<circle cx="279.83" cy="346.24" r="0.95" fill="#000"/>
<circle cx="279.07" cy="348.29" r="0.95" fill="#000"/>
<circle cx="282.07" cy="348.11" r="0.95" fill="#000"/>
<circle cx="279.52" cy="348.83" r="0.95" fill="#000"/>
<circle cx="280.92" cy="343.79" r="0.95" fill="#000"/>
<circle cx="281.41" cy="349.27" r="0.95" fill="#000"/>
<circle cx="280.71" cy="349.38" r="0.95" fill="#000"/>
<circle cx="278.67" cy="350.14" r="0.95" fill="#000"/>
<circle cx="279.20" cy="346.14" r="0.95" fill="#000"/>
<circle cx="280.05" cy="348.87" r="0.95" fill="#000"/>
<circle cx="279.37" cy="347.93" r="0.95" fill="#000"/>
<circle cx="282.33" cy="348.82" r="0.95" fill="#000"/>
<circle cx="280.41" cy="344.50" r="0.95" fill="#000"/>
<circle cx="279.29" cy="349.28" r="0.95" fill="#000"/>
<circle cx="280.62" cy="348.35" r="0.95" fill="#000"/>
<circle cx="279.30" cy="344.13" r="0.95" fill="#000"/>
<circle cx="279.42" cy="347.70" r="0.95" fill="#000"/>
<circle cx="279.08" cy="347.71" r="0.95" fill="#000"/>
<circle cx="281.50" cy="347.29" r="0.95" fill="#000"/>
<circle cx="279.55" cy="348.49" r="0.95" fill="#000"/>
<circle cx="278.26" cy="347.75" r="0.95" fill="#000"/>
<circle cx="278.23" cy="343.37" r="0.95" fill="#000"/>
<circle cx="278.82" cy="348.44" r="0.95" fill="#000"/>
<circle cx="279.34" cy="344.48" r="0.95" fill="#000"/>
<circle cx="282.45" cy="348.62" r="0.95" fill="#000"/>
<circle cx="278.96" cy="348.11" r="0.95" fill="#000"/>
<circle cx="280.23" cy="347.94" r="0.95" fill="#000"/>
<circle cx="279.74" cy="348.89" r="0.95" fill="#000"/>
<circle cx="280.93" cy="348.24" r="0.95" fill="#000"/>
<circle cx="281.07" cy="346.49" r="0.95" fill="#000"/>
<circle cx="281.02" cy="348.12" r="0.95" fill="#000"/>
<circle cx="281.50" cy="348.24" r="0.95" fill="#000"/>
<circle cx="279.42" cy="347.24" r="0.95" fill="#000"/>
<circle cx="278.00" cy="345.30" r="0.95" fill="#000"/>
<circle cx="278.94" cy="349.12" r="0.95" fill="#000"/>
<circle cx="278.37" cy="348.13" r="0.95" fill="#000"/>
<circle cx="277.51" cy="349.33" r="0.95" fill="#000"/>
<circle cx="278.97" cy="347.75" r="0.95" fill="#000"/>
<circle cx="280.99" cy="341.76" r="0.95" fill="#000"/>
<circle cx="281.71" cy="349.28" r="0.95" fill="#000"/>
<circle cx="281.39" cy="347.77" r="0.95" fill="#000"/>
<circle cx="281.50" cy="349.25" r="0.95" fill="#000"/>
<circle cx="279.43" cy="345.67" r="0.95" fill="#000"/>
<circle cx="279.48" cy="349.00" r="0.95" fill="#000"/>
<circle cx="282.87" cy="347.50" r="0.95" fill="#000"/>
<rect x="286.74" y="345.91" width="5.20" height="5.09" fill="#cc0014"/>
<line x1="289.34" y1="340.82" x2="289.34" y2="345.91" stroke="#000" stroke-width="0.9"/>
<line x1="287.64" y1="340.82" x2="291.04" y2="340.82" stroke="#000" stroke-width="1.0"/>
<circle cx="291.31" cy="332.16" r="0.95" fill="#000"/>
<circle cx="288.92" cy="346.42" r="0.95" fill="#000"/>
<circle cx="288.99" cy="344.85" r="0.95" fill="#000"/>
<circle cx="289.08" cy="346.96" r="0.95" fill="#000"/>
<circle cx="289.26" cy="343.18" r="0.95" fill="#000"/>
<circle cx="289.01" cy="345.24" r="0.95" fill="#000"/>
<circle cx="288.92" cy="346.37" r="0.95" fill="#000"/>
<circle cx="289.65" cy="341.35" r="0.95" fill="#000"/>
<circle cx="289.13" cy="340.16" r="0.95" fill="#000"/>
<circle cx="287.54" cy="342.28" r="0.95" fill="#000"/>
<circle cx="289.27" cy="346.83" r="0.95" fill="#000"/>
<circle cx="289.20" cy="347.28" r="0.95" fill="#000"/>
<circle cx="289.14" cy="347.79" r="0.95" fill="#000"/>
<circle cx="289.35" cy="347.35" r="0.95" fill="#000"/>
<rect x="296.11" y="348.45" width="5.20" height="2.55" fill="#cc0014"/>
<line x1="298.71" y1="339.80" x2="298.71" y2="348.45" stroke="#000" stroke-width="0.9"/>
<line x1="297.01" y1="339.80" x2="300.41" y2="339.80" stroke="#000" stroke-width="1.0"/>
<circle cx="297.41" cy="303.65" r="0.95" fill="#000"/>
<circle cx="298.76" cy="348.92" r="0.95" fill="#000"/>
<circle cx="298.85" cy="349.65" r="0.95" fill="#000"/>
<circle cx="298.42" cy="346.21" r="0.95" fill="#000"/>
<circle cx="299.53" cy="347.63" r="0.95" fill="#000"/>
<circle cx="300.45" cy="349.29" r="0.95" fill="#000"/>
<circle cx="297.38" cy="341.97" r="0.95" fill="#000"/>
<circle cx="297.79" cy="343.48" r="0.95" fill="#000"/>
<circle cx="296.35" cy="345.68" r="0.95" fill="#000"/>
<circle cx="298.90" cy="346.47" r="0.95" fill="#000"/>
<circle cx="297.64" cy="349.66" r="0.95" fill="#000"/>
<circle cx="297.54" cy="349.49" r="0.95" fill="#000"/>
<circle cx="298.48" cy="347.91" r="0.95" fill="#000"/>
<circle cx="298.31" cy="350.28" r="0.95" fill="#000"/>
<circle cx="298.84" cy="347.77" r="0.95" fill="#000"/>
<circle cx="296.32" cy="345.02" r="0.95" fill="#000"/>
<circle cx="298.76" cy="348.11" r="0.95" fill="#000"/>
<circle cx="296.97" cy="347.33" r="0.95" fill="#000"/>
<circle cx="298.50" cy="349.68" r="0.95" fill="#000"/>
<circle cx="296.35" cy="348.34" r="0.95" fill="#000"/>
<circle cx="298.71" cy="347.93" r="0.95" fill="#000"/>
<circle cx="295.81" cy="347.30" r="0.95" fill="#000"/>
<circle cx="297.56" cy="347.71" r="0.95" fill="#000"/>
<circle cx="299.74" cy="348.99" r="0.95" fill="#000"/>
<circle cx="298.92" cy="345.02" r="0.95" fill="#000"/>
<circle cx="300.43" cy="348.58" r="0.95" fill="#000"/>
<circle cx="298.52" cy="349.37" r="0.95" fill="#000"/>
<circle cx="297.43" cy="349.02" r="0.95" fill="#000"/>
<circle cx="301.38" cy="348.18" r="0.95" fill="#000"/>
<circle cx="299.37" cy="348.11" r="0.95" fill="#000"/>
<circle cx="300.19" cy="348.49" r="0.95" fill="#000"/>
<circle cx="297.57" cy="348.20" r="0.95" fill="#000"/>
<circle cx="300.60" cy="348.31" r="0.95" fill="#000"/>
<circle cx="300.29" cy="348.55" r="0.95" fill="#000"/>
<circle cx="301.37" cy="348.53" r="0.95" fill="#000"/>
<circle cx="299.58" cy="348.06" r="0.95" fill="#000"/>
<circle cx="299.81" cy="348.79" r="0.95" fill="#000"/>
<circle cx="296.78" cy="348.72" r="0.95" fill="#000"/>
<circle cx="297.14" cy="348.02" r="0.95" fill="#000"/>
<circle cx="299.76" cy="345.62" r="0.95" fill="#000"/>
<circle cx="299.62" cy="348.42" r="0.95" fill="#000"/>
<circle cx="300.73" cy="350.31" r="0.95" fill="#000"/>
<circle cx="299.60" cy="349.16" r="0.95" fill="#000"/>
<circle cx="296.61" cy="341.73" r="0.95" fill="#000"/>
<circle cx="299.17" cy="348.93" r="0.95" fill="#000"/>
<circle cx="296.51" cy="347.84" r="0.95" fill="#000"/>
<circle cx="300.66" cy="349.40" r="0.95" fill="#000"/>
<circle cx="299.44" cy="349.11" r="0.95" fill="#000"/>
<rect x="305.48" y="348.96" width="5.20" height="2.04" fill="#cc0014"/>
<line x1="308.08" y1="344.89" x2="308.08" y2="348.96" stroke="#000" stroke-width="0.9"/>
<line x1="306.38" y1="344.89" x2="309.78" y2="344.89" stroke="#000" stroke-width="1.0"/>
<circle cx="306.90" cy="334.71" r="0.95" fill="#000"/>
<circle cx="308.44" cy="350.18" r="0.95" fill="#000"/>
<circle cx="308.21" cy="347.34" r="0.95" fill="#000"/>
<circle cx="308.41" cy="349.22" r="0.95" fill="#000"/>
<circle cx="307.71" cy="348.41" r="0.95" fill="#000"/>
<circle cx="310.64" cy="348.30" r="0.95" fill="#000"/>
<circle cx="307.34" cy="344.74" r="0.95" fill="#000"/>
<circle cx="310.60" cy="349.92" r="0.95" fill="#000"/>
<circle cx="309.68" cy="347.65" r="0.95" fill="#000"/>
<circle cx="307.79" cy="348.23" r="0.95" fill="#000"/>
<circle cx="309.55" cy="347.66" r="0.95" fill="#000"/>
<circle cx="306.67" cy="347.31" r="0.95" fill="#000"/>
<circle cx="307.63" cy="347.57" r="0.95" fill="#000"/>
<circle cx="308.55" cy="349.29" r="0.95" fill="#000"/>
<circle cx="310.98" cy="349.28" r="0.95" fill="#000"/>
<circle cx="308.44" cy="348.28" r="0.95" fill="#000"/>
<circle cx="308.42" cy="349.14" r="0.95" fill="#000"/>
<circle cx="308.85" cy="349.18" r="0.95" fill="#000"/>
<rect x="314.85" y="324.01" width="5.20" height="26.99" fill="#cc0014"/>
<line x1="317.45" y1="296.52" x2="317.45" y2="324.01" stroke="#000" stroke-width="0.9"/>
<line x1="315.75" y1="296.52" x2="319.15" y2="296.52" stroke="#000" stroke-width="1.0"/>
<rect x="324.22" y="344.89" width="5.20" height="6.11" fill="#cc0014"/>
<line x1="326.82" y1="334.71" x2="326.82" y2="344.89" stroke="#000" stroke-width="0.9"/>
<line x1="325.12" y1="334.71" x2="328.52" y2="334.71" stroke="#000" stroke-width="1.0"/>
<line x1="217.35" y1="289.90" x2="217.35" y2="351.80" stroke="#000" stroke-width="1.8"/>
<line x1="216.45" y1="351.00" x2="333.65" y2="351.00" stroke="#000" stroke-width="1.6"/>
<line x1="215.05" y1="351.00" x2="217.35" y2="351.00" stroke="#000" stroke-width="1.2"/>
<text x="214.45" y="354.30" font-size="8.5" text-anchor="end" textLength="4.0" lengthAdjust="spacingAndGlyphs">0</text>
<line x1="215.05" y1="325.54" x2="217.35" y2="325.54" stroke="#000" stroke-width="1.2"/>
<text x="214.45" y="328.84" font-size="8.5" text-anchor="end" textLength="8.299999999999999" lengthAdjust="spacingAndGlyphs">50</text>
<line x1="215.05" y1="300.08" x2="217.35" y2="300.08" stroke="#000" stroke-width="1.2"/>
<text x="214.45" y="303.38" font-size="8.5" text-anchor="end" textLength="12.599999999999998" lengthAdjust="spacingAndGlyphs">100</text>
<line x1="223.75" y1="351.00" x2="223.75" y2="353.20" stroke="#000" stroke-width="0.9"/>
<text transform="translate(227.85,358.60) rotate(-45)" font-size="8.4" text-anchor="end">CD34</text>
<line x1="233.12" y1="351.00" x2="233.12" y2="353.20" stroke="#000" stroke-width="0.9"/>
<text transform="translate(236.22,358.60) rotate(-45)" font-size="8.4" text-anchor="end">Pro</text>
<line x1="242.49" y1="351.00" x2="242.49" y2="353.20" stroke="#000" stroke-width="0.9"/>
<text transform="translate(244.09,358.60) rotate(-45)" font-size="8.4" text-anchor="end">Neu</text>
<line x1="251.86" y1="351.00" x2="251.86" y2="353.20" stroke="#000" stroke-width="0.9"/>
<text transform="translate(253.46,358.60) rotate(-45)" font-size="8.4" text-anchor="end">Mono</text>
<line x1="261.23" y1="351.00" x2="261.23" y2="353.20" stroke="#000" stroke-width="0.9"/>
<text transform="translate(262.83,358.60) rotate(-45)" font-size="8.4" text-anchor="end">M0</text>
<line x1="270.60" y1="351.00" x2="270.60" y2="353.20" stroke="#000" stroke-width="0.9"/>
<text transform="translate(272.20,358.60) rotate(-45)" font-size="8.4" text-anchor="end">M1</text>
<line x1="279.97" y1="351.00" x2="279.97" y2="353.20" stroke="#000" stroke-width="0.9"/>
<text transform="translate(281.57,358.60) rotate(-45)" font-size="8.4" text-anchor="end">M2</text>
<line x1="289.34" y1="351.00" x2="289.34" y2="353.20" stroke="#000" stroke-width="0.9"/>
<text transform="translate(290.94,358.60) rotate(-45)" font-size="8.4" text-anchor="end">M3</text>
<line x1="298.71" y1="351.00" x2="298.71" y2="353.20" stroke="#000" stroke-width="0.9"/>
<text transform="translate(300.31,358.60) rotate(-45)" font-size="8.4" text-anchor="end">M4</text>
<line x1="308.08" y1="351.00" x2="308.08" y2="353.20" stroke="#000" stroke-width="0.9"/>
<text transform="translate(309.68,358.60) rotate(-45)" font-size="8.4" text-anchor="end">M5</text>
<line x1="317.45" y1="351.00" x2="317.45" y2="353.20" stroke="#000" stroke-width="0.9"/>
<text transform="translate(319.05,358.60) rotate(-45)" font-size="8.4" text-anchor="end">M6</text>
<line x1="326.82" y1="351.00" x2="326.82" y2="353.20" stroke="#000" stroke-width="0.9"/>
<text transform="translate(328.42,358.60) rotate(-45)" font-size="8.4" text-anchor="end">M7</text>
<text transform="translate(188.30,353.30) rotate(-90)" font-size="10.4" textLength="65.9" lengthAdjust="spacingAndGlyphs" fill="#1a1a1a">Relative <tspan font-style="italic">PDGFRB</tspan></text>
<text transform="translate(198.00,347.20) rotate(-90)" font-size="10.2" textLength="52.9" lengthAdjust="spacingAndGlyphs">RNA expression</text>
<text x="220.70" y="382.00" font-size="10.2" textLength="91.8" lengthAdjust="spacingAndGlyphs">Cell type / AML FAB subtype</text>
<rect x="407.67" y="290.00" width="9.2" height="63.90" fill="none" stroke="#1f45d0" stroke-width="1.25"/>
<rect x="463.89" y="290.00" width="9.2" height="63.90" fill="none" stroke="#1f45d0" stroke-width="1.25"/>
<line x1="411.87" y1="286.80" x2="469.49" y2="286.80" stroke="#2a2a2a" stroke-width="1.6"/>
<line x1="437.18" y1="282.25" x2="437.18" y2="285.35" stroke="#111" stroke-width="0.85"/>
<line x1="435.84" y1="283.02" x2="438.52" y2="284.57" stroke="#111" stroke-width="0.85"/>
<line x1="435.84" y1="284.57" x2="438.52" y2="283.02" stroke="#111" stroke-width="0.85"/>
<line x1="441.13" y1="282.25" x2="441.13" y2="285.35" stroke="#111" stroke-width="0.85"/>
<line x1="439.79" y1="283.02" x2="442.47" y2="284.57" stroke="#111" stroke-width="0.85"/>
<line x1="439.79" y1="284.57" x2="442.47" y2="283.02" stroke="#111" stroke-width="0.85"/>
<line x1="445.08" y1="282.25" x2="445.08" y2="285.35" stroke="#111" stroke-width="0.85"/>
<line x1="443.74" y1="283.02" x2="446.42" y2="284.57" stroke="#111" stroke-width="0.85"/>
<line x1="443.74" y1="284.57" x2="446.42" y2="283.02" stroke="#111" stroke-width="0.85"/>
<line x1="449.03" y1="282.25" x2="449.03" y2="285.35" stroke="#111" stroke-width="0.85"/>
<line x1="447.69" y1="283.02" x2="450.37" y2="284.57" stroke="#111" stroke-width="0.85"/>
<line x1="447.69" y1="284.57" x2="450.37" y2="283.02" stroke="#111" stroke-width="0.85"/>
<rect x="400.30" y="347.24" width="5.20" height="3.26" fill="#cc0014"/>
<line x1="402.90" y1="345.41" x2="402.90" y2="347.24" stroke="#000" stroke-width="0.9"/>
<line x1="401.20" y1="345.41" x2="404.60" y2="345.41" stroke="#000" stroke-width="1.0"/>
<circle cx="404.01" cy="344.39" r="0.95" fill="#000"/>
<circle cx="402.48" cy="348.76" r="0.95" fill="#000"/>
<circle cx="401.31" cy="347.08" r="0.95" fill="#000"/>
<circle cx="412.10" cy="350.30" r="0.95" fill="#000"/>
<circle cx="412.78" cy="350.50" r="0.95" fill="#000"/>
<circle cx="414.32" cy="350.50" r="0.95" fill="#000"/>
<circle cx="420.93" cy="350.40" r="0.95" fill="#000"/>
<circle cx="422.62" cy="350.50" r="0.95" fill="#000"/>
<circle cx="421.19" cy="350.50" r="0.95" fill="#000"/>
<circle cx="428.11" cy="350.40" r="0.95" fill="#000"/>
<circle cx="431.45" cy="350.50" r="0.95" fill="#000"/>
<circle cx="429.81" cy="350.50" r="0.95" fill="#000"/>
<rect x="437.78" y="349.48" width="5.20" height="1.02" fill="#cc0014"/>
<line x1="440.38" y1="347.44" x2="440.38" y2="349.48" stroke="#000" stroke-width="0.9"/>
<line x1="438.68" y1="347.44" x2="442.08" y2="347.44" stroke="#000" stroke-width="1.0"/>
<circle cx="443.28" cy="343.88" r="0.95" fill="#000"/>
<circle cx="440.34" cy="349.36" r="0.95" fill="#000"/>
<circle cx="439.07" cy="349.44" r="0.95" fill="#000"/>
<circle cx="440.63" cy="349.15" r="0.95" fill="#000"/>
<circle cx="442.26" cy="349.01" r="0.95" fill="#000"/>
<circle cx="440.63" cy="349.46" r="0.95" fill="#000"/>
<circle cx="442.67" cy="349.29" r="0.95" fill="#000"/>
<circle cx="440.39" cy="350.01" r="0.95" fill="#000"/>
<circle cx="440.56" cy="349.75" r="0.95" fill="#000"/>
<circle cx="440.49" cy="348.94" r="0.95" fill="#000"/>
<circle cx="440.64" cy="349.02" r="0.95" fill="#000"/>
<circle cx="439.53" cy="349.78" r="0.95" fill="#000"/>
<circle cx="440.69" cy="349.99" r="0.95" fill="#000"/>
<circle cx="441.49" cy="349.66" r="0.95" fill="#000"/>
<circle cx="439.24" cy="348.84" r="0.95" fill="#000"/>
<circle cx="441.19" cy="349.91" r="0.95" fill="#000"/>
<circle cx="440.67" cy="349.84" r="0.95" fill="#000"/>
<circle cx="439.89" cy="349.11" r="0.95" fill="#000"/>
<rect x="447.15" y="348.46" width="5.20" height="2.04" fill="#cc0014"/>
<line x1="449.75" y1="337.57" x2="449.75" y2="348.46" stroke="#000" stroke-width="0.9"/>
<line x1="448.05" y1="337.57" x2="451.45" y2="337.57" stroke="#000" stroke-width="1.0"/>
<circle cx="448.75" cy="312.31" r="0.95" fill="#000"/>
<circle cx="449.23" cy="347.96" r="0.95" fill="#000"/>
<circle cx="449.54" cy="350.02" r="0.95" fill="#000"/>
<circle cx="450.52" cy="348.61" r="0.95" fill="#000"/>
<circle cx="448.81" cy="348.58" r="0.95" fill="#000"/>
<circle cx="449.37" cy="348.92" r="0.95" fill="#000"/>
<circle cx="449.41" cy="347.50" r="0.95" fill="#000"/>
<circle cx="450.88" cy="346.69" r="0.95" fill="#000"/>
<circle cx="451.11" cy="349.09" r="0.95" fill="#000"/>
<circle cx="449.80" cy="349.84" r="0.95" fill="#000"/>
<circle cx="449.64" cy="349.25" r="0.95" fill="#000"/>
<circle cx="449.77" cy="346.84" r="0.95" fill="#000"/>
<circle cx="451.44" cy="348.62" r="0.95" fill="#000"/>
<circle cx="448.68" cy="349.10" r="0.95" fill="#000"/>
<circle cx="450.57" cy="347.16" r="0.95" fill="#000"/>
<circle cx="449.96" cy="349.50" r="0.95" fill="#000"/>
<circle cx="449.55" cy="347.47" r="0.95" fill="#000"/>
<circle cx="449.94" cy="348.83" r="0.95" fill="#000"/>
<circle cx="448.85" cy="348.22" r="0.95" fill="#000"/>
<circle cx="447.71" cy="347.38" r="0.95" fill="#000"/>
<circle cx="452.56" cy="348.53" r="0.95" fill="#000"/>
<circle cx="449.72" cy="349.30" r="0.95" fill="#000"/>
<circle cx="448.68" cy="349.85" r="0.95" fill="#000"/>
<circle cx="449.84" cy="349.35" r="0.95" fill="#000"/>
<circle cx="452.16" cy="348.90" r="0.95" fill="#000"/>
<circle cx="449.73" cy="349.21" r="0.95" fill="#000"/>
<circle cx="450.60" cy="348.22" r="0.95" fill="#000"/>
<circle cx="447.73" cy="347.29" r="0.95" fill="#000"/>
<circle cx="449.36" cy="344.35" r="0.95" fill="#000"/>
<circle cx="447.62" cy="349.07" r="0.95" fill="#000"/>
<circle cx="447.45" cy="348.86" r="0.95" fill="#000"/>
<circle cx="448.98" cy="348.25" r="0.95" fill="#000"/>
<circle cx="448.73" cy="348.09" r="0.95" fill="#000"/>
<circle cx="452.65" cy="348.38" r="0.95" fill="#000"/>
<circle cx="449.97" cy="346.82" r="0.95" fill="#000"/>
<circle cx="451.67" cy="349.25" r="0.95" fill="#000"/>
<circle cx="447.92" cy="349.63" r="0.95" fill="#000"/>
<circle cx="448.98" cy="346.58" r="0.95" fill="#000"/>
<circle cx="450.51" cy="346.47" r="0.95" fill="#000"/>
<circle cx="452.09" cy="344.40" r="0.95" fill="#000"/>
<circle cx="448.94" cy="347.76" r="0.95" fill="#000"/>
<circle cx="451.59" cy="347.75" r="0.95" fill="#000"/>
<circle cx="446.85" cy="348.31" r="0.95" fill="#000"/>
<circle cx="449.28" cy="348.81" r="0.95" fill="#000"/>
<circle cx="449.30" cy="348.51" r="0.95" fill="#000"/>
<circle cx="448.11" cy="346.87" r="0.95" fill="#000"/>
<circle cx="447.17" cy="347.95" r="0.95" fill="#000"/>
<circle cx="448.44" cy="349.81" r="0.95" fill="#000"/>
<circle cx="448.59" cy="349.10" r="0.95" fill="#000"/>
<circle cx="450.56" cy="349.06" r="0.95" fill="#000"/>
<circle cx="449.86" cy="347.77" r="0.95" fill="#000"/>
<circle cx="448.85" cy="348.24" r="0.95" fill="#000"/>
<circle cx="447.90" cy="349.25" r="0.95" fill="#000"/>
<circle cx="448.28" cy="348.84" r="0.95" fill="#000"/>
<circle cx="450.70" cy="348.77" r="0.95" fill="#000"/>
<rect x="456.52" y="347.44" width="5.20" height="3.06" fill="#cc0014"/>
<line x1="459.12" y1="338.79" x2="459.12" y2="347.44" stroke="#000" stroke-width="0.9"/>
<line x1="457.42" y1="338.79" x2="460.82" y2="338.79" stroke="#000" stroke-width="1.0"/>
<circle cx="460.85" cy="317.30" r="0.95" fill="#000"/>
<circle cx="456.26" cy="348.58" r="0.95" fill="#000"/>
<circle cx="461.72" cy="348.75" r="0.95" fill="#000"/>
<circle cx="458.55" cy="346.16" r="0.95" fill="#000"/>
<circle cx="458.58" cy="344.57" r="0.95" fill="#000"/>
<circle cx="458.60" cy="343.43" r="0.95" fill="#000"/>
<circle cx="460.03" cy="348.00" r="0.95" fill="#000"/>
<circle cx="458.91" cy="348.78" r="0.95" fill="#000"/>
<circle cx="459.69" cy="342.43" r="0.95" fill="#000"/>
<circle cx="458.79" cy="348.74" r="0.95" fill="#000"/>
<circle cx="458.13" cy="347.48" r="0.95" fill="#000"/>
<circle cx="460.75" cy="346.74" r="0.95" fill="#000"/>
<circle cx="460.28" cy="347.37" r="0.95" fill="#000"/>
<circle cx="459.30" cy="346.96" r="0.95" fill="#000"/>
<circle cx="460.37" cy="348.40" r="0.95" fill="#000"/>
<circle cx="458.53" cy="344.48" r="0.95" fill="#000"/>
<circle cx="459.80" cy="348.53" r="0.95" fill="#000"/>
<circle cx="460.59" cy="347.28" r="0.95" fill="#000"/>
<circle cx="458.95" cy="346.59" r="0.95" fill="#000"/>
<circle cx="459.93" cy="348.97" r="0.95" fill="#000"/>
<circle cx="457.47" cy="347.29" r="0.95" fill="#000"/>
<circle cx="456.74" cy="349.05" r="0.95" fill="#000"/>
<circle cx="458.55" cy="346.33" r="0.95" fill="#000"/>
<circle cx="457.97" cy="349.92" r="0.95" fill="#000"/>
<circle cx="458.97" cy="348.28" r="0.95" fill="#000"/>
<circle cx="458.68" cy="347.39" r="0.95" fill="#000"/>
<circle cx="460.45" cy="346.07" r="0.95" fill="#000"/>
<circle cx="461.17" cy="347.77" r="0.95" fill="#000"/>
<circle cx="457.99" cy="347.63" r="0.95" fill="#000"/>
<circle cx="457.25" cy="347.20" r="0.95" fill="#000"/>
<circle cx="457.74" cy="347.87" r="0.95" fill="#000"/>
<circle cx="459.37" cy="348.04" r="0.95" fill="#000"/>
<circle cx="459.63" cy="349.61" r="0.95" fill="#000"/>
<circle cx="458.84" cy="347.02" r="0.95" fill="#000"/>
<circle cx="459.56" cy="346.13" r="0.95" fill="#000"/>
<circle cx="457.81" cy="347.96" r="0.95" fill="#000"/>
<circle cx="460.11" cy="346.10" r="0.95" fill="#000"/>
<circle cx="458.17" cy="349.04" r="0.95" fill="#000"/>
<circle cx="460.20" cy="348.81" r="0.95" fill="#000"/>
<circle cx="457.49" cy="348.21" r="0.95" fill="#000"/>
<circle cx="459.71" cy="344.01" r="0.95" fill="#000"/>
<circle cx="459.44" cy="347.07" r="0.95" fill="#000"/>
<circle cx="459.16" cy="347.71" r="0.95" fill="#000"/>
<circle cx="459.69" cy="345.72" r="0.95" fill="#000"/>
<circle cx="459.24" cy="348.08" r="0.95" fill="#000"/>
<circle cx="458.39" cy="342.71" r="0.95" fill="#000"/>
<circle cx="459.26" cy="348.93" r="0.95" fill="#000"/>
<circle cx="462.02" cy="348.78" r="0.95" fill="#000"/>
<circle cx="459.88" cy="346.33" r="0.95" fill="#000"/>
<circle cx="461.68" cy="346.84" r="0.95" fill="#000"/>
<circle cx="459.05" cy="348.67" r="0.95" fill="#000"/>
<circle cx="460.73" cy="349.18" r="0.95" fill="#000"/>
<circle cx="461.42" cy="347.57" r="0.95" fill="#000"/>
<circle cx="457.75" cy="347.85" r="0.95" fill="#000"/>
<circle cx="460.16" cy="348.36" r="0.95" fill="#000"/>
<circle cx="459.04" cy="317.91" r="0.85" fill="#111"/>
<rect x="465.89" y="340.93" width="5.20" height="9.57" fill="#cc0014"/>
<line x1="468.49" y1="322.80" x2="468.49" y2="340.93" stroke="#000" stroke-width="0.9"/>
<line x1="466.79" y1="322.80" x2="470.19" y2="322.80" stroke="#000" stroke-width="1.0"/>
<circle cx="470.16" cy="312.31" r="0.95" fill="#000"/>
<circle cx="469.08" cy="343.83" r="0.95" fill="#000"/>
<circle cx="467.07" cy="340.15" r="0.95" fill="#000"/>
<circle cx="468.93" cy="347.03" r="0.95" fill="#000"/>
<circle cx="468.84" cy="344.49" r="0.95" fill="#000"/>
<circle cx="466.36" cy="321.83" r="0.95" fill="#000"/>
<circle cx="467.21" cy="339.79" r="0.95" fill="#000"/>
<circle cx="466.61" cy="344.02" r="0.95" fill="#000"/>
<circle cx="470.49" cy="342.89" r="0.95" fill="#000"/>
<circle cx="467.90" cy="331.34" r="0.95" fill="#000"/>
<circle cx="467.28" cy="343.13" r="0.95" fill="#000"/>
<circle cx="467.73" cy="342.70" r="0.95" fill="#000"/>
<circle cx="468.92" cy="293.47" r="0.85" fill="#111"/>
<circle cx="468.55" cy="317.91" r="0.85" fill="#111"/>
<rect x="475.26" y="348.97" width="5.20" height="1.53" fill="#cc0014"/>
<line x1="477.86" y1="344.39" x2="477.86" y2="348.97" stroke="#000" stroke-width="0.9"/>
<line x1="476.16" y1="344.39" x2="479.56" y2="344.39" stroke="#000" stroke-width="1.0"/>
<circle cx="477.71" cy="338.79" r="0.95" fill="#000"/>
<circle cx="477.63" cy="349.01" r="0.95" fill="#000"/>
<circle cx="478.97" cy="349.77" r="0.95" fill="#000"/>
<circle cx="479.65" cy="349.03" r="0.95" fill="#000"/>
<circle cx="479.15" cy="348.83" r="0.95" fill="#000"/>
<circle cx="477.83" cy="348.37" r="0.95" fill="#000"/>
<circle cx="477.62" cy="348.73" r="0.95" fill="#000"/>
<circle cx="476.66" cy="349.82" r="0.95" fill="#000"/>
<circle cx="476.75" cy="348.52" r="0.95" fill="#000"/>
<circle cx="476.76" cy="349.71" r="0.95" fill="#000"/>
<circle cx="475.71" cy="348.88" r="0.95" fill="#000"/>
<circle cx="477.39" cy="349.41" r="0.95" fill="#000"/>
<circle cx="476.26" cy="349.22" r="0.95" fill="#000"/>
<circle cx="476.81" cy="350.13" r="0.95" fill="#000"/>
<circle cx="479.57" cy="347.80" r="0.95" fill="#000"/>
<circle cx="479.73" cy="349.44" r="0.95" fill="#000"/>
<circle cx="477.54" cy="348.26" r="0.95" fill="#000"/>
<circle cx="477.21" cy="349.63" r="0.95" fill="#000"/>
<circle cx="477.88" cy="349.37" r="0.95" fill="#000"/>
<circle cx="475.91" cy="349.78" r="0.95" fill="#000"/>
<circle cx="476.94" cy="349.27" r="0.95" fill="#000"/>
<circle cx="476.59" cy="348.67" r="0.95" fill="#000"/>
<circle cx="479.26" cy="348.18" r="0.95" fill="#000"/>
<circle cx="478.25" cy="349.66" r="0.95" fill="#000"/>
<circle cx="477.77" cy="347.58" r="0.95" fill="#000"/>
<circle cx="477.51" cy="348.11" r="0.95" fill="#000"/>
<circle cx="477.35" cy="348.96" r="0.95" fill="#000"/>
<circle cx="479.76" cy="349.30" r="0.95" fill="#000"/>
<circle cx="475.59" cy="349.42" r="0.95" fill="#000"/>
<circle cx="478.57" cy="349.36" r="0.95" fill="#000"/>
<circle cx="479.11" cy="349.47" r="0.95" fill="#000"/>
<circle cx="478.05" cy="348.03" r="0.95" fill="#000"/>
<circle cx="477.24" cy="349.19" r="0.95" fill="#000"/>
<circle cx="480.31" cy="349.46" r="0.95" fill="#000"/>
<circle cx="477.46" cy="348.34" r="0.95" fill="#000"/>
<circle cx="478.45" cy="348.80" r="0.95" fill="#000"/>
<circle cx="479.05" cy="347.22" r="0.95" fill="#000"/>
<circle cx="476.84" cy="349.01" r="0.95" fill="#000"/>
<circle cx="478.00" cy="349.79" r="0.95" fill="#000"/>
<circle cx="478.28" cy="346.71" r="0.95" fill="#000"/>
<circle cx="477.17" cy="348.60" r="0.95" fill="#000"/>
<circle cx="475.93" cy="349.28" r="0.95" fill="#000"/>
<circle cx="480.14" cy="349.60" r="0.95" fill="#000"/>
<circle cx="479.30" cy="348.79" r="0.95" fill="#000"/>
<circle cx="479.15" cy="349.26" r="0.95" fill="#000"/>
<circle cx="476.30" cy="348.54" r="0.95" fill="#000"/>
<circle cx="475.43" cy="350.01" r="0.95" fill="#000"/>
<circle cx="478.77" cy="348.88" r="0.95" fill="#000"/>
<rect x="484.63" y="349.48" width="5.20" height="1.02" fill="#cc0014"/>
<line x1="487.23" y1="346.43" x2="487.23" y2="349.48" stroke="#000" stroke-width="0.9"/>
<line x1="485.53" y1="346.43" x2="488.93" y2="346.43" stroke="#000" stroke-width="1.0"/>
<circle cx="486.72" cy="334.92" r="0.95" fill="#000"/>
<circle cx="486.97" cy="348.91" r="0.95" fill="#000"/>
<circle cx="487.74" cy="349.88" r="0.95" fill="#000"/>
<circle cx="484.68" cy="348.79" r="0.95" fill="#000"/>
<circle cx="486.52" cy="349.61" r="0.95" fill="#000"/>
<circle cx="488.84" cy="349.87" r="0.95" fill="#000"/>
<circle cx="489.86" cy="349.23" r="0.95" fill="#000"/>
<circle cx="486.56" cy="349.19" r="0.95" fill="#000"/>
<circle cx="487.94" cy="349.70" r="0.95" fill="#000"/>
<circle cx="486.83" cy="349.51" r="0.95" fill="#000"/>
<circle cx="486.79" cy="349.54" r="0.95" fill="#000"/>
<circle cx="485.86" cy="349.07" r="0.95" fill="#000"/>
<circle cx="486.94" cy="349.66" r="0.95" fill="#000"/>
<circle cx="487.56" cy="348.90" r="0.95" fill="#000"/>
<circle cx="487.06" cy="348.50" r="0.95" fill="#000"/>
<circle cx="486.87" cy="349.36" r="0.95" fill="#000"/>
<circle cx="487.39" cy="349.39" r="0.95" fill="#000"/>
<circle cx="486.46" cy="349.58" r="0.95" fill="#000"/>
<rect x="494.00" y="346.12" width="5.20" height="4.38" fill="#cc0014"/>
<line x1="496.60" y1="338.28" x2="496.60" y2="346.12" stroke="#000" stroke-width="0.9"/>
<line x1="494.90" y1="338.28" x2="498.30" y2="338.28" stroke="#000" stroke-width="1.0"/>
<rect x="503.37" y="340.42" width="5.20" height="10.08" fill="#cc0014"/>
<line x1="505.97" y1="323.51" x2="505.97" y2="340.42" stroke="#000" stroke-width="0.9"/>
<line x1="504.27" y1="323.51" x2="507.67" y2="323.51" stroke="#000" stroke-width="1.0"/>
<circle cx="507.88" cy="320.46" r="0.95" fill="#000"/>
<circle cx="504.89" cy="341.81" r="0.95" fill="#000"/>
<circle cx="506.19" cy="343.77" r="0.95" fill="#000"/>
<line x1="396.50" y1="289.40" x2="396.50" y2="351.30" stroke="#000" stroke-width="1.8"/>
<line x1="395.60" y1="350.50" x2="512.80" y2="350.50" stroke="#000" stroke-width="1.6"/>
<line x1="394.20" y1="350.50" x2="396.50" y2="350.50" stroke="#000" stroke-width="1.2"/>
<text x="393.60" y="353.80" font-size="8.5" text-anchor="end" textLength="4.0" lengthAdjust="spacingAndGlyphs">0</text>
<line x1="394.20" y1="330.13" x2="396.50" y2="330.13" stroke="#000" stroke-width="1.2"/>
<text x="393.60" y="333.43" font-size="8.5" text-anchor="end" textLength="12.599999999999998" lengthAdjust="spacingAndGlyphs">200</text>
<line x1="394.20" y1="309.77" x2="396.50" y2="309.77" stroke="#000" stroke-width="1.2"/>
<text x="393.60" y="313.07" font-size="8.5" text-anchor="end" textLength="12.599999999999998" lengthAdjust="spacingAndGlyphs">400</text>
<line x1="394.20" y1="289.40" x2="396.50" y2="289.40" stroke="#000" stroke-width="1.2"/>
<text x="393.60" y="292.70" font-size="8.5" text-anchor="end" textLength="12.599999999999998" lengthAdjust="spacingAndGlyphs">600</text>
<line x1="402.90" y1="350.50" x2="402.90" y2="352.70" stroke="#000" stroke-width="0.9"/>
<text transform="translate(407.00,358.10) rotate(-45)" font-size="8.4" text-anchor="end">CD34</text>
<line x1="412.27" y1="350.50" x2="412.27" y2="352.70" stroke="#000" stroke-width="0.9"/>
<text transform="translate(415.37,358.10) rotate(-45)" font-size="8.4" text-anchor="end">Pro</text>
<line x1="421.64" y1="350.50" x2="421.64" y2="352.70" stroke="#000" stroke-width="0.9"/>
<text transform="translate(423.24,358.10) rotate(-45)" font-size="8.4" text-anchor="end">Neu</text>
<line x1="431.01" y1="350.50" x2="431.01" y2="352.70" stroke="#000" stroke-width="0.9"/>
<text transform="translate(432.61,358.10) rotate(-45)" font-size="8.4" text-anchor="end">Mono</text>
<line x1="440.38" y1="350.50" x2="440.38" y2="352.70" stroke="#000" stroke-width="0.9"/>
<text transform="translate(441.98,358.10) rotate(-45)" font-size="8.4" text-anchor="end">M0</text>
<line x1="449.75" y1="350.50" x2="449.75" y2="352.70" stroke="#000" stroke-width="0.9"/>
<text transform="translate(451.35,358.10) rotate(-45)" font-size="8.4" text-anchor="end">M1</text>
<line x1="459.12" y1="350.50" x2="459.12" y2="352.70" stroke="#000" stroke-width="0.9"/>
<text transform="translate(460.72,358.10) rotate(-45)" font-size="8.4" text-anchor="end">M2</text>
<line x1="468.49" y1="350.50" x2="468.49" y2="352.70" stroke="#000" stroke-width="0.9"/>
<text transform="translate(470.09,358.10) rotate(-45)" font-size="8.4" text-anchor="end">M3</text>
<line x1="477.86" y1="350.50" x2="477.86" y2="352.70" stroke="#000" stroke-width="0.9"/>
<text transform="translate(479.46,358.10) rotate(-45)" font-size="8.4" text-anchor="end">M4</text>
<line x1="487.23" y1="350.50" x2="487.23" y2="352.70" stroke="#000" stroke-width="0.9"/>
<text transform="translate(488.83,358.10) rotate(-45)" font-size="8.4" text-anchor="end">M5</text>
<line x1="496.60" y1="350.50" x2="496.60" y2="352.70" stroke="#000" stroke-width="0.9"/>
<text transform="translate(498.20,358.10) rotate(-45)" font-size="8.4" text-anchor="end">M6</text>
<line x1="505.97" y1="350.50" x2="505.97" y2="352.70" stroke="#000" stroke-width="0.9"/>
<text transform="translate(507.57,358.10) rotate(-45)" font-size="8.4" text-anchor="end">M7</text>
<text transform="translate(361.80,342.00) rotate(-90)" font-size="10.4" textLength="50.4" lengthAdjust="spacingAndGlyphs" fill="#1a1a1a">Relative <tspan font-style="italic">HDC</tspan></text>
<text transform="translate(371.00,343.80) rotate(-90)" font-size="10.2" textLength="53.0" lengthAdjust="spacingAndGlyphs">RNA expression</text>
<text x="401.45" y="382.00" font-size="10.2" textLength="91.8" lengthAdjust="spacingAndGlyphs">Cell type / AML FAB subtype</text>
<rect x="65.82" y="405.60" width="9.2" height="64.10" fill="none" stroke="#1f45d0" stroke-width="1.25"/>
<rect x="122.04" y="405.60" width="9.2" height="64.10" fill="none" stroke="#1f45d0" stroke-width="1.25"/>
<line x1="70.02" y1="402.40" x2="127.64" y2="402.40" stroke="#2a2a2a" stroke-width="1.6"/>
<line x1="95.33" y1="397.85" x2="95.33" y2="400.95" stroke="#111" stroke-width="0.85"/>
<line x1="93.99" y1="398.62" x2="96.67" y2="400.17" stroke="#111" stroke-width="0.85"/>
<line x1="93.99" y1="400.17" x2="96.67" y2="398.62" stroke="#111" stroke-width="0.85"/>
<line x1="99.28" y1="397.85" x2="99.28" y2="400.95" stroke="#111" stroke-width="0.85"/>
<line x1="97.94" y1="398.62" x2="100.62" y2="400.17" stroke="#111" stroke-width="0.85"/>
<line x1="97.94" y1="400.17" x2="100.62" y2="398.62" stroke="#111" stroke-width="0.85"/>
<line x1="103.23" y1="397.85" x2="103.23" y2="400.95" stroke="#111" stroke-width="0.85"/>
<line x1="101.89" y1="398.62" x2="104.57" y2="400.17" stroke="#111" stroke-width="0.85"/>
<line x1="101.89" y1="400.17" x2="104.57" y2="398.62" stroke="#111" stroke-width="0.85"/>
<line x1="107.18" y1="397.85" x2="107.18" y2="400.95" stroke="#111" stroke-width="0.85"/>
<line x1="105.84" y1="398.62" x2="108.52" y2="400.17" stroke="#111" stroke-width="0.85"/>
<line x1="105.84" y1="400.17" x2="108.52" y2="398.62" stroke="#111" stroke-width="0.85"/>
<rect x="58.45" y="464.09" width="5.20" height="2.21" fill="#cc0014"/>
<line x1="61.05" y1="459.19" x2="61.05" y2="464.09" stroke="#000" stroke-width="0.9"/>
<line x1="59.35" y1="459.19" x2="62.75" y2="459.19" stroke="#000" stroke-width="1.0"/>
<circle cx="60.59" cy="463.36" r="0.95" fill="#000"/>
<circle cx="61.81" cy="464.57" r="0.95" fill="#000"/>
<circle cx="62.03" cy="464.31" r="0.95" fill="#000"/>
<rect x="67.82" y="456.98" width="5.20" height="9.32" fill="#cc0014"/>
<line x1="70.42" y1="454.04" x2="70.42" y2="456.98" stroke="#000" stroke-width="0.9"/>
<line x1="68.72" y1="454.04" x2="72.12" y2="454.04" stroke="#000" stroke-width="1.0"/>
<circle cx="70.53" cy="451.83" r="0.95" fill="#000"/>
<circle cx="69.86" cy="459.61" r="0.95" fill="#000"/>
<circle cx="72.06" cy="451.83" r="0.95" fill="#000"/>
<rect x="77.19" y="433.44" width="5.20" height="32.86" fill="#cc0014"/>
<line x1="79.79" y1="409.66" x2="79.79" y2="433.44" stroke="#000" stroke-width="0.9"/>
<line x1="78.09" y1="409.66" x2="81.49" y2="409.66" stroke="#000" stroke-width="1.0"/>
<circle cx="79.74" cy="455.76" r="0.85" fill="#111"/>
<rect x="86.56" y="465.32" width="5.20" height="0.98" fill="#cc0014"/>
<circle cx="89.08" cy="465.07" r="0.95" fill="#000"/>
<circle cx="87.74" cy="465.07" r="0.95" fill="#000"/>
<circle cx="87.83" cy="465.72" r="0.95" fill="#000"/>
<rect x="95.93" y="466.05" width="5.20" height="0.25" fill="#cc0014"/>
<circle cx="97.10" cy="465.81" r="0.95" fill="#000"/>
<circle cx="99.20" cy="466.14" r="0.95" fill="#000"/>
<circle cx="98.49" cy="466.16" r="0.95" fill="#000"/>
<circle cx="98.24" cy="466.17" r="0.95" fill="#000"/>
<circle cx="95.86" cy="465.98" r="0.95" fill="#000"/>
<circle cx="98.80" cy="466.05" r="0.95" fill="#000"/>
<circle cx="98.84" cy="466.06" r="0.95" fill="#000"/>
<circle cx="96.80" cy="466.00" r="0.95" fill="#000"/>
<circle cx="99.36" cy="466.07" r="0.95" fill="#000"/>
<circle cx="96.71" cy="465.83" r="0.95" fill="#000"/>
<circle cx="96.71" cy="466.12" r="0.95" fill="#000"/>
<circle cx="97.10" cy="466.06" r="0.95" fill="#000"/>
<circle cx="99.52" cy="466.15" r="0.95" fill="#000"/>
<circle cx="95.79" cy="465.81" r="0.95" fill="#000"/>
<circle cx="97.30" cy="465.81" r="0.95" fill="#000"/>
<circle cx="98.97" cy="465.96" r="0.95" fill="#000"/>
<circle cx="98.23" cy="465.85" r="0.95" fill="#000"/>
<circle cx="98.43" cy="466.14" r="0.95" fill="#000"/>
<rect x="105.30" y="466.05" width="5.20" height="0.25" fill="#cc0014"/>
<circle cx="106.70" cy="465.81" r="0.95" fill="#000"/>
<circle cx="107.87" cy="466.00" r="0.95" fill="#000"/>
<circle cx="107.89" cy="466.03" r="0.95" fill="#000"/>
<circle cx="108.94" cy="465.97" r="0.95" fill="#000"/>
<circle cx="107.42" cy="466.09" r="0.95" fill="#000"/>
<circle cx="106.72" cy="466.22" r="0.95" fill="#000"/>
<circle cx="108.77" cy="466.19" r="0.95" fill="#000"/>
<circle cx="106.96" cy="466.16" r="0.95" fill="#000"/>
<circle cx="109.19" cy="465.98" r="0.95" fill="#000"/>
<circle cx="106.76" cy="465.85" r="0.95" fill="#000"/>
<circle cx="109.28" cy="466.03" r="0.95" fill="#000"/>
<circle cx="107.58" cy="466.14" r="0.95" fill="#000"/>
<circle cx="107.04" cy="466.17" r="0.95" fill="#000"/>
<circle cx="108.00" cy="465.95" r="0.95" fill="#000"/>
<circle cx="107.15" cy="466.10" r="0.95" fill="#000"/>
<circle cx="108.87" cy="465.81" r="0.95" fill="#000"/>
<circle cx="110.73" cy="466.17" r="0.95" fill="#000"/>
<circle cx="107.68" cy="466.10" r="0.95" fill="#000"/>
<circle cx="107.13" cy="466.11" r="0.95" fill="#000"/>
<circle cx="105.98" cy="465.96" r="0.95" fill="#000"/>
<circle cx="107.45" cy="466.05" r="0.95" fill="#000"/>
<circle cx="108.40" cy="465.81" r="0.95" fill="#000"/>
<circle cx="108.57" cy="466.00" r="0.95" fill="#000"/>
<circle cx="108.05" cy="465.97" r="0.95" fill="#000"/>
<circle cx="108.44" cy="466.23" r="0.95" fill="#000"/>
<circle cx="108.81" cy="466.09" r="0.95" fill="#000"/>
<circle cx="107.17" cy="466.02" r="0.95" fill="#000"/>
<circle cx="106.55" cy="466.14" r="0.95" fill="#000"/>
<circle cx="107.75" cy="466.02" r="0.95" fill="#000"/>
<circle cx="107.41" cy="466.14" r="0.95" fill="#000"/>
<circle cx="107.01" cy="466.01" r="0.95" fill="#000"/>
<circle cx="107.09" cy="466.07" r="0.95" fill="#000"/>
<circle cx="108.01" cy="466.23" r="0.95" fill="#000"/>
<circle cx="108.95" cy="466.05" r="0.95" fill="#000"/>
<circle cx="106.94" cy="465.83" r="0.95" fill="#000"/>
<circle cx="108.24" cy="465.97" r="0.95" fill="#000"/>
<circle cx="108.97" cy="466.05" r="0.95" fill="#000"/>
<circle cx="106.23" cy="465.92" r="0.95" fill="#000"/>
<circle cx="107.65" cy="465.81" r="0.95" fill="#000"/>
<circle cx="106.98" cy="466.13" r="0.95" fill="#000"/>
<circle cx="106.42" cy="466.08" r="0.95" fill="#000"/>
<circle cx="108.45" cy="465.88" r="0.95" fill="#000"/>
<circle cx="108.96" cy="466.15" r="0.95" fill="#000"/>
<circle cx="107.99" cy="466.03" r="0.95" fill="#000"/>
<circle cx="107.77" cy="465.90" r="0.95" fill="#000"/>
<circle cx="108.55" cy="466.09" r="0.95" fill="#000"/>
<circle cx="106.32" cy="466.20" r="0.95" fill="#000"/>
<circle cx="109.29" cy="465.99" r="0.95" fill="#000"/>
<circle cx="107.90" cy="466.20" r="0.95" fill="#000"/>
<circle cx="107.52" cy="466.13" r="0.95" fill="#000"/>
<circle cx="109.84" cy="465.97" r="0.95" fill="#000"/>
<circle cx="109.13" cy="465.81" r="0.95" fill="#000"/>
<circle cx="108.08" cy="465.96" r="0.95" fill="#000"/>
<circle cx="108.40" cy="466.20" r="0.95" fill="#000"/>
<circle cx="106.43" cy="466.17" r="0.95" fill="#000"/>
<rect x="114.67" y="465.32" width="5.20" height="0.98" fill="#cc0014"/>
<line x1="117.27" y1="461.40" x2="117.27" y2="465.32" stroke="#000" stroke-width="0.9"/>
<line x1="115.57" y1="461.40" x2="118.97" y2="461.40" stroke="#000" stroke-width="1.0"/>
<circle cx="115.19" cy="464.83" r="0.95" fill="#000"/>
<circle cx="118.04" cy="464.83" r="0.95" fill="#000"/>
<circle cx="117.89" cy="465.13" r="0.95" fill="#000"/>
<circle cx="117.34" cy="465.20" r="0.95" fill="#000"/>
<circle cx="116.38" cy="464.91" r="0.95" fill="#000"/>
<circle cx="117.48" cy="465.18" r="0.95" fill="#000"/>
<circle cx="115.82" cy="464.86" r="0.95" fill="#000"/>
<circle cx="117.09" cy="465.19" r="0.95" fill="#000"/>
<circle cx="117.96" cy="464.96" r="0.95" fill="#000"/>
<circle cx="117.86" cy="465.23" r="0.95" fill="#000"/>
<circle cx="119.04" cy="465.08" r="0.95" fill="#000"/>
<circle cx="117.96" cy="465.16" r="0.95" fill="#000"/>
<circle cx="116.99" cy="465.69" r="0.95" fill="#000"/>
<circle cx="118.63" cy="464.86" r="0.95" fill="#000"/>
<circle cx="117.21" cy="465.70" r="0.95" fill="#000"/>
<circle cx="117.33" cy="465.45" r="0.95" fill="#000"/>
<circle cx="116.71" cy="465.53" r="0.95" fill="#000"/>
<circle cx="117.42" cy="465.35" r="0.95" fill="#000"/>
<circle cx="116.15" cy="464.83" r="0.95" fill="#000"/>
<circle cx="118.29" cy="465.70" r="0.95" fill="#000"/>
<circle cx="117.01" cy="465.04" r="0.95" fill="#000"/>
<circle cx="118.63" cy="465.75" r="0.95" fill="#000"/>
<circle cx="118.74" cy="465.73" r="0.95" fill="#000"/>
<circle cx="117.07" cy="465.19" r="0.95" fill="#000"/>
<circle cx="118.33" cy="465.40" r="0.95" fill="#000"/>
<circle cx="114.99" cy="465.32" r="0.95" fill="#000"/>
<circle cx="114.46" cy="465.61" r="0.95" fill="#000"/>
<circle cx="118.47" cy="465.11" r="0.95" fill="#000"/>
<circle cx="115.50" cy="464.83" r="0.95" fill="#000"/>
<circle cx="119.63" cy="464.83" r="0.95" fill="#000"/>
<circle cx="114.67" cy="465.38" r="0.95" fill="#000"/>
<circle cx="118.62" cy="465.67" r="0.95" fill="#000"/>
<circle cx="116.56" cy="464.83" r="0.95" fill="#000"/>
<circle cx="116.00" cy="465.91" r="0.95" fill="#000"/>
<circle cx="117.25" cy="464.83" r="0.95" fill="#000"/>
<circle cx="114.53" cy="465.82" r="0.95" fill="#000"/>
<circle cx="118.31" cy="464.96" r="0.95" fill="#000"/>
<circle cx="117.00" cy="465.53" r="0.95" fill="#000"/>
<circle cx="116.81" cy="465.28" r="0.95" fill="#000"/>
<circle cx="116.51" cy="465.56" r="0.95" fill="#000"/>
<circle cx="118.86" cy="465.57" r="0.95" fill="#000"/>
<circle cx="118.59" cy="465.11" r="0.95" fill="#000"/>
<circle cx="114.37" cy="464.83" r="0.95" fill="#000"/>
<circle cx="118.51" cy="465.36" r="0.95" fill="#000"/>
<circle cx="116.48" cy="465.42" r="0.95" fill="#000"/>
<circle cx="116.57" cy="465.11" r="0.95" fill="#000"/>
<circle cx="116.86" cy="465.66" r="0.95" fill="#000"/>
<circle cx="117.27" cy="465.30" r="0.95" fill="#000"/>
<circle cx="117.28" cy="464.83" r="0.95" fill="#000"/>
<circle cx="120.17" cy="465.53" r="0.95" fill="#000"/>
<circle cx="116.91" cy="465.43" r="0.95" fill="#000"/>
<circle cx="116.35" cy="465.39" r="0.95" fill="#000"/>
<circle cx="117.51" cy="465.86" r="0.95" fill="#000"/>
<circle cx="114.89" cy="464.83" r="0.95" fill="#000"/>
<circle cx="117.81" cy="465.63" r="0.95" fill="#000"/>
<circle cx="117.11" cy="441.29" r="0.85" fill="#111"/>
<rect x="124.04" y="466.05" width="5.20" height="0.25" fill="#cc0014"/>
<circle cx="128.61" cy="465.81" r="0.95" fill="#000"/>
<circle cx="127.10" cy="466.18" r="0.95" fill="#000"/>
<circle cx="128.49" cy="465.89" r="0.95" fill="#000"/>
<circle cx="126.46" cy="465.96" r="0.95" fill="#000"/>
<circle cx="126.12" cy="466.10" r="0.95" fill="#000"/>
<circle cx="126.94" cy="465.89" r="0.95" fill="#000"/>
<circle cx="128.56" cy="465.96" r="0.95" fill="#000"/>
<circle cx="125.78" cy="466.17" r="0.95" fill="#000"/>
<circle cx="126.55" cy="466.01" r="0.95" fill="#000"/>
<circle cx="126.84" cy="466.03" r="0.95" fill="#000"/>
<circle cx="127.25" cy="466.20" r="0.95" fill="#000"/>
<circle cx="125.14" cy="466.11" r="0.95" fill="#000"/>
<circle cx="125.65" cy="465.97" r="0.95" fill="#000"/>
<circle cx="127.85" cy="465.88" r="0.95" fill="#000"/>
<circle cx="126.79" cy="465.95" r="0.95" fill="#000"/>
<circle cx="126.78" cy="465.97" r="0.95" fill="#000"/>
<circle cx="127.27" cy="465.87" r="0.95" fill="#000"/>
<circle cx="127.91" cy="465.91" r="0.95" fill="#000"/>
<circle cx="125.57" cy="466.00" r="0.95" fill="#000"/>
<circle cx="127.97" cy="465.88" r="0.95" fill="#000"/>
<circle cx="123.97" cy="466.09" r="0.95" fill="#000"/>
<circle cx="126.07" cy="466.17" r="0.95" fill="#000"/>
<circle cx="125.16" cy="465.90" r="0.95" fill="#000"/>
<circle cx="126.47" cy="465.93" r="0.95" fill="#000"/>
<circle cx="124.82" cy="466.03" r="0.95" fill="#000"/>
<rect x="133.41" y="466.05" width="5.20" height="0.25" fill="#cc0014"/>
<circle cx="136.05" cy="465.81" r="0.95" fill="#000"/>
<circle cx="136.16" cy="466.13" r="0.95" fill="#000"/>
<circle cx="135.09" cy="466.15" r="0.95" fill="#000"/>
<circle cx="135.98" cy="466.09" r="0.95" fill="#000"/>
<circle cx="137.32" cy="465.91" r="0.95" fill="#000"/>
<circle cx="133.11" cy="466.17" r="0.95" fill="#000"/>
<circle cx="134.97" cy="466.03" r="0.95" fill="#000"/>
<circle cx="136.43" cy="466.16" r="0.95" fill="#000"/>
<circle cx="134.78" cy="466.01" r="0.95" fill="#000"/>
<circle cx="135.29" cy="465.89" r="0.95" fill="#000"/>
<circle cx="136.90" cy="466.14" r="0.95" fill="#000"/>
<circle cx="138.91" cy="466.23" r="0.95" fill="#000"/>
<circle cx="136.39" cy="465.90" r="0.95" fill="#000"/>
<circle cx="136.95" cy="465.83" r="0.95" fill="#000"/>
<circle cx="136.61" cy="466.01" r="0.95" fill="#000"/>
<circle cx="136.83" cy="466.17" r="0.95" fill="#000"/>
<circle cx="134.61" cy="466.04" r="0.95" fill="#000"/>
<circle cx="137.21" cy="466.09" r="0.95" fill="#000"/>
<circle cx="135.43" cy="465.98" r="0.95" fill="#000"/>
<circle cx="136.20" cy="465.81" r="0.95" fill="#000"/>
<circle cx="136.08" cy="466.11" r="0.95" fill="#000"/>
<circle cx="138.07" cy="465.81" r="0.95" fill="#000"/>
<circle cx="135.54" cy="466.06" r="0.95" fill="#000"/>
<circle cx="135.21" cy="466.09" r="0.95" fill="#000"/>
<circle cx="136.60" cy="466.17" r="0.95" fill="#000"/>
<circle cx="136.97" cy="465.81" r="0.95" fill="#000"/>
<circle cx="136.63" cy="466.09" r="0.95" fill="#000"/>
<circle cx="135.40" cy="466.04" r="0.95" fill="#000"/>
<circle cx="136.45" cy="465.81" r="0.95" fill="#000"/>
<circle cx="136.53" cy="466.21" r="0.95" fill="#000"/>
<circle cx="135.15" cy="466.03" r="0.95" fill="#000"/>
<circle cx="136.51" cy="465.83" r="0.95" fill="#000"/>
<circle cx="136.21" cy="466.14" r="0.95" fill="#000"/>
<circle cx="135.57" cy="465.97" r="0.95" fill="#000"/>
<circle cx="135.61" cy="466.08" r="0.95" fill="#000"/>
<circle cx="134.55" cy="465.81" r="0.95" fill="#000"/>
<circle cx="135.24" cy="466.12" r="0.95" fill="#000"/>
<circle cx="133.24" cy="466.09" r="0.95" fill="#000"/>
<circle cx="135.65" cy="466.04" r="0.95" fill="#000"/>
<circle cx="135.99" cy="466.11" r="0.95" fill="#000"/>
<circle cx="135.10" cy="466.22" r="0.95" fill="#000"/>
<circle cx="135.27" cy="465.99" r="0.95" fill="#000"/>
<circle cx="135.65" cy="466.14" r="0.95" fill="#000"/>
<circle cx="137.88" cy="465.93" r="0.95" fill="#000"/>
<circle cx="134.83" cy="466.05" r="0.95" fill="#000"/>
<circle cx="136.97" cy="466.18" r="0.95" fill="#000"/>
<circle cx="134.57" cy="466.07" r="0.95" fill="#000"/>
<circle cx="136.40" cy="466.01" r="0.95" fill="#000"/>
<rect x="142.78" y="466.05" width="5.20" height="0.25" fill="#cc0014"/>
<circle cx="147.51" cy="465.81" r="0.95" fill="#000"/>
<circle cx="145.42" cy="466.18" r="0.95" fill="#000"/>
<circle cx="146.32" cy="466.12" r="0.95" fill="#000"/>
<circle cx="148.28" cy="465.85" r="0.95" fill="#000"/>
<circle cx="144.96" cy="466.10" r="0.95" fill="#000"/>
<circle cx="143.70" cy="466.10" r="0.95" fill="#000"/>
<circle cx="143.92" cy="466.17" r="0.95" fill="#000"/>
<circle cx="143.71" cy="466.19" r="0.95" fill="#000"/>
<circle cx="145.13" cy="465.90" r="0.95" fill="#000"/>
<circle cx="144.37" cy="466.12" r="0.95" fill="#000"/>
<circle cx="146.04" cy="466.14" r="0.95" fill="#000"/>
<circle cx="144.41" cy="466.11" r="0.95" fill="#000"/>
<circle cx="147.40" cy="466.16" r="0.95" fill="#000"/>
<circle cx="143.52" cy="465.99" r="0.95" fill="#000"/>
<circle cx="144.31" cy="465.98" r="0.95" fill="#000"/>
<circle cx="144.61" cy="466.11" r="0.95" fill="#000"/>
<circle cx="145.93" cy="466.08" r="0.95" fill="#000"/>
<circle cx="142.58" cy="465.96" r="0.95" fill="#000"/>
<rect x="152.15" y="466.05" width="5.20" height="0.25" fill="#cc0014"/>
<circle cx="155.95" cy="465.81" r="0.95" fill="#000"/>
<circle cx="155.23" cy="466.00" r="0.95" fill="#000"/>
<circle cx="152.66" cy="466.18" r="0.95" fill="#000"/>
<rect x="161.52" y="465.56" width="5.20" height="0.74" fill="#cc0014"/>
<circle cx="164.62" cy="465.32" r="0.95" fill="#000"/>
<circle cx="163.19" cy="465.55" r="0.95" fill="#000"/>
<circle cx="163.28" cy="465.32" r="0.95" fill="#000"/>
<line x1="54.65" y1="405.00" x2="54.65" y2="467.10" stroke="#000" stroke-width="1.8"/>
<line x1="53.75" y1="466.30" x2="170.95" y2="466.30" stroke="#000" stroke-width="1.6"/>
<line x1="52.35" y1="466.30" x2="54.65" y2="466.30" stroke="#000" stroke-width="1.2"/>
<text x="51.75" y="469.60" font-size="8.5" text-anchor="end" textLength="4.0" lengthAdjust="spacingAndGlyphs">0</text>
<line x1="52.35" y1="441.78" x2="54.65" y2="441.78" stroke="#000" stroke-width="1.2"/>
<text x="51.75" y="445.08" font-size="8.5" text-anchor="end" textLength="12.599999999999998" lengthAdjust="spacingAndGlyphs">100</text>
<line x1="52.35" y1="417.26" x2="54.65" y2="417.26" stroke="#000" stroke-width="1.2"/>
<text x="51.75" y="420.56" font-size="8.5" text-anchor="end" textLength="12.599999999999998" lengthAdjust="spacingAndGlyphs">200</text>
<line x1="61.05" y1="466.30" x2="61.05" y2="468.50" stroke="#000" stroke-width="0.9"/>
<text transform="translate(65.15,475.40) rotate(-45)" font-size="8.4" text-anchor="end">CD34</text>
<line x1="70.42" y1="466.30" x2="70.42" y2="468.50" stroke="#000" stroke-width="0.9"/>
<text transform="translate(73.52,475.40) rotate(-45)" font-size="8.4" text-anchor="end">Pro</text>
<line x1="79.79" y1="466.30" x2="79.79" y2="468.50" stroke="#000" stroke-width="0.9"/>
<text transform="translate(81.39,475.40) rotate(-45)" font-size="8.4" text-anchor="end">Neu</text>
<line x1="89.16" y1="466.30" x2="89.16" y2="468.50" stroke="#000" stroke-width="0.9"/>
<text transform="translate(90.76,475.40) rotate(-45)" font-size="8.4" text-anchor="end">Mono</text>
<line x1="98.53" y1="466.30" x2="98.53" y2="468.50" stroke="#000" stroke-width="0.9"/>
<text transform="translate(100.13,475.40) rotate(-45)" font-size="8.4" text-anchor="end">M0</text>
<line x1="107.90" y1="466.30" x2="107.90" y2="468.50" stroke="#000" stroke-width="0.9"/>
<text transform="translate(109.50,475.40) rotate(-45)" font-size="8.4" text-anchor="end">M1</text>
<line x1="117.27" y1="466.30" x2="117.27" y2="468.50" stroke="#000" stroke-width="0.9"/>
<text transform="translate(118.87,475.40) rotate(-45)" font-size="8.4" text-anchor="end">M2</text>
<line x1="126.64" y1="466.30" x2="126.64" y2="468.50" stroke="#000" stroke-width="0.9"/>
<text transform="translate(128.24,475.40) rotate(-45)" font-size="8.4" text-anchor="end">M3</text>
<line x1="136.01" y1="466.30" x2="136.01" y2="468.50" stroke="#000" stroke-width="0.9"/>
<text transform="translate(137.61,475.40) rotate(-45)" font-size="8.4" text-anchor="end">M4</text>
<line x1="145.38" y1="466.30" x2="145.38" y2="468.50" stroke="#000" stroke-width="0.9"/>
<text transform="translate(146.98,475.40) rotate(-45)" font-size="8.4" text-anchor="end">M5</text>
<line x1="154.75" y1="466.30" x2="154.75" y2="468.50" stroke="#000" stroke-width="0.9"/>
<text transform="translate(156.35,475.40) rotate(-45)" font-size="8.4" text-anchor="end">M6</text>
<line x1="164.12" y1="466.30" x2="164.12" y2="468.50" stroke="#000" stroke-width="0.9"/>
<text transform="translate(165.72,475.40) rotate(-45)" font-size="8.4" text-anchor="end">M7</text>
<text transform="translate(24.40,463.40) rotate(-90)" font-size="10.4" textLength="59.3" lengthAdjust="spacingAndGlyphs" fill="#1a1a1a">Relative <tspan font-style="italic">CD177</tspan></text>
<text transform="translate(35.30,460.50) rotate(-90)" font-size="10.2" textLength="52.9" lengthAdjust="spacingAndGlyphs">RNA expression</text>
<text x="53.95" y="498.60" font-size="10.2" textLength="91.8" lengthAdjust="spacingAndGlyphs">Cell type / AML FAB subtype</text>
<rect x="234.67" y="405.80" width="9.2" height="64.20" fill="none" stroke="#1f45d0" stroke-width="1.25"/>
<rect x="290.89" y="405.80" width="9.2" height="64.20" fill="none" stroke="#1f45d0" stroke-width="1.25"/>
<line x1="238.87" y1="402.60" x2="296.49" y2="402.60" stroke="#2a2a2a" stroke-width="1.6"/>
<line x1="264.18" y1="398.05" x2="264.18" y2="401.15" stroke="#111" stroke-width="0.85"/>
<line x1="262.84" y1="398.82" x2="265.52" y2="400.37" stroke="#111" stroke-width="0.85"/>
<line x1="262.84" y1="400.37" x2="265.52" y2="398.82" stroke="#111" stroke-width="0.85"/>
<line x1="268.13" y1="398.05" x2="268.13" y2="401.15" stroke="#111" stroke-width="0.85"/>
<line x1="266.79" y1="398.82" x2="269.47" y2="400.37" stroke="#111" stroke-width="0.85"/>
<line x1="266.79" y1="400.37" x2="269.47" y2="398.82" stroke="#111" stroke-width="0.85"/>
<line x1="272.08" y1="398.05" x2="272.08" y2="401.15" stroke="#111" stroke-width="0.85"/>
<line x1="270.74" y1="398.82" x2="273.42" y2="400.37" stroke="#111" stroke-width="0.85"/>
<line x1="270.74" y1="400.37" x2="273.42" y2="398.82" stroke="#111" stroke-width="0.85"/>
<line x1="276.03" y1="398.05" x2="276.03" y2="401.15" stroke="#111" stroke-width="0.85"/>
<line x1="274.69" y1="398.82" x2="277.37" y2="400.37" stroke="#111" stroke-width="0.85"/>
<line x1="274.69" y1="400.37" x2="277.37" y2="398.82" stroke="#111" stroke-width="0.85"/>
<rect x="227.30" y="461.63" width="5.20" height="4.97" fill="#cc0014"/>
<line x1="229.90" y1="458.69" x2="229.90" y2="461.63" stroke="#000" stroke-width="0.9"/>
<line x1="228.20" y1="458.69" x2="231.60" y2="458.69" stroke="#000" stroke-width="1.0"/>
<circle cx="230.05" cy="460.46" r="0.95" fill="#000"/>
<circle cx="231.22" cy="462.25" r="0.95" fill="#000"/>
<circle cx="231.97" cy="462.29" r="0.95" fill="#000"/>
<rect x="236.67" y="423.16" width="5.20" height="43.44" fill="#cc0014"/>
<line x1="239.27" y1="408.04" x2="239.27" y2="423.16" stroke="#000" stroke-width="0.9"/>
<line x1="237.57" y1="408.04" x2="240.97" y2="408.04" stroke="#000" stroke-width="1.0"/>
<circle cx="239.62" cy="420.55" r="0.95" fill="#000"/>
<circle cx="238.18" cy="420.55" r="0.95" fill="#000"/>
<circle cx="239.88" cy="420.55" r="0.95" fill="#000"/>
<circle cx="238.59" cy="406.74" r="0.85" fill="#111"/>
<rect x="246.04" y="465.37" width="5.20" height="1.23" fill="#cc0014"/>
<circle cx="246.93" cy="465.22" r="0.95" fill="#000"/>
<circle cx="248.78" cy="465.22" r="0.95" fill="#000"/>
<circle cx="247.98" cy="465.74" r="0.95" fill="#000"/>
<circle cx="258.31" cy="466.45" r="0.95" fill="#000"/>
<circle cx="260.78" cy="466.60" r="0.95" fill="#000"/>
<circle cx="260.28" cy="466.60" r="0.95" fill="#000"/>
<rect x="264.78" y="466.14" width="5.20" height="0.46" fill="#cc0014"/>
<circle cx="266.13" cy="465.83" r="0.95" fill="#000"/>
<circle cx="269.06" cy="465.83" r="0.95" fill="#000"/>
<circle cx="268.27" cy="465.83" r="0.95" fill="#000"/>
<circle cx="267.71" cy="466.05" r="0.95" fill="#000"/>
<circle cx="267.78" cy="466.24" r="0.95" fill="#000"/>
<circle cx="267.29" cy="465.83" r="0.95" fill="#000"/>
<circle cx="265.42" cy="465.83" r="0.95" fill="#000"/>
<circle cx="265.51" cy="466.12" r="0.95" fill="#000"/>
<circle cx="267.76" cy="466.40" r="0.95" fill="#000"/>
<circle cx="266.71" cy="466.20" r="0.95" fill="#000"/>
<circle cx="267.13" cy="466.32" r="0.95" fill="#000"/>
<circle cx="267.18" cy="466.39" r="0.95" fill="#000"/>
<circle cx="265.81" cy="466.24" r="0.95" fill="#000"/>
<circle cx="265.02" cy="466.02" r="0.95" fill="#000"/>
<circle cx="267.78" cy="466.02" r="0.95" fill="#000"/>
<circle cx="267.60" cy="465.99" r="0.95" fill="#000"/>
<circle cx="267.09" cy="465.90" r="0.95" fill="#000"/>
<circle cx="267.92" cy="466.33" r="0.95" fill="#000"/>
<rect x="274.15" y="465.06" width="5.20" height="1.54" fill="#cc0014"/>
<line x1="276.75" y1="462.00" x2="276.75" y2="465.06" stroke="#000" stroke-width="0.9"/>
<line x1="275.05" y1="462.00" x2="278.45" y2="462.00" stroke="#000" stroke-width="1.0"/>
<circle cx="276.34" cy="453.71" r="0.95" fill="#000"/>
<circle cx="275.60" cy="464.94" r="0.95" fill="#000"/>
<circle cx="274.82" cy="464.04" r="0.95" fill="#000"/>
<circle cx="276.76" cy="463.72" r="0.95" fill="#000"/>
<circle cx="278.24" cy="462.95" r="0.95" fill="#000"/>
<circle cx="277.18" cy="464.41" r="0.95" fill="#000"/>
<circle cx="275.02" cy="464.94" r="0.95" fill="#000"/>
<circle cx="275.59" cy="465.41" r="0.95" fill="#000"/>
<circle cx="276.64" cy="465.50" r="0.95" fill="#000"/>
<circle cx="276.98" cy="465.54" r="0.95" fill="#000"/>
<circle cx="276.20" cy="465.22" r="0.95" fill="#000"/>
<circle cx="277.41" cy="464.70" r="0.95" fill="#000"/>
<circle cx="276.40" cy="465.80" r="0.95" fill="#000"/>
<circle cx="276.82" cy="459.89" r="0.95" fill="#000"/>
<circle cx="275.66" cy="464.63" r="0.95" fill="#000"/>
<circle cx="278.79" cy="464.05" r="0.95" fill="#000"/>
<circle cx="276.63" cy="464.51" r="0.95" fill="#000"/>
<circle cx="274.35" cy="465.01" r="0.95" fill="#000"/>
<circle cx="276.41" cy="464.50" r="0.95" fill="#000"/>
<circle cx="277.29" cy="464.69" r="0.95" fill="#000"/>
<circle cx="279.52" cy="464.86" r="0.95" fill="#000"/>
<circle cx="275.96" cy="464.12" r="0.95" fill="#000"/>
<circle cx="277.62" cy="464.48" r="0.95" fill="#000"/>
<circle cx="278.63" cy="465.00" r="0.95" fill="#000"/>
<circle cx="274.54" cy="465.29" r="0.95" fill="#000"/>
<circle cx="277.30" cy="465.68" r="0.95" fill="#000"/>
<circle cx="277.00" cy="465.64" r="0.95" fill="#000"/>
<circle cx="277.30" cy="465.86" r="0.95" fill="#000"/>
<circle cx="275.63" cy="465.22" r="0.95" fill="#000"/>
<circle cx="276.45" cy="465.41" r="0.95" fill="#000"/>
<circle cx="277.11" cy="464.13" r="0.95" fill="#000"/>
<circle cx="277.01" cy="465.19" r="0.95" fill="#000"/>
<circle cx="277.41" cy="464.16" r="0.95" fill="#000"/>
<circle cx="275.87" cy="462.86" r="0.95" fill="#000"/>
<circle cx="276.96" cy="464.24" r="0.95" fill="#000"/>
<circle cx="277.57" cy="465.45" r="0.95" fill="#000"/>
<circle cx="278.07" cy="464.23" r="0.95" fill="#000"/>
<circle cx="275.67" cy="464.61" r="0.95" fill="#000"/>
<circle cx="277.30" cy="464.89" r="0.95" fill="#000"/>
<circle cx="276.96" cy="463.02" r="0.95" fill="#000"/>
<circle cx="278.82" cy="464.91" r="0.95" fill="#000"/>
<circle cx="276.23" cy="464.98" r="0.95" fill="#000"/>
<circle cx="277.80" cy="464.79" r="0.95" fill="#000"/>
<circle cx="274.64" cy="464.91" r="0.95" fill="#000"/>
<circle cx="278.10" cy="465.32" r="0.95" fill="#000"/>
<circle cx="277.91" cy="465.51" r="0.95" fill="#000"/>
<circle cx="275.78" cy="464.89" r="0.95" fill="#000"/>
<circle cx="274.04" cy="464.27" r="0.95" fill="#000"/>
<circle cx="274.80" cy="466.05" r="0.95" fill="#000"/>
<circle cx="276.45" cy="464.56" r="0.95" fill="#000"/>
<circle cx="276.70" cy="464.46" r="0.95" fill="#000"/>
<circle cx="276.13" cy="464.93" r="0.95" fill="#000"/>
<circle cx="278.08" cy="465.31" r="0.95" fill="#000"/>
<circle cx="275.09" cy="464.31" r="0.95" fill="#000"/>
<circle cx="279.41" cy="464.52" r="0.95" fill="#000"/>
<rect x="283.52" y="464.30" width="5.20" height="2.30" fill="#cc0014"/>
<line x1="286.12" y1="461.23" x2="286.12" y2="464.30" stroke="#000" stroke-width="0.9"/>
<line x1="284.42" y1="461.23" x2="287.82" y2="461.23" stroke="#000" stroke-width="1.0"/>
<circle cx="284.96" cy="453.32" r="0.95" fill="#000"/>
<circle cx="286.45" cy="463.20" r="0.95" fill="#000"/>
<circle cx="287.43" cy="464.59" r="0.95" fill="#000"/>
<circle cx="285.50" cy="462.28" r="0.95" fill="#000"/>
<circle cx="285.67" cy="464.10" r="0.95" fill="#000"/>
<circle cx="288.23" cy="464.24" r="0.95" fill="#000"/>
<circle cx="286.91" cy="464.70" r="0.95" fill="#000"/>
<circle cx="286.28" cy="463.93" r="0.95" fill="#000"/>
<circle cx="286.98" cy="465.25" r="0.95" fill="#000"/>
<circle cx="287.11" cy="465.23" r="0.95" fill="#000"/>
<circle cx="286.35" cy="464.35" r="0.95" fill="#000"/>
<circle cx="285.07" cy="464.73" r="0.95" fill="#000"/>
<circle cx="286.19" cy="465.18" r="0.95" fill="#000"/>
<circle cx="286.54" cy="464.34" r="0.95" fill="#000"/>
<circle cx="287.17" cy="464.56" r="0.95" fill="#000"/>
<circle cx="286.33" cy="464.08" r="0.95" fill="#000"/>
<circle cx="286.15" cy="464.51" r="0.95" fill="#000"/>
<circle cx="285.27" cy="463.36" r="0.95" fill="#000"/>
<circle cx="286.67" cy="465.30" r="0.95" fill="#000"/>
<circle cx="286.21" cy="463.71" r="0.95" fill="#000"/>
<circle cx="284.50" cy="463.95" r="0.95" fill="#000"/>
<circle cx="286.17" cy="465.14" r="0.95" fill="#000"/>
<circle cx="284.58" cy="464.29" r="0.95" fill="#000"/>
<circle cx="283.74" cy="463.64" r="0.95" fill="#000"/>
<circle cx="284.83" cy="462.27" r="0.95" fill="#000"/>
<circle cx="284.84" cy="464.82" r="0.95" fill="#000"/>
<circle cx="285.76" cy="465.39" r="0.95" fill="#000"/>
<circle cx="285.74" cy="465.68" r="0.95" fill="#000"/>
<circle cx="285.79" cy="464.05" r="0.95" fill="#000"/>
<circle cx="284.32" cy="464.28" r="0.95" fill="#000"/>
<circle cx="284.47" cy="465.66" r="0.95" fill="#000"/>
<circle cx="286.57" cy="462.65" r="0.95" fill="#000"/>
<circle cx="288.35" cy="465.63" r="0.95" fill="#000"/>
<circle cx="287.56" cy="463.40" r="0.95" fill="#000"/>
<circle cx="287.83" cy="462.74" r="0.95" fill="#000"/>
<circle cx="286.27" cy="465.58" r="0.95" fill="#000"/>
<circle cx="288.64" cy="465.00" r="0.95" fill="#000"/>
<circle cx="286.16" cy="463.31" r="0.95" fill="#000"/>
<circle cx="283.46" cy="464.53" r="0.95" fill="#000"/>
<circle cx="285.09" cy="464.13" r="0.95" fill="#000"/>
<circle cx="287.12" cy="462.03" r="0.95" fill="#000"/>
<circle cx="285.66" cy="464.34" r="0.95" fill="#000"/>
<circle cx="285.49" cy="462.56" r="0.95" fill="#000"/>
<circle cx="286.43" cy="462.57" r="0.95" fill="#000"/>
<circle cx="286.64" cy="464.56" r="0.95" fill="#000"/>
<circle cx="284.12" cy="461.06" r="0.95" fill="#000"/>
<circle cx="287.11" cy="463.21" r="0.95" fill="#000"/>
<circle cx="288.04" cy="464.54" r="0.95" fill="#000"/>
<circle cx="286.87" cy="463.34" r="0.95" fill="#000"/>
<circle cx="286.91" cy="465.17" r="0.95" fill="#000"/>
<circle cx="286.81" cy="465.36" r="0.95" fill="#000"/>
<circle cx="285.02" cy="459.84" r="0.95" fill="#000"/>
<circle cx="284.78" cy="461.55" r="0.95" fill="#000"/>
<circle cx="287.08" cy="464.18" r="0.95" fill="#000"/>
<circle cx="286.59" cy="465.45" r="0.95" fill="#000"/>
<rect x="292.89" y="464.30" width="5.20" height="2.30" fill="#cc0014"/>
<line x1="295.49" y1="463.53" x2="295.49" y2="464.30" stroke="#000" stroke-width="0.9"/>
<line x1="293.79" y1="463.53" x2="297.19" y2="463.53" stroke="#000" stroke-width="1.0"/>
<circle cx="294.74" cy="463.25" r="0.95" fill="#000"/>
<circle cx="295.43" cy="463.25" r="0.95" fill="#000"/>
<circle cx="295.56" cy="463.74" r="0.95" fill="#000"/>
<circle cx="297.53" cy="463.78" r="0.95" fill="#000"/>
<circle cx="295.17" cy="464.11" r="0.95" fill="#000"/>
<circle cx="296.46" cy="464.23" r="0.95" fill="#000"/>
<circle cx="292.79" cy="463.66" r="0.95" fill="#000"/>
<circle cx="296.09" cy="464.34" r="0.95" fill="#000"/>
<circle cx="294.77" cy="463.25" r="0.95" fill="#000"/>
<circle cx="294.05" cy="464.55" r="0.95" fill="#000"/>
<circle cx="293.27" cy="464.34" r="0.95" fill="#000"/>
<circle cx="295.43" cy="465.05" r="0.95" fill="#000"/>
<circle cx="295.19" cy="465.49" r="0.95" fill="#000"/>
<circle cx="297.15" cy="464.93" r="0.95" fill="#000"/>
<circle cx="298.24" cy="463.25" r="0.95" fill="#000"/>
<circle cx="296.39" cy="464.09" r="0.95" fill="#000"/>
<circle cx="294.70" cy="463.25" r="0.95" fill="#000"/>
<circle cx="294.36" cy="463.25" r="0.95" fill="#000"/>
<circle cx="293.53" cy="463.25" r="0.95" fill="#000"/>
<circle cx="295.28" cy="464.68" r="0.95" fill="#000"/>
<circle cx="293.04" cy="464.53" r="0.95" fill="#000"/>
<circle cx="295.16" cy="464.11" r="0.95" fill="#000"/>
<circle cx="296.28" cy="463.25" r="0.95" fill="#000"/>
<circle cx="295.70" cy="465.80" r="0.95" fill="#000"/>
<circle cx="295.41" cy="463.25" r="0.95" fill="#000"/>
<rect x="302.26" y="465.06" width="5.20" height="1.54" fill="#cc0014"/>
<line x1="304.86" y1="462.76" x2="304.86" y2="465.06" stroke="#000" stroke-width="0.9"/>
<line x1="303.16" y1="462.76" x2="306.56" y2="462.76" stroke="#000" stroke-width="1.0"/>
<circle cx="303.14" cy="458.69" r="0.95" fill="#000"/>
<circle cx="303.69" cy="465.30" r="0.95" fill="#000"/>
<circle cx="304.49" cy="465.24" r="0.95" fill="#000"/>
<circle cx="303.64" cy="463.66" r="0.95" fill="#000"/>
<circle cx="303.49" cy="464.76" r="0.95" fill="#000"/>
<circle cx="306.23" cy="464.81" r="0.95" fill="#000"/>
<circle cx="303.37" cy="465.42" r="0.95" fill="#000"/>
<circle cx="304.93" cy="465.01" r="0.95" fill="#000"/>
<circle cx="305.44" cy="465.46" r="0.95" fill="#000"/>
<circle cx="305.77" cy="464.98" r="0.95" fill="#000"/>
<circle cx="305.87" cy="465.81" r="0.95" fill="#000"/>
<circle cx="303.84" cy="463.68" r="0.95" fill="#000"/>
<circle cx="305.20" cy="462.44" r="0.95" fill="#000"/>
<circle cx="303.53" cy="465.78" r="0.95" fill="#000"/>
<circle cx="304.06" cy="465.52" r="0.95" fill="#000"/>
<circle cx="305.28" cy="465.21" r="0.95" fill="#000"/>
<circle cx="304.49" cy="465.19" r="0.95" fill="#000"/>
<circle cx="302.26" cy="465.63" r="0.95" fill="#000"/>
<circle cx="303.32" cy="465.50" r="0.95" fill="#000"/>
<circle cx="301.96" cy="464.19" r="0.95" fill="#000"/>
<circle cx="301.96" cy="463.85" r="0.95" fill="#000"/>
<circle cx="304.92" cy="465.19" r="0.95" fill="#000"/>
<circle cx="303.64" cy="465.70" r="0.95" fill="#000"/>
<circle cx="303.50" cy="464.20" r="0.95" fill="#000"/>
<circle cx="304.96" cy="465.11" r="0.95" fill="#000"/>
<circle cx="303.27" cy="464.44" r="0.95" fill="#000"/>
<circle cx="304.70" cy="463.61" r="0.95" fill="#000"/>
<circle cx="303.07" cy="464.02" r="0.95" fill="#000"/>
<circle cx="304.78" cy="463.92" r="0.95" fill="#000"/>
<circle cx="304.07" cy="464.31" r="0.95" fill="#000"/>
<circle cx="304.94" cy="464.21" r="0.95" fill="#000"/>
<circle cx="307.76" cy="465.99" r="0.95" fill="#000"/>
<circle cx="305.50" cy="465.48" r="0.95" fill="#000"/>
<circle cx="304.31" cy="465.19" r="0.95" fill="#000"/>
<circle cx="306.08" cy="465.31" r="0.95" fill="#000"/>
<circle cx="306.10" cy="464.12" r="0.95" fill="#000"/>
<circle cx="305.95" cy="465.91" r="0.95" fill="#000"/>
<circle cx="307.76" cy="465.86" r="0.95" fill="#000"/>
<circle cx="306.37" cy="464.71" r="0.95" fill="#000"/>
<circle cx="305.08" cy="465.05" r="0.95" fill="#000"/>
<circle cx="307.48" cy="465.51" r="0.95" fill="#000"/>
<circle cx="306.31" cy="465.28" r="0.95" fill="#000"/>
<circle cx="304.71" cy="465.56" r="0.95" fill="#000"/>
<circle cx="304.76" cy="465.32" r="0.95" fill="#000"/>
<circle cx="305.72" cy="465.39" r="0.95" fill="#000"/>
<circle cx="302.82" cy="464.44" r="0.95" fill="#000"/>
<circle cx="303.20" cy="465.35" r="0.95" fill="#000"/>
<circle cx="303.27" cy="463.94" r="0.95" fill="#000"/>
<rect x="311.63" y="465.99" width="5.20" height="0.61" fill="#cc0014"/>
<circle cx="314.46" cy="464.76" r="0.95" fill="#000"/>
<circle cx="311.74" cy="465.99" r="0.95" fill="#000"/>
<circle cx="314.08" cy="465.15" r="0.95" fill="#000"/>
<circle cx="315.64" cy="465.73" r="0.95" fill="#000"/>
<circle cx="312.98" cy="466.22" r="0.95" fill="#000"/>
<circle cx="316.79" cy="465.13" r="0.95" fill="#000"/>
<circle cx="314.16" cy="466.19" r="0.95" fill="#000"/>
<circle cx="314.08" cy="465.60" r="0.95" fill="#000"/>
<circle cx="315.05" cy="465.40" r="0.95" fill="#000"/>
<circle cx="315.14" cy="466.00" r="0.95" fill="#000"/>
<circle cx="315.91" cy="466.11" r="0.95" fill="#000"/>
<circle cx="315.97" cy="466.15" r="0.95" fill="#000"/>
<circle cx="312.00" cy="464.76" r="0.95" fill="#000"/>
<circle cx="312.35" cy="465.14" r="0.95" fill="#000"/>
<circle cx="316.65" cy="466.00" r="0.95" fill="#000"/>
<circle cx="315.15" cy="465.53" r="0.95" fill="#000"/>
<circle cx="314.50" cy="465.85" r="0.95" fill="#000"/>
<circle cx="314.02" cy="465.81" r="0.95" fill="#000"/>
<rect x="321.00" y="466.29" width="5.20" height="0.31" fill="#cc0014"/>
<circle cx="322.04" cy="465.99" r="0.95" fill="#000"/>
<circle cx="323.62" cy="465.99" r="0.95" fill="#000"/>
<circle cx="324.61" cy="465.99" r="0.95" fill="#000"/>
<rect x="330.37" y="462.30" width="5.20" height="4.30" fill="#cc0014"/>
<line x1="332.97" y1="454.93" x2="332.97" y2="462.30" stroke="#000" stroke-width="0.9"/>
<line x1="331.27" y1="454.93" x2="334.67" y2="454.93" stroke="#000" stroke-width="1.0"/>
<circle cx="331.59" cy="455.86" r="0.95" fill="#000"/>
<circle cx="333.07" cy="462.76" r="0.95" fill="#000"/>
<circle cx="332.62" cy="462.49" r="0.95" fill="#000"/>
<line x1="223.50" y1="405.20" x2="223.50" y2="467.40" stroke="#000" stroke-width="1.8"/>
<line x1="222.60" y1="466.60" x2="339.80" y2="466.60" stroke="#000" stroke-width="1.6"/>
<line x1="221.20" y1="466.60" x2="223.50" y2="466.60" stroke="#000" stroke-width="1.2"/>
<text x="220.60" y="469.90" font-size="8.5" text-anchor="end" textLength="4.0" lengthAdjust="spacingAndGlyphs">0</text>
<line x1="221.20" y1="451.25" x2="223.50" y2="451.25" stroke="#000" stroke-width="1.2"/>
<text x="220.60" y="454.55" font-size="8.5" text-anchor="end" textLength="16.9" lengthAdjust="spacingAndGlyphs">1000</text>
<line x1="221.20" y1="435.90" x2="223.50" y2="435.90" stroke="#000" stroke-width="1.2"/>
<text x="220.60" y="439.20" font-size="8.5" text-anchor="end" textLength="16.9" lengthAdjust="spacingAndGlyphs">2000</text>
<line x1="221.20" y1="420.55" x2="223.50" y2="420.55" stroke="#000" stroke-width="1.2"/>
<text x="220.60" y="423.85" font-size="8.5" text-anchor="end" textLength="16.9" lengthAdjust="spacingAndGlyphs">3000</text>
<line x1="221.20" y1="405.20" x2="223.50" y2="405.20" stroke="#000" stroke-width="1.2"/>
<text x="220.60" y="408.50" font-size="8.5" text-anchor="end" textLength="16.9" lengthAdjust="spacingAndGlyphs">4000</text>
<line x1="229.90" y1="466.60" x2="229.90" y2="468.80" stroke="#000" stroke-width="0.9"/>
<text transform="translate(234.00,475.70) rotate(-45)" font-size="8.4" text-anchor="end">CD34</text>
<line x1="239.27" y1="466.60" x2="239.27" y2="468.80" stroke="#000" stroke-width="0.9"/>
<text transform="translate(242.37,475.70) rotate(-45)" font-size="8.4" text-anchor="end">Pro</text>
<line x1="248.64" y1="466.60" x2="248.64" y2="468.80" stroke="#000" stroke-width="0.9"/>
<text transform="translate(250.24,475.70) rotate(-45)" font-size="8.4" text-anchor="end">Neu</text>
<line x1="258.01" y1="466.60" x2="258.01" y2="468.80" stroke="#000" stroke-width="0.9"/>
<text transform="translate(259.61,475.70) rotate(-45)" font-size="8.4" text-anchor="end">Mono</text>
<line x1="267.38" y1="466.60" x2="267.38" y2="468.80" stroke="#000" stroke-width="0.9"/>
<text transform="translate(268.98,475.70) rotate(-45)" font-size="8.4" text-anchor="end">M0</text>
<line x1="276.75" y1="466.60" x2="276.75" y2="468.80" stroke="#000" stroke-width="0.9"/>
<text transform="translate(278.35,475.70) rotate(-45)" font-size="8.4" text-anchor="end">M1</text>
<line x1="286.12" y1="466.60" x2="286.12" y2="468.80" stroke="#000" stroke-width="0.9"/>
<text transform="translate(287.72,475.70) rotate(-45)" font-size="8.4" text-anchor="end">M2</text>
<line x1="295.49" y1="466.60" x2="295.49" y2="468.80" stroke="#000" stroke-width="0.9"/>
<text transform="translate(297.09,475.70) rotate(-45)" font-size="8.4" text-anchor="end">M3</text>
<line x1="304.86" y1="466.60" x2="304.86" y2="468.80" stroke="#000" stroke-width="0.9"/>
<text transform="translate(306.46,475.70) rotate(-45)" font-size="8.4" text-anchor="end">M4</text>
<line x1="314.23" y1="466.60" x2="314.23" y2="468.80" stroke="#000" stroke-width="0.9"/>
<text transform="translate(315.83,475.70) rotate(-45)" font-size="8.4" text-anchor="end">M5</text>
<line x1="323.60" y1="466.60" x2="323.60" y2="468.80" stroke="#000" stroke-width="0.9"/>
<text transform="translate(325.20,475.70) rotate(-45)" font-size="8.4" text-anchor="end">M6</text>
<line x1="332.97" y1="466.60" x2="332.97" y2="468.80" stroke="#000" stroke-width="0.9"/>
<text transform="translate(334.57,475.70) rotate(-45)" font-size="8.4" text-anchor="end">M7</text>
<text transform="translate(188.30,464.00) rotate(-90)" font-size="10.4" textLength="59.9" lengthAdjust="spacingAndGlyphs" fill="#1a1a1a">Relative <tspan font-style="italic">PRTN3</tspan></text>
<text transform="translate(198.00,461.40) rotate(-90)" font-size="10.2" textLength="53.0" lengthAdjust="spacingAndGlyphs">RNA expression</text>
<text x="227.20" y="498.60" font-size="10.2" textLength="91.8" lengthAdjust="spacingAndGlyphs">Cell type / AML FAB subtype</text>
<rect x="407.77" y="405.20" width="9.2" height="64.30" fill="none" stroke="#1f45d0" stroke-width="1.25"/>
<rect x="463.99" y="405.20" width="9.2" height="64.30" fill="none" stroke="#1f45d0" stroke-width="1.25"/>
<line x1="411.97" y1="402.00" x2="469.59" y2="402.00" stroke="#2a2a2a" stroke-width="1.6"/>
<line x1="437.28" y1="397.45" x2="437.28" y2="400.55" stroke="#111" stroke-width="0.85"/>
<line x1="435.94" y1="398.23" x2="438.62" y2="399.77" stroke="#111" stroke-width="0.85"/>
<line x1="435.94" y1="399.77" x2="438.62" y2="398.23" stroke="#111" stroke-width="0.85"/>
<line x1="441.23" y1="397.45" x2="441.23" y2="400.55" stroke="#111" stroke-width="0.85"/>
<line x1="439.89" y1="398.23" x2="442.57" y2="399.77" stroke="#111" stroke-width="0.85"/>
<line x1="439.89" y1="399.77" x2="442.57" y2="398.23" stroke="#111" stroke-width="0.85"/>
<line x1="445.18" y1="397.45" x2="445.18" y2="400.55" stroke="#111" stroke-width="0.85"/>
<line x1="443.84" y1="398.23" x2="446.52" y2="399.77" stroke="#111" stroke-width="0.85"/>
<line x1="443.84" y1="399.77" x2="446.52" y2="398.23" stroke="#111" stroke-width="0.85"/>
<line x1="449.13" y1="397.45" x2="449.13" y2="400.55" stroke="#111" stroke-width="0.85"/>
<line x1="447.79" y1="398.23" x2="450.47" y2="399.77" stroke="#111" stroke-width="0.85"/>
<line x1="447.79" y1="399.77" x2="450.47" y2="398.23" stroke="#111" stroke-width="0.85"/>
<rect x="400.40" y="463.87" width="5.20" height="2.23" fill="#cc0014"/>
<line x1="403.00" y1="462.26" x2="403.00" y2="463.87" stroke="#000" stroke-width="0.9"/>
<line x1="401.30" y1="462.26" x2="404.70" y2="462.26" stroke="#000" stroke-width="1.0"/>
<circle cx="402.52" cy="461.18" r="0.95" fill="#000"/>
<circle cx="402.42" cy="464.10" r="0.95" fill="#000"/>
<circle cx="401.01" cy="464.16" r="0.95" fill="#000"/>
<rect x="409.77" y="420.97" width="5.20" height="45.13" fill="#cc0014"/>
<line x1="412.37" y1="412.29" x2="412.37" y2="420.97" stroke="#000" stroke-width="0.9"/>
<line x1="410.67" y1="412.29" x2="414.07" y2="412.29" stroke="#000" stroke-width="1.0"/>
<circle cx="414.33" cy="418.44" r="0.95" fill="#000"/>
<circle cx="411.73" cy="437.46" r="0.95" fill="#000"/>
<circle cx="412.20" cy="435.74" r="0.95" fill="#000"/>
<rect x="419.14" y="465.49" width="5.20" height="0.61" fill="#cc0014"/>
<circle cx="424.39" cy="465.18" r="0.95" fill="#000"/>
<circle cx="423.55" cy="465.73" r="0.95" fill="#000"/>
<circle cx="422.37" cy="465.61" r="0.95" fill="#000"/>
<circle cx="431.14" cy="466.02" r="0.95" fill="#000"/>
<circle cx="428.21" cy="466.10" r="0.95" fill="#000"/>
<circle cx="430.86" cy="466.10" r="0.95" fill="#000"/>
<rect x="437.88" y="465.95" width="5.20" height="0.15" fill="#cc0014"/>
<circle cx="440.83" cy="465.79" r="0.95" fill="#000"/>
<circle cx="439.30" cy="466.01" r="0.95" fill="#000"/>
<circle cx="440.18" cy="465.87" r="0.95" fill="#000"/>
<circle cx="441.39" cy="465.94" r="0.95" fill="#000"/>
<circle cx="440.73" cy="465.93" r="0.95" fill="#000"/>
<circle cx="440.53" cy="466.01" r="0.95" fill="#000"/>
<circle cx="442.84" cy="466.03" r="0.95" fill="#000"/>
<circle cx="442.72" cy="465.99" r="0.95" fill="#000"/>
<circle cx="440.36" cy="465.98" r="0.95" fill="#000"/>
<circle cx="440.81" cy="465.80" r="0.95" fill="#000"/>
<circle cx="440.18" cy="465.93" r="0.95" fill="#000"/>
<circle cx="439.58" cy="465.96" r="0.95" fill="#000"/>
<circle cx="438.21" cy="465.99" r="0.95" fill="#000"/>
<circle cx="439.52" cy="465.95" r="0.95" fill="#000"/>
<circle cx="443.30" cy="465.79" r="0.95" fill="#000"/>
<circle cx="438.99" cy="465.79" r="0.95" fill="#000"/>
<circle cx="440.37" cy="465.97" r="0.95" fill="#000"/>
<circle cx="442.57" cy="466.03" r="0.95" fill="#000"/>
<rect x="447.25" y="465.33" width="5.20" height="0.77" fill="#cc0014"/>
<line x1="449.85" y1="463.79" x2="449.85" y2="465.33" stroke="#000" stroke-width="0.9"/>
<line x1="448.15" y1="463.79" x2="451.55" y2="463.79" stroke="#000" stroke-width="1.0"/>
<circle cx="450.29" cy="460.41" r="0.95" fill="#000"/>
<circle cx="450.55" cy="464.02" r="0.95" fill="#000"/>
<circle cx="450.28" cy="465.42" r="0.95" fill="#000"/>
<circle cx="450.54" cy="465.48" r="0.95" fill="#000"/>
<circle cx="450.58" cy="465.69" r="0.95" fill="#000"/>
<circle cx="449.36" cy="465.42" r="0.95" fill="#000"/>
<circle cx="449.76" cy="465.45" r="0.95" fill="#000"/>
<circle cx="450.70" cy="465.77" r="0.95" fill="#000"/>
<circle cx="452.26" cy="465.39" r="0.95" fill="#000"/>
<circle cx="451.15" cy="465.32" r="0.95" fill="#000"/>
<circle cx="449.74" cy="465.32" r="0.95" fill="#000"/>
<circle cx="449.31" cy="465.67" r="0.95" fill="#000"/>
<circle cx="446.95" cy="465.51" r="0.95" fill="#000"/>
<circle cx="448.98" cy="465.42" r="0.95" fill="#000"/>
<circle cx="451.26" cy="465.18" r="0.95" fill="#000"/>
<circle cx="451.47" cy="465.42" r="0.95" fill="#000"/>
<circle cx="450.92" cy="464.63" r="0.95" fill="#000"/>
<circle cx="450.06" cy="465.43" r="0.95" fill="#000"/>
<circle cx="451.94" cy="464.30" r="0.95" fill="#000"/>
<circle cx="447.67" cy="464.70" r="0.95" fill="#000"/>
<circle cx="452.24" cy="465.85" r="0.95" fill="#000"/>
<circle cx="451.68" cy="464.97" r="0.95" fill="#000"/>
<circle cx="449.53" cy="465.04" r="0.95" fill="#000"/>
<circle cx="449.87" cy="465.10" r="0.95" fill="#000"/>
<circle cx="451.03" cy="464.42" r="0.95" fill="#000"/>
<circle cx="448.94" cy="465.61" r="0.95" fill="#000"/>
<circle cx="451.08" cy="464.78" r="0.95" fill="#000"/>
<circle cx="450.38" cy="465.18" r="0.95" fill="#000"/>
<circle cx="448.81" cy="465.68" r="0.95" fill="#000"/>
<circle cx="447.54" cy="465.07" r="0.95" fill="#000"/>
<circle cx="450.69" cy="465.09" r="0.95" fill="#000"/>
<circle cx="451.04" cy="465.00" r="0.95" fill="#000"/>
<circle cx="450.31" cy="464.03" r="0.95" fill="#000"/>
<circle cx="447.70" cy="465.57" r="0.95" fill="#000"/>
<circle cx="450.06" cy="465.84" r="0.95" fill="#000"/>
<circle cx="447.75" cy="464.86" r="0.95" fill="#000"/>
<circle cx="449.00" cy="465.23" r="0.95" fill="#000"/>
<circle cx="450.22" cy="465.40" r="0.95" fill="#000"/>
<circle cx="448.38" cy="465.29" r="0.95" fill="#000"/>
<circle cx="449.76" cy="464.94" r="0.95" fill="#000"/>
<circle cx="450.94" cy="465.79" r="0.95" fill="#000"/>
<circle cx="449.43" cy="464.35" r="0.95" fill="#000"/>
<circle cx="447.87" cy="464.32" r="0.95" fill="#000"/>
<circle cx="451.63" cy="465.40" r="0.95" fill="#000"/>
<circle cx="450.61" cy="464.56" r="0.95" fill="#000"/>
<circle cx="449.40" cy="464.74" r="0.95" fill="#000"/>
<circle cx="451.19" cy="464.96" r="0.95" fill="#000"/>
<circle cx="450.43" cy="464.82" r="0.95" fill="#000"/>
<circle cx="450.50" cy="464.89" r="0.95" fill="#000"/>
<circle cx="447.91" cy="465.02" r="0.95" fill="#000"/>
<circle cx="448.71" cy="465.03" r="0.95" fill="#000"/>
<circle cx="450.01" cy="465.44" r="0.95" fill="#000"/>
<circle cx="448.21" cy="465.20" r="0.95" fill="#000"/>
<circle cx="450.25" cy="465.49" r="0.95" fill="#000"/>
<circle cx="449.97" cy="465.45" r="0.95" fill="#000"/>
<rect x="456.62" y="464.87" width="5.20" height="1.23" fill="#cc0014"/>
<line x1="459.22" y1="463.03" x2="459.22" y2="464.87" stroke="#000" stroke-width="0.9"/>
<line x1="457.52" y1="463.03" x2="460.92" y2="463.03" stroke="#000" stroke-width="1.0"/>
<circle cx="459.58" cy="458.11" r="0.95" fill="#000"/>
<circle cx="459.54" cy="465.13" r="0.95" fill="#000"/>
<circle cx="457.64" cy="464.41" r="0.95" fill="#000"/>
<circle cx="457.99" cy="464.22" r="0.95" fill="#000"/>
<circle cx="460.10" cy="464.57" r="0.95" fill="#000"/>
<circle cx="457.76" cy="464.35" r="0.95" fill="#000"/>
<circle cx="457.76" cy="465.30" r="0.95" fill="#000"/>
<circle cx="459.48" cy="464.41" r="0.95" fill="#000"/>
<circle cx="460.27" cy="465.59" r="0.95" fill="#000"/>
<circle cx="458.62" cy="463.80" r="0.95" fill="#000"/>
<circle cx="459.62" cy="464.88" r="0.95" fill="#000"/>
<circle cx="458.74" cy="465.34" r="0.95" fill="#000"/>
<circle cx="458.85" cy="464.43" r="0.95" fill="#000"/>
<circle cx="459.44" cy="464.84" r="0.95" fill="#000"/>
<circle cx="459.64" cy="463.10" r="0.95" fill="#000"/>
<circle cx="458.68" cy="464.60" r="0.95" fill="#000"/>
<circle cx="459.38" cy="463.74" r="0.95" fill="#000"/>
<circle cx="461.01" cy="464.85" r="0.95" fill="#000"/>
<circle cx="458.09" cy="463.61" r="0.95" fill="#000"/>
<circle cx="460.96" cy="465.02" r="0.95" fill="#000"/>
<circle cx="461.35" cy="465.10" r="0.95" fill="#000"/>
<circle cx="461.84" cy="464.93" r="0.95" fill="#000"/>
<circle cx="456.75" cy="465.32" r="0.95" fill="#000"/>
<circle cx="461.88" cy="465.49" r="0.95" fill="#000"/>
<circle cx="458.72" cy="465.22" r="0.95" fill="#000"/>
<circle cx="458.33" cy="465.15" r="0.95" fill="#000"/>
<circle cx="459.46" cy="464.73" r="0.95" fill="#000"/>
<circle cx="458.60" cy="465.18" r="0.95" fill="#000"/>
<circle cx="460.54" cy="463.62" r="0.95" fill="#000"/>
<circle cx="460.92" cy="464.02" r="0.95" fill="#000"/>
<circle cx="460.44" cy="464.95" r="0.95" fill="#000"/>
<circle cx="458.22" cy="463.20" r="0.95" fill="#000"/>
<circle cx="456.32" cy="463.60" r="0.95" fill="#000"/>
<circle cx="457.38" cy="465.61" r="0.95" fill="#000"/>
<circle cx="458.02" cy="465.33" r="0.95" fill="#000"/>
<circle cx="460.36" cy="465.11" r="0.95" fill="#000"/>
<circle cx="458.80" cy="465.23" r="0.95" fill="#000"/>
<circle cx="457.20" cy="465.44" r="0.95" fill="#000"/>
<circle cx="458.31" cy="464.95" r="0.95" fill="#000"/>
<circle cx="459.44" cy="464.13" r="0.95" fill="#000"/>
<circle cx="460.23" cy="465.59" r="0.95" fill="#000"/>
<circle cx="458.76" cy="465.41" r="0.95" fill="#000"/>
<circle cx="458.20" cy="465.35" r="0.95" fill="#000"/>
<circle cx="457.73" cy="465.17" r="0.95" fill="#000"/>
<circle cx="458.91" cy="465.23" r="0.95" fill="#000"/>
<circle cx="460.20" cy="464.29" r="0.95" fill="#000"/>
<circle cx="457.16" cy="463.03" r="0.95" fill="#000"/>
<circle cx="460.86" cy="465.07" r="0.95" fill="#000"/>
<circle cx="459.06" cy="465.39" r="0.95" fill="#000"/>
<circle cx="461.28" cy="464.29" r="0.95" fill="#000"/>
<circle cx="459.70" cy="464.42" r="0.95" fill="#000"/>
<circle cx="460.08" cy="464.94" r="0.95" fill="#000"/>
<circle cx="459.72" cy="464.78" r="0.95" fill="#000"/>
<circle cx="459.10" cy="465.19" r="0.95" fill="#000"/>
<circle cx="457.85" cy="465.29" r="0.95" fill="#000"/>
<rect x="465.99" y="453.95" width="5.20" height="12.15" fill="#cc0014"/>
<line x1="468.59" y1="445.34" x2="468.59" y2="453.95" stroke="#000" stroke-width="0.9"/>
<line x1="466.89" y1="445.34" x2="470.29" y2="445.34" stroke="#000" stroke-width="1.0"/>
<circle cx="467.54" cy="446.11" r="0.95" fill="#000"/>
<circle cx="467.88" cy="457.27" r="0.95" fill="#000"/>
<circle cx="469.04" cy="460.33" r="0.95" fill="#000"/>
<circle cx="470.65" cy="451.62" r="0.95" fill="#000"/>
<circle cx="466.79" cy="462.31" r="0.95" fill="#000"/>
<circle cx="467.50" cy="458.51" r="0.95" fill="#000"/>
<circle cx="467.52" cy="453.37" r="0.95" fill="#000"/>
<circle cx="469.58" cy="457.71" r="0.95" fill="#000"/>
<circle cx="466.53" cy="454.86" r="0.95" fill="#000"/>
<circle cx="471.49" cy="446.25" r="0.95" fill="#000"/>
<circle cx="468.42" cy="446.11" r="0.95" fill="#000"/>
<circle cx="468.54" cy="446.11" r="0.95" fill="#000"/>
<circle cx="468.41" cy="429.51" r="0.85" fill="#111"/>
<rect x="475.36" y="465.18" width="5.20" height="0.92" fill="#cc0014"/>
<line x1="477.96" y1="463.79" x2="477.96" y2="465.18" stroke="#000" stroke-width="0.9"/>
<line x1="476.26" y1="463.79" x2="479.66" y2="463.79" stroke="#000" stroke-width="1.0"/>
<circle cx="478.09" cy="459.95" r="0.95" fill="#000"/>
<circle cx="476.84" cy="465.63" r="0.95" fill="#000"/>
<circle cx="476.45" cy="465.62" r="0.95" fill="#000"/>
<circle cx="478.80" cy="465.67" r="0.95" fill="#000"/>
<circle cx="476.84" cy="465.57" r="0.95" fill="#000"/>
<circle cx="477.38" cy="465.65" r="0.95" fill="#000"/>
<circle cx="477.75" cy="465.35" r="0.95" fill="#000"/>
<circle cx="476.15" cy="465.45" r="0.95" fill="#000"/>
<circle cx="479.47" cy="465.82" r="0.95" fill="#000"/>
<circle cx="478.05" cy="465.42" r="0.95" fill="#000"/>
<circle cx="477.87" cy="465.52" r="0.95" fill="#000"/>
<circle cx="480.31" cy="464.53" r="0.95" fill="#000"/>
<circle cx="479.80" cy="464.79" r="0.95" fill="#000"/>
<circle cx="479.33" cy="464.87" r="0.95" fill="#000"/>
<circle cx="477.95" cy="464.96" r="0.95" fill="#000"/>
<circle cx="477.85" cy="465.15" r="0.95" fill="#000"/>
<circle cx="477.56" cy="463.38" r="0.95" fill="#000"/>
<circle cx="478.55" cy="465.63" r="0.95" fill="#000"/>
<circle cx="478.15" cy="465.41" r="0.95" fill="#000"/>
<circle cx="479.06" cy="465.44" r="0.95" fill="#000"/>
<circle cx="477.49" cy="465.01" r="0.95" fill="#000"/>
<circle cx="477.60" cy="465.57" r="0.95" fill="#000"/>
<circle cx="477.21" cy="465.70" r="0.95" fill="#000"/>
<circle cx="477.29" cy="465.46" r="0.95" fill="#000"/>
<circle cx="477.47" cy="464.34" r="0.95" fill="#000"/>
<circle cx="479.58" cy="465.25" r="0.95" fill="#000"/>
<circle cx="477.66" cy="465.08" r="0.95" fill="#000"/>
<circle cx="476.76" cy="465.45" r="0.95" fill="#000"/>
<circle cx="478.70" cy="465.24" r="0.95" fill="#000"/>
<circle cx="479.35" cy="465.12" r="0.95" fill="#000"/>
<circle cx="478.79" cy="465.59" r="0.95" fill="#000"/>
<circle cx="479.75" cy="465.26" r="0.95" fill="#000"/>
<circle cx="478.35" cy="465.72" r="0.95" fill="#000"/>
<circle cx="477.06" cy="465.06" r="0.95" fill="#000"/>
<circle cx="477.72" cy="464.38" r="0.95" fill="#000"/>
<circle cx="478.82" cy="465.34" r="0.95" fill="#000"/>
<circle cx="476.60" cy="465.29" r="0.95" fill="#000"/>
<circle cx="477.05" cy="465.31" r="0.95" fill="#000"/>
<circle cx="477.18" cy="464.92" r="0.95" fill="#000"/>
<circle cx="476.94" cy="464.77" r="0.95" fill="#000"/>
<circle cx="478.95" cy="465.56" r="0.95" fill="#000"/>
<circle cx="477.73" cy="465.61" r="0.95" fill="#000"/>
<circle cx="476.78" cy="465.80" r="0.95" fill="#000"/>
<circle cx="477.39" cy="465.19" r="0.95" fill="#000"/>
<circle cx="477.94" cy="465.09" r="0.95" fill="#000"/>
<circle cx="478.74" cy="463.89" r="0.95" fill="#000"/>
<circle cx="478.27" cy="465.20" r="0.95" fill="#000"/>
<circle cx="479.32" cy="464.90" r="0.95" fill="#000"/>
<rect x="484.73" y="465.49" width="5.20" height="0.61" fill="#cc0014"/>
<line x1="487.33" y1="464.56" x2="487.33" y2="465.49" stroke="#000" stroke-width="0.9"/>
<line x1="485.63" y1="464.56" x2="489.03" y2="464.56" stroke="#000" stroke-width="1.0"/>
<circle cx="487.11" cy="457.34" r="0.95" fill="#000"/>
<circle cx="487.51" cy="465.46" r="0.95" fill="#000"/>
<circle cx="487.70" cy="465.17" r="0.95" fill="#000"/>
<circle cx="487.52" cy="465.93" r="0.95" fill="#000"/>
<circle cx="485.28" cy="465.76" r="0.95" fill="#000"/>
<circle cx="485.79" cy="465.86" r="0.95" fill="#000"/>
<circle cx="486.48" cy="465.58" r="0.95" fill="#000"/>
<circle cx="488.40" cy="465.69" r="0.95" fill="#000"/>
<circle cx="489.21" cy="464.62" r="0.95" fill="#000"/>
<circle cx="487.42" cy="465.66" r="0.95" fill="#000"/>
<circle cx="487.45" cy="465.85" r="0.95" fill="#000"/>
<circle cx="489.04" cy="465.54" r="0.95" fill="#000"/>
<circle cx="487.86" cy="465.26" r="0.95" fill="#000"/>
<circle cx="488.75" cy="465.33" r="0.95" fill="#000"/>
<circle cx="486.47" cy="465.56" r="0.95" fill="#000"/>
<circle cx="485.73" cy="465.62" r="0.95" fill="#000"/>
<circle cx="484.43" cy="465.48" r="0.95" fill="#000"/>
<circle cx="490.23" cy="465.83" r="0.95" fill="#000"/>
<rect x="494.10" y="465.95" width="5.20" height="0.15" fill="#cc0014"/>
<circle cx="497.13" cy="465.79" r="0.95" fill="#000"/>
<circle cx="497.19" cy="465.93" r="0.95" fill="#000"/>
<circle cx="496.22" cy="465.97" r="0.95" fill="#000"/>
<rect x="503.47" y="465.79" width="5.20" height="0.31" fill="#cc0014"/>
<circle cx="506.19" cy="465.64" r="0.95" fill="#000"/>
<circle cx="505.84" cy="465.88" r="0.95" fill="#000"/>
<circle cx="508.28" cy="465.81" r="0.95" fill="#000"/>
<line x1="396.60" y1="404.60" x2="396.60" y2="466.90" stroke="#000" stroke-width="1.8"/>
<line x1="395.70" y1="466.10" x2="512.90" y2="466.10" stroke="#000" stroke-width="1.6"/>
<line x1="394.30" y1="466.10" x2="396.60" y2="466.10" stroke="#000" stroke-width="1.2"/>
<text x="393.70" y="469.40" font-size="8.5" text-anchor="end" textLength="4.0" lengthAdjust="spacingAndGlyphs">0</text>
<line x1="394.30" y1="450.73" x2="396.60" y2="450.73" stroke="#000" stroke-width="1.2"/>
<text x="393.70" y="454.03" font-size="8.5" text-anchor="end" textLength="16.9" lengthAdjust="spacingAndGlyphs">1000</text>
<line x1="394.30" y1="435.35" x2="396.60" y2="435.35" stroke="#000" stroke-width="1.2"/>
<text x="393.70" y="438.65" font-size="8.5" text-anchor="end" textLength="16.9" lengthAdjust="spacingAndGlyphs">2000</text>
<line x1="394.30" y1="419.98" x2="396.60" y2="419.98" stroke="#000" stroke-width="1.2"/>
<text x="393.70" y="423.28" font-size="8.5" text-anchor="end" textLength="16.9" lengthAdjust="spacingAndGlyphs">3000</text>
<line x1="394.30" y1="404.60" x2="396.60" y2="404.60" stroke="#000" stroke-width="1.2"/>
<text x="393.70" y="407.90" font-size="8.5" text-anchor="end" textLength="16.9" lengthAdjust="spacingAndGlyphs">4000</text>
<line x1="403.00" y1="466.10" x2="403.00" y2="468.30" stroke="#000" stroke-width="0.9"/>
<text transform="translate(407.10,475.20) rotate(-45)" font-size="8.4" text-anchor="end">CD34</text>
<line x1="412.37" y1="466.10" x2="412.37" y2="468.30" stroke="#000" stroke-width="0.9"/>
<text transform="translate(415.47,475.20) rotate(-45)" font-size="8.4" text-anchor="end">Pro</text>
<line x1="421.74" y1="466.10" x2="421.74" y2="468.30" stroke="#000" stroke-width="0.9"/>
<text transform="translate(423.34,475.20) rotate(-45)" font-size="8.4" text-anchor="end">Neu</text>
<line x1="431.11" y1="466.10" x2="431.11" y2="468.30" stroke="#000" stroke-width="0.9"/>
<text transform="translate(432.71,475.20) rotate(-45)" font-size="8.4" text-anchor="end">Mono</text>
<line x1="440.48" y1="466.10" x2="440.48" y2="468.30" stroke="#000" stroke-width="0.9"/>
<text transform="translate(442.08,475.20) rotate(-45)" font-size="8.4" text-anchor="end">M0</text>
<line x1="449.85" y1="466.10" x2="449.85" y2="468.30" stroke="#000" stroke-width="0.9"/>
<text transform="translate(451.45,475.20) rotate(-45)" font-size="8.4" text-anchor="end">M1</text>
<line x1="459.22" y1="466.10" x2="459.22" y2="468.30" stroke="#000" stroke-width="0.9"/>
<text transform="translate(460.82,475.20) rotate(-45)" font-size="8.4" text-anchor="end">M2</text>
<line x1="468.59" y1="466.10" x2="468.59" y2="468.30" stroke="#000" stroke-width="0.9"/>
<text transform="translate(470.19,475.20) rotate(-45)" font-size="8.4" text-anchor="end">M3</text>
<line x1="477.96" y1="466.10" x2="477.96" y2="468.30" stroke="#000" stroke-width="0.9"/>
<text transform="translate(479.56,475.20) rotate(-45)" font-size="8.4" text-anchor="end">M4</text>
<line x1="487.33" y1="466.10" x2="487.33" y2="468.30" stroke="#000" stroke-width="0.9"/>
<text transform="translate(488.93,475.20) rotate(-45)" font-size="8.4" text-anchor="end">M5</text>
<line x1="496.70" y1="466.10" x2="496.70" y2="468.30" stroke="#000" stroke-width="0.9"/>
<text transform="translate(498.30,475.20) rotate(-45)" font-size="8.4" text-anchor="end">M6</text>
<line x1="506.07" y1="466.10" x2="506.07" y2="468.30" stroke="#000" stroke-width="0.9"/>
<text transform="translate(507.67,475.20) rotate(-45)" font-size="8.4" text-anchor="end">M7</text>
<text transform="translate(362.60,462.20) rotate(-90)" font-size="10.4" textLength="58.9" lengthAdjust="spacingAndGlyphs" fill="#1a1a1a">Relative <tspan font-style="italic">ELANE</tspan></text>
<text transform="translate(371.60,458.80) rotate(-90)" font-size="10.2" textLength="53.0" lengthAdjust="spacingAndGlyphs">RNA expression</text>
<text x="401.45" y="498.60" font-size="10.2" textLength="91.8" lengthAdjust="spacingAndGlyphs">Cell type / AML FAB subtype</text>
<defs><linearGradient id="zf" x1="0" x2="0" y1="0" y2="1"><stop offset="0" stop-color="#52ec2a"/><stop offset="0.25" stop-color="#6cf048"/><stop offset="0.42" stop-color="#f2ffd8"/><stop offset="0.62" stop-color="#f2ffd8"/><stop offset="0.8" stop-color="#5aee34"/><stop offset="1" stop-color="#44e61a"/></linearGradient></defs>
<text x="95.30" y="526.50" font-size="8.7" textLength="103.0" lengthAdjust="spacingAndGlyphs">Emberger &amp; MonoMAC</text>
<line x1="95.50" y1="527.70" x2="95.50" y2="545.40" stroke="#000" stroke-width="0.9"/>
<line x1="93.30" y1="527.70" x2="95.50" y2="527.70" stroke="#000" stroke-width="0.9"/>
<line x1="93.30" y1="545.40" x2="95.50" y2="545.40" stroke="#000" stroke-width="0.9"/>
<line x1="94.30" y1="533.60" x2="95.50" y2="533.60" stroke="#000" stroke-width="0.8"/>
<line x1="94.30" y1="539.50" x2="95.50" y2="539.50" stroke="#000" stroke-width="0.8"/>
<text x="91.80" y="530.30" font-size="7.6" text-anchor="end">15</text>
<text x="91.80" y="548.30" font-size="7.6" text-anchor="end">0</text>
<line x1="99.20" y1="543.20" x2="99.20" y2="549.00" stroke="#111" stroke-width="0.8"/>
<line x1="147.20" y1="542.00" x2="147.20" y2="549.00" stroke="#111" stroke-width="0.8"/>
<line x1="149.20" y1="544.30" x2="149.20" y2="549.00" stroke="#111" stroke-width="0.8"/>
<line x1="151.80" y1="544.30" x2="151.80" y2="549.00" stroke="#111" stroke-width="0.8"/>
<line x1="161.50" y1="544.30" x2="161.50" y2="549.00" stroke="#111" stroke-width="0.8"/>
<line x1="164.30" y1="539.40" x2="164.30" y2="549.00" stroke="#111" stroke-width="0.8"/>
<line x1="164.90" y1="543.20" x2="164.90" y2="549.00" stroke="#111" stroke-width="0.8"/>
<line x1="186.20" y1="544.30" x2="186.20" y2="549.00" stroke="#111" stroke-width="0.8"/>
<line x1="219.50" y1="544.30" x2="219.50" y2="549.00" stroke="#111" stroke-width="0.8"/>
<line x1="220.00" y1="544.30" x2="220.00" y2="549.00" stroke="#111" stroke-width="0.8"/>
<line x1="223.50" y1="540.90" x2="223.50" y2="549.00" stroke="#111" stroke-width="0.8"/>
<line x1="224.20" y1="543.10" x2="224.20" y2="549.00" stroke="#111" stroke-width="0.8"/>
<line x1="226.50" y1="544.30" x2="226.50" y2="549.00" stroke="#111" stroke-width="0.8"/>
<line x1="238.90" y1="544.30" x2="238.90" y2="549.00" stroke="#111" stroke-width="0.8"/>
<line x1="252.30" y1="544.30" x2="252.30" y2="549.00" stroke="#111" stroke-width="0.8"/>
<line x1="258.00" y1="544.30" x2="258.00" y2="549.00" stroke="#111" stroke-width="0.8"/>
<line x1="261.10" y1="544.30" x2="261.10" y2="549.00" stroke="#111" stroke-width="0.8"/>
<line x1="297.50" y1="544.60" x2="297.50" y2="549.00" stroke="#111" stroke-width="0.8"/>
<line x1="305.20" y1="538.60" x2="305.20" y2="549.00" stroke="#111" stroke-width="0.8"/>
<line x1="306.70" y1="544.60" x2="306.70" y2="549.00" stroke="#111" stroke-width="0.8"/>
<line x1="309.80" y1="543.50" x2="309.80" y2="549.00" stroke="#111" stroke-width="0.8"/>
<line x1="311.90" y1="542.30" x2="311.90" y2="549.00" stroke="#111" stroke-width="0.8"/>
<line x1="320.20" y1="529.40" x2="320.20" y2="549.00" stroke="#111" stroke-width="0.8"/>
<line x1="324.80" y1="541.20" x2="324.80" y2="549.00" stroke="#111" stroke-width="0.8"/>
<line x1="328.70" y1="543.50" x2="328.70" y2="549.00" stroke="#111" stroke-width="0.8"/>
<line x1="332.50" y1="540.30" x2="332.50" y2="549.00" stroke="#111" stroke-width="0.8"/>
<line x1="331.00" y1="544.60" x2="331.00" y2="549.00" stroke="#111" stroke-width="0.8"/>
<line x1="341.90" y1="539.80" x2="341.90" y2="549.00" stroke="#111" stroke-width="0.8"/>
<line x1="343.10" y1="544.60" x2="343.10" y2="549.00" stroke="#111" stroke-width="0.8"/>
<line x1="347.00" y1="529.20" x2="347.00" y2="549.00" stroke="#111" stroke-width="0.8"/>
<line x1="348.30" y1="528.30" x2="348.30" y2="549.00" stroke="#111" stroke-width="0.8"/>
<rect x="98.20" y="548.80" width="301.30" height="4.00" fill="#000"/>
<rect x="283.70" y="547.15" width="30.70" height="7.30" fill="url(#zf)"/>
<text x="292.00" y="553.55" font-size="7.6" font-weight="bold" textLength="15.8" lengthAdjust="spacingAndGlyphs" fill="#000">ZF1</text>
<rect x="317.20" y="547.15" width="20.80" height="7.30" fill="url(#zf)"/>
<text x="318.80" y="553.55" font-size="7.6" font-weight="bold" textLength="18.8" lengthAdjust="spacingAndGlyphs" fill="#000">ZF2</text>
<rect x="315.20" y="550.20" width="1.20" height="1.20" fill="#5aee34"/>
<circle cx="99.20" cy="543.20" r="1.55" fill="#ffffff" stroke="#222" stroke-width="0.55"/>
<circle cx="147.20" cy="542.00" r="1.55" fill="#d40f14" stroke="#222" stroke-width="0.55"/>
<circle cx="149.20" cy="544.30" r="1.55" fill="#d40f14" stroke="#222" stroke-width="0.55"/>
<circle cx="151.80" cy="544.30" r="1.55" fill="#d40f14" stroke="#222" stroke-width="0.55"/>
<circle cx="161.50" cy="544.30" r="1.55" fill="#d40f14" stroke="#222" stroke-width="0.55"/>
<circle cx="164.30" cy="539.40" r="1.55" fill="#d40f14" stroke="#222" stroke-width="0.55"/>
<circle cx="164.90" cy="543.20" r="1.55" fill="#d40f14" stroke="#222" stroke-width="0.55"/>
<circle cx="186.20" cy="544.30" r="1.55" fill="#d40f14" stroke="#222" stroke-width="0.55"/>
<circle cx="219.50" cy="544.30" r="1.55" fill="#d40f14" stroke="#222" stroke-width="0.55"/>
<circle cx="220.00" cy="544.30" r="1.55" fill="#d40f14" stroke="#222" stroke-width="0.55"/>
<circle cx="223.50" cy="540.90" r="1.55" fill="#d40f14" stroke="#222" stroke-width="0.55"/>
<circle cx="224.20" cy="543.10" r="1.55" fill="#d40f14" stroke="#222" stroke-width="0.55"/>
<circle cx="226.50" cy="544.30" r="1.55" fill="#d40f14" stroke="#222" stroke-width="0.55"/>
<circle cx="238.90" cy="544.30" r="1.55" fill="#d40f14" stroke="#222" stroke-width="0.55"/>
<circle cx="252.30" cy="544.30" r="1.55" fill="#d40f14" stroke="#222" stroke-width="0.55"/>
<circle cx="258.00" cy="544.30" r="1.55" fill="#1532c8" stroke="#222" stroke-width="0.55"/>
<circle cx="261.10" cy="544.30" r="1.55" fill="#d40f14" stroke="#222" stroke-width="0.55"/>
<circle cx="297.50" cy="544.60" r="1.55" fill="#d40f14" stroke="#222" stroke-width="0.55"/>
<circle cx="305.20" cy="538.60" r="1.55" fill="#d40f14" stroke="#222" stroke-width="0.55"/>
<circle cx="306.70" cy="544.60" r="1.55" fill="#d40f14" stroke="#222" stroke-width="0.55"/>
<circle cx="309.80" cy="543.50" r="1.55" fill="#d40f14" stroke="#222" stroke-width="0.55"/>
<circle cx="311.90" cy="542.30" r="1.55" fill="#3ee61e" stroke="#222" stroke-width="0.55"/>
<circle cx="320.20" cy="529.40" r="1.55" fill="#1532c8" stroke="#222" stroke-width="0.55"/>
<circle cx="324.80" cy="541.20" r="1.55" fill="#1532c8" stroke="#222" stroke-width="0.55"/>
<circle cx="328.70" cy="543.50" r="1.55" fill="#d40f14" stroke="#222" stroke-width="0.55"/>
<circle cx="332.50" cy="540.30" r="1.55" fill="#3ee61e" stroke="#222" stroke-width="0.55"/>
<circle cx="331.00" cy="544.60" r="1.55" fill="#1532c8" stroke="#222" stroke-width="0.55"/>
<circle cx="341.90" cy="539.80" r="1.55" fill="#1532c8" stroke="#222" stroke-width="0.55"/>
<circle cx="343.10" cy="544.60" r="1.55" fill="#3ee61e" stroke="#222" stroke-width="0.55"/>
<circle cx="347.00" cy="529.20" r="1.55" fill="#1532c8" stroke="#222" stroke-width="0.55"/>
<circle cx="348.30" cy="528.30" r="1.55" fill="#1532c8" stroke="#222" stroke-width="0.55"/>
<text x="314.00" y="531.90" font-size="7.0" text-anchor="end" textLength="22.8" lengthAdjust="spacingAndGlyphs">T354M</text>
<line x1="315.50" y1="529.40" x2="318.30" y2="529.40" stroke="#222" stroke-width="0.8"/>
<text x="299.30" y="541.10" font-size="7.0" text-anchor="end" textLength="21.5" lengthAdjust="spacingAndGlyphs">R330X</text>
<line x1="300.30" y1="538.60" x2="303.30" y2="538.60" stroke="#222" stroke-width="0.8"/>
<line x1="350.00" y1="528.40" x2="352.60" y2="528.40" stroke="#222" stroke-width="0.8"/>
<text x="353.40" y="531.00" font-size="7.0" textLength="31.6" lengthAdjust="spacingAndGlyphs">R398W/Q</text>
<line x1="349.00" y1="531.80" x2="352.00" y2="534.80" stroke="#222" stroke-width="0.8"/>
<text x="353.00" y="539.70" font-size="7.0" textLength="31.0" lengthAdjust="spacingAndGlyphs">R396Q/W</text>
<text x="100.00" y="566.90" font-size="8.9" textLength="18.6" lengthAdjust="spacingAndGlyphs">AML</text>
<line x1="95.50" y1="567.30" x2="95.50" y2="584.80" stroke="#000" stroke-width="0.9"/>
<line x1="93.30" y1="567.30" x2="95.50" y2="567.30" stroke="#000" stroke-width="0.9"/>
<line x1="93.30" y1="584.80" x2="95.50" y2="584.80" stroke="#000" stroke-width="0.9"/>
<line x1="94.30" y1="571.40" x2="95.50" y2="571.40" stroke="#000" stroke-width="0.8"/>
<line x1="94.30" y1="575.80" x2="95.50" y2="575.80" stroke="#000" stroke-width="0.8"/>
<line x1="94.30" y1="580.20" x2="95.50" y2="580.20" stroke="#000" stroke-width="0.8"/>
<text x="91.80" y="569.90" font-size="7.6" text-anchor="end">38</text>
<text x="91.80" y="587.70" font-size="7.6" text-anchor="end">0</text>
<line x1="162.00" y1="584.20" x2="162.00" y2="588.10" stroke="#111" stroke-width="0.8"/>
<line x1="224.80" y1="584.20" x2="224.80" y2="588.10" stroke="#111" stroke-width="0.8"/>
<line x1="266.50" y1="584.40" x2="266.50" y2="588.10" stroke="#111" stroke-width="0.8"/>
<line x1="282.50" y1="583.70" x2="282.50" y2="588.10" stroke="#111" stroke-width="0.8"/>
<line x1="284.80" y1="583.20" x2="284.80" y2="588.10" stroke="#111" stroke-width="0.8"/>
<line x1="289.40" y1="583.70" x2="289.40" y2="588.10" stroke="#111" stroke-width="0.8"/>
<line x1="290.60" y1="582.50" x2="290.60" y2="588.10" stroke="#111" stroke-width="0.8"/>
<line x1="291.20" y1="584.30" x2="291.20" y2="588.10" stroke="#111" stroke-width="0.8"/>
<line x1="297.50" y1="581.10" x2="297.50" y2="588.10" stroke="#111" stroke-width="0.8"/>
<line x1="299.50" y1="577.10" x2="299.50" y2="588.10" stroke="#111" stroke-width="0.8"/>
<line x1="299.80" y1="571.50" x2="299.80" y2="588.10" stroke="#111" stroke-width="0.8"/>
<line x1="298.10" y1="567.50" x2="298.10" y2="588.10" stroke="#111" stroke-width="0.8"/>
<line x1="301.50" y1="584.00" x2="301.50" y2="588.10" stroke="#111" stroke-width="0.8"/>
<line x1="304.40" y1="584.00" x2="304.40" y2="588.10" stroke="#111" stroke-width="0.8"/>
<line x1="305.60" y1="579.00" x2="305.60" y2="588.10" stroke="#111" stroke-width="0.8"/>
<line x1="309.60" y1="584.00" x2="309.60" y2="588.10" stroke="#111" stroke-width="0.8"/>
<line x1="320.60" y1="583.00" x2="320.60" y2="588.10" stroke="#111" stroke-width="0.8"/>
<line x1="321.20" y1="584.50" x2="321.20" y2="588.10" stroke="#111" stroke-width="0.8"/>
<line x1="323.50" y1="583.70" x2="323.50" y2="588.10" stroke="#111" stroke-width="0.8"/>
<line x1="325.40" y1="573.80" x2="325.40" y2="588.10" stroke="#111" stroke-width="0.8"/>
<line x1="328.10" y1="584.50" x2="328.10" y2="588.10" stroke="#111" stroke-width="0.8"/>
<line x1="331.80" y1="580.80" x2="331.80" y2="588.10" stroke="#111" stroke-width="0.8"/>
<line x1="336.00" y1="584.00" x2="336.00" y2="588.10" stroke="#111" stroke-width="0.8"/>
<line x1="339.80" y1="583.50" x2="339.80" y2="588.10" stroke="#111" stroke-width="0.8"/>
<line x1="347.60" y1="583.00" x2="347.60" y2="588.10" stroke="#111" stroke-width="0.8"/>
<line x1="348.70" y1="582.00" x2="348.70" y2="588.10" stroke="#111" stroke-width="0.8"/>
<line x1="367.30" y1="584.00" x2="367.30" y2="588.10" stroke="#111" stroke-width="0.8"/>
<line x1="390.00" y1="584.00" x2="390.00" y2="588.10" stroke="#111" stroke-width="0.8"/>
<line x1="395.20" y1="584.00" x2="395.20" y2="588.10" stroke="#111" stroke-width="0.8"/>
<rect x="98.20" y="587.90" width="301.30" height="4.20" fill="#000"/>
<rect x="283.70" y="586.35" width="30.70" height="7.30" fill="url(#zf)"/>
<text x="292.00" y="592.75" font-size="7.6" font-weight="bold" textLength="15.8" lengthAdjust="spacingAndGlyphs" fill="#000">ZF1</text>
<rect x="317.20" y="586.35" width="20.80" height="7.30" fill="url(#zf)"/>
<text x="318.80" y="592.75" font-size="7.6" font-weight="bold" textLength="18.8" lengthAdjust="spacingAndGlyphs" fill="#000">ZF2</text>
<rect x="315.20" y="589.40" width="1.20" height="1.20" fill="#5aee34"/>
<circle cx="162.00" cy="584.20" r="1.55" fill="#d40f14" stroke="#222" stroke-width="0.55"/>
<circle cx="224.80" cy="584.20" r="1.55" fill="#d40f14" stroke="#222" stroke-width="0.55"/>
<circle cx="266.50" cy="584.40" r="1.55" fill="#d40f14" stroke="#222" stroke-width="0.55"/>
<circle cx="282.50" cy="583.70" r="1.55" fill="#1532c8" stroke="#222" stroke-width="0.55"/>
<circle cx="284.80" cy="583.20" r="1.55" fill="#1532c8" stroke="#222" stroke-width="0.55"/>
<circle cx="289.40" cy="583.70" r="1.55" fill="#1532c8" stroke="#222" stroke-width="0.55"/>
<circle cx="290.60" cy="582.50" r="1.55" fill="#1532c8" stroke="#222" stroke-width="0.55"/>
<circle cx="291.20" cy="584.30" r="1.55" fill="#1532c8" stroke="#222" stroke-width="0.55"/>
<circle cx="297.50" cy="581.10" r="1.55" fill="#1532c8" stroke="#222" stroke-width="0.55"/>
<circle cx="299.50" cy="577.10" r="1.55" fill="#1532c8" stroke="#222" stroke-width="0.55"/>
<circle cx="299.80" cy="571.50" r="1.55" fill="#1532c8" stroke="#222" stroke-width="0.55"/>
<circle cx="298.10" cy="567.50" r="1.55" fill="#1532c8" stroke="#222" stroke-width="0.55"/>
<circle cx="301.50" cy="584.00" r="1.55" fill="#1532c8" stroke="#222" stroke-width="0.55"/>
<circle cx="304.40" cy="584.00" r="1.55" fill="#1532c8" stroke="#222" stroke-width="0.55"/>
<circle cx="305.60" cy="579.00" r="1.55" fill="#1532c8" stroke="#222" stroke-width="0.55"/>
<circle cx="309.60" cy="584.00" r="1.55" fill="#d40f14" stroke="#222" stroke-width="0.55"/>
<circle cx="320.60" cy="583.00" r="1.55" fill="#1532c8" stroke="#222" stroke-width="0.55"/>
<circle cx="321.20" cy="584.50" r="1.55" fill="#1532c8" stroke="#222" stroke-width="0.55"/>
<circle cx="323.50" cy="583.70" r="1.55" fill="#1532c8" stroke="#222" stroke-width="0.55"/>
<circle cx="325.40" cy="573.80" r="1.55" fill="#1532c8" stroke="#222" stroke-width="0.55"/>
<circle cx="328.10" cy="584.50" r="1.55" fill="#1532c8" stroke="#222" stroke-width="0.55"/>
<circle cx="331.80" cy="580.80" r="1.55" fill="#1532c8" stroke="#222" stroke-width="0.55"/>
<circle cx="336.00" cy="584.00" r="1.55" fill="#1532c8" stroke="#222" stroke-width="0.55"/>
<circle cx="339.80" cy="583.50" r="1.55" fill="#1532c8" stroke="#222" stroke-width="0.55"/>
<circle cx="347.60" cy="583.00" r="1.55" fill="#1532c8" stroke="#222" stroke-width="0.55"/>
<circle cx="348.70" cy="582.00" r="1.55" fill="#1532c8" stroke="#222" stroke-width="0.55"/>
<circle cx="367.30" cy="584.00" r="1.55" fill="#d40f14" stroke="#222" stroke-width="0.55"/>
<circle cx="390.00" cy="584.00" r="1.55" fill="#1532c8" stroke="#222" stroke-width="0.55"/>
<circle cx="395.20" cy="584.00" r="1.55" fill="#1532c8" stroke="#222" stroke-width="0.55"/>
<text x="288.40" y="565.30" font-size="7.0" text-anchor="end" textLength="57.2" lengthAdjust="spacingAndGlyphs">A318V/T/G/D/ins</text>
<line x1="291.60" y1="564.50" x2="295.20" y2="567.00" stroke="#222" stroke-width="0.8"/>
<text x="285.80" y="577.10" font-size="7.0" text-anchor="end" textLength="50.0" lengthAdjust="spacingAndGlyphs">L321F/H/P/V/R</text>
<line x1="288.50" y1="574.60" x2="296.50" y2="574.60" stroke="#222" stroke-width="0.8"/>
<text x="305.30" y="567.70" font-size="7.0" textLength="29.6" lengthAdjust="spacingAndGlyphs">R330Q/L</text>
<line x1="308.50" y1="571.50" x2="306.80" y2="576.60" stroke="#222" stroke-width="0.8"/>
<line x1="327.20" y1="573.80" x2="329.80" y2="575.60" stroke="#222" stroke-width="0.8"/>
<text x="330.70" y="578.70" font-size="7.0" textLength="31.6" lengthAdjust="spacingAndGlyphs">R362Q/G</text>
<text x="101.00" y="602.60" font-size="8.9" textLength="17.2" lengthAdjust="spacingAndGlyphs">APL</text>
<line x1="95.50" y1="602.60" x2="95.50" y2="616.40" stroke="#000" stroke-width="0.9"/>
<line x1="93.30" y1="602.60" x2="95.50" y2="602.60" stroke="#000" stroke-width="0.9"/>
<line x1="93.30" y1="616.40" x2="95.50" y2="616.40" stroke="#000" stroke-width="0.9"/>
<line x1="94.30" y1="609.50" x2="95.50" y2="609.50" stroke="#000" stroke-width="0.8"/>
<text x="91.80" y="605.20" font-size="7.6" text-anchor="end">2</text>
<text x="91.80" y="619.30" font-size="7.6" text-anchor="end">0</text>
<line x1="179.50" y1="609.90" x2="179.50" y2="620.10" stroke="#111" stroke-width="0.8"/>
<line x1="325.70" y1="609.90" x2="325.70" y2="620.10" stroke="#111" stroke-width="0.8"/>
<line x1="333.80" y1="609.90" x2="333.80" y2="620.10" stroke="#111" stroke-width="0.8"/>
<rect x="98.20" y="619.90" width="301.30" height="4.00" fill="#000"/>
<rect x="283.70" y="618.25" width="30.70" height="7.30" fill="url(#zf)"/>
<text x="292.00" y="624.65" font-size="7.6" font-weight="bold" textLength="15.8" lengthAdjust="spacingAndGlyphs" fill="#000">ZF1</text>
<rect x="317.20" y="618.25" width="20.80" height="7.30" fill="url(#zf)"/>
<text x="318.80" y="624.65" font-size="7.6" font-weight="bold" textLength="18.8" lengthAdjust="spacingAndGlyphs" fill="#000">ZF2</text>
<rect x="315.20" y="621.30" width="1.20" height="1.20" fill="#5aee34"/>
<circle cx="179.50" cy="609.90" r="1.55" fill="#d40f14" stroke="#222" stroke-width="0.55"/>
<circle cx="325.70" cy="609.90" r="1.55" fill="#1532c8" stroke="#222" stroke-width="0.55"/>
<circle cx="333.80" cy="609.90" r="1.55" fill="#1532c8" stroke="#222" stroke-width="0.55"/>
<line x1="183.30" y1="609.90" x2="185.30" y2="609.90" stroke="#222" stroke-width="0.8"/>
<text x="187.50" y="612.40" font-size="7.0" textLength="21.8" lengthAdjust="spacingAndGlyphs">S129X</text>
<text x="317.20" y="612.40" font-size="7.0" text-anchor="end" textLength="22.2" lengthAdjust="spacingAndGlyphs">R362G</text>
<line x1="320.60" y1="609.90" x2="323.00" y2="609.90" stroke="#222" stroke-width="0.8"/>
<line x1="336.30" y1="609.90" x2="338.80" y2="609.90" stroke="#222" stroke-width="0.8"/>
<text x="340.60" y="612.40" font-size="7.0" textLength="16.6" lengthAdjust="spacingAndGlyphs">L375I</text>
<text x="97.80" y="636.30" font-size="9.1" textLength="147.8" lengthAdjust="spacingAndGlyphs">Mouse APL &amp; CRISPR guide RNAs</text>
<text x="111.60" y="647.00" font-size="9.1" textLength="80.0" lengthAdjust="spacingAndGlyphs">Exon 2 guide RNA</text>
<text x="281.60" y="638.00" font-size="9.6" textLength="67.2" lengthAdjust="spacingAndGlyphs">ZF1 guide RNA</text>
<line x1="95.50" y1="639.30" x2="95.50" y2="653.40" stroke="#000" stroke-width="0.9"/>
<line x1="93.30" y1="639.30" x2="95.50" y2="639.30" stroke="#000" stroke-width="0.9"/>
<line x1="93.30" y1="653.40" x2="95.50" y2="653.40" stroke="#000" stroke-width="0.9"/>
<line x1="94.30" y1="646.40" x2="95.50" y2="646.40" stroke="#000" stroke-width="0.8"/>
<text x="91.80" y="641.90" font-size="7.6" text-anchor="end">2</text>
<text x="91.80" y="656.30" font-size="7.6" text-anchor="end">0</text>
<line x1="108.00" y1="646.60" x2="108.00" y2="655.80" stroke="#333" stroke-width="0.9" stroke-dasharray="1.1,1"/>
<line x1="310.40" y1="639.40" x2="310.40" y2="655.80" stroke="#333" stroke-width="0.9" stroke-dasharray="1.1,1"/>
<line x1="305.70" y1="646.20" x2="305.70" y2="656.40" stroke="#111" stroke-width="0.8"/>
<line x1="326.50" y1="646.20" x2="326.50" y2="656.40" stroke="#111" stroke-width="0.8"/>
<rect x="98.20" y="656.20" width="301.30" height="4.00" fill="#000"/>
<rect x="283.70" y="654.55" width="30.70" height="7.30" fill="url(#zf)"/>
<text x="292.00" y="660.95" font-size="7.6" font-weight="bold" textLength="15.8" lengthAdjust="spacingAndGlyphs" fill="#000">ZF1</text>
<rect x="317.20" y="654.55" width="20.80" height="7.30" fill="url(#zf)"/>
<text x="318.80" y="660.95" font-size="7.6" font-weight="bold" textLength="18.8" lengthAdjust="spacingAndGlyphs" fill="#000">ZF2</text>
<rect x="315.20" y="657.60" width="1.20" height="1.20" fill="#5aee34"/>
<circle cx="305.70" cy="646.20" r="1.55" fill="#1532c8" stroke="#222" stroke-width="0.55"/>
<circle cx="326.50" cy="646.20" r="1.55" fill="#d40f14" stroke="#222" stroke-width="0.55"/>
<text x="298.50" y="648.70" font-size="7.0" text-anchor="end" textLength="21.6" lengthAdjust="spacingAndGlyphs">R330L</text>
<line x1="299.40" y1="646.20" x2="302.60" y2="646.20" stroke="#222" stroke-width="0.8"/>
<line x1="329.00" y1="646.20" x2="333.60" y2="647.60" stroke="#222" stroke-width="0.8"/>
<text x="334.40" y="650.40" font-size="7.0" textLength="24.8" lengthAdjust="spacingAndGlyphs">N363fs</text>
<line x1="98.30" y1="663.50" x2="399.50" y2="663.50" stroke="#000" stroke-width="0.9"/>
<line x1="98.30" y1="663.50" x2="98.30" y2="665.60" stroke="#000" stroke-width="0.8"/>
<line x1="129.66" y1="663.50" x2="129.66" y2="664.90" stroke="#000" stroke-width="0.8"/>
<line x1="161.02" y1="663.50" x2="161.02" y2="665.60" stroke="#000" stroke-width="0.8"/>
<line x1="192.38" y1="663.50" x2="192.38" y2="664.90" stroke="#000" stroke-width="0.8"/>
<line x1="223.74" y1="663.50" x2="223.74" y2="665.60" stroke="#000" stroke-width="0.8"/>
<line x1="255.10" y1="663.50" x2="255.10" y2="664.90" stroke="#000" stroke-width="0.8"/>
<line x1="286.46" y1="663.50" x2="286.46" y2="665.60" stroke="#000" stroke-width="0.8"/>
<line x1="317.82" y1="663.50" x2="317.82" y2="664.90" stroke="#000" stroke-width="0.8"/>
<line x1="349.18" y1="663.50" x2="349.18" y2="665.60" stroke="#000" stroke-width="0.8"/>
<line x1="380.54" y1="663.50" x2="380.54" y2="664.90" stroke="#000" stroke-width="0.8"/>
<text x="98.30" y="673.30" font-size="7.6" text-anchor="middle">0</text>
<text x="161.02" y="673.30" font-size="7.6" text-anchor="middle">100</text>
<text x="223.74" y="673.30" font-size="7.6" text-anchor="middle">200</text>
<text x="286.46" y="673.30" font-size="7.6" text-anchor="middle">300</text>
<text x="349.18" y="673.30" font-size="7.6" text-anchor="middle">400</text>
<text x="399.36" y="673.30" font-size="7.6" text-anchor="middle">480</text>
<text x="213.6" y="684.4" font-size="9.2" fill="#1a1a1a"><tspan font-style="italic" textLength="23.6" lengthAdjust="spacingAndGlyphs">GATA2</tspan><tspan font-size="7.6" dx="2" textLength="60.2" lengthAdjust="spacingAndGlyphs">residue position</tspan></text>
<text transform="translate(72.1,586.0) rotate(-90)" font-size="8.6" text-anchor="middle" textLength="96.4" lengthAdjust="spacingAndGlyphs" fill="#1a1a1a">Number of <tspan font-style="italic">GATA2</tspan> Mutations</text>
<circle cx="423.3" cy="530.2" r="2.9" fill="#d40f14" stroke="#222" stroke-width="0.8"/>
<text x="429.30" y="533.10" font-size="8.2" textLength="34.6" lengthAdjust="spacingAndGlyphs">Truncating</text>
<circle cx="423.3" cy="542.5" r="2.9" fill="#1532c8" stroke="#222" stroke-width="0.8"/>
<text x="429.30" y="545.40" font-size="8.2" textLength="30.7" lengthAdjust="spacingAndGlyphs">Missense</text>
<circle cx="423.3" cy="554.1" r="2.9" fill="#3ee61e" stroke="#222" stroke-width="0.8"/>
<text x="429.30" y="557.00" font-size="8.2" textLength="28.0" lengthAdjust="spacingAndGlyphs">In-frame</text>
<rect x="0.6" y="0.75" width="518.6" height="693.5" fill="none" stroke="#000" stroke-width="1.5"/>
</svg>
</body></html>
